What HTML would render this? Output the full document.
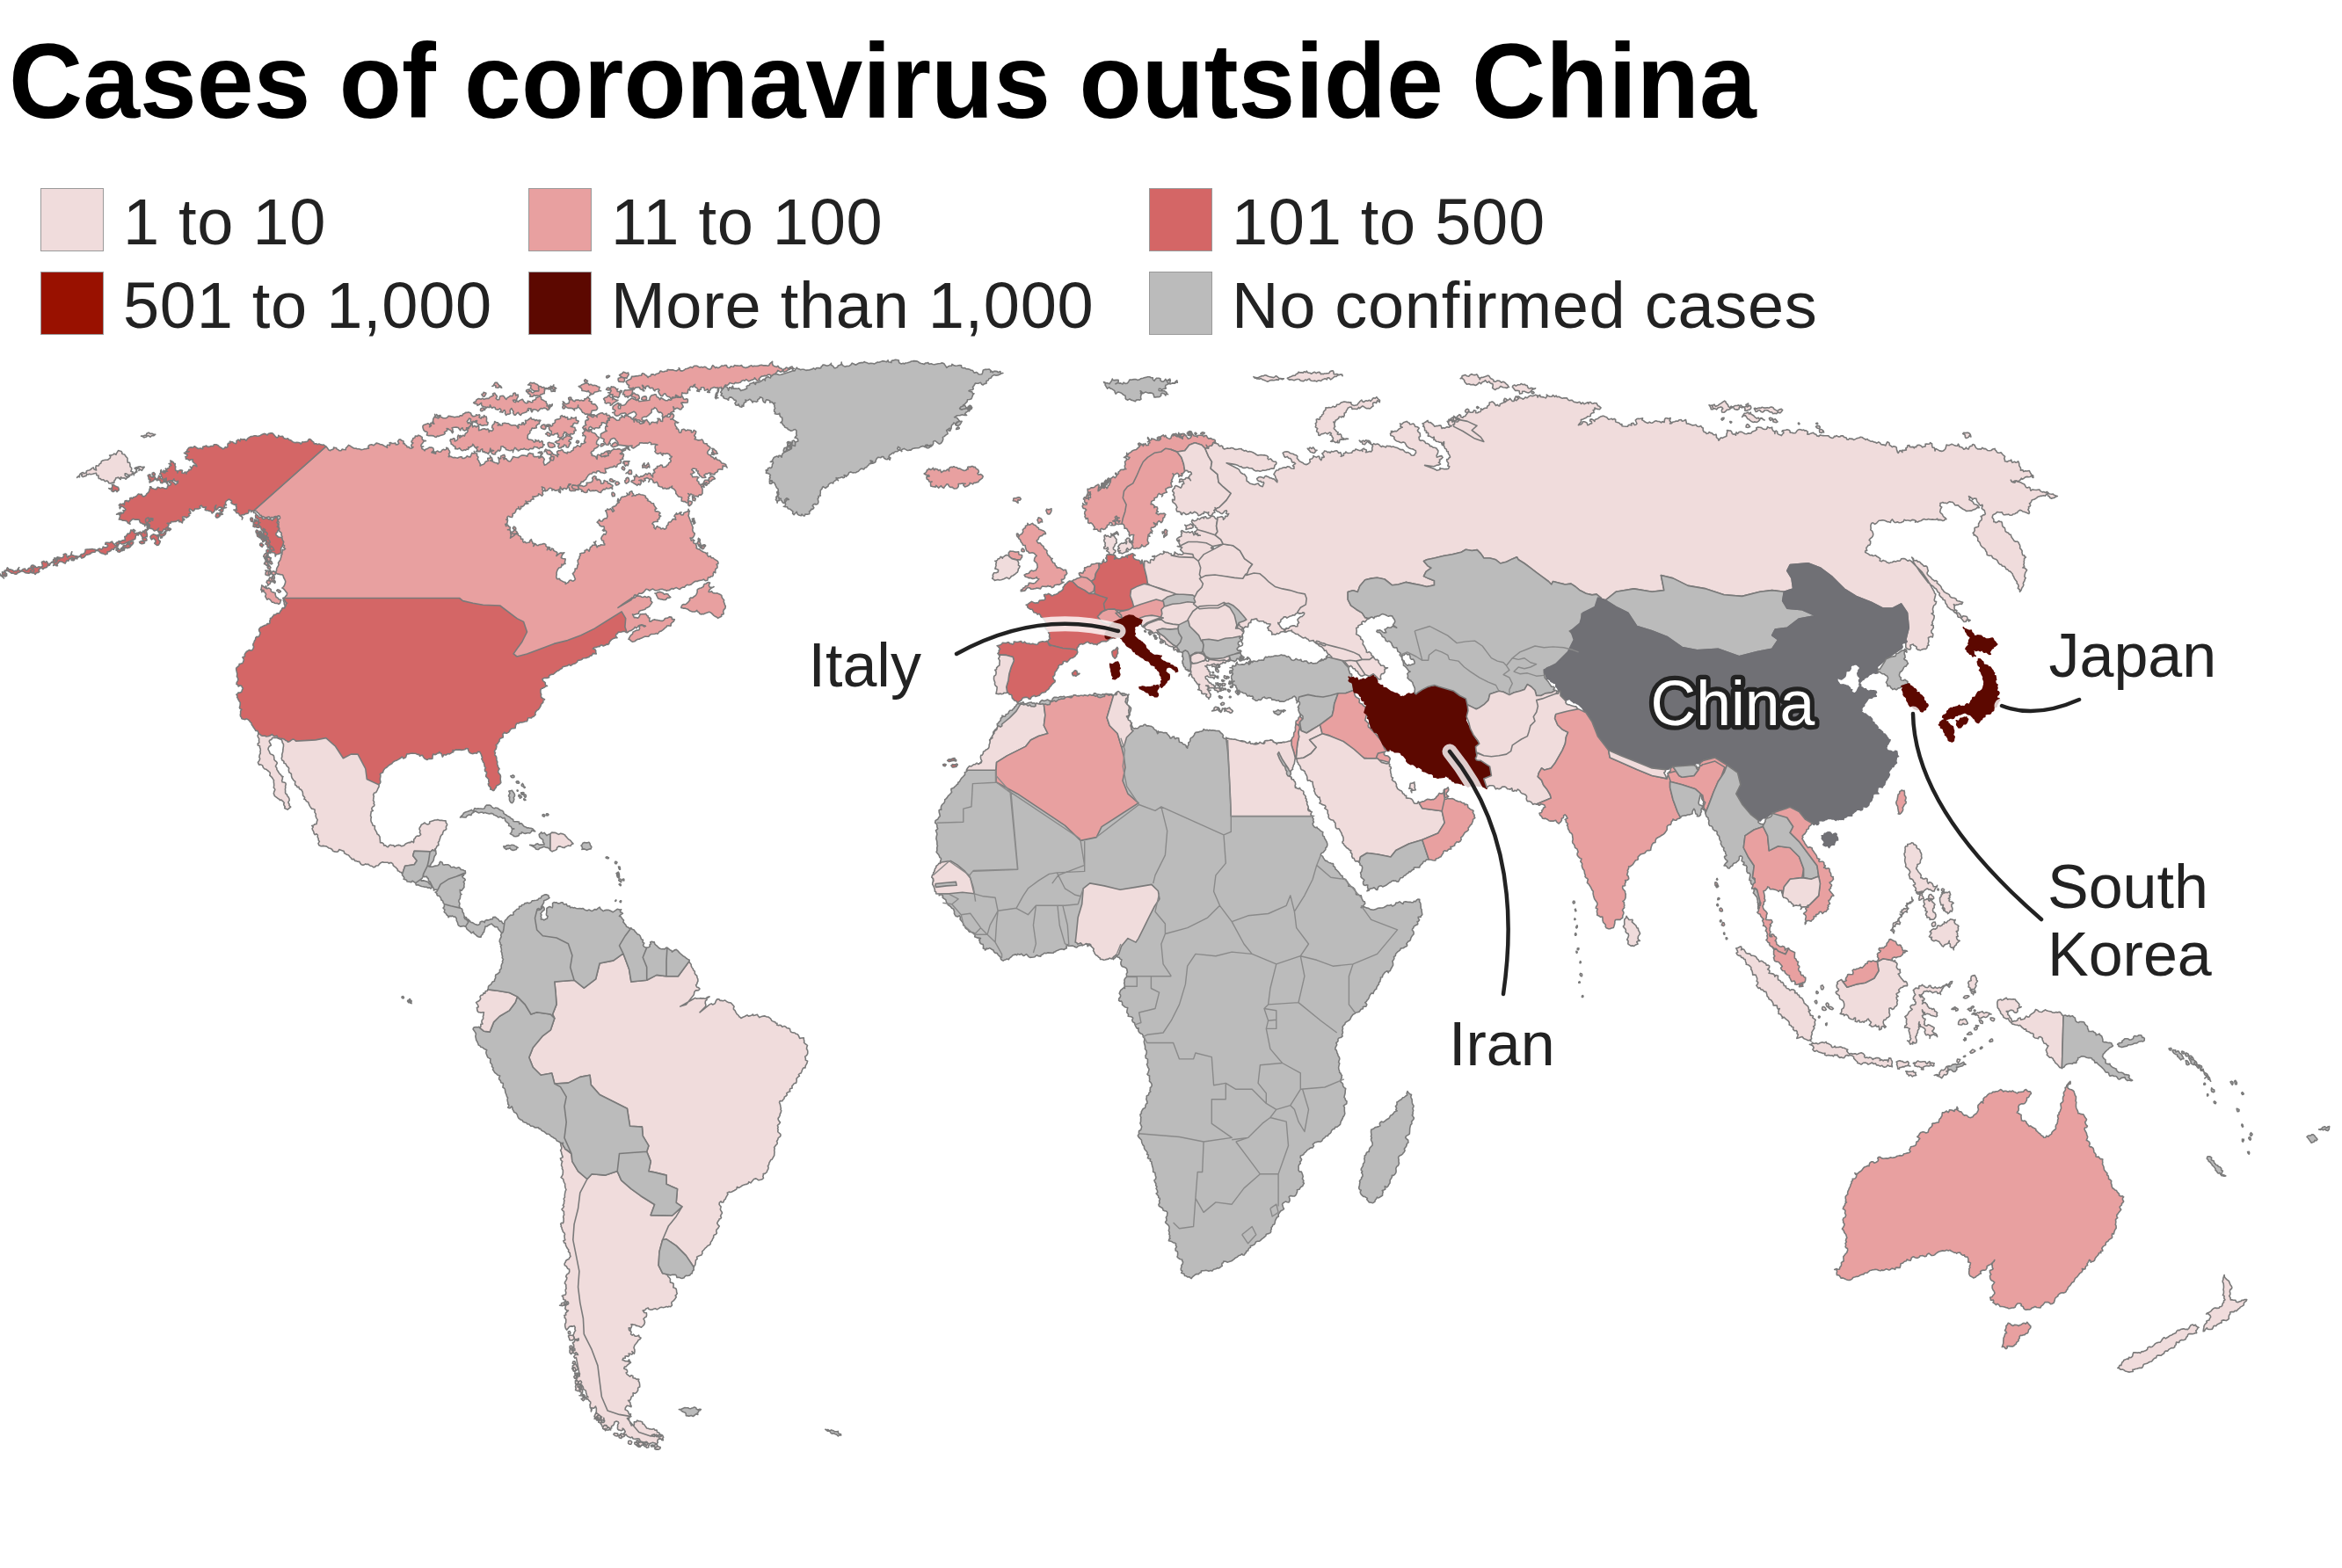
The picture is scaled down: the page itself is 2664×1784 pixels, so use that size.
<!DOCTYPE html>
<html lang="en">
<head>
<meta charset="utf-8">
<title>Cases of coronavirus outside China</title>
<style>
html,body{margin:0;padding:0;background:#fff;}
body{width:2664px;height:1784px;position:relative;overflow:hidden;font-family:"Liberation Sans",Arial,Helvetica,sans-serif;color:#222;}
h1{position:absolute;left:10.2px;top:23px;transform:scaleX(.971);transform-origin:0 0;margin:0;font-size:120px;line-height:138px;font-weight:bold;color:#000;white-space:nowrap;letter-spacing:0;}
.lg{position:absolute;height:72px;line-height:72px;font-size:74px;letter-spacing:.7px;white-space:nowrap;color:#222;}
.lg i{position:absolute;left:0;top:0;width:70px;height:70px;border:1px solid #9a9a9a;display:block;}
.lg span{position:absolute;left:94px;top:3px;}
svg{position:absolute;left:0;top:0;}
svg path{stroke:#7a7a7a;stroke-width:1.6;stroke-linejoin:round;}
.c1{fill:#f0dcdc}.c2{fill:#e8a0a0}.c3{fill:#d46666}.c4{fill:#991100}.c5{fill:#5c0800;stroke:#5c0800 !important}.g{fill:#bbbbbb}.ch{fill:#707075;stroke:#707075 !important}.w{fill:#fff}
.ch+.w{stroke:#707075}
svg path.bd{fill:none;stroke:#8a8a8a;stroke-width:1.4}
svg path.ld{fill:none;stroke:#222;stroke-width:4.5;stroke-linecap:round}
svg path.ldw{fill:none;stroke:#fff;stroke-opacity:.8;stroke-width:17;stroke-linecap:round}
svg text{font-family:"Liberation Sans",Arial,Helvetica,sans-serif;font-size:70px;fill:#222;}
svg text.cn{fill:#fff;stroke:#222;stroke-width:10.5px;paint-order:stroke fill;stroke-linejoin:round;}
</style>
</head>
<body>
<h1>Cases of coronavirus outside China</h1>
<div class="lg" style="left:46px;top:214px"><i style="background:#f0dcdc"></i><span>1 to 10</span></div>
<div class="lg" style="left:601px;top:214px"><i style="background:#e8a0a0"></i><span>11 to 100</span></div>
<div class="lg" style="left:1307px;top:214px"><i style="background:#d46666"></i><span>101 to 500</span></div>
<div class="lg" style="left:46px;top:309px"><i style="background:#991100"></i><span>501 to 1,000</span></div>
<div class="lg" style="left:601px;top:309px"><i style="background:#5c0800"></i><span>More than 1,000</span></div>
<div class="lg" style="left:1307px;top:309px"><i style="background:#bbbbbb"></i><span>No confirmed cases</span></div>
<svg width="2664" height="1784" viewBox="0 0 2664 1784">
<path class="g" d="M819.6,446.3 820.5,444.8 821.6,443.2 820.2,442.2 822.1,440.7 823.5,440.1 825.4,439.8 826.9,440.3 828.1,442.3 828.6,444.2 829.1,442.7 829.7,440.7 831.5,441.1 832.3,442.3 832.6,440.5 833.5,439.2 833.8,440.4 834.1,442.2 835.6,442 837.2,442.1 838.9,442.3 840.5,441.8 841.9,443.4 842.8,444.6 844.6,443.8 846,443.6 847.2,443 849.6,441.9 849.2,439.4 850.9,438.6 852.5,438.3 853.1,436.5 855,436 856.4,435.5 857.8,434.8 858.1,436.5 859.3,437.5 859.8,436.3 859.7,435 862.2,435.1 864.4,434.4 866.6,433.2 868.2,431.5 869.5,431.6 870.4,433.1 870.4,430.6 871.8,429.5 874,428.6 874.9,429.5 876.4,429.9 876.7,428.7 877.9,427.7 878,426.1 880.1,424.8 881.9,425.8 884.3,425.7 886.1,426.5 888.3,426.3 900.3,422.4 901.8,421.7 904,421.9 904.9,420 906.3,418.2 907.4,419.4 909.3,419.9 910.4,420.7 912.2,420.3 913.9,420.2 915.1,420.6 916.8,421.4 918.1,421.1 920.6,421 921.9,420.4 923.3,420.2 925.5,418.9 927.5,420.3 928.3,418.9 930.2,418.5 932.1,418.9 933.8,418.6 934.2,416.9 935.4,416.3 936.1,415 938.5,415.4 940.8,416.2 943.2,415.4 944.8,414.5 945.4,413.3 945.6,415.5 946.9,415.9 948.1,417.3 949.1,418.7 950.7,418.6 952.6,417.8 953.4,415.9 954.8,415.5 956.7,414.7 957.1,413.6 957.2,412 957.2,413.5 958.4,415.6 960.1,416.6 961.4,417.3 962.7,416.6 964.1,416.5 966,416.4 967.7,415.2 969.3,413.1 971.6,414.2 973.4,415.3 975,414.3 976.9,413.1 979.5,412.6 981.7,412.6 983.1,411.6 984.4,412.2 986,412.6 987.8,413.6 988.9,413.6 990.6,413.3 992.9,413.5 994.4,414.1 996.4,412.9 998.2,412.1 1000,412.2 1001.8,411.6 1003.3,410.9 1005.6,410.9 1007,411.3 1008.4,411.7 1010.1,409.9 1010.5,411.7 1012,412 1013.9,412.6 1014,410.9 1014.9,410 1016.3,410.1 1018.5,409.3 1020.2,409.5 1022.4,410 1022.3,411.5 1023.2,413 1025.3,413.9 1027.3,413.2 1028.5,414 1030.1,413 1032.3,412.8 1034.8,412 1036.8,411 1038.3,410.9 1039.6,410.6 1042,410.9 1043.5,411.1 1044.6,411.7 1045.8,412.8 1047.8,413.5 1049.9,413.9 1051.4,414.4 1052.6,413.1 1053.9,413 1055.7,412.6 1056.9,414.2 1059.2,413.8 1061.1,414.5 1062.9,414.8 1065,414.2 1067.2,413.7 1069.7,413.5 1071.2,412.9 1073.6,413.5 1074.2,414.3 1075.1,415.6 1076.1,417 1076.8,418.4 1078.3,417.1 1080.3,416.2 1082.5,416.1 1082.9,414.3 1084.6,415.5 1086.7,416.2 1089,416 1091.6,415.5 1093.5,415.9 1093.7,417.9 1095.3,418.7 1097.6,418.5 1099.1,419.8 1101.7,419.9 1103.2,420.3 1104.2,421.1 1106.5,421.5 1107.5,423.4 1108.5,424.3 1110.5,423.5 1112.1,424.4 1113,425.7 1114.5,426 1116.8,425.8 1117.7,424 1118,422.2 1118.5,420.9 1120.1,420.4 1121.7,420.4 1123.4,420.3 1125.3,420 1127,421.6 1126.7,423.3 1128.3,422.4 1129.2,423.8 1130.4,422.4 1132.6,422.4 1134.4,422.6 1135.2,423.7 1136.4,423.2 1137.8,422.6 1138.3,424.1 1138.7,425.1 1140.9,424.5 1139.3,424.8 1137.2,426 1135.9,426.6 1134.6,426.9 1132.6,427.1 1130.7,426.6 1128.5,427.9 1127.4,429.9 1125,430.7 1124.1,432.8 1122,433.5 1122.1,436.1 1119.8,436.6 1118.2,437.9 1116.6,437.2 1115.5,435.3 1113.2,436.1 1111,436.3 1109.5,436 1108.3,438 1107.5,439.4 1106.5,440.4 1107.2,442.6 1105.5,443.8 1103.5,443.9 1102,444.8 1103.8,445.6 1105.7,445.7 1106.3,447.6 1108,447.8 1106.9,448.9 1106.4,449.9 1105.6,452.3 1105,453.8 1102.9,454.5 1100.5,454.8 1100,457.1 1098.4,458.6 1097.6,459.8 1095.6,460.9 1095.4,462.6 1095.6,463.7 1093.6,465.1 1091.6,464.3 1093,464.4 1093.8,465.7 1095.1,465.4 1096.4,464.1 1098.3,464.1 1099.9,464.1 1101.6,464 1102.4,465 1102,467.3 1100.2,468.4 1098.8,469.2 1097.4,471.2 1099.6,472.4 1097.5,472.5 1096,472.2 1094.6,471.7 1092.3,472.6 1089.8,472.8 1088,473.1 1086.7,474.2 1085.6,474.7 1087,474.8 1089,475.8 1090,477.2 1091.6,479.2 1090.2,480.6 1088.2,480.2 1087.9,482.1 1086.9,483.1 1086.1,481.5 1084.8,481.1 1083.9,482.8 1082.6,483.7 1082.2,485.5 1082,487.8 1081.1,488.6 1079.6,488.8 1078.1,488.5 1076.6,489.7 1077.7,491.9 1078.1,493.6 1076.4,494.6 1075.1,495.6 1074.1,496.6 1072.4,497.4 1072.8,499.5 1072.2,501.6 1071,503.6 1069.8,504.7 1068.3,505.1 1067,504.2 1065.7,503.1 1063.7,501.5 1061.6,502.2 1061.7,504.6 1060.7,506.7 1058.5,506.6 1056.3,507.9 1054.9,506 1052.6,506.6 1052.3,508.7 1051,508.1 1049.7,507.6 1047.3,508.2 1045.7,509.5 1044.1,509.8 1042.6,509.7 1040.3,509.9 1037.8,510.6 1036.1,512.1 1034.8,511.9 1032.9,512.6 1031.7,512.2 1030.5,511.6 1028.4,510.4 1026.8,511.1 1025.2,512.2 1025.8,513.6 1024.7,512.6 1023.3,512.1 1023.8,509.7 1021.7,508.3 1020.7,510.5 1022.5,512.3 1020.8,513.6 1018.5,513.8 1017.1,514.7 1016.5,515.8 1015.3,515.2 1013.9,516.6 1012.5,517.3 1011.7,518 1011,519.8 1012.9,520.9 1012.1,523.3 1010.5,521.4 1009.2,522.8 1007.7,522.5 1005.7,521.3 1004.9,519.6 1003,519.6 1001.7,520.8 1000.5,520.5 999,520.2 997.3,521.6 996.3,523.6 995.9,525.5 994.5,526.5 993.1,527.1 991.8,527.2 990.5,527.2 991.2,525.6 990,524 991.4,524.3 992.8,525 991.9,526.6 990.7,527.6 989.2,527.3 988.3,528.9 987,530 985.5,531.7 983.8,532.3 982.6,534 981.2,533.4 979.3,533.4 978,534.5 976.4,536.2 974.4,537.1 973.4,537.8 971.7,537.8 970.3,537.9 969,537.5 967.6,536.9 965.8,537.7 965,539.3 964.7,540.4 963.6,541 962.5,542.2 961.8,541 960.1,540.5 960.8,541.8 960.5,543.2 958.9,543.7 957.7,542.7 955.4,543.7 952.9,543.9 952.3,545.6 953.5,546.7 952.4,545.1 951.1,543.5 951.7,545.7 949.7,547 947.9,548.5 947.8,550 946.4,549.5 945.1,549.4 943.9,550.1 942.4,551.3 941.9,553.4 940.6,553.9 939.1,555.4 937.5,554.5 936.4,553.6 935.5,554.6 935,556.1 933.2,558 933.3,559.7 933.2,561.4 932.8,562.7 933.4,564 931,564.5 931.3,566.3 930.2,567.4 930.6,569.1 930.9,570.9 930.7,572.1 929.8,573.6 928.1,574.1 927.2,573.4 925.4,573.8 924.2,575.4 925.1,576.4 925.8,577.7 924.6,579.4 922.7,579.3 922.4,580.8 920.5,581.9 920.9,583.2 920.7,584.7 918.2,585.3 915.9,585.1 915.2,587 913.7,586.8 912,585 911.3,586.8 909.3,586.3 908.1,585.8 906.9,584.6 906.3,582.3 904.7,584 903.1,585.6 901.6,584.1 901.9,581.9 900.6,580.8 898.8,579.3 896.3,578.8 895.5,576.7 893.6,576.7 891.3,576.3 892.9,576 893.4,574.5 893.5,573.2 893.1,571.6 893.7,570.4 894.6,569.3 895.5,568.1 897.3,568.4 896.1,567.2 894.8,566.9 893.7,567.7 892.7,568.8 892.8,571.1 891.8,572.5 890.2,571.7 889.4,570.1 888.2,569.2 888.3,567.4 886.9,567.4 885.6,566.8 883.1,566.8 883.4,565.2 884.8,564 885.9,562.2 884.4,560.7 885.3,558.4 885.1,556.3 883.4,554.9 882.5,553 882,551.8 880.9,549.4 878.9,548.6 877.7,547.5 875.6,546.3 875.3,545.1 876.1,543.4 875.5,541.9 876.4,540.5 875.4,539.5 873.9,538.6 871.4,538.1 871.7,536.6 871.2,534.9 873.3,535.1 873.4,533 875.1,532.1 876.7,532.6 878.1,531.3 878.3,529.9 878.5,528.2 879.5,526.9 879.3,525.4 877.9,524.6 876.4,525.5 878.8,525.2 878.5,523.7 879.6,522 880.3,520.4 882.4,519.6 883.8,519 885.4,520.1 885.9,518.4 887.5,518.4 889.2,520.1 889.5,517.6 890.1,516.3 891.3,515.1 900.3,510.6 900.5,508.7 900.3,507.4 901.7,506.1 903,504.6 904.8,503.1 906.1,502.5 907.8,502 907.5,499.6 905.9,498.3 904.1,498.1 905.1,496.4 906.3,495.6 905.7,493.6 905.9,491.4 905.8,489.7 904.3,488.5 903,488.9 901.8,489.7 899.8,490.2 898,489.2 896.2,488.6 895.8,487.3 894.3,486.7 892.6,486.1 892.2,484.7 890.6,483.3 889.6,481.2 887.8,480.8 889.6,479.5 889.8,477.7 889.7,475.3 888.6,474.7 887.4,473.8 886.9,472 886.8,470.2 885.2,471.3 883.6,471.2 881.3,470.7 881.9,469.1 880.6,468.1 880.7,465.8 881.7,464.6 880.9,462.8 881,461.1 879.8,459.2 881.7,458.5 879.5,458.9 878,457.4 875.7,457.9 875.8,455.9 873.4,455.1 871.9,454.8 870.9,456.2 870.4,458.3 868.5,457.3 867.5,455 867.7,453.4 866.4,452.3 864.4,451.9 864.1,453.4 862.8,454 861.7,455 861.9,456.4 860.5,457.2 858.4,456.8 856.7,456.6 856.1,458 855.4,456.9 854.5,455.5 852.8,454.2 851.4,455.2 849.8,455.7 847.8,455.1 848.7,457.2 846.5,458.3 845.8,460.6 845.9,462.2 844.1,461.2 843.9,463.1 841.8,462.8 840.8,461.7 840.1,459.7 839.4,461.2 837,460.9 835.9,458.7 837.5,456.8 836.9,455.4 835.3,455.3 834.2,453.8 832.2,452.1 830.3,451.9 828.8,453.4 828.6,455.3 827.2,454.1 824.8,453.4 823.1,452.7 822.6,450.8 821.2,450.4 820,449.7 821.3,447.7Z"/>
<path class="c2" d="M1051.2,539 1053,537.8 1054,536.6 1054.4,534.8 1055.6,534.7 1056.5,533.2 1058.7,534.5 1060.2,533.6 1061.5,532.4 1061.9,534 1062.9,534.8 1063.8,533.2 1066.2,533.9 1067.6,535.4 1069.5,534.4 1070.1,536.1 1070.7,537.5 1072.6,536.3 1073.7,535.4 1075.9,535.7 1077.5,534.1 1078.8,534.4 1079.6,536 1079.3,533.5 1080.6,531.7 1082.2,531.2 1083.6,531.7 1084.9,530.7 1086.2,531.5 1088.4,531.7 1089.8,533.1 1091.6,533 1093.2,533.9 1094.4,534.6 1096.6,535.4 1098.7,535.1 1099.8,533.9 1101.3,533.7 1100.6,531.6 1102.2,531.1 1103.5,531.5 1105.1,530.5 1106.7,530.6 1107.5,531.6 1109.2,531.3 1110.3,533.2 1111.7,533.9 1112.5,534.5 1113.1,535.4 1113.4,537.1 1112,538.6 1112.7,539.9 1114,540 1115.3,539.5 1117,540.5 1118.2,542 1117.5,543.8 1115.9,545.1 1114,546.5 1112.8,548.4 1110.5,548.9 1109.2,549.4 1107.8,549.3 1106.5,550.9 1104.6,549.9 1103.2,549.4 1102.8,551.3 1101.1,552.5 1099.7,553.3 1097.6,553.9 1096.8,553.1 1095.8,551.9 1096.8,550.4 1098.2,550.2 1096.6,550.2 1094.9,550 1092.5,550.5 1090.2,550.5 1090.3,552.9 1089.6,554.5 1088,555.8 1085.6,556 1084.5,555.5 1083.1,554.2 1081.7,554.4 1080.3,554 1079.1,552.6 1078.5,551 1077,550.8 1075.8,552.3 1074.3,554 1073.6,555.4 1071.6,554.2 1070.5,552.6 1068.8,554.1 1067.7,555.1 1066.1,553.7 1064.7,552.4 1064.2,554.1 1062.1,553.7 1060.7,553.6 1058.7,553 1058.6,551.3 1058.5,550 1058.7,548.4 1060.2,548 1058.3,548.3 1056.9,548 1056.2,546 1054.2,545 1054,543.6 1053.9,542.4 1055.9,542.2 1057.2,542 1056.4,540.5 1054.8,540.8 1052.9,540ZM370.8,508 372.4,509.6 373.6,511.7 375.7,512.7 376.6,511.8 378.5,511.4 379.6,510.4 379.5,509 381.3,509.5 382.6,509.5 383,510.9 384.9,511.8 386.1,512.8 388.1,512.6 389.3,511.1 391,511.5 393.3,511.7 393.3,510 395,508.3 396.5,506.4 398.7,507.5 399.9,508.6 401.1,509.1 402,509.8 403.5,510.3 405.2,510.1 406.2,510.7 408.1,510.7 409.4,511 410.9,511.8 413.3,511.2 414.6,510.8 416.5,510.8 418.1,510.1 419.6,510.1 418.9,507.6 420.3,506.3 422.7,505.8 424.9,506.8 426.7,505.4 428.1,504.1 430,504.5 431.3,504.9 432.3,505.7 434.2,505.7 435.7,506.5 437.6,507.6 438.8,508.2 440.6,509.4 440,508.2 440.6,506.2 442.2,506.2 443.2,506.8 443.8,505.5 443.1,503.8 444.5,503.5 445.6,504.4 447.7,504.5 449.8,504.1 450.4,505.9 452.2,505.8 453.8,504.3 452.5,502.1 453.9,500.1 455.7,500 456.4,501 457.8,501.5 459,501.9 459,503.1 458.7,504.6 460.1,504.6 460.9,506.1 462.5,507.1 463,508.6 465.3,508.5 465.8,509.8 467.6,510.3 469.1,509.6 470.1,508.5 468.3,508.7 467.8,506.7 468.8,504.9 469.9,504 468,502.9 468.2,501.7 469.4,500.5 469.7,498.8 471.9,498 472.4,496 474.7,496.4 476,495.1 477.9,496 479,496.7 480.2,497.4 480.1,499 480.5,500.2 481.9,501 484.4,501.6 482.9,501.8 481.9,502.4 480.6,504.3 479.1,506 478.9,507.6 480,508.4 481.7,508 479.5,508 480,510.5 481.9,511.5 483,512.8 484,511.3 486.2,510.6 488.2,509 490.8,509.1 492.6,509.7 493.2,511.3 493.2,513.2 494.2,514.1 492,513.6 490.9,514.8 493.3,515.4 495.6,516.2 495.6,514.1 497.8,513 499.3,514.2 500.7,514.2 501.8,513.7 502.8,512.1 504.5,511.2 506.3,511.9 507.9,511.1 507.7,509.2 509.4,509.9 510.6,512.2 511.4,513.2 511.7,515.1 510.5,516.2 511.1,517.8 510.2,519.6 512.6,519.2 514.1,520 515.6,520.7 516.7,520.4 518.8,520.8 520.7,521.1 522.1,520.3 523.3,519.9 525.3,519.7 526,521.5 528.2,521.4 530.1,520.3 531.3,518.8 532.7,519.6 535,519.9 536,517.5 536.9,515.4 539.1,516.1 540,514.8 539.3,513.4 540.4,515.5 542.7,516.3 542.4,518.2 544,520 543.6,521.4 543.1,522.5 544.6,524.3 545.1,525.9 546.3,527.7 546.1,530 547.7,529 550.1,528.3 551.1,527.3 552.1,525.5 553.6,524.8 555.5,524.3 554.8,522.9 554.8,521.3 557.2,521.3 558.2,520.1 557.3,518.3 558.1,519.9 559.6,521.1 559.8,522.5 560.3,523.6 558.8,523.6 557.7,524.2 559.4,524.5 560.8,525.3 562.2,526 563.3,526.5 565.3,526.8 566.3,527.9 567.8,526.2 567.6,523.8 567.5,522.3 566.6,520.4 568.1,521.9 569.7,521.7 569.5,520.7 569.7,519 571.5,518.1 573.6,517.4 574.5,519.4 574,521 571.9,520.5 573,521.2 573.1,522.8 574.2,521.9 575.7,521.8 576.7,523.1 577.8,524.2 579.3,525 580.8,524.7 582,522.5 583,521.2 583.5,519.6 584.7,519.7 586.3,520.2 588.2,520.5 589.7,520.6 590.7,519.6 592.5,518.6 594,518 595.4,518.1 597.3,518.2 598.8,518.7 599.8,519.2 600.3,517.5 601,516.5 602.7,515.4 604.7,516.3 606.5,516.4 606.5,518.2 607.4,519.6 609,519.6 610.4,519.8 612.6,519.3 613.1,521.3 615.2,520.3 615.7,517.8 617.2,515.9 616.1,513.9 614.3,515.5 612.1,515.3 614.2,514 615.4,516.3 615.2,518.2 614.3,519.3 616.5,519.5 617.9,520.6 619.3,522.5 618.6,524.3 618.3,526.2 618.9,527.6 619.3,529.1 620.7,528.8 622,527.9 623.4,526.7 625.3,525.5 626.1,523.3 625.2,521.3 626.4,520.7 626.9,519 626,516.8 627.7,515.9 629.8,517 631.5,517.6 632.9,517.9 634.3,519.6 633.8,517.9 635.6,517.3 633.8,516 633.6,513.9 635.4,512.8 637.2,512.7 638.6,512.1 639.7,511.8 640.5,513.3 641.3,514.4 643.2,515.1 645.2,516 645.4,514.3 647.5,514.5 648.8,514.4 650.1,512.9 652,512.2 652.2,510.6 652.8,509 654.4,509 655.9,507.9 656.8,506.6 658.2,507.4 660,508.3 660.9,506.9 661.2,504.6 662.6,505.1 664.3,504.3 666.2,503.2 664.5,502.4 665,500.8 665.7,498.6 666.2,496.9 665.2,495.6 662.7,495.7 663.6,494.5 662.7,492.7 664.5,491.4 665.4,489.5 667.2,489.7 668.8,490.6 670.5,490.9 671.2,488.7 673.3,488.4 672.5,490 672.7,491.3 673.9,492.2 676.1,492.7 677.4,493.7 678.1,494.5 679,496 679.8,496.8 681.4,497.6 680.9,499.6 679.9,500.4 679.1,501.6 678.5,503.5 678.6,505.3 680.3,505.6 681.1,506.7 680,508.4 678.5,509.5 676.1,510.6 675.4,512.6 673.1,513.7 672.2,515.4 673.5,516.7 673.1,518.1 675.3,518.6 677.5,519.4 678.5,521.3 679.1,522.5 679.4,520.2 679.2,518.5 680.1,517.2 682.5,517.7 683.8,519.1 686,519 687.9,519.7 689.7,518.8 691.1,516.6 692.1,515.9 693.8,514.8 695.2,513 697.2,511.6 698.1,510.9 699.8,511.2 701.7,511.2 703,510.6 704.8,510.9 706.6,512 708.9,513.2 708.7,511.6 710.3,510.3 712.5,509.9 712,507.6 713.2,508.6 715,508.9 715.2,510.8 716.5,512.1 715.1,511.6 714.1,510.6 712.7,509.2 711.7,510.9 711.5,512.1 709.2,513.1 708.2,511 707.4,512.9 707.8,514.9 706.7,515.2 705.3,516.2 707.3,517 708.5,516 709.5,517.4 709,519.6 708.1,521 708.8,522.2 706.8,522.8 705.4,523.4 706.7,525.2 706,527 703.9,527.7 702.1,528.9 701.7,530.8 700.4,531.5 698.9,530 697,531.5 694.9,531.6 692.5,532.4 690.5,533.3 688.1,533 688.6,534.2 688.7,535.9 689.6,537.5 687.5,538.5 685,537.7 683.2,537.6 682.2,536.7 680.9,535.7 679.1,536 678.4,538 676,537.4 674.4,537.4 673.1,539 671,539.2 669,540.8 668.1,542.5 667.2,543.5 666.6,545.3 664.6,546.6 663.2,548.2 661.2,548 660.6,550 659.1,551.6 657.9,552.9 658,554.2 656.2,555.8 655.3,557 654.1,558.5 651.5,558.3 649.4,558.6 647.9,557.7 647.6,555.6 646.8,554.5 646.3,553.1 647.1,550.8 649.2,550.9 647.7,552.1 646,552.9 645.6,554.7 644.3,556.4 642.3,555.6 640.4,555.8 640.2,557.4 638.3,556.3 638.1,555.2 637.3,553.9 637.2,555.5 636.3,557 637.5,558.5 637.4,560.7 635.5,559.3 635.8,556.9 633.8,557.9 631.3,558.1 629.7,556.7 627.9,558 627.9,555.9 626.7,555.5 625.3,555.4 623.9,556.3 622.8,557.9 620.4,558.8 619.9,557.3 619.5,555.4 618.3,554.7 616.3,553.9 617.2,555.1 616.7,557.2 618.1,558.1 619.3,558.4 617.7,558.8 616.9,560.7 617.7,562.5 616.4,564.2 614.4,562.7 612.6,561.8 612.3,563.7 610.4,564.4 608.7,565.1 607.5,565 605.9,565.1 606.6,566.8 607.2,567.9 605.7,567.9 604.1,568.7 603.5,570.5 601.4,570.4 599.5,570.9 599.3,572.4 598.7,571.4 598,570 598.7,572 601,573 599,573.2 597,573 596.5,574.4 595.7,575.4 594.4,576.4 592.4,576.3 592.7,578.2 591.3,579.6 589.9,578.2 589.7,576.5 590,578.4 587.9,579 586.8,580.5 586.5,582.3 584.9,584.1 583.2,584.6 583.2,586.4 582.5,588.5 580.5,588.3 578.3,587.2 576.8,588.5 577.4,590.2 575.8,591.2 577.6,591.9 577.1,594 576.6,596.2 574.8,596.3 575.6,598.6 577.5,597.3 578.4,598.7 580.3,599.9 580,602.3 577.5,602.8 579.7,602.4 580.3,603.5 581,605.2 583,605.2 584.5,604.1 584.5,602 583.2,600.9 584.8,599.1 586.5,600.3 586.8,602 585.4,603.1 587.2,604.3 588.3,605.8 587.5,607 585.6,607.1 585,609.2 580.5,612.2 581.1,609.8 581.2,608.1 580.6,606.1 581.6,607.4 583.6,607.1 585.7,608 587.1,607.7 589.2,607 589.5,609.1 591.2,609.9 592.4,610.7 592.6,613.1 594.8,613.4 594.7,615.8 595.5,617.1 597,616.2 598.3,617.6 600.8,617.3 602.5,616.9 602.8,615.2 604.4,613.7 604.7,615.5 605.6,616.6 606.1,618.5 607.8,618.4 607.4,620.2 606.7,621.4 608.1,619.8 608.9,618.7 610.8,620.5 612.1,620.6 613.4,619.7 615.3,619.4 617.2,618.9 618.9,618.5 620.8,619.4 621,621.3 622.9,622.6 623,624 622.3,625.7 623.6,623.9 624,622.2 625.7,623.1 624.8,625.1 626.5,626.2 627.7,624 629.5,624.8 629.6,626.3 631.3,627.2 632.9,627.9 633.9,628.8 633.5,631 632.8,632.5 634.6,631.1 636.3,629.7 637.5,629 639.2,629.1 640.8,629.9 641.8,628.7 639.3,629.4 639.8,631.1 639.1,632.4 638.3,634.5 640,635.5 641.9,635.8 643.2,636.1 642.7,638.6 642.4,639.9 643.1,641.5 641.3,641.5 640.5,642.9 638.8,642.1 639,643.6 638.1,645.4 635.8,646.1 634.3,648.1 633.6,649.7 633,652.1 633.2,653.8 632.8,655.6 633,657.5 633.8,658.7 636.3,658.4 637.3,660 639.4,661.1 641,662 643.1,662.6 643.2,664.5 644.6,663.6 646.5,662.5 647.6,660.6 649.2,660 650.6,660.8 652,661.2 653.5,660.2 654.4,658.9 653.4,656.7 653.1,655.2 652.2,654.1 651.4,652.7 652.8,651.4 654.1,649.4 654.1,647.1 656.1,647 656.7,645.1 656.8,643.1 657.8,642.1 657.4,639.6 657.1,637.8 658.2,636.1 659,635 659.2,632.9 660.2,632 659.7,630.1 662,629.2 663.6,629.2 665.3,628.3 665.1,626.3 666.6,626 667.4,625 669.1,625.9 670.1,627.2 671,624.8 671.4,622.8 673.2,621.8 673.8,620.3 676,620.2 677.9,619.7 678.7,621.7 677.9,620.3 677.5,619.2 676.4,617.8 675.4,617 677.3,616.9 677.8,615.7 676.8,617.5 676.5,618.8 678.4,620.4 679.1,622.7 680.7,620.9 682.4,621 683.1,619.9 685.3,620 687.8,620 687.7,618.7 686.5,617.6 686.6,615.2 684.8,615 683.8,612.6 684.7,610.4 685.8,609 686.8,607.6 688.7,608.3 689.6,606.2 689.7,604.7 688.3,603.3 686.8,604.2 685.4,603.4 687.3,601.9 687.3,599.9 686.6,598.8 684.3,599 682.4,598 681.7,596.8 680.7,595.2 679.1,594.3 680.8,592.5 681.8,591.2 682.9,593 685.2,592.9 686.3,591 688.1,589.8 690.1,589.7 690.9,587.5 690.4,585 690,583.2 688.7,581 690.2,580.5 690.8,579 692.8,579.9 694.6,578.7 695.9,580.4 697,582.3 698.6,581.1 697.4,579.5 696.2,577.5 697.7,576.4 699,576.1 700.9,575 701.5,573.4 703,572.4 704.3,571.6 702.4,571 702.5,569.4 703,567.4 703.8,569.1 703.8,570.4 704.9,569.5 705.8,568 706.1,566.7 707.4,565.4 709.7,565.1 712,564.4 714,563.3 713,561 714,561.9 715.6,563 716.4,561.9 715.8,560.3 717.4,559.2 718.8,558.9 719.4,561.1 720.6,562.1 720.8,563.6 718.9,564.4 720.8,563.5 722.9,564.1 723.9,562.9 725.6,562.8 726.8,562 728.6,562.7 730.2,563 732.5,563.5 734.4,564.4 734.3,566.2 735.8,567 737.1,568.3 736.5,569.6 738.9,570.4 740.3,571.4 741,572.5 743.5,572.8 743.8,574.5 744.9,576.3 745.8,577.4 746.9,578.7 745.1,579.5 745.3,581.6 747,581.9 749.4,582.3 751,583.9 749.9,584.9 749.7,586.3 751.7,587.2 749.9,588.7 749.9,590.5 747.9,591.3 748.2,593.5 745.6,593.5 743.4,594.1 741.9,595.8 743.4,597.1 744.2,598.4 743.9,600.2 745.6,602 746.1,600.2 747.6,598.6 748.9,599.8 750.8,600.3 752.1,601.9 754,601 756.2,602.2 757.9,600.9 758,599.3 758.7,597.7 759.8,597.3 760.2,595 761,594 762.8,593.9 764.2,592.2 765.4,590.6 767.3,590.6 768.8,591.3 768.2,589.8 768.4,588.4 766.9,587.4 767.7,585.8 768.8,585 769.5,583.6 770,585.3 772.1,584.5 773.1,583.3 775.1,582.7 773.8,584.6 775.2,586 777.3,585.6 777.7,583.8 779.8,582.6 781.3,582.2 783,581.3 783.1,579.3 783.4,580.6 784.4,581.6 783.6,583.2 783.7,584.4 783,586.7 783.7,588.3 788.2,600.3 787.7,602.7 788.2,604.6 789.2,606.2 790.3,607 789.7,609.2 789.2,610.1 788.3,611.5 787.1,612.2 785,612 785.9,613.4 786.3,615.1 788.2,613.8 790,615.1 788.5,616.1 789.1,618.1 791,618.6 792.7,618.2 791.5,619.6 792.5,621.8 792.1,623.5 793.6,624.5 795.5,624.9 796.4,625.6 797.2,626.4 798.7,627.2 800.4,628.2 801.9,628.5 803.3,629.8 804.8,629 804.5,631.5 805.9,633.4 808.1,632.6 809.1,634.6 811.2,634.8 812.2,635.8 814.2,637.1 816.2,638.4 816.9,639.7 816.9,641.6 815.1,642.1 815.9,643.6 816,645.9 814,647.4 813.6,649.6 813.9,651.7 812,650.7 811.2,652.6 811.4,654 810.6,655.6 808.5,655.7 807.7,657 805.6,656.7 805.1,658.4 804.7,660.3 802.3,660.7 800.4,659.1 798.7,660 796.9,660.3 795,660.6 793.2,661.4 791.2,661.2 789.8,662 788.6,662.9 786.7,664.5 785.5,665.3 783.5,665.8 781.5,665.3 779.8,666.6 778.5,668.2 777,668 774.8,669 773.4,670.4 771.8,669.9 770.2,669.1 769,668.6 767.7,669.3 765.7,670.2 764.4,669.5 762.8,670.5 761.2,671.7 759.8,671.6 758.3,672.2 756.7,671.2 755.2,671.1 753.2,670.3 750.8,670.5 749.1,671.2 746.9,671.7 745.3,671.7 743.9,670.9 742.7,670.1 740.9,670.7 738.9,672 737,670.8 735,670.2 733.6,672 731.9,674 729.8,675.3 728.4,675.3 726.9,675 726.3,675.8 725.1,677 723.5,677.5 722.2,676.6 721.2,678 720.3,679.8 718.8,680 718,681 709,686.9 703,691.4 718,682.5 718.8,681.2 720.5,680.2 722,680.2 722.9,679.1 724.5,678 726.4,678.1 728.7,678.4 729.8,679.3 731.4,679.5 733.8,678.5 734.6,679.3 736.1,679.7 737.2,678.8 738.9,679.3 740.4,681 740.2,683.5 741.9,685.4 741.1,686.7 740,688 739.1,689.7 737.8,690.6 735.9,691.4 734.4,692.3 734,693.3 732.3,693.7 730.4,694.3 728.2,694.8 726.9,695.9 726.4,698.3 724.8,698.4 723.1,698.7 721.3,699.4 719.5,698.9 720.5,700.9 721.6,702.8 723.2,702.4 725.4,703.3 726.9,701.9 727.5,700.6 728.3,698.8 730.1,698.7 731.6,698.5 733,698.8 734.3,698.3 735.1,699 735.9,700.4 737.2,700.9 737.3,702.7 739.1,703.1 738.6,705.6 739.1,707.2 740.9,706.9 741.9,705.8 743.2,705.3 744.9,704.9 746.8,705.4 748.9,705.7 750.8,706.1 752.4,706.4 753.8,706.4 755.6,705.1 756.2,703.8 757.9,703.2 759.5,703.1 761.3,701.9 763.8,702.1 764.3,703.1 764.4,704.7 765.7,704.5 767.3,704.9 766.3,707 764.6,708.2 763.1,709.7 763.3,711.1 762.8,712.3 760.5,711.8 758.7,712 757.8,713.6 756.5,714.4 755.6,715.3 753.8,716.8 752,718.1 750.2,718.5 749.3,719.7 747.9,721.2 746.7,720.6 744.9,721.3 742.6,721.5 740.9,721.5 739.3,722.4 737.9,724.1 735.9,724.3 734,724 731.8,724.9 729.8,726.1 728.3,726.5 726.9,727.3 725.2,727.4 723.4,728.5 721.7,729.8 719.5,730.3 717.4,728.9 716.3,727.6 715,727.3 715.8,725.7 717,723.6 718,722.4 719.5,721.3 720.1,719.1 721.6,718.6 722.4,717.8 724.6,717.1 726.9,716.8 727.7,714.8 726.9,712.8 728.4,711.6 729.8,711.3 731,711.7 732.9,713 734.4,712.3 732.2,711.6 729.9,710.8 728,711.2 726.5,711.7 725.7,712.8 723.8,714.7 722.3,713.4 721,715.3 719.4,716.4 718,717.4 716.6,717.6 715.3,718.4 713.5,719.8 712.1,719.4 711.5,717.9 710.2,716.3 709.5,714 707.5,713.8 703,718.3 649.2,743.7 595.4,773.6 559.6,758.7 499.8,728.8 440,704.9 324.7,695.9 323.7,693.6 324.4,691.8 324.4,690.3 324.2,689.1 323.3,687.3 323.1,684.8 322.4,683.3 322.4,681.6 322,680.5 323.8,679.9 324.9,678.3 326.2,677.1 326.6,674.8 324.9,672.9 323.9,671.4 322.5,669.9 320.9,669 322.6,667.5 323.4,666.1 323.8,665.1 324.5,663.3 324.7,661.3 323.7,659 322.6,657 322.2,655.2 321.4,654 319,653.6 316.6,653.1 315.5,653 314,652 313.8,650.5 314.7,649.1 314.5,647.8 315.1,645.9 316.1,644.5 317,642.4 316.5,640.5 317.5,638.9 318.3,637.8 319,636.3 319.4,634.8 319.9,633.5 319.9,631.5 320.9,630.6 320.8,629 321.1,627.7 321.2,625.4 323,625.7 324.6,624.4 322.6,622.8 323.6,621 321.8,619.6 320.9,617.9 319.8,615.8 320,614.5 320.2,612.6 321,610.7 319.9,608.7 320.3,607.1 319.7,605.9 318.4,605 317.4,603.7 317.7,601.2 316.9,599.9 316.9,597.9 315.3,596.3 316.6,595.8 317.2,594.2 316.2,592.8 316.5,591 318.6,589.6 318.2,587.5 316.9,586.8 315,587.8 313.3,587.6 311.8,588 310.6,589.1 309.2,588.4 307.4,590.2 306.8,588.4 305.4,588.1 303.1,588.8 301.5,588.8 300.4,588.3 298.8,587.6 297.8,588.3 297.2,586.3 295.6,586.2 294.5,584.3 292.6,583.1 291.8,581.5 290.3,581.4 288.2,581.4ZM297.8,665.9 299.6,667.1 301.2,668.7 302.5,666.6 303.2,668.2 302.6,669.4 304,669.7 305.5,669 306.7,669.5 308.2,670.7 308.4,672.9 309.4,673.4 311.2,673.9 313.2,674.8 313.1,676.2 313.6,677.7 314.3,679.6 315.9,680.3 317.3,682 319.7,682.5 318.9,684.7 318.6,686.1 317,687.4 315.4,686.3 314,686.5 312.6,686.2 311,685.3 309.4,685.1 308.1,683.2 307.1,682.1 305.5,681.1 303.7,682.2 302.8,680.3 301.7,678.6 302.6,676.2 301.6,674.4 299.8,673.2 300.1,671.6 297.9,671.2 297.8,673.7 298.9,671.7 296.7,670.9 297.1,669.8 297.6,668ZM774.8,691.4 775.1,689.9 776.4,687.9 777.8,687.5 779.5,687.8 780.8,686.9 782,685.9 783.7,683.9 784.8,682.8 784.3,681.4 785.6,680 787.8,680.2 789.3,678.8 791.2,677.6 792,676.4 792.7,675 793.2,673.1 793.1,671 794.4,669.9 795.9,669.3 797.3,668.9 798.4,668.4 800.2,667.5 800.4,665.8 801.2,664.6 803.4,663.9 804.7,663 805.8,662.6 807.6,663 806.6,664.8 806.3,666.1 807.3,668.2 809.5,668.2 811.1,668 812.1,667.5 810.2,668.6 808.8,669.4 806.9,671.1 806.1,673.5 807.9,673.5 809.5,672.6 810.3,673.8 811.3,674.6 813.6,675 816,674.9 817.2,675.6 818.9,676.3 820.8,677.4 821.1,679.5 822,680.9 823.6,682.8 823.2,684.5 824.1,686.9 824.5,688.1 825.3,689.9 824.9,692.1 823.2,693.9 822.6,695.9 823.1,697.4 823.1,698.8 820.7,699.4 820.7,701.3 818.6,702.3 816.6,703.4 815.5,702.3 813.8,701.6 811.8,700.1 810.6,698.9 809.3,697.6 808,696.8 806.6,696.3 805.3,696.7 803.2,697.4 801.8,697.9 800.7,698.7 798.6,698.6 797.2,698.9 796,698.2 794.8,696.5 793.2,695.7 792.7,694.4 791.6,695.3 790.5,696 788.7,696 787.6,696 785.4,695.3 783.7,694.4 782.6,693.2 780.3,692.6 779.1,692.1 777.2,692.1ZM744.9,675 746.9,674.7 748.5,673.8 750.4,673.4 751.6,673.7 753.8,674.4 755.6,676.2 757.9,675.6 759.8,676 760.5,677.3 761.5,678.3 762.8,679.5 761,680.4 759.3,680 758.1,681.5 756.8,682.5 754.8,682.5 753.1,681.9 750.7,681.6 748.6,680.9 747.9,679.5 746.8,677.4 746.2,675.6ZM481.8,489.1 481,486.6 480.9,484.8 482.2,483.4 483.4,483 484.9,482.6 486.7,481.7 488,482.4 489.2,483.6 488.6,485.8 490.5,484.4 489.9,483.2 489.9,481.2 491.6,481.1 492.4,479.4 491.8,481.7 493.8,482.2 493.2,481 492.5,479.1 492.8,476.6 493.9,474.5 495.4,473.1 494.6,471.4 495,472.8 494.9,474.6 496.5,475 498.4,475.9 500.4,474.3 501,472.5 499,472.9 497.1,473 496.7,471.5 497.5,473.6 499.2,474.3 501.4,474.2 503.2,475.4 504.8,475.8 507.2,475.8 509.3,474.6 510.2,473.2 512.1,473.6 513.5,473.9 515.6,474.2 516.9,474.8 519,474.2 520.5,474.1 521.9,474.3 523.6,472.7 525.8,472.9 526.7,471.1 528.1,470.5 530,469.3 531.1,469.4 532.7,468.9 534.4,469.6 535.7,470.2 536.1,471.9 537.7,473.6 539.8,473.6 541.3,473.2 541.6,471.7 543.1,472.4 545.4,471.8 545.9,473 544.9,474.8 546.2,475.5 547.2,476.2 548,474.4 550,474.9 550.6,472.5 551.7,473.9 553.2,474.1 553.6,476.2 553.4,478.4 553.6,479.9 555.1,480.7 554.8,482.7 554,483.8 552.4,483.8 550.9,483.6 549.6,484.2 547.3,483.9 546.3,482.7 544.6,483.7 543.5,482.5 542.5,481.9 542.1,480.4 542.6,478.5 540.9,478.8 540.5,480.6 539.1,479.5 538,479.3 537.7,481.4 536.7,482.1 535.2,482.1 535.7,483.4 534.9,485 533.6,485.9 532.7,486.7 530.6,486.7 530.6,489 528.6,489.9 526.5,489 526,486.7 524.3,487.8 523.7,489.7 522.3,488 521.3,486.5 518.9,486.1 516.4,486.2 514.2,486.8 514.9,488.4 514.8,489.7 515.6,491.1 514.7,492.7 513.3,490.5 512.5,489.4 511,489 509.8,487.8 508.1,487.5 509,488.7 508,490.6 506.4,491.1 505.4,491.6 506.2,493.2 505.1,494.3 502.8,495 500.8,495.6 498.7,496.4 497.2,496.1 496.3,497.4 494.9,497.2 493.1,495.9 490.8,495.6 489.4,495.5 487.6,495.8 485.4,494.9 485.9,493.3 486.3,492.1 485,491.1 483.5,491ZM513.2,505.2 513,503 512,501.6 512.5,499.7 514.3,499.9 515.6,498.9 516.8,498.9 517.4,500 517.2,501.9 519.4,501.3 520.7,499.8 520.5,497.3 521.3,495 522.7,496.2 524,495.5 522.9,496.9 522.9,498.2 523.7,497.2 525.2,496.5 526.9,495.2 528.3,496.1 528.9,494.6 529.4,493.2 531.2,492.1 532.2,490.3 531.8,488.7 530.7,487.9 533.1,487.7 533.8,485.7 534.6,484.7 535.8,483.5 535.5,481.5 537.2,480.7 535.2,479.3 535.5,476.8 533.7,476 532.6,477.8 531.3,479.5 532,480.7 532.5,481.8 533.7,480.7 535.2,481.9 537.1,483 537.5,484.3 537.7,486 538.8,485.1 539.9,484.3 541.7,485.8 543,484.7 544.8,485.5 544.7,487.5 544.6,489.7 545.6,489.4 547.2,489 549.1,488 551,487.8 553.1,488.8 555,488 556.1,489.7 556.2,491.7 557.2,489.7 559.5,490.4 561,488.9 561.1,487.4 559.6,486.7 559.9,484.7 560.5,483.4 562.2,482 562.7,479.5 564.7,480.8 566.4,480.9 567.4,482.8 566.2,483.9 567.9,483.8 568.4,482.4 569.4,484 571.5,483.7 571.5,481.7 574,481.2 576.4,481.8 578,481.8 579.2,482.4 580.7,483.6 582.2,484.1 583.5,483.7 586,483.8 587.7,484.6 588.6,486 589.4,487.3 590.1,485.7 588.5,484.5 590.4,482.9 591.8,483.2 593.9,483.3 593.6,481.3 595.4,480.7 595.6,482.2 596.3,483.4 596.9,482.2 598.3,481.4 597.8,479.9 597.5,478.4 599.3,478.6 600.4,477.9 602.3,476.5 603.9,475.1 604.4,476.4 605.5,477.3 607.4,477.1 609,478.6 610.4,477.5 612,478.9 613,478 614.9,478.3 613.5,480.3 613.4,482.3 611.6,482.7 609.8,484.7 610.4,486.7 608.2,487.1 607.1,487.4 605.4,486.9 604.8,487.8 604.3,489.5 602.8,490.4 602.9,492.7 601,494.1 600.2,495.5 600.3,497.3 599.9,498.6 601.6,500.2 603.7,500.2 606,500.9 607.4,503.1 609.1,502.4 608.9,500.3 610.1,501.1 611,502 612.6,500.9 613.8,503.1 615,502.8 616.3,501.6 617.3,502.5 617.3,504.2 617.6,505.6 619.3,506.1 617.6,507.1 617.5,508.6 616.3,509.3 614.7,509 613.4,510.6 612,509.9 611,508.9 609.5,508.7 607.5,508.3 606.6,510.4 605,510.7 603.7,510.3 602.1,510.9 601.4,512.1 599.3,511.4 597.3,511.2 596.2,510 595,511.3 592.5,511 591.2,512 589.4,513 588.7,511.5 587.4,511.4 587,510.2 585.7,509.3 584.6,511.3 583.7,513.2 583.5,514.7 583.5,513.4 582.6,512.1 580.6,512.7 578.9,512.5 577.5,512.1 575.5,511.5 575.2,510 573.2,509 571.8,507.7 569.9,508.1 569.8,510.1 569.4,511.9 568.1,513.2 566.8,512.1 565.5,513.6 563.4,515 563.6,516.6 561.8,517 559.6,516.2 559.1,515 558.6,513 560.2,512.3 561.6,512.7 559.8,513.1 558.5,512.5 557.8,510.1 557.3,512.1 557.2,514.1 556,515 555.6,516.6 553.6,515.1 551.9,515 551.2,513.9 549.3,514.3 548.8,513 548.7,510.8 546.6,511.9 546.2,513.7 543.8,513.4 541.6,513.6 543.1,512.3 542.2,510.7 542.1,508.8 543.8,508.6 542.6,509.1 541.5,509.9 539.8,508.3 538.9,506.6 537.7,505.3 537.7,506.9 536.2,507.8 534.3,509 532.6,508.8 533.2,510 532.5,511.5 531.1,511 529.7,512.1 528.1,511.7 526.7,512.7 525.1,512.5 524.1,511.4 522.7,509.7 521.6,510.5 520.3,511 518.9,510.4 517.7,510.6 517.8,508 516,507.5 514.6,505.7ZM620.8,485.2 621.9,483.4 624.2,483.1 625.9,483.5 626.9,485.2 628.6,484.1 628.5,482.2 630.4,481.5 631.5,480.4 631.3,478.3 632.6,477.5 633.8,477.1 636,476.8 637.7,475.7 637.4,473.7 639.3,472.7 640.3,474.1 642.4,473.6 643.2,475.3 645.6,474.6 645.8,477.2 647.9,476.8 649.5,476.7 649.7,474.7 651.8,475.9 653.7,475.4 655.2,474.7 655.2,476.4 655.5,478.3 657.2,478.6 658.2,479.2 657.5,480.2 657.1,481.6 655.4,481.8 653.7,481.3 652.1,482.2 651.6,484.2 649.2,485.2 651,485.6 652.1,486 653.8,486.2 654.1,487.8 655.2,489.7 652.9,490.6 653.4,492.6 651.5,494 649.4,493.4 647.9,494.6 646.2,494.2 644.8,493.3 644,492.1 641.8,491.6 641.8,493.2 640.5,494.1 641,495.7 639.6,496.9 637.6,498.3 636.3,497.7 634.6,497.2 635.5,495.4 634.5,494.5 634.3,492.7 633.1,493.5 631,493.6 629.7,495 627.5,494.6 627.2,492.3 627.3,490.7 625.3,489.7 624.4,487.3 624.9,485.1 623,485.1ZM667.2,477.7 668.6,478.1 669.6,476.4 667.7,475.1 668.5,472.9 669.8,471.3 671.6,471.3 673.5,471.8 672.8,473.9 674.6,474.7 675.7,473.4 674.2,472 675.6,471.7 677,472.8 678.3,473.4 679.1,474.7 678.8,472.4 679.9,471.7 681.1,471 683.3,470 685.1,469.7 686.5,470.9 687.7,471.4 689.9,470.3 690.2,472.8 692.6,472.2 694.1,474.1 693.4,476.1 692.8,478.1 691.2,478.7 691.1,480.7 689.7,481.6 688.4,481.7 686.7,480.9 684.3,480.8 684.5,482.8 683.6,484.1 682.1,484.8 682.3,486.6 680.6,487.1 679.1,486.7 677.3,486.8 675.9,488.5 674.9,487.3 673.6,486.9 671.6,485.4 670.1,486.4 669.6,487.9 670.1,489.7 667.6,489.2 666.1,488.3 666.1,487 664.3,488.9 663.5,487.4 662.7,486.7 664,485 665.3,484.2 666.9,483.6 665.8,482 665.8,480.6 665.9,479.1ZM631.3,503.1 632.8,502 635.2,501.3 636.3,500.4 637.5,498.6 639.1,498.9 640.3,500.1 640.9,498.4 642.3,497.4 644,496.7 643.7,494.3 644.6,495.2 646,496 647.3,496.2 648.8,495 648.8,496.8 650.8,498.2 649.6,500.2 647.9,500 646.9,502 649.2,503.1 649.1,504.8 647.6,505.2 647.6,506.9 646.2,509.1 644.1,508.8 644,507 641.7,506.1 641,508.2 639.3,508.1 638.5,509.6 637.1,509.4 635.8,510 634.8,507.7 635.4,506.6 636.2,504.9 633.8,504.7 632.6,503.5ZM538.6,458.3 539.7,457.3 541.2,457.1 541.7,455.1 543.1,454.3 544,453.5 546.1,453.9 547.5,454.1 548.8,453.2 550.6,454.4 552.2,453.6 554,453.2 556.1,453.4 557,452.1 559.1,451 561.4,450.1 560.4,448.1 561.8,447.4 562.9,447.2 563.3,448.5 564.6,449.6 565.5,451.4 564.1,453.3 566,454.9 567.8,454.5 568.3,452.5 568.7,451.1 570.1,450.5 572.3,450.3 573.7,451.6 574.8,453.5 575.9,454.5 576.5,453.2 578,452.1 579.6,451.1 580.5,450.2 582.6,450.8 583.6,449.1 583.9,447.5 586,447.1 586.8,448.8 586.6,450 587.7,449.5 589.2,449 589.4,451.4 588.7,452.4 587.8,453.9 587.6,456.3 585.7,455 583.5,455.3 584.4,456.9 586.5,457.7 587.6,455.8 589.4,457.2 590.6,455.9 592.6,454.9 594.3,454.2 595.4,456.2 596.9,457.9 598.5,458.8 600.4,458.2 600.2,456.4 602.7,456.9 603.8,457.7 605.8,457.6 606,455.6 607.4,455.3 609.4,454.6 609.7,452.5 612.1,451.9 613.6,451 615.5,451.7 615.7,454.2 617.8,455.2 619.3,456.2 621.3,457 621.3,458.6 622.7,460 622,461.9 623.9,462 624,464.1 626,463 628,461.5 628.3,459.8 626.8,461.2 625.2,460.4 623.8,462.1 625.7,462.7 625.3,464.3 624.4,466 622.7,466.6 621.2,464.7 618.8,464.1 616.8,465.1 615.4,464.5 614.1,465.6 613.4,466.4 611.9,468 610.5,466.5 608.8,466 607.6,465.9 605.5,466.2 605.9,467.6 605,468.9 603.9,467 604,464.7 602.4,465.2 601.3,464.5 600.3,465.6 601.4,467.3 599.6,467.3 598.9,468.8 596.8,469.4 595.1,469.9 593.6,470.6 592.2,472.4 590.7,471.3 589.4,469.3 588.1,470.1 586.5,472.1 585,472.1 584.1,470.7 583.5,469.6 584.1,468.1 582.9,466.7 581.9,464.5 580.5,466 580.1,467.6 580.4,468.7 580.6,470.4 578.9,471.2 577.5,471.1 575.6,472.4 574.5,470.2 574.8,468.5 574,466.5 572.4,467.7 571.8,469.1 569.9,468.8 568.5,468.7 570,467.6 569.8,466.1 568.5,464.9 567.1,465.9 565.6,466.1 563.6,465.5 563.2,463.8 561.8,463.3 559.6,464.3 558.4,462.8 557.5,460.8 557.1,462.4 557.1,463.6 555.9,463.5 554.1,463.1 552.3,464.8 552.3,463.1 550.6,462.8 549.3,462.3 548.2,461.7 547.6,460.5 547.6,458.4 546.2,459.2 545.3,460.3 543.1,461.3 542.7,459.6 540.7,459.5ZM599.9,446.3 601.7,445.4 603.7,444.4 604.5,446.3 606.2,447 608.2,445.4 610.4,444.2 610.6,442.1 611.8,439.9 614.1,439.5 615.5,439.8 616.4,441.1 618.7,440.4 619.9,442.1 622.3,442.4 624.2,440.9 626.3,440.9 626.2,439.2 628.3,440.3 629.1,439.3 629.9,437.9 629.6,439.3 630.1,440.6 631.4,440.9 632.8,441.8 630.5,442.9 631.6,444.1 631.3,445.4 629,444.8 627.2,445.4 629.2,445.1 629.4,443.5 628.7,442.6 627.8,441.2 626.7,442.6 626.9,444.7 626.6,442.3 625.5,442.9 623.9,442.7 622.3,442.2 621.1,441.3 619.2,442.7 619.7,443.9 619.2,445.7 619.3,447.8 618.2,447.8 616.6,448.6 615,448.9 614.2,450.4 612.1,450.2 610.6,449.8 609,450.4 607.4,449.3 606.7,450.5 605.5,451.2 603.8,451 602.7,451.1 603.4,450 602.7,448.5 601.1,447.9ZM640.3,456.8 641.9,458 642.6,459.4 644.8,459.6 646.2,459 647.3,458.5 647.5,456.6 647.5,454.8 649.2,454.4 651.3,455.1 652.2,456.3 653.9,456.6 654.4,455.4 656,455 658.2,455.1 659.4,455.9 661.2,455.3 663.2,456.1 664.8,455.4 664.9,453.9 666.9,453.6 667.7,452.6 668.9,451.4 669.5,453 670.6,453.4 671,454.6 669.9,456.1 671.5,456.7 673.1,456.8 672.8,459 675,459.9 676.7,459.8 677.8,461.1 679.1,462.8 679.7,464.1 679.3,465.4 677.8,466.8 675.6,466.9 673.1,467.3 672.6,469.6 672,471.4 671.7,473.3 670.2,472.5 668.8,471.2 667.2,470.9 665.6,471.4 664.6,470 662.7,469.3 661.7,467.8 661.2,466.4 660,465.3 659.4,464.5 657.4,462.8 657.7,461 657.2,463.2 656.2,464.6 655,464.6 653.3,465.1 653.5,467 652.4,465.8 651.7,464.9 649.2,464.3 646.9,464.4 644.9,463.7 643.4,462.6 641.8,461.3 640,459.9 640.9,458.2ZM658.2,439.5 660.2,439.1 661.9,437.7 663.7,437 665.3,436.3 667.6,435.8 669.2,436.5 670.1,438 672,437.2 673.2,437.9 674.3,438.7 675.9,438.3 678.1,438.8 679.6,439.7 682.1,440.4 681.7,441.7 681.4,442.9 681.6,444.6 683.6,444.8 681.8,444.6 679.8,445.5 678.4,445.8 676.1,446.3 675.4,447.7 673.2,448.7 671.1,448.9 670.6,450.3 671.3,449.2 672.3,447.4 670.7,446.8 670,445.9 669.2,444.5 668,445.6 666.7,445.3 664.2,444.8 661.9,444.4 661.9,443 661.3,441.5 659.2,440.5ZM689.6,443.3 690.6,441.5 692,441 694,441.7 693.7,443.9 694.8,441.7 695.3,439.8 696.9,440.4 698.1,440.1 700,441.2 701.3,442.9 702.9,442.4 701.9,443.9 702.3,445.5 704.5,445.5 705.1,447.7 706.9,446.2 707.5,444.8 705.8,444.3 705,446.2 705.6,447.5 704.5,449.3 704.5,450.9 702.9,452.6 701.8,451.6 700.1,451.6 698.4,451.1 696.8,451.6 696.5,450 697.1,448.7 695.8,448.9 694.1,448.7 693.7,446.9 691.6,446.8 693.3,447 694.3,446.1 695.2,444.5 693.9,442.7 691.9,444ZM686.6,453.8 688.2,452.3 689.9,452.3 690.6,451.3 691.8,450.3 692.6,449.4 694.3,449 693,450.7 694.8,452.1 697,452.3 696.7,454.7 697.4,452.7 699.3,454.4 701.2,455.1 703,455.3 697,459.2 696.2,460.4 694.3,461.2 694.5,459.5 694,458.6 691.5,458.3 689.6,459.1 688.1,458.3 688.3,456.2 687.6,455.2ZM703,458.3 703.8,460.6 704.7,459.1 706.4,460 704.6,461.2 703.2,462.5 703.5,464.7 705.6,465 705.7,462.7 706.3,461.3 708.6,461.3 710.3,460.8 712,459.4 712.8,457.9 713.7,456.9 715,455.3 716.4,454.7 718.3,453 719.5,453.3 721.2,454.2 722.8,454.2 724.4,455.6 726.2,454.8 726.9,456.8 738.9,455.3 739,453.6 739.3,452.2 740.3,450.7 741.2,449.7 743.4,449.4 744.8,448.7 746.1,448.8 746.8,450.6 747.5,451.8 749,452.2 749.8,453.3 750.7,454.7 751.9,452.5 753.8,453.8 755.4,454.8 757.2,455.7 759.4,455.7 760.8,454.4 762.4,455.2 763.9,454.7 764.2,452.5 765.6,451.7 766.8,452.7 768.8,452.3 769.6,451.3 771,450.8 772.9,451.7 774.5,451.7 775.7,450.4 776.9,452.2 777.6,454 779.5,454.4 780.7,453.8 782.2,454.2 782.4,456.2 782,458 779.7,458.2 778,458.2 776.7,457.9 774.8,458.3 775.3,459.3 776.4,460.7 777.2,462.9 775.8,464 774.7,465.8 773.3,465.9 772.1,464.9 770.5,464.2 768.9,464.6 767.7,465.5 766.4,465.1 765.8,462.8 766.5,464 766.9,465.7 766.2,467.1 766.8,468.3 764.3,468.7 762.8,469.6 762.8,471.1 760.4,470.9 759,473 757.7,473.4 756.2,474.1 753.7,474.6 753.2,473.3 753.8,471.7 752.7,469.9 751.2,468.9 750,469.5 748.1,468 747.2,465.9 746.3,464.6 744.6,463.7 743.6,465.3 741.5,465.6 741.1,467.3 741.1,469.3 739.8,470.3 738.9,471.1 737.9,472.3 736.6,473.1 735.4,474.1 733.1,474.2 731.8,474.6 730.4,475.4 730.2,477.6 731.8,478.4 733.2,479.9 730.8,480 728.6,479.5 727.5,478 725.4,477.8 723.7,478.6 723.6,476.7 721.7,476.9 721.5,478.8 721.3,480.1 721,478.1 719.8,476.2 721.2,474.8 722.6,473.8 723.9,471.7 722.8,469.4 721,468.3 719.4,469 717.1,470.1 715,471 713.9,472 711.8,473.2 712.1,471.6 712.1,470.6 710.9,469.8 709,470.2 707.6,470.4 706,470.7 705.1,471.8 703.3,472.9 701.3,473.2 699.2,471.9 698.9,469.8 696.6,469.5 698.7,469.1 700,467.3 699,466.3 697.1,465.5 697.1,463 698.5,461.3ZM712,434.4 713.1,433.2 715.2,432.2 716.7,431.6 717.7,431 718.3,429.4 718.5,428.3 721,428.4 723.5,427.9 726,427.6 727.5,427.3 729.8,427.1 730,425.6 731,424.7 732.9,425.4 734.1,426.7 735.6,427.5 737.1,429.6 737.9,428.4 739.9,428 740.7,426.1 743.1,425.9 744.9,426.9 746.3,425.5 748.2,425 750.1,424.2 750.8,422.4 752,422.1 753.4,423 755,423 756.7,422.3 758.8,422.3 759.2,420.5 760.8,420.6 761.8,420.9 763.7,420.8 765.8,420.9 767.3,421.5 769.5,422 771,420.9 772.4,420.3 772.2,418.5 773.2,419.6 773.7,421.6 776,422.1 778.3,421 779.9,419.7 782.1,419.3 783.7,418.5 785.4,417.6 787.8,418.4 788.9,416.9 790.1,416.2 792.6,416.2 794.7,417.4 796.4,418.1 797.7,417.4 799.2,418.1 801.7,417.3 803.2,418 804.9,419.5 807.2,420.3 808.3,419.7 809.4,418.7 809.6,417.3 810.8,415.7 812.4,417.1 813.7,418.6 815,417.7 816.6,418.6 817.9,418.3 819.6,417.2 821.2,416 822.6,416.4 824.3,415.6 826.4,415.6 826.8,416.9 828.1,418.2 829.9,418.5 831.3,416.7 832.7,417 834.4,417.2 835.6,415.6 837.4,416.1 838.9,416 840.5,416.3 841.8,416.3 843.5,415.5 844.1,416.6 845.7,417.8 848.1,418.6 849.5,418.1 850.8,417.8 852.9,416.5 854.8,415.8 856.2,416.9 857.7,416.3 859.8,416.5 862.2,416.4 864.4,415.5 866.4,415.3 868.5,415.9 871,415.7 873.3,416.3 874.8,415.8 875.5,414.1 877.1,412.5 878.6,411.3 878.5,412.7 878.5,413.9 879.2,415.6 880.6,416.6 882.4,417.3 883.5,417.4 884.8,416.3 885.7,417.5 886.4,418.5 888.8,419.2 889.8,420 891.1,421.3 892,419.5 893.2,419.5 894.3,418 895.6,418.4 896.7,419.5 898.4,418.1 899.5,417.6 901.1,417.1 901.9,418.7 903.3,419.4 901.7,420.4 900.6,419.2 899.2,419.3 898.3,420.2 896.7,420.7 894.7,422.2 892.3,423.1 891,422.9 889.8,421.9 888.3,423.3 886.6,422.5 884.8,421.4 883.8,423.3 882.5,424.6 880.7,425.8 879.3,426.3 878.6,427.3 876.8,427.4 875.7,426.3 873.4,426.3 872,427.6 869.5,427.4 868,428 866.4,428.1 864.6,429.7 863.1,431.3 864.4,432.8 861.9,433.2 860.8,432.8 859.8,431.5 858.4,429.9 857.8,431.4 856.8,431.9 855.4,432.2 854,432.8 851.8,433.9 850.1,432.7 848.6,431.7 847.1,433.2 845.2,432.6 843.5,433.5 842.5,434.9 840.3,435.6 838.7,435.8 836.3,435.4 834.8,436.8 832.4,436.3 830.1,435.6 828.6,437.4 827.3,438.5 825.2,437.9 823.8,439.9 823.3,441.3 822.5,442.3 821,441.6 820.3,440.4 818.9,441.1 816.6,441.8 816.3,444.1 816.5,445.6 814.7,447.3 814,449.3 813.9,451.1 813.4,452.3 814.5,453.7 815.3,452.4 817,452.7 814.7,451.9 816,449.9 815.3,448 816.4,447.1 817.2,445.3 817.6,443.4 817.7,442.1 816.3,441 814.3,441.2 812.2,440.5 810,441.6 808.6,442 808,443.6 806.5,444.8 807.4,446.5 805.8,446.4 804.6,446.3 805.7,444.8 804.9,442.6 803.4,443.7 801.5,444.1 801.1,441.9 800.4,440.7 798.7,440.8 797.5,440.8 797.3,443.1 795.2,443.6 795.5,445.4 794.1,445.3 792.7,444.8 793.9,443.2 793,441.6 791,440.5 789.7,439.3 790.6,437.3 789,438.4 788.1,440.4 786.1,439.5 784.7,440.9 784.3,442.3 784.9,444.1 782.9,443 782.4,445.3 782.3,447.1 780.7,447.8 778.9,447.4 777.3,447.5 775.8,446.8 775.6,448.4 775.5,449.8 774.6,452.1 772.8,452 770.5,452.3 770.4,450.5 768.8,449.3 768.3,450.8 768.4,451.9 766.1,452.8 764.6,453.2 763,453.6 761.7,451.6 760.1,451.3 759.1,451 757.6,449.5 756.8,447.8 755.5,448 754.5,449 753.6,450.6 751.6,450.2 750.4,448.6 749.7,447.3 748.7,445.2 750.1,444.2 748.9,442.5 747.2,443 745.3,443.5 744.9,444.8 743.5,443.6 742.8,441.8 741.6,441.3 739.9,441.8 738.3,440.8 737.9,439.4 736.7,439.1 735,439.5 734.4,441.1 734.2,442.4 732.8,440.8 730.9,439.8 730.5,438.2 732.1,439.4 732.2,441.3 730.7,443.4 731.4,444.6 732.9,444.8 731.7,443.1 729.4,443.2 728,442.4 727.7,440.9 726,440.6 724.8,440.8 723.1,440.9 722.2,441.7 721,443.3 720.4,441 719.2,441.9 717.9,441.9 716.3,441.9 715,440.4 715.6,438.5 713.6,437.3 713,436ZM685.1,492.7 687,491.8 688.9,490.8 690.3,490.5 689,489.5 688.6,487.7 688.8,485.3 691.1,485.2 689.7,484.2 690.1,481.9 690.2,479.3 691.1,478.2 693.3,478.1 692.2,476.8 691.6,475.5 693,475.8 694.8,475.1 696.9,474.4 698.7,476 700.1,476.9 701.5,478.3 703,478.3 704.8,477.7 705.2,475.4 707.2,475 707.1,472.5 708.7,474.1 710.3,475 710.4,473.3 711.3,472.1 713,472.2 714.1,473.3 715.9,474.3 717.7,474.8 718,476.2 719.6,476.9 720.8,478 722.4,477.2 723.9,478.3 725,480 727,480 727.6,481.5 728.8,482.3 730.3,481.7 732.4,481.2 731.3,479.4 732.9,478.3 734.3,478.6 735.4,477.3 736.1,478.2 736.9,479.7 738.2,480.6 738.8,483 740.2,482.1 740.9,480.5 742.5,480.2 744.9,480.7 746.8,480.2 747.4,481.7 748,479.5 748.9,477.9 747.9,476.2 749.7,476.2 751,477.3 751.5,479.2 753.6,479.4 753.6,477.8 753.8,475.7 755.6,474.6 757.3,473 759.1,474.3 761.6,474.5 762.1,473.4 762.8,472 764.4,470.5 765.8,471.5 766.6,473 766.3,474.1 765.1,476.4 762.8,477.1 764.9,476.7 766.8,478.2 768.8,479.5 770.2,480.4 771.8,480.7 770.2,481.3 769.2,480 767.6,481.6 768,483.7 768.8,485.2 770,486.5 769.3,487.8 771.5,488.3 772.1,489.9 772.7,492.1 774.5,492.3 775,490.8 775.4,488.9 777.7,488.2 778.9,488.7 779.8,489.9 781.2,489.7 782.4,489 783.9,489.4 786.3,489.7 786.4,491.9 788.2,491.7 788.6,490.6 789.3,489.4 790.9,490.4 791.8,491.1 791.1,493.5 789.7,495.6 791.4,497.5 790.2,499.7 792.5,500.2 794.3,500.9 796.3,500.8 798.7,500.1 799.8,501.9 800.4,504.1 801.9,504.7 804.1,504.9 804.5,506.5 806.1,507.6 808,509.2 807.4,511 806,512.4 805.2,513.5 804.6,515.1 805.5,516.9 806.8,517.6 808.6,517.9 808.7,519.5 809.7,519.7 811.3,520.5 812.7,522.5 814.2,520.4 815.1,522.5 816.6,523.5 817.8,523.5 819.6,524.9 820.6,526.7 822.2,527.2 823.4,527.4 825.6,528.5 826.1,530.1 827.1,532.1 825.6,530.2 824,530.4 822.2,529.9 822,531.8 821.7,534.3 819.3,533.7 818,534 816.6,534.5 816.4,536.4 814.9,537.6 813.4,538.1 812.7,539.9 810.2,539.4 808.9,539.5 807.6,540.5 808.6,538.2 806.3,538.1 804.5,539.1 803.1,539 802.2,539.7 800.8,540.6 801.8,541.6 802.9,543.1 800.7,543.5 798.7,543.5 797.3,542 795.6,541 795.4,539.5 794,538.7 793.6,537 794.2,536 791.9,535.7 792.4,533.9 790.4,533.3 788.1,533 786.7,534.5 787.9,535.4 788.8,536.3 790,537.7 788.8,537.9 787.7,539 785.6,539.3 787.2,541 787.8,542.7 789.9,542.5 791.7,542.5 793,542.4 794.9,543.4 793.4,544.4 792.7,546.5 793.8,547.6 794.8,548.2 795,550.2 796.1,551.1 797.4,551.3 798.2,552.8 798.3,554.4 798.7,555.4 799.1,556.9 799,559.2 799,561.2 798.3,562.3 797.4,563.1 795.7,562.9 794.5,563.6 794.1,565.2 792.2,564.6 791,564.3 789.7,565.2 789,566.3 791.2,567.3 790.6,569.7 788.1,569.3 787.8,566.8 787.5,564.9 789.1,563.2 787.4,563 785.8,561.9 784.1,563.9 784,562.6 782.7,561.6 784.2,562.6 784.7,564 782.9,565.6 783.7,567.4 782.5,568.7 782.7,570.1 783.1,572.2 782.9,569.7 785.3,570.2 787.3,571.1 786.7,573.4 785.4,574.6 784.1,575.6 782.7,574.3 783.1,572.2 780.7,571.9 778.9,570.5 777.1,570.6 775.2,570.1 775.2,568.4 775.6,566.1 773.9,565.5 771.7,565 770.4,563.2 768.8,561.4 768.7,559.1 767.7,557.6 766.7,556.7 765.5,555.7 764.3,555.5 764.5,553.1 763.2,554.4 761.6,554.6 761,555.9 759.5,555.6 758.4,556.4 756.8,555.4 755.4,555.6 754.2,556 753.1,554.1 750.9,553.8 748.9,553 748.3,550.5 747.2,548.3 744.9,549.4 743,548.7 743.1,547.5 742,546.1 740.8,544.7 738.9,545.6 738.6,547.4 737.7,548.3 738.4,547.1 738.8,545.3 737.2,544.2 735.9,543.5 734.2,544.5 732.8,544.5 734.2,546.7 732.7,547 731.7,548.3 730.5,546.7 729.3,546 726.9,546.5 728.8,546.7 729.2,548.2 729.1,550.1 728,551.8 726.2,550.7 724.8,552.3 723.8,551.5 722.5,550.7 720.7,549.7 719.2,548.7 718,548 719.1,546.5 721.5,546.5 721.8,544.6 721.7,542.9 721,542 723.3,542.4 723.6,539.9 724.9,541.5 726.1,542.7 727.6,543 728.8,541.8 731,541.9 732.9,540.5 734.7,538.9 736.2,540.1 737.8,538.2 739.9,538.7 740.5,540.6 742.1,541.8 742.6,542.9 742.4,540.4 742.9,538.4 744.9,537.5 744.2,536.2 743.4,534.4 744.6,534.4 745.6,532.9 747.6,532.2 747.4,530.6 748.9,530.5 750.6,529.9 751.5,529.1 753.2,529.3 753.8,531.5 755.4,531.5 757.8,530.9 758.6,529.3 759.9,528.9 760.8,526.6 762.8,525.5 763.2,523.8 761.6,521.9 763.1,521 764.3,519.6 762.1,518.7 761.8,517.3 760.5,516.5 758.6,515.7 756.7,516.4 755.1,516.3 754,515.8 753.8,518.1 752.1,516.5 751.7,515.1 749.9,515.8 748.2,516.5 746.2,515.4 744.9,513.6 745.9,512.4 745.5,511.1 745.1,509.3 745.4,507 746.5,506 747.9,506.1 745.9,505.6 744.2,505.3 741.9,505.5 740.5,505.7 740.5,503.9 738.9,503.1 736.8,504.4 735.3,504.1 733.3,504.1 731.8,504.3 730.1,503.7 727.7,503.9 726.9,506.1 724.7,507.1 723,508.4 721.7,509.2 720.3,510 718.2,508.9 719,507.1 716.8,507.3 715,507.6 703,506.1 703,503.8 701.9,502 700.6,500.9 699.7,499.2 698.2,498.5 696,499.3 694.4,500.2 694.1,501.6 693,503.1 694.3,505 692.2,504.5 692,506.2 689.4,506 688.3,504.1 686.5,502.3 687.3,500 685.1,498.6 683.2,498.3 683.4,496.2 683.3,494ZM655.2,555.4 657.6,554.4 657.5,552.1 659.2,551.1 660,552.8 661.9,552.6 663.5,553.5 665.5,552.9 667.6,551.5 667.2,549.4 669.6,549.2 671.9,548.8 673.7,547.9 674.5,545.5 673.6,544 675,542.3 676.4,541.6 678.1,542.7 677.2,544.6 678.8,544.6 679.1,546.5 680.9,545.3 682.4,546.2 683.1,547.1 683.6,548.3 683.6,550.1 685.7,550.3 686.8,549.1 687.2,546.6 689.2,547.4 691.1,548 691.6,550.1 693.3,549.8 694.9,551.3 697,552.4 696.3,554.7 696.6,556.5 695.2,554.5 693.1,555.8 691,556 689.9,555 689.2,556 688.1,556.9 686.5,556.6 685.4,557.8 684.1,558.8 683.6,560.5 681.2,560 679.5,558.6 677.6,557.9 676.1,558.4 674.3,558.1 671.8,558.7 670.6,558.1 669.7,556.5 668.2,558.2 667.9,559.9 666.3,560.5 664.2,559.9 663.2,558.8 661.5,559.3 662,557.5 660.4,556.8 658.4,556 657,555.4Z"/>
<path class="c3" d="M370.8,508 369.6,507.1 367.9,506 366.8,506.2 365.2,505.9 362.9,505.1 360.9,505.7 359.6,504.7 357.4,504.9 356.8,503.2 355.4,502.2 353.9,500.6 353,499.7 351.6,499.5 350.5,501 349.8,502.3 347.9,502.6 345.9,503 343.8,502.9 343.1,504.1 342.1,505.2 341.3,504 340,503.5 337.6,503.3 336.3,503.6 334.7,503.5 332.9,502.6 331.4,501.4 330.5,500.7 328.8,500.4 327.3,498.8 326.2,499.3 324.6,499.3 322.5,498.2 321.6,496.4 319.3,496.5 317.7,496.2 316.8,495.3 316.5,497.1 315.1,498 313.4,496.8 312.3,495.5 310.9,493.8 309.8,492.9 307.8,492.9 305.9,493.2 304.6,494.1 304,495 302.2,493.8 300.9,493.4 299.6,493.7 298.3,494.2 296.1,495.4 294.1,496.3 292.1,496.1 290.8,495.8 289.4,495.7 287.8,496.3 285.9,496.6 284.4,497.1 283.4,497.7 281.5,499.1 280.1,501.3 278.5,499.8 276.7,499.9 275.4,500 273.8,499.4 273.3,501 273,502.1 272.5,501 271,500.2 269,501.6 269.2,503.7 268.3,504.8 266.1,504 264.2,502.7 262.9,502.5 261.3,502.2 261.8,504.1 259.5,504.3 258.9,505.8 259.1,508.1 257.6,509.4 256.3,508.5 255.5,509.8 253.7,510.9 252.4,509.8 251.2,509.3 249.2,507.9 248.1,506.8 245.9,505.7 243.4,505.7 242.6,507.8 241.5,507.5 240,507.5 238,508.4 235.9,508.4 234.7,507.1 232.5,507.9 230.8,508.3 230.6,510.7 228.3,510 226.6,510.3 225.1,510.4 223.7,509.3 222.5,508.6 221.4,507.7 220.1,508.7 219.2,509.3 217.3,508.9 215.3,509.2 214.2,510.1 213.5,511.1 212.7,512.2 213.2,514.1 215.2,513.7 213.1,514.4 211.6,513.7 211,515.3 209.4,515.3 211.3,516.5 213.3,517.4 212.6,519.2 210.9,519.5 211.4,521 211.4,522.2 213.5,522.3 215.6,523.9 217,522.8 219.4,522.9 219.1,525.1 221,526.8 223,528.3 224,530.7 222.8,530.2 221.5,529.3 220.2,529.2 219.2,530.5 218.3,532.5 216.2,531 217.8,532.4 217.1,534.5 214.9,534.3 214.7,535.6 213.1,536.6 212.3,537.5 212,539 210.7,536.9 209.1,538.5 206.9,538 207.1,536.8 207.5,535.3 205.8,534.9 204.6,535.1 202.5,536 201.9,537.9 202,536 199.7,535.2 199.4,532.7 199.8,531 198.9,529.3 199.3,527.6 197.9,527.3 197.1,526 195.3,524.7 193.7,524 194.6,526.4 193.6,527.2 192.1,527.6 193.6,528.4 194.9,529.4 192.8,530.3 192.3,532.5 190.9,532.8 190,533.9 188.3,533 189.1,535.2 186.8,536.3 188.4,535.9 190.6,536.2 188.3,535.7 187.9,537.9 186.3,537.9 185.3,537.4 186.3,535.2 185.8,536.9 184,537 183.3,534.5 182.7,535.8 182.9,537.3 181.8,539.4 183.4,539.7 183.5,541.3 184.3,542.9 184.8,545 182.3,544.5 182.4,542.3 180.7,541.1 180.1,543 179.4,544.7 178.1,545.1 176.4,545.5 176.4,543.6 175.9,542.3 174.8,541.1 173.2,540.5 173.2,538.2 174.9,537.6 176.5,539.3 176.1,540.8 175,541.6 173.9,542.9 171.5,542.4 170.9,541.3 170.9,539.7 168.4,540.4 168.3,541.6 169.1,543 169.2,545.3 171.4,545.6 170.1,546.8 170.2,549.1 171.6,548.2 172.8,547.7 174.8,546.7 175.9,544.9 177,543.8 177.7,545.7 178.6,546.8 180.9,545.7 182.5,547.6 182.7,549.2 184.6,549.8 185.8,548.2 187.4,548.4 189.1,546.9 190.2,549.1 191.2,551.3 190,550.2 188.7,548 186.3,547.2 185.6,545.5 187.4,545 189.2,544 188.5,546.3 188,548.4 187.2,546.6 189.2,545 188.7,547.6 190.6,548.2 192.5,547 194.2,547.1 195.4,547.6 196.8,546.7 197.9,544.9 198.1,546.5 199.3,547.4 201.1,548.1 202.5,547.2 202.3,549.6 200.5,550.4 199.7,551.4 198.2,549.4 196.5,548.4 196.4,546.7 194,546.9 192.4,547.6 192.8,549.4 194.7,549.8 194.1,551.8 192.7,552.3 190.6,553.1 190.4,554.8 189.3,556 187.4,555.9 185.6,555 184,554.9 182.5,555.6 180.9,554.7 179.4,554.2 178.5,555.6 177.6,556.6 175.1,556.2 172.7,555.5 171.8,553.9 170.5,553.7 170.9,555.2 170.1,556.3 169.8,558.3 169.1,559.9 168.1,560.8 166.6,562.2 166.1,563.5 164.5,564.6 163.2,565 161.8,564 161.1,562.2 159.5,562.6 157.4,562 155.8,563.7 154.8,564.7 153.7,565.2 151.6,565.7 150.6,567.4 149.4,566.2 147.8,566.7 147.9,568.7 147,569.3 146.1,570.8 144.7,569.6 142.2,569.9 141.7,571.7 141.3,572.9 141.5,574.5 140.2,573 138.5,573.8 136.7,573.3 135.3,574.9 137.5,576 135.9,577.1 136.4,578.7 137.4,576.8 138.4,576 140.1,576.9 141.6,578.1 143,579.8 141.9,581.1 139.9,580.5 140.8,582.2 140.3,583.7 138.8,583.4 137.5,583 138,584.6 136,585.4 133.9,584.3 132.6,585.2 134.6,585 134.9,583.8 136.5,583.3 135.6,585.1 136.7,587.1 136,589.2 135.3,591 137.7,591.3 139.8,592.2 141.6,592.2 143.5,592.6 144.7,593.4 145.3,594.9 146.5,595.6 148,596.4 147.3,594.6 147.8,593.3 149.6,591.7 151.4,590.4 153.8,591.3 155.1,591.1 156.4,591 158.4,591.3 158.9,593.3 159.5,594.8 161.3,595.3 162.9,596.4 165.1,596.3 164.8,598.6 164.2,596.3 166.2,596.2 167.7,598.1 169,596 167.6,594.5 169.4,592.9 171,593.3 170.1,591.3 171,589.5 172.5,590 173.9,589.8 173.7,592.1 172.2,591.4 172.5,589.7 171,590.5 169.3,591.1 169.1,589 167.3,589.4 166.1,590.1 165.5,591.3 165.6,593.2 166.5,594.6 167.9,596.3 170.1,597.4 168.8,599.3 167.2,599.8 167.6,601.5 169.1,601.6 167.4,603.1 165.9,602.5 164.4,603.6 164.5,605.4 164.8,606.9 163.9,605.1 162.7,604.2 162.1,605.4 161.5,606.7 160.3,605.7 159.4,605.1 157.5,606 155.6,606.7 153.1,606.8 152.8,605.4 151.5,604.6 153.9,603.9 151.9,602.4 150.4,603.6 148.8,603 148.6,603.9 148.3,605.5 147.2,607.2 145.2,607.1 144.4,608.5 143.5,610.1 141.8,610.5 142.2,612.5 142.5,615 141.2,614.5 139.5,614.8 137.4,616 135,615.6 136.3,617.1 135.4,618.6 134.8,619.8 133.2,621 130.7,620.4 130.3,619.2 128.7,618.3 127.5,616 126.3,616.8 125,617.5 122.4,617.3 120.2,617.2 119.7,619.3 121.7,619.5 122.8,620.9 122,622.2 120,622.9 118.3,622.4 117.2,622.1 116.8,623.8 115.4,625 113,624.1 111.7,624.8 111.4,626.7 109,626 107.7,625 106.5,625 105,624.6 103.3,624.7 100.8,625 99.2,625 97.1,625.2 97.1,627.2 96.1,629.4 94.1,630.5 92.5,630.5 91,632.5 88.9,633.4 87.5,632.8 86.3,632.7 84.1,632.3 82.7,631.6 81.2,631.5 81,629.5 81.8,627.8 81.3,629.6 80.3,631.8 79,632.7 77.7,632.6 76.9,634.4 75.5,632.4 75.7,630.8 74.3,630 72.2,630.7 72.6,632.9 70.9,634.7 68.6,634.5 67,634.4 65.3,633.8 64.2,635.4 65,636.8 64.6,638.8 63.6,639.9 61.9,639.8 60.7,639 59.1,640.2 57.6,640.6 55.9,641.6 54.1,641.7 54,639.8 52.9,638.7 51.4,640 49.8,638.4 47.4,639.5 48,641.9 48.6,644 46.9,645.2 45.6,645 43.8,644.9 42.3,645.7 41.2,645.8 40,644.3 38.4,645.9 36.5,646.5 35.6,644.1 35.3,646.1 33,646.3 31.8,647.4 31.3,648.5 29.6,649.1 28.4,647 26.2,647.6 24.9,648.7 23.2,649.6 22,648.9 20.8,647.4 21.8,645.6 20.2,647.5 19.2,649.8 17.8,649.3 15.8,650.1 14.6,648.8 13,648.2 11.5,647.8 10.2,648.5 9.5,646.9 8.4,645.9 7.5,647.9 6.8,648.9 5.1,649.2 5.8,651 6.5,652 7.7,652.8 7.6,655.1 5.3,654.7 4,655.6 2.7,656.2 4.5,658 3.8,657.2 2.6,656.1 0.7,654.8 0,652.9 0,654 2,654.3 3.3,653.8 2.6,652.3 2.5,650.8 4.1,651.3 5.1,650.1 6.7,649.5 8.8,649.3 10.6,650.6 12.1,651.4 13.2,652.3 15,652.1 16.9,653.1 18.5,653.3 20.2,651.7 21.8,651.2 23.1,650.6 24.7,649.7 27.2,650.5 28.8,651.7 30.5,651.9 32.7,652.3 33.8,651.7 35.1,651.3 36.9,651.9 38.4,651.9 40.1,653.4 41.6,651.6 43.3,651.5 44.9,650.3 43.9,648.3 45.2,647.3 46.1,645.9 47.9,646.7 49,647.6 50,646.4 51.2,645.9 53.2,645.5 54,643.8 56.3,643.2 56.8,642.1 57.6,640.7 59,639.2 60.6,639.6 61.4,641.8 60.6,643.5 62.7,642.5 64,643.7 65.5,643.8 64.8,642.1 66.5,640.2 67.7,638.9 69.2,639 70.8,639.2 72,640 74.1,641.1 75,639.4 76.2,637.5 77.9,638.2 78.9,636 80.8,635.6 81.8,634.4 83.6,635.4 85.8,635.5 86.1,633.4 86.9,635 87.5,636 88.4,634.4 90,633.6 92.2,632.5 91.9,633.7 92.9,635.1 95.3,634.2 96.4,633.3 97.6,631.6 99.1,631.1 101,630.7 102.9,629.9 104.1,628.8 106.4,628.2 108.1,628.1 109.3,626 110.7,625.6 111.9,626.6 113.2,627.6 113.7,628.6 115.3,629.4 117.6,629.9 119.5,630.9 120.9,630.4 122.1,630.3 122.1,627.9 123.7,627.7 124.7,627.2 126.2,626.6 126.8,624.8 129.3,625.3 130.3,623.1 132.8,622.6 134.2,621.3 133.5,619.9 131.6,618.3 132.8,617 134,616.9 135.7,616.9 136.9,618.3 138.6,619 140.3,619 153.7,613.3 154.1,611.6 154.3,609.6 155.7,608.4 157.4,609 157.2,606.7 155.5,606.2 156.5,607.9 157.7,606.9 159.2,607.5 160.4,608.3 161.3,610.1 162.6,612.1 164.8,611.8 165.5,610.6 167.2,610.8 167.4,608.9 167.2,607.5 166.6,605.3 166.6,603.7 167.9,602.7 168.6,600.6 167.8,599 166.6,597.5 168.3,597.9 169.1,596.4 170.3,597.2 170.3,598.7 169.7,600.5 171.3,601.4 173.6,601.8 174.3,602.7 175.5,604 177.8,603.3 179.5,602.6 180.6,601 179.1,602.3 179.8,604.7 181.3,604.5 182.8,604.8 182.7,606.1 181.6,607.7 182.4,606.3 183.9,605.7 185.3,604 186.4,601.9 188.1,602.4 189.7,601.9 190.8,602.9 192.5,603.8 194.5,602.1 193.3,601.1 191.9,601.2 190.9,599.1 191.7,597.9 192.1,596.7 190.1,595.4 192.1,595.4 194.1,595.2 194.6,593.5 196.4,593.7 198.5,593.4 200.1,593.4 201.5,592.4 203.6,591.7 203.6,593.6 205.6,593.6 207.3,595 207.7,593.4 208.3,591 207.8,589.5 207.5,588.3 209.4,587.7 210.7,588.2 211.9,589 214,588 215.7,586.5 214.7,584.8 216.8,584.3 216.6,582.2 215.3,580.7 215.6,579.1 217.7,579.9 219.4,581.5 221,580.6 221.6,578.8 223.3,579 225.5,578.9 227.9,577.9 227.3,575.9 229.3,575.1 230.3,576.9 232.3,577.4 234.4,576.8 233.9,578.2 233.2,580.1 234.4,580.7 236.5,580.7 238.1,581.4 240.1,581.8 241.3,584 243.3,582.3 244.6,580.4 244.2,578 244.8,576.1 245.9,574.9 244.7,576.2 245.2,578 246.2,580.1 247.7,578.7 248.6,577.3 250.2,576.9 251.5,577.2 252.8,577.5 251.7,579.6 253.4,579.7 254,578.2 255.5,577.9 257.5,577.5 254.9,577.8 255.2,576.4 255.1,574.9 257.5,574.6 256.3,572.6 257,570.5 258.8,569 260.5,568 262.5,569.2 263.7,570.2 262.9,572.1 264.4,573.3 266.1,574.1 267.5,574.1 269,573.7 268.2,575.7 269.1,576.9 268.6,578.9 269.7,580.6 268.3,579.9 265.9,580.1 267.3,581 268.1,581.9 269,583.7 270.6,583.5 271.7,584.5 272.7,586.6 274.1,587.2 275.4,588 275.8,589.7 275.3,591 276,588.7 274.7,587.8 273.7,586.5 275.7,585.8 277.7,585.6 279.8,584.3 281,584.4 282.5,583.7 283.2,581.8 282.8,580.4 284.9,580.5 285.6,582.6 286.6,581.1 288.2,581.4 288.9,583.4 290.4,583.5 291.5,585.4 293.5,586.6 294.2,588.2 295.8,588.3 297.8,588.3 298.5,590.2 299.9,590.4 302.2,589.7 303.8,589.7 304.8,590.2 306.4,590.9 307.4,590.2 308.3,591.2 309.8,592.1 311.3,590.3 312.5,589.9 312.9,588.2 314.2,588.7 315.9,588.3 315.6,590.7 316.1,592.5 315,594.3 315.9,596 317.1,596.4 316.3,597.7 315.3,599.3 316.8,600 317.4,601 317.3,602.8 315.9,603.7 315.7,605.3 314.5,606.1 313.9,607.4 314.1,608.9 315.7,610 316.7,611.1 319.1,611.2 321,612.5 321.3,614.4 322.7,616.5 322.1,618.9 321.3,621 321,622.1 319.8,623.3 319.4,625.6 319.6,627.6 319,629.8 317.6,630 316.3,630.5 314.1,630.7 313.2,632.9 313.1,630.6 312.5,629.3 310.7,628.7 309.4,628.6 308.5,627.2 308,625.9 307.4,624.8 307.1,622.2 305.9,620.2 304.3,619.7 301.9,618.9 302.9,616.9 302.9,615.8 303.1,614.3 301.8,614.4 300.5,613.3 300.6,611 299.3,609.8 298,609.3 299.2,608.4 299.4,606.1 300.4,604.1 299,603.7 297.9,603.2 297.1,601.8 296.7,599.8 295,597.9 293.2,597.4 294,595.4 295.9,594.6 294.5,594.5 293.9,592.7 294.2,590.9 292.8,590.2 290.7,589 290.6,586.5 291.2,585.3 290.8,583.7 288.6,583.3 288.2,581.4Z"/>
<path class="c1" d="M87.6,543.3 88.9,542.1 90.5,542.9 90.3,540.9 91.2,539.1 92.8,538.1 94.5,537.5 95.3,538.7 96.9,538.3 98.3,537.7 98.4,535.9 99.9,535.3 101.5,535 102.7,534.6 104.1,533.1 106.2,531.9 107.1,534 109.6,534.9 109.2,533.5 108.8,532 109.3,529.9 110.8,530 112,530 113.2,527.8 114.8,527.1 115.3,524.9 116.8,524 118.6,523.5 120.3,523.2 122.7,523.2 123.9,522.1 125.3,521.1 125.7,519.1 124.6,518.1 126.3,517.9 128.3,517.5 129.9,516.1 132,517.3 132.5,515.6 133.3,514.7 134.5,512.6 136.1,513.1 137.9,513.6 138.8,514.7 138.8,516.3 140.2,516.7 141.6,517 143,519.1 144,520.2 145,521.3 145,523.7 145.3,526.1 147.4,526.3 148,528.7 147.9,530 148.4,531.4 149.6,532.3 149.7,533.9 148.9,536.2 151.3,536.9 150.7,538.7 152.1,539.6 152.4,540.8 152.2,539 153.6,537.4 155.8,536.9 155.5,535 154.8,533.7 153.1,532.7 155.1,531.7 156.5,533.2 157.3,531 159.5,530.7 161.6,531.8 163,531.2 164.2,531.4 162.6,533.3 161.4,535.3 159.6,534.1 157.9,535.5 158.5,533.8 157.8,532.4 156.2,531.4 154.6,532.7 155.2,534.2 155,535.7 154.7,537.1 153.8,538.2 152.3,539 150.5,538.3 149.8,540.4 148,540.3 146,541.1 145,542 144.8,543.5 146.2,542.8 147.5,541.9 146.7,540.6 144.9,539.7 143.9,539.1 142.2,538.8 142.2,540.9 143.5,541.9 144.7,543.4 143.1,545.2 141.7,543.9 140.3,543.8 138.5,544 137.7,542.8 136.7,544 137.2,545.5 135.4,544.2 134.5,543 133.4,543.6 131.8,543.7 131.3,545.7 130,546.9 129.8,549.5 127.9,549.1 126.1,549.9 123.9,549.8 123,548 121.6,546.9 119.5,547.7 117.8,545.9 115.3,546 114.2,544.6 112.4,544.4 112,543.2 112,541.1 109.9,540.7 109.5,538.3 107.2,538.7 105.6,539.3 103.2,539.8 101.7,539.2 100.3,539.9 98.6,539.4 98,541.4 95.8,541.9 94.3,542.6 92.8,541.3 93.5,539.9 91.1,539.3 90.5,540.7 89.8,541.7 88.5,542.3ZM160.6,496.1 162.4,496 163.5,495.7 164.8,495.2 166.2,495.2 166.9,493.2 169.1,492.2 171,493.5 172.8,493.3 174.6,494.3 176.8,494.2 174.7,495.8 172.5,495.7 171,497.2 169.3,496 168,495.5 166.6,496.9 164.7,497.6 163.3,497.6 162.3,496.4Z"/>
<path class="c3" d="M171,610.6 172.3,609.1 174.3,607.8 176.5,608.6 178.3,609.1 178.9,610.5 179.7,608.6 181.4,608.7 181.4,606.7 180.6,605.6 182,605.6 183.1,607.2 185.5,607.4 186.7,605.8 187.8,604.5 190.2,603.7 188.5,604.3 188.7,606.4 187.9,608.1 186.4,609.4 184.4,610 184.5,611.7 182.6,612.1 183.2,610.2 181.4,609.2 180.6,610.9 179.9,613 180.6,614.5 182.4,615.8 181.5,618.1 180.5,619.9 178.6,620.4 177.2,619.3 175.7,618.1 177.2,616.6 176.8,614.4 175.6,613.6 174.5,612.3 172.5,613.9 171.4,612.5ZM123.7,555.6 125.7,556.2 127,555.3 128,553.1 127.4,551.4 129.1,551.5 130.6,552.7 132.6,553.7 134.1,554.1 134.9,555.2 135.3,557.6 134.3,558.2 133.1,559.6 131.5,557.6 130.2,558.5 128.7,559.5 126.9,558.6 128,556.3 125.5,556.7Z"/>
<path class="c1" d="M293.3,831.4 294,833.8 293.7,835.5 293.1,837 293.6,838.9 294.7,840.4 294.5,842.7 294.8,844.8 293.2,846.2 293.4,848.1 295.5,848.7 295.5,850.4 296.2,852 296.3,854 295.9,855 296.3,856.8 295.2,859.1 294.9,861.4 295.7,863.3 295.2,864.7 294.4,866.2 293.4,867.2 293.9,868.8 294.8,870.2 296.5,869.9 298.6,870.9 299.4,873.3 300.8,874.7 303.2,875.6 304.1,876.4 305.5,877.5 307.2,879 307.2,880.8 306.8,882.2 307.9,883.2 309.5,884.7 310.7,886.6 311.5,887.7 311.3,889.7 311.6,891.4 311.7,893.8 311.3,896.2 312.4,897.3 312.8,898.6 311.8,900.7 311.3,903.1 311.9,904.2 312.4,905.7 314.4,907.1 315.8,908.2 317.3,909.1 318.5,910.6 320,910.1 321.7,911.6 323.3,913.5 322.6,914.8 323.2,916.6 324.2,917.8 323.7,919.5 325.4,920.3 327.1,921.1 328.5,919.9 329.7,919 330.7,918.1 329,916.6 329.1,914.9 328.1,913.6 328,912.4 329.2,910.6 328.9,908.3 327.8,906.5 326.7,905.5 326.5,904 324.8,902.8 324.5,901.2 324.7,900.1 324.4,898.2 324.8,895.9 324.6,894.3 325.2,892.8 325,891.1 323.7,890.2 321.1,889.7 320.6,887.8 321.4,886.3 321.2,884.5 322.1,883.7 320,882.7 319.4,881.2 318.2,880.7 317.3,879.2 316.4,877.8 315.6,876.5 314.8,875.4 314.9,874 313.4,871.9 314.3,870.2 315.4,868.2 314.5,866.7 313.1,865.7 311.9,864.3 311.8,861.8 311.4,859.9 310.2,858.8 308.3,858.3 307,857 306.3,854.8 305,852.7 305.3,850.8 306.2,849.3 308.3,848 307.6,846.1 306.8,845.1 306.2,843.3 307.1,842 308.8,841.4 309.8,839.5 311.8,839.3 313.3,839.4 315,839.5 317.3,840.4 318.7,840.9 319.9,841.1 321,843.3 321.1,844.8 322,846 322.5,847.1 322.4,849.6 322.1,850.9 322,852.2 321.8,854.1 321.7,855.3 321.2,856.9 320.8,858.3 320.9,860.9 320.2,862.8 320.8,864.9 321.8,865.3 323,866.4 322.9,868.3 324.7,868.7 325.4,869.9 326.1,871.4 327.7,872.8 328.7,874.2 328.3,876.2 328.8,878.7 330.4,879.6 331.4,880.6 331.5,883.1 332.2,885.2 333.5,887 334.6,888.4 335.9,889.2 335.5,891.6 335.7,893.1 337,893.7 338.2,895.6 339.9,895.3 340.4,897.4 341.7,898 343.1,899 344.2,901.2 344.5,903.2 344.5,905 345.6,906.1 346.7,907.4 345.9,909.2 347.5,909.8 348.5,911.6 350.7,912.8 351.3,914.7 352.3,916.9 353.1,918.1 353.9,919.2 354.7,920.3 356.4,920.4 358,921 358.1,922.9 357.9,924.1 359.3,926.1 359.1,928.5 359.8,930.6 361.2,932.6 360.4,935 360,937.5 357.8,937.9 356.7,939 354.7,939.5 356.3,940.9 355.1,942.6 355.4,943.9 356.1,945 357,946.8 357.1,948.1 358.1,949.7 360,948.8 361.4,950 361.2,952.4 362.1,953.9 362.3,956.1 363.4,957.4 362.6,958.6 362,959.6 362.9,961.7 365.2,962.7 367.5,962.4 369.7,962.7 371.1,962.9 372.3,963.7 374.2,965 375.8,965.3 377.8,966.5 378.5,968.1 380.4,968.9 382.9,969.2 384.5,968.9 385.2,967.8 385.9,966.5 387.8,967.2 389.1,967.7 391.3,968.6 391.6,970.7 393.1,971.3 394.1,972.2 396.1,972.7 397.2,973.8 397.8,974.7 399.4,976.3 400.4,977.7 402.5,977.4 403.8,979.5 405.1,979.6 406.3,980.1 408.8,980.4 409.9,982.4 411.1,983.7 413,984.3 414.4,983.8 415.7,982.9 417.1,983.4 419.1,983.2 419.9,984.1 421,985 423.3,985.5 424.9,986.8 426.5,986.4 427.8,985 430.2,984.7 431.4,983.2 432.9,981.8 435.3,980.8 436.6,981.3 438.5,981.2 441,981.2 442.5,982.4 443.7,981.5 445.3,981.6 446.9,983 447.3,984.7 448.6,985.9 450,986.7 451.2,988.1 452.4,989.4 452.3,990.7 453.6,991 454.6,991.9 456.2,992.6 457.7,994.3 460.7,985.3 471.2,983.8 474.2,979.3 469.7,973.4 471.2,968.3 489.1,968.9 490.6,968.4 491.9,967.1 494.2,968 495.1,965.9 496.2,964.7 497,962.7 498.9,961.5 498.7,959.8 498.4,958.5 499.6,956.9 499.9,955.5 500.5,954.1 501,952 502.1,950.2 503.5,949.1 503.6,948 504.1,946.5 504.6,945.2 506.3,944.6 507.8,943.1 507.4,941.6 507.5,940.3 508.6,938.8 508.5,937.5 507.4,936.3 507,933.9 504.8,933.7 502.4,933.4 500.2,933.4 498,932.6 496.8,932.9 495.1,933 493.4,933.4 491.1,934.2 488.7,935 488.6,937.1 486.7,938 484.8,937.5 483.1,936 481.8,937 480.6,937.6 479.4,938.2 478.4,940.2 477.2,942 477,943.4 477.9,945.1 477.4,947.2 478.3,948.6 478.6,949.6 476.6,951.2 474.4,951 472.7,952.4 472.1,953.9 470.8,954.8 470.8,957.1 470.5,958.6 469.5,957.6 467.7,957.4 466.6,958.7 465.2,958.4 463.1,959.3 461.1,960.2 459.9,961.7 458.4,962.4 456.3,962.8 455.4,961.7 453.2,961.4 451.9,961.7 450.6,962.2 448.7,963.4 447.9,961.8 445.7,961.8 444,961.3 442.9,961.7 441.3,963.8 440,963.2 438.5,961.9 436.8,962 436.4,960.1 434.8,958.9 432.5,958.8 432.5,956.8 432.3,955.4 432.1,954 432.1,952.1 430.7,950 428.8,948.6 428.7,947.2 427.8,946.1 427.3,944.6 426.3,943.5 426.3,941.2 426.4,939.7 424,939.1 423.4,936.9 422.2,934.8 421.9,933.3 421.9,931.5 422.4,929.7 421.5,928.3 421.8,926.2 422.1,924.6 422.1,923.5 424.4,922.4 423.1,921.4 422.8,919.6 423.8,918.2 425.7,916.9 425.9,915.3 425.1,914.3 425.7,912.6 424.5,910.5 424.8,909.4 424.9,907.6 425.3,905.9 424.6,904.2 425.9,902 427.5,901.8 428.4,900.5 429.3,898.6 430.1,896.7 431,895.3 431.2,893.7 430.8,892.7 426.3,859.8 369.6,820.9 294.8,817.9Z"/>
<path class="c3" d="M322.8,681.3 323.7,682.9 324.6,684.1 325.3,685.6 326.6,686.3 325.2,687.2 325.2,689.3 324.1,690.4 323.6,691.9 321.9,691.5 320.9,692.1 320.3,693.9 319,695.3 318.2,696.9 317.7,698 316.4,697.8 315.1,697.8 313.2,699.5 311.6,699.4 310.8,700.7 309.9,701.7 309.2,702.9 307.4,703.6 307.5,705.2 306.7,706.4 307.1,708.6 306,709.6 304.1,709.5 303.2,711 301.7,711.3 299.6,712.2 298.1,713 296.8,713.4 295.1,715 294.5,716.5 295,718.4 296.1,719.7 295.9,720.9 295.2,722.8 294.6,724 293.2,724.7 292,724.3 290.8,725.6 290.5,727.8 289.5,729 289,730.5 288,732.6 287.8,733.9 288.6,735.6 288.2,737.6 286.8,739.7 285.1,740.1 283.5,739.5 282.5,740.1 280.4,741.5 279.2,743.1 278.3,744.4 278.5,746.9 277.3,747.3 275.9,747.8 276.7,749 277.4,750.8 276.5,753.2 276,754.5 274.4,755.1 272.1,755.5 272.2,756.9 270.7,758.4 268.7,760 268.7,761.8 269,763.2 269.3,764.5 269.8,766.4 269.7,768.3 269.4,769.5 270.2,770.8 270.9,772.9 270.4,774.6 269.2,776.6 269,778.5 270.7,779.2 271.2,781 273.2,779.8 274.8,780.4 275.4,781.9 276.4,783.1 275.3,785.2 275,786.8 273.4,788 270.9,788.1 270.3,789.4 268.9,790.2 270.1,791.9 269.7,793.4 270.5,794.6 271.1,796 272.1,797.7 273.3,799.4 273.2,801.7 273,803.3 272.4,804.8 273.1,806.3 274.8,807.3 273.6,809.1 273.7,811.7 273.3,813.2 273.6,815 274.5,816.1 275,817.8 277,818.3 278.9,818.6 280.2,817.7 282.5,818.9 283.8,820.2 284.6,821.5 286,822.7 286.3,824.6 287.6,826.3 288.5,827.7 289.8,829.5 290.8,831.5 292.8,831.2 293.7,833 294.4,835.1 295.9,835.6 297.1,836.7 298.4,837.2 299.8,837.2 301.2,837 302.9,838 304.8,837.8 306.7,837.3 307.9,836.5 309.6,835.5 310.7,836.9 312.4,837.8 314,837.4 315,837.1 315.4,839.2 317.1,839.3 318.3,840.4 320.7,840.2 323.1,840.9 324.9,842.4 326.3,842.8 327.5,844.2 329.4,843.6 330.9,842.4 332.5,841.3 334,841.1 335.6,842.1 336.6,843.1 358.9,841.9 370.8,839.6 381.6,849.2 390.4,862.7 399.3,858.1 407,858.1 415.8,874.6 417.3,886.5 430.8,892.7 432.1,891.5 432.9,889.8 432.5,888.3 432.3,886.1 432.8,883.7 432.9,881.9 432.2,880.8 433.8,879.6 435.5,879.1 435.9,877.6 436.2,876.5 437.5,874.7 438.8,873.7 440.3,872.8 441.3,871.7 443.2,870.2 444.4,869.5 445.8,868.8 446.6,867.6 447.5,866.7 449.1,865.8 450.9,865.2 453.1,864.1 454.5,863.3 456.1,862.2 457.3,861.1 458.9,863 460.4,862.3 461.6,861.5 462.1,859.7 462.8,857.9 465.3,857.7 466.9,857.3 469,857 470.4,857.3 472.7,857.2 474.9,858.4 476.7,858.4 477.5,860.3 479.1,859.4 480.4,859.2 481.5,861.1 482.7,862.9 484.3,863.7 485.6,864.4 486.7,863.9 488.2,863.1 490.1,863.5 491.9,863.1 492,861.8 492.1,860.1 492.6,858.1 495.2,858.6 496.4,858.1 497.4,857 499.2,856.9 499.6,855.4 500.5,856.6 502.2,857.5 502.6,859 503.4,861.1 504.4,859.6 504.8,858.5 507.1,859.1 508.2,858.4 509.2,857.5 511.3,857.9 513.1,856.9 514.4,855.9 515.7,855.6 514.9,853.5 517,853.9 518.5,852.9 520.1,853.1 522.6,852.9 524.7,853.4 526.4,853.2 528.6,852.8 530.3,851.5 532.4,851.9 532.9,854.3 534,856.2 536.1,857.3 538.1,857.6 540.2,856.8 542.5,857.1 543.4,855.4 545.7,855.4 546.4,856.6 547.4,858.5 547.9,860.4 548.7,861.8 547.8,863.3 548.8,865 549.5,866.9 550.6,868.2 550.8,869.9 551.3,872.3 552.5,873.7 551.5,875.1 551.6,877.3 553.6,878.5 553.4,880.4 552.9,881.7 552.7,883.5 554.3,885 555.9,886.7 555.8,889.2 556.4,890.9 555.3,891.9 555.8,893.8 557.1,895.1 558.3,896.4 557.6,898 559.6,898.6 561.1,899.6 562.1,899 562.9,897.5 564.2,896 564.9,893.8 566.7,893.2 568.7,891.8 569.8,890.5 569.5,889 569.2,886.7 569.3,884.9 569.5,883.8 569.2,882 568,880.4 566.6,878.5 566.9,876.6 568.1,874.8 567.3,873.9 566.6,872.7 566.1,870.8 565.5,869.4 565.8,866.9 564.9,865 564.8,863.7 564.8,862.1 564.3,860.3 562.8,859.2 562.9,858 563.5,856.5 562.4,855.2 563,853.5 564.2,852.3 564.6,850.5 564.9,848.8 564.1,847.7 565.6,846.7 567,844.5 568.1,843.2 568,841.9 568.9,840.2 570.3,839.7 572.2,839 572.3,837.5 571.8,835.4 573,834.4 573.8,833.1 575.2,834.3 576.4,834.2 578.1,833.4 579.1,832.7 580.3,830.5 582,829 583.5,828.8 586,828.5 586.3,826.8 586.6,825 588,822.9 589.7,823 590.6,822.7 591.7,821.7 593.7,821.9 595.6,821.5 597.6,820.8 599.4,820.7 600.1,819.1 600.7,816.7 602.7,816.8 604.6,816.9 605.5,815.5 606.8,815.5 608,814.3 609.1,813.1 608.7,811 609.7,809.5 611,808 612.4,807.2 613.9,805.2 614.9,803.5 615.6,801.3 616.4,800.5 617.7,799.3 618,797 619.5,795.8 617.4,794.7 615.8,793.5 615.3,791.8 615.7,790.1 614.9,788.1 614.9,786.2 615,784.8 616,783.3 617.3,783.2 618,782.5 619.5,781.9 621.2,780.7 622.5,780.4 620.8,779.7 620.1,778.4 620.4,777 619.3,775.8 617.9,774.8 616.8,772.8 618.1,771.8 619.7,771.2 622.1,771.4 624.5,770.8 624.7,768.7 625.7,768 627.1,767.4 629,767.3 630.4,766.4 632,764.8 633.2,764 634.1,763.2 635.5,762.9 637.3,761.3 639.3,760.4 640,758.8 642.2,758.2 644.2,757.7 645.6,757.4 647.2,756 649.2,757.4 650.3,756.5 652.1,755.4 653.9,754.9 654.9,754.5 656.7,753 657.1,751.6 658.9,751.1 660.9,750.7 662.3,750 663,749 664.8,748.8 666.2,748.6 667.4,748.4 668.7,747.8 669.8,747.7 670.9,746.3 672.8,745.9 673.7,744.7 674.7,743.2 676,743.8 678.3,743.9 677.6,741.9 677.8,740.4 676.8,738.8 674.4,738.2 676.2,736.6 678.3,736.5 680.1,735.6 681.9,735.6 683,734.4 684.2,733.8 686.3,735 687.9,734.3 689.3,733.7 690,732.8 691.5,733.4 692.8,732.4 693.1,730.7 694.3,729.1 695.4,727.9 697.5,726.6 699.2,725.9 700.9,725.5 702.1,725.7 700.4,723.7 700.9,721.6 702.5,720.7 703.4,719.1 704.9,719.2 707.1,719 708.3,718.5 709.7,718.2 711.4,718.8 712.9,719 710.9,713.2 711.7,703.6 707.1,695.9 691.7,705.5 676.3,715.1 661,722.8 645.6,728.6 630.2,732.4 614.9,738.2 599.5,743.9 588,747 584.1,743.9 588,738.2 593.7,730.5 599.5,719 595.6,707.4 588,703.6 568.7,689 549.5,688.2 538,686.3 526.5,683.6 522.6,680.5 322,680.5Z"/>
<path class="g" d="M457.7,994.3 460.7,985.3 471.2,983.8 474.2,979.3 469.7,973.4 471.2,968.3 489.1,968.9 487.6,979.3 486.1,985.3 481.6,994.3 481.4,995.8 481,997.5 480.3,999.1 478.7,1000.3 472.7,1004.7 470.8,1003.3 469,1002.3 467.8,1003.6 465.2,1003.2 463.1,1003 462.6,1001.4 460.7,1000.6 459.2,1000.3 459.8,998.6 458.6,996.8 457.5,995.6ZM489.1,968.9 490.6,968.4 491.9,967.1 494.2,968 495.1,965.9 495.5,967.3 495.8,969 496.1,971.5 495.2,972.9 494.2,974.2 493.6,976.3 493.2,978.6 492.6,979.8 491.9,980.9 491,981.8 490.2,983.2 489.1,985.3 486.1,985.3 487.6,979.3ZM486.1,985.3 487.6,985.7 489.2,986.1 490.8,986 491.9,986.2 493.9,985.4 495.6,985.1 498.1,984.7 499.8,983.1 499.9,981.7 500.7,980.3 503,981.3 503.8,983.7 505.4,984.1 506.7,983.7 508.1,983.8 510,983.8 512,985.1 512.9,986.7 514.3,986.7 516.4,986.3 517.7,987.3 519.2,987.8 520.3,987.3 522,986.8 523.4,987.9 524.1,989.4 526.6,989.8 527.9,990.4 529.2,990.8 529.5,992.8 519,997.3 510,1000.3 501.1,1006.2 498.1,1012.2 496.3,1012.3 494.6,1012.3 493.4,1013 493.3,1010.8 492.1,1009.2 489.1,1003.2 487.6,1002 487.1,999.5 485.8,998.6 485.4,997.2 483.1,997.6 481.6,997.3 481.6,994.3ZM472.7,1004.7 478.7,1000.3 479.2,1002.1 481.7,1001.9 484.1,1002.5 486.1,1003.2 487.8,1004.2 488.3,1005.8 490.1,1006.1 490.5,1007.6 491.5,1009.2 490.1,1011 488.5,1009.8 487.1,1010.3 485,1009.2 483.1,1009.2 481.5,1008.8 479.6,1008.5 477.5,1007.8 475.7,1006.8 473.4,1006.9ZM498.1,1012.2 501.1,1006.2 510,1000.3 519,997.3 529.5,993.7 528.2,994.1 527.4,996 525.7,997.2 526.9,998.9 528.6,999.8 529.3,1001.1 528.3,1002.2 527.2,1003.5 528.2,1004.8 528,1006.2 527.8,1007.7 528,1009.5 526.4,1011.5 525.1,1013.2 523.2,1012.4 523.4,1013.5 523.5,1015.2 523.9,1016.9 525.1,1017.4 523.7,1018.3 523.6,1020.2 523.3,1022.5 522,1024.2 521.9,1025.9 522.9,1027.6 522.7,1029.6 522.3,1030.9 523.5,1033.1 513,1030.7 505.6,1028.7 504.3,1027.5 503.9,1025.8 503.4,1024.7 501.9,1024 501.6,1022.4 501.1,1021.2 499.6,1019.3 498,1019.2 496.9,1017.9 497,1016.6 495.1,1015.2 497,1014.1ZM505.6,1028.7 513,1030.7 523.5,1033.1 525.4,1034 525.9,1035 526,1036.5 526.4,1038.1 527.4,1039.1 527.7,1040.9 528,1042.1 528.7,1043.4 530.4,1043.8 531.5,1046 532.1,1047.9 532.5,1049.6 529.5,1054.1 527.1,1053.5 525.7,1053.9 523.5,1054.1 521.4,1052.8 520.9,1051.5 520.5,1049.6 519.3,1047.4 519.2,1045 517.7,1043.1 516,1043 514.5,1042.1 513.1,1042.7 511.8,1042.1 510.1,1043.8 509.7,1042 508.4,1041.2 507,1039.1 505.2,1037.6 505.9,1035.1 505.2,1034.2 504.1,1033.1 505.4,1031.4 505.3,1030.2ZM528,1043.6 528.9,1045.4 530.1,1045.9 531.4,1047.2 533.3,1047.2 534.5,1047.7 535.3,1049.2 536.9,1049.6 538.5,1050.3 540.1,1051.4 541.5,1051.8 542.8,1052.4 544.6,1052.1 545.9,1051.1 546.1,1049.2 547.8,1048.3 550.2,1048.4 551.2,1049.6 551.9,1047.4 553.4,1046.6 555,1046.9 557.3,1046.3 558.4,1045.7 560.2,1045.8 560.8,1043.6 563.4,1043.4 565.2,1044.9 567,1046.2 568.3,1048.1 570.5,1048.1 571.2,1049.7 572,1050.8 573.9,1050.8 574.7,1052.3 574.3,1054.1 572.8,1061.5 570.9,1061.9 569.6,1060.2 568,1058.4 566.8,1057 565.9,1054.8 564.2,1054.5 563.1,1054.7 561.3,1053.2 560.2,1052.2 559.4,1051.1 557.4,1051.7 555.5,1052.7 554.2,1053.9 551.9,1054.1 551.8,1055.5 551.5,1056.7 550.8,1058.8 550.6,1060.5 549.4,1061.2 548.9,1063 547.4,1064.5 547.1,1066.2 546,1066.1 544.4,1066 542.3,1064.7 541,1063.4 539.1,1062.1 538.4,1060 537.2,1061.1 536.2,1061.7 534.6,1059.9 532.9,1058.7 531,1057 530.4,1055.2 529.5,1054.1 532.5,1049.6 533.7,1047.4 532.9,1046 531.6,1045.8 530.2,1045.8 528.8,1045.4ZM523.5,930 524.9,928.3 526.3,927.1 527.3,925.3 529.5,924 531.9,923.3 534,922.5 535.1,922.1 536.3,921.3 537.3,922.3 538.7,923.3 539,921.3 539.9,919.6 542,920.2 543.7,919.9 545.3,920 547.1,920 548.5,920.2 550,920.1 551.1,919.7 551.9,917.5 553.4,916.1 555.7,916.1 557.2,916.1 558.4,916.8 559.3,918 560.8,919.2 562.7,919.6 563.8,919 565,919.2 566.4,919.6 567.7,920.8 569.4,921.8 571.6,922.6 572.8,924 572.9,925.4 574.2,926.4 575.4,927 576.9,928.1 578.5,929 579.6,929.4 580.4,930.3 581.8,931.5 583.7,932.5 584,934.5 585.8,934.7 587.6,934.7 589,934.9 590.4,935 590.7,937.5 592.3,936.8 593.6,937 594.1,938 595.1,939.1 596.4,940.5 597.9,940.8 599.7,942 600.9,941.8 602.5,942.3 603.8,942.2 605.3,942.8 606.5,943.5 607.3,944.6 608.7,945.9 606.8,945.5 604.9,944.9 604.4,946.3 602.7,948 601.4,947.7 599.8,947.8 597.4,948.4 596,947.9 594.9,947.4 593.3,946.8 593,948.4 590.7,948.5 590.4,950.4 588.2,951.4 586.6,951.7 584.3,951.4 583.5,950.3 582.1,949.6 580.3,948.5 581.9,947 582.1,945.6 582.6,943.4 584.8,942.9 582.4,942.8 581.9,941.8 581.1,940.4 579.7,939.7 578.6,939.4 578.9,937.4 577.3,936 575.4,934.7 574.5,933.1 574.5,931.9 573.8,930.5 572,931.1 570.5,930.1 569.1,929.2 566.8,930 565,928.4 563,927.6 561.4,926.9 560.8,925.8 558.3,925.4 556.5,926 554.9,925.5 553.2,925.1 551.8,924.5 549.8,925.2 548.7,924.2 546.9,924.2 544.4,924.9 542.3,923.7 540.8,922.8 538.9,924.2 536.8,925.4 535.8,927.6 533.9,927 532.6,927.3 531.1,928.4 530,930 528,930 526,929.5ZM572.8,962.9 574.9,963.1 576.7,961.7 578.7,961.6 580.1,962.4 581.8,961.4 584.1,961.5 586,962.6 587.3,963.3 589.2,964.4 587.9,964.8 587.3,966.5 585.3,967.1 583.3,967.4 581.2,966.6 580.2,964.8 578.5,965.6 577.2,965.5 575.8,966.5 574.9,965.7 573.5,964.6ZM602.7,961.4 605.1,961.6 606.9,962.1 609,961.3 609.8,960.2 611.7,959.9 613.4,961.3 614.9,961 616.1,961.1 617.8,961 619.1,960.8 618.5,959 617.6,957.9 617.6,955.4 615.5,954 614,952.7 613.5,951.3 613.2,949.4 614.6,948.1 615.8,946.8 617,948.4 619.1,947.4 620.8,949.2 621.9,950.6 623.7,949.4 626,948.8 626,967.4 625.1,966 623.2,964.3 622.1,964.5 620.5,963.9 618.9,963.2 617.6,963.8 616,964.5 613.9,965.1 612.6,966.4 611.3,966.5 609.4,966 608.7,964.4 607.4,963.8 606.2,963.1 604.3,962Z"/>
<path class="c1" d="M626,948.8 627.7,947.1 630.2,947.4 631.6,947.4 632.9,947.9 634.2,948.7 635.6,949.4 637.6,948.3 639.1,948.6 640.6,949.1 642.6,949.9 643.2,951.2 644.5,952.4 645.8,953.9 646.8,955.1 648.2,955.7 649.4,956.9 650.2,958.2 652,959.9 650.3,960.4 648.9,962.5 647.3,962.2 646.2,962.1 644.5,962.9 643,963.3 642.3,964.5 641.3,964.4 639.7,964.1 637.6,963.1 635.6,962.9 633.7,964.4 633.4,966.1 632.6,966.9 630.7,967.8 629.2,968.1 628.1,968.9 626,967.4Z"/>
<path class="g" d="M661,962 662.1,961 663,959.3 665,958.4 666.9,958.9 668.4,958.7 669.9,958.3 670.9,959.5 671.4,961.4 672.3,962.8 672.9,963.7 672,965.9 670.7,965.9 669.1,966.4 667.2,967.2 666,966.4 664.6,965.9 662.9,966.1 661.9,966.5 662.5,965.5 662.3,963.8ZM578.8,900.1 580.2,899.9 582.4,899.2 583.3,900.6 584.2,901.7 585.4,903.7 585.5,905.5 584.2,907.6 584.8,909.3 584.2,911.6 583.4,912.8 582.4,913.6 581.3,913.2 580.3,911.8 579.7,910.8 579.4,909.1 579.7,906.9 578.5,905.7 579.1,904.4 580,902.4Z"/>
<path class="c1" d="M630.8,1117 653.1,1115.2 664.3,1124.1 677.7,1113.8 682.1,1096 697.8,1092.9 708.9,1084.8 715.6,1102.7 717.9,1117 735.7,1115.2 746.9,1109.4 758,1110.7 771.4,1110.7 783.9,1093.8 784.2,1095 785.3,1096.1 786.1,1097.2 786.3,1099.2 787,1100.6 788.4,1102.5 788.8,1104 790.3,1105.2 790.3,1107.6 791.5,1109.2 792.8,1110.4 792.9,1112 793.8,1113.8 793.9,1116.3 793,1118.2 792.8,1119.4 791.6,1120.8 792.2,1122.3 793,1123.3 794.5,1123.6 796,1125 794.5,1126.7 792.9,1126.9 791.2,1126.9 789.8,1128.8 789.6,1130.3 789.3,1131.7 780.4,1142.9 773.7,1145.1 789.3,1136.2 790.7,1135.4 792.5,1136.3 793.6,1136 795.4,1136 797.3,1135.6 798.2,1136.1 799.9,1135.7 801.5,1136.3 803,1135.9 804.1,1135.8 805.9,1134.9 807.1,1133.9 805.4,1134.2 804,1135 804.1,1137.5 802.5,1138.6 802.3,1140.2 802.2,1141.4 802.8,1142.9 802.7,1145.1 796,1151.8 807.1,1142.9 809.1,1141.9 810.7,1143 812.8,1142.1 813.7,1140.8 814.4,1138.7 815.8,1136.7 818,1136.9 819.2,1138.4 820.5,1138.4 822.4,1138.7 824.8,1138 826.5,1139.5 828.7,1140.6 830.5,1140.8 831.7,1141.3 833,1142.8 833.9,1143.8 835.1,1145.3 834.4,1146.9 834.5,1148.4 836,1149.6 837.1,1151.8 838.4,1154 839.9,1155.2 840.8,1156.7 841.8,1157.3 842.9,1158.5 845.1,1157.3 847,1156.5 848.3,1155.7 849.9,1154.9 851.4,1156.2 852.8,1155.9 853.9,1155.5 855.5,1155 856.2,1154 857.3,1155.5 859.1,1155 861.5,1154.2 862.2,1155.8 863.9,1157.6 865.2,1156.9 866.3,1156.5 868.2,1156.1 870,1155.9 871.6,1156.8 874.1,1157.1 876.1,1158.6 877.1,1159.8 877.9,1161.4 879.9,1162.4 881.8,1162.8 882.3,1164 884,1164.4 883.6,1165.9 885.6,1166.8 886.9,1166.2 888.3,1166.6 890,1168.4 892,1167.4 893.8,1168.3 894.8,1169.5 896.9,1169.9 898.5,1170.6 898.8,1172.2 899.5,1173.8 900.5,1174.5 902.4,1174.9 903.9,1175 905.4,1176.3 907.2,1176.8 908,1177.7 908.7,1179.1 909.7,1181.4 911.9,1181 914.3,1180.8 914.4,1183.1 914.9,1184.7 914.5,1185.9 916,1187.7 917.5,1188.7 918.5,1189.5 917.8,1191.1 917.5,1193.5 918.5,1194.8 918.8,1196.4 918.7,1198.8 917.5,1200.8 915.7,1202.1 916.3,1204 916.3,1206.1 918.6,1207.3 918,1209.4 917.3,1210.9 916.5,1212.1 916.1,1213.4 916,1215 914.2,1214.9 913.1,1216 912.3,1218 911.9,1219.3 911,1221.1 909.6,1221.5 908.4,1222.5 909.4,1224.3 907.6,1225.4 906,1227.3 906.2,1229.2 906,1231 905.4,1232.4 904.2,1232.4 902.9,1233.1 902.2,1234.3 900.9,1235.6 901.1,1238.1 898.7,1238.8 898.3,1240.4 898.8,1241.7 896.7,1242.5 894.7,1243.8 895.4,1245.7 893.7,1247.3 892.2,1248.1 892,1250 890.9,1251 889.7,1252.7 887.2,1252.6 886.5,1254.3 887.5,1256.7 887.9,1259.2 888.4,1260.9 888,1262.3 888.7,1263.7 888.1,1266 887.2,1267.5 887.2,1269 886.5,1270.4 886,1271.4 885.1,1272.4 885.2,1273.9 886.4,1275.8 887.5,1276.8 886.3,1278.9 885.3,1279.4 884.4,1280.7 885.1,1282.4 884.6,1284 885.2,1285.5 884.7,1286.7 885,1288 886.2,1289 887.8,1290.3 888,1291.9 887.4,1293.2 885.3,1294.6 884.7,1296.8 883.5,1298.4 884.1,1299.7 884.1,1301.4 883.2,1302.3 882.2,1303.4 880.6,1305.5 881.2,1306.8 880.7,1308.7 881,1310.9 880.8,1312.5 880.7,1314.7 879.7,1316.4 879,1317.7 878.1,1319.2 876.9,1319.6 876,1321.1 874.8,1323.4 874.7,1325 873.4,1326.7 874.1,1328.1 873.8,1330.1 872.7,1331.9 872.3,1333.5 870.4,1335.1 868.2,1335.6 868.4,1336.8 867.8,1338.5 868.5,1340.3 867.4,1341.5 865.4,1342.2 862.9,1342.8 860.8,1341.3 859.2,1340.9 857.8,1341.4 856.7,1342.5 855.5,1343.9 853.9,1345.9 851.8,1344.6 851,1346.6 849,1347.4 847.2,1347.8 845.2,1348.4 843.7,1349.3 842.3,1350.4 840.2,1351.5 838.4,1350.4 837.9,1352.9 836.5,1353.8 835.3,1354.5 833.7,1355.3 832.4,1356.1 830.9,1356.5 829.2,1356.1 827.2,1357.1 828,1358.9 827,1360.3 825.8,1362.3 825.2,1364.2 824.3,1364.8 823.4,1366.1 822.7,1368 820.9,1368 820,1366.8 818.3,1368.3 818.1,1370.4 819.1,1371.8 820.1,1372.9 819.8,1374.4 819.3,1375.8 819.9,1377.3 821,1378.9 821.5,1380.1 820.5,1381.7 819.6,1383.4 820.5,1385.4 819.8,1386.4 818.1,1387 817.8,1388.4 816.8,1389.4 815.7,1391.8 816.8,1393.7 818.3,1395.1 817.6,1396.1 816.7,1397.7 815,1399.1 814.8,1401.3 815.4,1402.9 814.1,1404.4 812.5,1404.9 811.6,1406.2 811.8,1407.8 810.8,1409.2 809.8,1411.6 808.3,1413.5 808.1,1415.4 806.9,1416.6 804.9,1417.4 803.5,1419.1 802.1,1420.2 800.4,1422.2 798.8,1423.8 798.9,1426.1 797.9,1428 796,1428.6 794.3,1429.2 792.6,1430.2 793.1,1432.4 791.4,1433.8 791.3,1435.8 791.1,1437.1 790.7,1439.3 789.5,1440.7 789.3,1442 780.4,1428.6 769.2,1417.4 758,1409.8 753.6,1410.7 760.3,1395.1 769.2,1383.9 775.9,1372.8 769.2,1368.3 770.5,1352.7 758,1347.3 758,1337.1 744.6,1333.9 737.9,1332.6 740.2,1321.4 735.7,1310.3 737.9,1303.6 731.2,1292.4 730.4,1282.1 716.5,1281.2 713.4,1261.2 700,1254.5 682.1,1245.5 672.3,1234.4 671,1223.2 659.8,1225.4 646.4,1232.1 630.8,1233 627.7,1221 615.2,1223.2 606.2,1214.3 601.8,1203.1 606.2,1192 617.4,1178.6 626.3,1171.9 630.8,1158.5 628.6,1154 633,1142.9 632.1,1129.5ZM667.9,1341.5 673.2,1335.7 688.8,1337.1 702.2,1332.6 706.7,1342.9 717.9,1352.7 729,1360.7 744.6,1370.5 740.2,1382.6 764.7,1383 775.9,1372.8 769.2,1383.9 760.3,1395.1 753.6,1410.7 750,1424.1 749.1,1439.7 753.6,1448.7 755.5,1448.9 757.5,1449 758.4,1450.4 759.6,1451.1 760,1452.5 761.1,1453.4 762.5,1455.4 762.3,1457 762.5,1459.1 764.5,1459.5 766.1,1460.5 766.1,1462.8 765.8,1464.7 767.6,1465.4 769.2,1466.5 769.6,1468.9 769.7,1470.3 770.3,1471.6 769.3,1473.2 768.2,1474.2 769.3,1475.6 767.9,1477.7 767,1478.9 765.8,1480.2 764.1,1481.3 763.8,1482.7 764.5,1484.9 762.8,1486.7 760.7,1486.3 759.7,1487.1 758,1486.6 756.4,1487.3 754.4,1487.7 752.3,1487.3 750.6,1487.8 749.5,1488.6 747.3,1489.9 745.4,1488.8 743.6,1489.3 742.5,1489.9 740.2,1490.2 738,1489.5 737.2,1488 736,1488.6 734.9,1489.1 733.7,1490.6 731.2,1491.1 732,1492 732.9,1493.5 735.4,1493.8 735.6,1496.3 735.1,1498.2 733.8,1498.7 732,1500.6 733,1502.3 733.5,1504.5 732.8,1506.9 731.4,1508.5 729.5,1510.1 728.3,1509.8 726.8,1508.9 724.9,1508.4 723.5,1508.4 722.5,1507.3 720.5,1507.2 719.3,1506.7 717.9,1506.7 718.7,1508.2 718.2,1510.1 717.3,1511.7 717.3,1513.3 717.4,1511 715.2,1510.8 715.6,1513.4 716.9,1514.5 718.1,1515.2 717.8,1516.7 717.5,1517.9 719.2,1519.2 720.6,1518.2 722.3,1520.1 724.6,1520.2 726.6,1519.1 727.2,1521.2 729,1522.3 727.8,1523.9 726.1,1524.7 725.2,1526.6 724.2,1527.8 723.2,1529 722.1,1530.2 721.4,1532 721,1533.5 721.9,1535.6 722,1537.9 721.4,1540.2 720.3,1539 718.9,1537.6 720,1539.6 718.8,1541.1 717.3,1540.5 715.1,1540 715.9,1542.1 714.6,1543.5 713.3,1542.9 711.1,1543 711.3,1545.1 708.9,1545.3 708.1,1547.4 709.7,1547.6 710.5,1548.5 711.7,1548.6 713.3,1548.7 714.8,1549.1 716,1549.7 714.1,1548.7 715.6,1546.9 716.2,1548.6 717.5,1550.3 715.9,1551.3 714,1552.9 713.2,1553.6 712.3,1554.9 710.5,1555.1 709.7,1557 710.9,1557.6 712.5,1558 713.5,1559.5 713.6,1561 712.1,1561.9 713.3,1563.7 715.1,1565 716.6,1566.2 717.9,1564.7 719.9,1565.5 720,1567.7 722.5,1568.1 724.1,1569.4 725.7,1569 726.8,1569.2 726.1,1571.2 727,1572.3 727.4,1573.7 727.7,1576.2 727.7,1578.1 726.2,1578.5 725.6,1579.8 725.7,1581.9 724.9,1583.1 723.9,1584.4 722.4,1585.4 720.1,1584.8 720.1,1586.2 720.3,1588 718.1,1589.1 717.9,1590.3 717.5,1591.8 716.3,1593.6 714.5,1593.3 715.7,1594.7 717,1596 717,1598.1 718,1599.2 718,1600.7 715.7,1599.7 713.2,1599.3 712.3,1600.4 711.4,1601.8 711.1,1603.8 713.4,1604.9 714.8,1606.5 715,1607.9 715.7,1609.1 717.5,1608.7 717.1,1610.4 717.9,1611.6 704.5,1609.4 691.1,1604.9 684.4,1589.3 682.1,1571.4 679.9,1553.6 673.2,1535.7 664.3,1517.9 663.4,1500 659.8,1482.1 657.6,1464.3 658.9,1446.4 655.4,1428.6 651.8,1410.7 653.1,1392.9 657.6,1375 659.8,1357.1ZM713.4,1613.8 715.7,1613 715.5,1614.3 715.5,1615.6 716.4,1617.6 717,1619.5 717.8,1620.4 718.2,1622 719.4,1621.1 721.3,1621.3 721.4,1619.4 721.3,1617.9 723.8,1617.8 724.6,1616.1 726.8,1617 728.3,1617 730.7,1617.9 730.9,1620 732.5,1620.4 733.7,1622.1 734.7,1623.5 735.7,1625 737.9,1625.4 739.2,1625.9 740.2,1626 741.8,1626.3 743.9,1625.6 744.9,1627.2 747,1627 747.6,1629.5 749.7,1630 750.6,1631.9 751.8,1632.2 753.6,1633 751.7,1633.1 749.3,1632.6 748.8,1633.8 747.1,1634.7 745.7,1633.6 744.5,1631.9 742,1632.5 740.2,1633.9 726.8,1629.5ZM637.5,1300 638.8,1300.7 640.6,1300.2 640,1301.5 640.4,1303 641.3,1304.6 642.3,1305.7 642.6,1307.2 644.2,1308 650,1312.5 650.9,1321.4 657.6,1332.6 667.9,1341.5 659.8,1357.1 657.6,1375 653.1,1392.9 651.8,1410.7 655.4,1428.6 658.9,1446.4 657.6,1464.3 659.8,1482.1 663.4,1500 664.3,1517.9 673.2,1535.7 679.9,1553.6 682.1,1571.4 684.4,1589.3 691.1,1604.9 704.5,1609.4 717.9,1611.6 713.4,1613.8 726.8,1629.5 740.2,1633.9 742,1633.9 744.4,1634.4 744.9,1633.2 746.6,1632.2 748,1633.4 749.3,1635.1 751.8,1634.5 753.6,1633 754.7,1635.3 753.7,1636.6 754.3,1638.6 752.9,1638.5 752.1,1637.1 749.8,1636.9 748.4,1637.9 747.8,1639.8 748.3,1641.2 746.9,1642.9 745,1642.1 743.4,1641.6 741.9,1641.4 740.5,1642.1 739.2,1642.3 737.9,1643.2 736.7,1644.3 734.8,1644.2 734.2,1642.7 732.8,1641.9 731.2,1640.6 730,1640.3 728.2,1639.7 727.7,1638.1 727.1,1637.1 725,1636.8 722.7,1637.2 720.2,1637 718.9,1635 717.2,1635.9 716,1635.2 714.4,1634.6 713.4,1633.9 712,1631.9 710.1,1632.5 709.7,1630.6 711.3,1629.2 710.2,1626.9 709.3,1625.8 708.2,1625.2 708.2,1627 706.4,1627.9 705.4,1627.2 703.6,1626.9 702.6,1625.9 702.4,1624.6 702.7,1622.9 702.5,1621.7 702.8,1620.6 703.8,1619.1 703.2,1617.8 701.1,1617 699,1618 698.5,1620.4 697.2,1622.1 695.5,1622.8 695.7,1625 693.4,1624.8 694.7,1626.9 693,1626.5 691.2,1627.3 693.2,1626.6 693.1,1624.5 691.9,1624.1 690.3,1624.9 689.7,1623.6 689.8,1621.6 687.7,1621.5 687.1,1623 685.6,1624 685,1622.8 684.5,1621.5 683.2,1619.7 685,1618.1 686.8,1618.4 687.7,1616.8 687.1,1614.9 686.7,1613.2 686.9,1615 686.7,1616.3 684.8,1615.6 683.8,1614.8 683.8,1613.3 684.6,1612.1 682.1,1611.6 680.9,1610.9 679.3,1609.5 678.4,1607.3 678.3,1605.1 678.4,1602.7 677.9,1601.6 677.5,1600 676.3,1601.5 675.2,1602.3 672.9,1601.8 673.2,1603.8 672.4,1606 672.4,1604.1 672.6,1602.5 671.3,1601.5 671.3,1600.2 671,1598.2 671.7,1597 671.7,1595.1 670,1593.6 668.9,1591.9 666.9,1591.9 666.8,1589.5 669,1589.6 667.3,1587.7 667.3,1586.3 666.6,1584.6 666.5,1582.8 665.6,1581.6 663.4,1580.4 661.4,1581 659,1580.3 659,1582.5 657,1582.6 654.6,1581.6 655.2,1579.8 654.5,1577.6 655.4,1575.6 657.7,1574.5 656.8,1572.6 656,1570.5 654.3,1571.1 655.9,1569.8 654.4,1567.9 656.7,1567.6 657,1565.9 656.1,1564.8 655.3,1562.8 657.4,1563 658.9,1562.5 655.4,1544.6 653.9,1545.2 652.7,1543.6 654.1,1541.6 656,1540.9 657.5,1541.5 656.8,1540.1 655.1,1538.7 654,1539.9 652.5,1539.4 650.4,1539.1 649.2,1538.4 650.5,1537.3 652,1536.7 653.9,1536.4 653.8,1534.4 652.5,1533.6 652.8,1531.7 652.5,1529.8 651.3,1527.9 653.1,1526.8 653.7,1525.7 654.5,1523.9 655.4,1524.5 656.7,1525.5 658.2,1524.8 658.1,1522.8 657,1523.5 655.2,1523.7 653.4,1523.6 653,1521.7 651.6,1519.5 652.6,1517.8 653.5,1515.4 654.6,1513.7 653.8,1512.2 654.3,1510.5 653.1,1508.4 651.8,1509.1 650,1508.9 647.6,1509.4 646.2,1511.2 644.8,1513.1 643.9,1512.1 643.2,1510.9 642.7,1508.6 642.7,1506.5 643.7,1504.9 643.7,1503.4 643.8,1501.4 643.2,1500.1 642.1,1499.2 642.5,1497.9 641.8,1496.6 643.8,1495.9 643.3,1494.1 645,1492.4 646.4,1491.1 644.6,1490.9 642.8,1489 643.3,1486.7 643.1,1485.3 643.1,1484.1 641.8,1485 639.3,1485.7 638.1,1484.7 636.6,1485.2 638.8,1485.5 638.5,1483 640.3,1482.3 641.7,1482 642.9,1480.1 644.2,1482.2 645.8,1480.8 646.6,1482.2 646.6,1483.5 645.6,1484.3 644.1,1484.3 642.7,1483.1 641.3,1484.3 643,1483.3 644.4,1484.9 644.9,1483.2 644.3,1481.5 643.3,1479.3 641.7,1478.7 640.8,1478.3 640.5,1475.7 639.3,1474.4 640.8,1473.6 642.9,1473.2 643.6,1472.3 643.8,1470.6 643.3,1468.9 643.2,1467.5 644.1,1466 643.8,1463.9 643.8,1461.7 642.3,1460 643,1458.1 643.8,1456.8 644.6,1455.4 644.8,1453.6 643.7,1452.7 644.1,1451.2 645.2,1449.6 646.9,1448.7 647.7,1446.9 647.6,1444.3 645.6,1443.2 644.9,1442 644.3,1440.7 642.3,1439.6 642.1,1438.1 642.5,1437 643.2,1436.1 643.6,1434.5 645.5,1433 647.1,1432.4 647.7,1431.1 649,1429.6 648.4,1428 648.2,1425.6 646.5,1423.9 646.8,1422.1 645.5,1420.5 644.3,1418.5 643.4,1416.4 643.3,1414.5 641.7,1413.9 640.9,1411.8 642.9,1410.7 642.2,1408.9 642.2,1407.8 641.9,1406.1 642.5,1404.5 642.1,1403 641.1,1402.2 640.2,1401.1 640,1399.6 639.2,1398.5 639,1396.6 638.1,1395.5 638.4,1394.3 637.7,1392.6 638.8,1391.2 640.4,1391.7 641.1,1390 641.1,1388.4 641.2,1386.3 640.7,1385.1 640.9,1383.4 641.7,1382.2 641.4,1380.8 641.4,1378.4 640,1377.3 639,1375.8 640.8,1374 641.5,1372.5 640.3,1371.4 640.9,1370.3 641.6,1369.1 641.5,1367.3 642,1366.1 641.2,1363.9 642.5,1362.1 642.3,1360.7 642.5,1358.3 642.8,1356.8 643.1,1355.4 644,1353.5 643.2,1351.7 642.7,1349.8 642.7,1348.4 642.7,1346.9 641.8,1345.6 641.1,1343.8 640.9,1342.1 639.9,1340.9 638.1,1339.7 639.3,1338 640.2,1336.2 640.3,1334.4 640.4,1333.2 640.3,1331.1 639.4,1329.7 639.6,1328 638.5,1325.8 638.9,1323.3 639.7,1321.4 638.3,1320.3 637.4,1318 638.7,1317.4 640.2,1316.5 639.5,1314.6 638.8,1312.6 638.6,1310.8 637.6,1308.8 638.5,1307.6 638.9,1305.7 638,1303.4 637.8,1301.5Z"/>
<path class="g" d="M630.8,1233 646.4,1232.1 659.8,1225.4 671,1223.2 672.3,1234.4 682.1,1245.5 700,1254.5 713.4,1261.2 716.5,1281.2 730.4,1282.1 731.2,1292.4 737.9,1303.6 735.7,1310.3 704.5,1312.5 702.2,1332.6 688.8,1337.1 673.2,1335.7 667.9,1341.5 657.6,1332.6 650.9,1321.4 650,1312.5 642,1294.6 644.2,1276.8 642,1258.9 644.2,1247.8 637.5,1236.6ZM704.5,1312.5 735.7,1310.3 740.2,1321.4 737.9,1332.6 744.6,1333.9 758,1337.1 758,1347.3 770.5,1352.7 769.2,1368.3 775.9,1372.8 764.7,1383 740.2,1382.6 744.6,1370.5 729,1360.7 717.9,1352.7 706.7,1342.9 702.2,1332.6ZM753.6,1410.7 758,1409.8 769.2,1417.4 780.4,1428.6 789.3,1442 788.9,1443.7 789.3,1444.8 787.6,1446.4 787.3,1448.7 785.5,1449.5 784.8,1450.9 782.4,1451.5 780.2,1451.4 778.7,1452.6 778.1,1453.8 775.9,1454.5 774.7,1454.2 772.9,1453.6 771.6,1453.2 770,1453.5 769.3,1451.1 768.3,1450.4 766.4,1450.4 764.9,1450.2 762.5,1450.9 753.6,1448.7 749.1,1439.7 750,1424.1ZM539.3,1168.8 538.3,1170 538.1,1171.1 539.6,1173.1 540.5,1174.4 541.5,1176.3 541.2,1177.4 540.8,1179.1 541.3,1181.1 541.7,1183.4 543,1185.5 543.8,1187.5 544.4,1189.1 546,1189.9 546.8,1191.2 549,1191.7 550.5,1193.2 551.8,1193.7 553.7,1194.8 552.9,1196.7 553,1198.4 553.4,1199.5 554,1201.2 554.9,1203.1 556.4,1203.9 557.9,1204.6 557.7,1207.1 557.7,1209.1 558.7,1210 559.7,1211.6 559.5,1213.5 561.1,1215.1 560.5,1216.9 561.6,1218.3 562.4,1219.8 563.1,1220.7 564.5,1221.7 566.1,1223.2 567.4,1223.6 568.7,1224 567.7,1226.2 567.6,1227.8 569.2,1229.3 569.9,1231.7 572.3,1232.5 572.3,1234.8 571.9,1237.1 573.4,1238 574.3,1239 574.7,1241.5 575,1243.3 576,1245.6 576.6,1247.8 577.6,1249 577.1,1250.8 577.2,1252.3 577.8,1254.6 577.8,1256.3 578.7,1257 578.8,1258.6 577.7,1260 578.8,1260.7 580.4,1260.6 582.1,1258.8 583,1260.6 583,1262.1 583.9,1263.4 584.8,1265.4 587.1,1266.5 588.2,1267.9 588.9,1270.1 589.6,1271.7 590.4,1272.7 592.3,1274 594.3,1274.8 594.9,1276.2 596.7,1277 598.8,1277.6 600,1278.9 601.8,1279 602.8,1280.2 603.8,1281.2 605.8,1281.3 607.3,1281.9 608.3,1282.9 610.5,1282.9 612.5,1282.8 613.3,1284.4 614.8,1284.4 615.9,1286 617.1,1286.7 618.8,1287.4 620.2,1288.6 621.9,1290.2 623.7,1290.2 625.1,1290.7 626,1292 627.1,1293 629.1,1293.9 630.4,1295.1 631.8,1295.5 632.9,1297.1 633.5,1298.1 635.4,1298.8 637.5,1300 638.8,1300.7 640.6,1300.2 640,1301.5 640.4,1303 641.3,1304.6 642.3,1305.7 642.6,1307.2 644.2,1308 650,1312.5 642,1294.6 644.2,1276.8 642,1258.9 644.2,1247.8 637.5,1236.6 630.8,1233 627.7,1221 615.2,1223.2 606.2,1214.3 601.8,1203.1 606.2,1192 617.4,1178.6 626.3,1171.9 630.8,1158.5 626.3,1154 610.7,1151.8 604,1154 597.3,1142.9 588.4,1133.9 586.2,1140.6 579.5,1149.6 568.3,1156.2 561.6,1162.9 557.1,1174.1 550.4,1173.2 546,1169.6 544.9,1168.4 543.2,1168.8 541.7,1168.5Z"/>
<path class="c1" d="M546,1133.9 547,1132.5 549.4,1131.8 549.9,1129.9 551.8,1130.1 552.2,1127.7 554.2,1127.4 554.9,1125.9 566.1,1127.2 579.5,1129.5 588.4,1133.9 586.2,1140.6 579.5,1149.6 568.3,1156.2 561.6,1162.9 557.1,1174.1 550.4,1173.2 546,1169.6 546.9,1167.6 546.9,1165.4 548.9,1164.9 547.9,1162.8 548.2,1160.7 549.6,1159.2 549.6,1157.6 549.4,1156.5 550,1154.9 550,1153.7 550.4,1151.8 548.9,1151.8 547.1,1152.3 545.8,1151.8 544.4,1151.7 543.2,1150.6 542.9,1149.6 542.7,1147.8 542.4,1146.5 544.2,1145.7 543.9,1144.1 542.8,1142.4 541.5,1140.6 542.9,1139.7 544.8,1138.7 546.1,1137.5 546.7,1136.2Z"/>
<path class="g" d="M574.1,1048.2 574.9,1046.8 576.4,1045.7 577,1044.8 578,1043.3 579.5,1042.1 580.8,1041.1 582.6,1041.2 584,1040.7 584,1039.2 583.9,1037.9 585.2,1037.1 586.2,1036.2 587.9,1034.5 590.3,1034 590.5,1032.9 590.6,1031.2 592.7,1031.3 593.7,1029.5 596,1029.2 596.8,1027.9 599,1027.4 600.2,1027.1 601.8,1027.7 604.1,1026.6 605.2,1024.9 606.6,1024.8 608.1,1024.5 610.1,1024.2 611.6,1023.9 612.9,1022.3 615.3,1021.8 616.2,1019.4 617.5,1019 619.1,1018.1 620.6,1017.8 621.9,1017.9 623.8,1018.7 624,1020.1 625,1021.4 624.2,1022.2 622.8,1023.1 620.7,1024 618.7,1024.7 618.6,1026.9 617.4,1029 616.2,1030.9 615.5,1032.2 615.7,1034.3 613.8,1034.3 612.2,1033.6 610.9,1034.7 610.7,1035.7 608.5,1044.6 610.7,1058 617.4,1064.7 633,1067 646.4,1073.7 650.9,1087.1 648.7,1100.4 653.1,1115.2 630.8,1117 632.1,1129.5 633,1142.9 628.6,1154 630.8,1158.5 626.3,1154 610.7,1151.8 604,1154 597.3,1142.9 588.4,1133.9 579.5,1129.5 566.1,1127.2 554.9,1125.9 555.3,1124.2 555.6,1122.2 556.6,1121.1 558.2,1120.3 559.4,1118.3 560.3,1117.1 562.4,1116.3 562.7,1114.3 563.4,1113.4 563.7,1112.3 563.5,1110.8 563.9,1109.1 565.7,1108.3 567,1107.1 568.5,1105.8 568.4,1103.5 569.6,1102.7 570.3,1101.4 570.1,1099.2 570.7,1096.9 571.8,1095.4 571.4,1093.8 572.5,1091.4 571.2,1089.8 571.6,1088.2 570.9,1085.7 570.9,1084 570,1082.6 570.5,1080.4 570,1078.2 569.4,1076.8 570.5,1075.2 569.1,1074.6 569.1,1072.9 568.2,1071.3 568.4,1069.4 569.1,1067.9 569.6,1067 570.2,1065.7 569.6,1063.8 570.6,1062 572.2,1060.4 572.8,1058ZM610.7,1035.7 612.1,1035.5 614.4,1035.1 615.2,1034.4 616.5,1033.4 617.4,1031.2 618.8,1032.6 619.2,1034 619.1,1035.3 617.6,1036.3 616.1,1038.1 615,1039.6 616,1041 615.2,1042.4 615.8,1043.8 615.4,1045.9 617.6,1046 618.8,1046.9 620.6,1045.8 622.4,1045.1 622.7,1043.6 623.2,1042.4 621.6,1041.5 621.4,1040.1 621.7,1038.8 621.8,1037.4 621.9,1035.4 621.9,1033.5 623.8,1032.3 625.3,1031.5 627,1032.2 628.3,1032.7 628.6,1031.3 628.6,1030 628.6,1027.7 630.1,1026.5 631.6,1026.9 632.9,1026.8 634.7,1027.9 636.7,1027.8 638.6,1026.8 640,1026.7 640.8,1028.4 642,1029 644.3,1028.5 644.8,1030 645.7,1031 648,1030.8 648.7,1032.7 650.3,1032.3 652.6,1033 653.7,1032.6 655.4,1033.5 657.3,1033.7 659.3,1033.5 661.4,1033.9 663,1033.5 664.9,1034.9 666,1035.6 667.9,1036.1 670.1,1035.1 671.4,1035.7 673.2,1036.6 674.9,1035.7 676.3,1034.6 678.7,1034.9 679.8,1033.8 680.6,1033.1 682.1,1032.1 683.2,1034.4 685,1035.6 686.2,1036.6 687.5,1035.9 689.5,1035.4 691.9,1035.2 693.3,1035.7 695.4,1036.8 697.2,1037.8 698.9,1036.7 700.4,1035.7 702.2,1034.3 704,1034.7 705.3,1035.3 706.7,1034.8 705.5,1036.4 705.6,1037.7 707.1,1038.2 708.4,1039.4 706.2,1040.6 704.5,1042.4 705.8,1042.6 706.9,1043.9 708.2,1045.7 709.5,1047.1 708.9,1049.1 709.7,1049.8 710.6,1051.1 711.8,1052.3 712.7,1054.3 714.3,1054.9 716.1,1056.3 717.9,1055.8 711.2,1064.7 704.5,1075.9 708.9,1084.8 697.8,1092.9 682.1,1096 677.7,1113.8 664.3,1124.1 653.1,1115.2 648.7,1100.4 650.9,1087.1 646.4,1073.7 633,1067 617.4,1064.7 610.7,1058 608.5,1044.6ZM717.9,1055.8 719,1057.2 721.2,1058 722.6,1060.2 723.9,1061.4 725.3,1063.1 726.7,1063.3 728.1,1064.8 729,1067 729.5,1068.8 731.1,1069 731.4,1070.5 730.9,1071.8 732.8,1073.1 731.5,1075.3 732.6,1077.1 734.4,1078 735.7,1078.1 731.2,1089.3 735.7,1100.4 735.7,1115.2 717.9,1117 715.6,1102.7 708.9,1084.8 704.5,1075.9 711.2,1064.7ZM735.7,1078.1 737.9,1077.7 739.3,1076.8 739,1074.9 740.4,1073.9 739.7,1071.9 741.5,1071.2 743.1,1071.9 744.3,1071.9 744.7,1073.8 745.5,1074.9 746.9,1075.9 748.2,1077.2 749.9,1078.8 751.5,1079.5 753,1079.7 754.3,1079.5 756.1,1079.9 757.6,1078.4 758.9,1078.1 758,1093.8 758,1110.7 746.9,1109.4 735.7,1115.2 735.7,1100.4 731.2,1089.3ZM758.9,1078.1 760.7,1079.6 762.3,1080.9 763.9,1081.4 764.4,1083.1 765.4,1082.4 766.6,1081.5 767.7,1080.7 769.2,1080.4 770.5,1081.3 772.1,1083.1 773.1,1084.2 774,1085 775.9,1086.7 777.1,1087.7 779,1088.7 780.3,1090 781.6,1090.9 782.6,1091.5 784.2,1092.2 783.9,1093.8 771.4,1110.7 758,1110.7 758,1093.8ZM772.3,1603.6 774.6,1603.5 776.7,1602.5 779,1601.6 780.4,1601.7 782.6,1601.8 783.9,1602.5 785.5,1602.7 786.6,1602.3 788.1,1601.8 789.9,1601.1 791.7,1601.8 792.1,1603 793.9,1604.1 795.9,1603.2 797.3,1603.6 796.4,1604.7 794.9,1604.6 794.5,1606.7 793.3,1607.5 793.8,1609.4 791.6,1608.8 790.4,1610 788.3,1611.5 786.1,1610.4 783.8,1611.2 782.3,1610.9 780.4,1610.7 780.3,1609 779.8,1607.5 778.7,1606.9 776.8,1606.2 775,1605.1 773.7,1603.6ZM938.8,1626.3 940,1627.1 941.3,1628.2 943.4,1628.2 945.6,1626.9 947.8,1627.7 949.3,1628.7 950.6,1628.8 952.2,1628.7 953.3,1628.4 953.5,1630.3 954.4,1631.3 956.3,1631.5 956.7,1633 954.5,1632.7 953.4,1634 951.7,1632.3 949.8,1631.5 948.2,1630.7 946.4,1631.2 945.1,1630.3 943.9,1628.6 943,1627.4 941.7,1626.5 940.5,1626.8ZM1255.5,434.6 1257.6,435.5 1260,435.9 1261.9,436.8 1263.1,435.1 1264.5,433.3 1265.3,431.1 1265.7,432.3 1267.6,432.6 1269.5,432.4 1272.1,432.4 1272.2,434.1 1271.7,435.2 1270.5,436 1268.9,436.8 1270,436.4 1271.4,435.5 1273.1,436.1 1274.7,435.9 1276.9,437 1278.1,435.2 1280,436.4 1282,436.3 1283.1,435.1 1283.8,434.2 1285,432 1286.3,432.1 1288.1,431.9 1290.1,431.6 1292.3,431.6 1294.2,432.5 1296.3,431.8 1297.8,430.7 1300.1,430.2 1301.6,429.8 1303.2,429.4 1305.4,428.7 1307.7,428.7 1309.4,429.7 1311.3,429.7 1311.5,432 1313.1,433.3 1313.9,431.8 1315.7,430.2 1317.2,430.3 1318.3,430.2 1320.1,430.9 1319.9,432.7 1321.3,433.9 1323.3,434.1 1324.5,433.2 1325.9,431.3 1327,433.3 1328.9,432.3 1330.8,431.2 1331.2,432.4 1331.3,433.9 1329.7,433.4 1329.3,432 1327.7,433 1327.9,434.7 1329.1,436.4 1331.4,436.9 1333.3,435.9 1334.8,436.2 1336.4,436.1 1338,434.8 1339.3,435.2 1338.8,432.8 1337,434.4 1336.2,435.9 1334.8,435.8 1333.3,436.1 1331.7,436.7 1330.5,435.6 1329.1,436.1 1328.2,437.3 1325.9,438.4 1325.5,440.6 1326.5,441.8 1324.8,442.4 1323.6,442.5 1322.3,443 1321.3,443.9 1320,442.2 1318.3,442.3 1318.3,444.5 1320.5,444.7 1322.2,444.6 1324.7,444.8 1325.8,445.8 1326.9,446.4 1327.3,447.9 1328.5,448.7 1326.7,447.7 1325.9,449.9 1324.4,448.1 1322,447.2 1320.5,448.3 1320.8,450 1319.2,451.4 1317.4,451.6 1316.1,451.5 1314.8,451.9 1313,451.9 1312.4,450 1311.9,448.2 1310.6,447.4 1308,446.9 1306.4,447.2 1304.4,446.6 1302.9,446.1 1301.1,447 1299.7,447.8 1297.4,447.8 1298,446 1297.1,444.8 1298.3,445.4 1299.3,446.7 1298.6,448.2 1297.8,450 1297.5,452.1 1298,454.2 1296.5,455.2 1294.9,454.7 1292.6,455.1 1291.4,456.7 1289.1,455.7 1286.6,455.1 1285,453.8 1282.9,455.2 1281.3,454.6 1280.2,453.4 1280.3,451.9 1279.8,450 1277.8,449.2 1276.1,447.6 1274.6,446.8 1272.1,446.1 1270.6,446.7 1269.2,448.1 1268.3,446.5 1268,445 1266.7,443.7 1265.6,443.1 1264.5,442.3 1263,442.1 1261.9,440.5 1260.9,441 1259.7,442.1 1258.9,441 1258.1,439.7 1257,437.9 1257.5,436.4 1256.1,435.7Z"/>
<path class="c1" d="M1561.6,453.3 1562.7,452.8 1564.3,453.3 1565.8,451.7 1566.9,453.1 1568,454.3 1569.5,455.4 1569.3,457.6 1568.4,456.7 1566.7,455.8 1566,457.4 1565.6,458.6 1563.2,457.8 1561.8,458.4 1561.6,460.2 1562,462 1560.7,462.7 1559.3,464.1 1558.2,465 1556.4,464.5 1554.5,464.7 1552.7,463.7 1551.4,462.8 1549.9,462 1548.3,463.2 1546.6,464.7 1545.5,463.4 1544.8,464.7 1543.6,465.5 1541.1,465.3 1539.7,465.3 1538.1,465.5 1537.3,463.3 1535.5,463.1 1533.2,464.3 1532.6,465.8 1531.5,467.2 1530.9,469.2 1529.1,470.3 1529.3,472.1 1528.4,474.5 1526.9,473.6 1525.8,474.9 1524.8,474.2 1523.2,474.3 1522.7,476 1521.5,476.7 1520.8,477.6 1519.2,478.3 1518.6,480.4 1516.8,480 1518.1,482 1517.8,483.6 1518.7,485.2 1517.6,486.4 1517.3,487.6 1518.5,488.8 1519.4,489.7 1520.4,491.1 1522.2,492 1521.2,493.9 1523,494.5 1524.5,493.7 1525.6,494.8 1525.8,496.1 1526.1,497.8 1528.1,498.8 1530.2,499.9 1531.6,499.4 1533.5,499.4 1531.9,499.1 1530.8,499.1 1528.9,500.1 1527.5,500.3 1525.8,499.9 1524,500.3 1523.7,501.8 1523.3,503.7 1521.5,503.6 1521.7,501.3 1521.3,502.7 1519.4,503.6 1517.7,502.5 1516.4,501.6 1515.3,502.5 1513.6,502.3 1514.8,501.4 1516.3,500.1 1516.4,498.3 1515.5,497.4 1514.6,495.3 1512.9,495 1514.4,493.1 1512.7,492 1511,493 1509.8,493.8 1508.5,492.9 1507.5,492.4 1505.3,493.5 1504.1,493.6 1502.7,494.1 1501.3,495.4 1499.8,495.3 1499.7,494.2 1499.7,492.4 1497.6,490.9 1497.9,489.2 1498.7,487.7 1497.3,486.6 1496.3,485.8 1497,483.5 1496.3,481.9 1497.6,480.7 1497.6,479.4 1497.3,477.3 1498.7,476.6 1499.9,477.3 1501.4,476.9 1501.3,474.8 1502.4,474 1503.5,473.4 1504,471.6 1505.5,470.8 1505.3,469.2 1506.2,467.6 1507.9,466.1 1508,463.8 1510.4,464 1511.5,463.5 1513,463.7 1514.7,463.5 1516.2,462.3 1518.3,463.2 1520.2,461.8 1520.6,460.2 1522.9,460.2 1524.2,459.3 1525.4,458.1 1527.6,457.4 1529.2,457 1530.9,457.2 1532.2,457.8 1533.5,457.6 1534.9,457.9 1536.8,457.8 1536.9,459.4 1537.7,460.5 1539.1,461.1 1540.3,461.5 1542.2,461 1543.8,460.7 1544.5,459.6 1545.9,457.9 1547.1,456.5 1548.8,455.1 1549.9,456.9 1551.4,457.4 1552.5,456.4 1554,455.8 1556,456.2 1557.5,455.2 1559,456.5 1560.6,454.7ZM1425.9,428.7 1427.4,430.3 1428.7,429.5 1430,430 1431.9,429.3 1433.5,428.6 1434.8,427.9 1436.1,427.7 1437.5,427.6 1438.7,426.9 1440.2,427 1441.7,427.8 1442.8,428.3 1444.6,428.7 1447.1,429.2 1448.9,429.6 1450,428.9 1451.5,427.7 1453.3,429 1454.8,430.3 1456.3,430.5 1457.9,430.9 1460.4,430.7 1458.6,431.7 1457,431 1455.1,430.7 1454.2,432.4 1451.9,431.9 1450.1,432.4 1448.9,432.8 1447.5,432.4 1445.5,432.6 1444.1,433.1 1442.8,433.9 1441.4,434.1 1439.9,433.4 1438.1,432.6 1436.1,432 1434.3,430.5 1432.6,431.2 1431.3,430.9 1429.6,430.9 1427.8,429.5ZM1464.3,430.2 1466.1,429.5 1467.6,428.8 1469.1,428.3 1470.6,427.4 1473.1,427.3 1474.5,425.6 1476.1,425 1477.1,423.2 1478.7,423.9 1480.4,423.9 1482.5,424.1 1483.4,422.8 1485.3,423.6 1486.3,422.2 1487.4,423.7 1488.3,424.3 1489.9,424.3 1491.7,425.3 1493.4,424.1 1495.4,423.3 1497.2,424.7 1498.4,423.8 1500.8,423.4 1501.7,424.2 1502.4,425.8 1504,425.3 1505.3,425.6 1506.7,425 1508.7,424.9 1510.2,424.7 1511.7,424.6 1512.9,422.7 1514.3,422.1 1516.2,421.8 1517,423.4 1517.2,425.7 1518.9,425.8 1520.6,425.6 1522.2,426.1 1524.7,426.2 1526.6,426 1527.1,427.7 1526.2,426.5 1524.9,425.9 1523.1,426.7 1521.7,426.9 1520,428.5 1518.1,428.4 1516.9,429.3 1515.5,430.7 1513.7,431.9 1512.6,430.8 1511.9,429.9 1509.7,430 1509.4,431.9 1507.3,430.7 1505.9,431.3 1504.3,431.9 1502.6,433.5 1500.2,432.8 1498.8,433.3 1497.7,434.1 1495.7,433.1 1493.9,433.5 1491.8,433.3 1490.4,432.6 1489.5,431 1487.6,431.8 1486.3,432.8 1484.8,432 1482.9,433.7 1480.7,433.4 1479.1,432.9 1478.2,431.8 1476.7,431.5 1475.3,431.5 1473.8,432 1472,432.8 1469.7,432 1468.1,431.7 1467,432.2 1465.3,431.2Z"/>
<path class="c2" d="M1244,602.4 1245.3,600.2 1243.9,598.2 1243.1,596.8 1242.2,595.8 1240.7,594.7 1239.6,595.5 1237.6,594.7 1237.7,592.2 1237.5,591.1 1237.3,589.5 1235.2,590.4 1234.8,588.8 1233.9,588 1234.6,586.1 1233.7,584.5 1234,582 1235.7,580.1 1234.1,578.6 1232.4,578.5 1231.4,576.9 1231.2,575.5 1232.2,574.5 1231.7,572.6 1232.3,573.8 1233.9,574.2 1235.9,574 1236.4,572 1234.6,572.3 1233.6,570.5 1233.8,568.7 1232.4,567.8 1233.6,565.7 1235.6,565.6 1237.7,566.1 1238.5,568.4 1237.9,566.2 1240.5,566.2 1240.1,564 1240.6,562.3 1240.1,561.1 1238.7,560.7 1237.5,559.9 1237.2,558.2 1237.1,556.4 1239.1,556.5 1240.3,555.5 1241.2,554.8 1242.8,554.9 1245,554.2 1246.3,552.8 1247.5,552.3 1249.1,551.2 1250.2,552.1 1249.7,554.5 1249.4,556.3 1249.1,558.8 1249.9,556.5 1251,554.9 1252.5,555.6 1254.2,554.3 1256.1,555.5 1256.8,553.7 1258.5,554.5 1259,555.7 1259.9,554.7 1260.3,552.8 1261.7,552 1261.9,550.6 1263.2,548.6 1263.4,546.1 1263.7,544.2 1265,543.6 1266.2,542.2 1268.3,543.7 1269.6,542.2 1270.4,540.8 1271,540 1272.5,538.7 1272.1,537.2 1273.6,536 1274.7,534.5 1276.3,534.3 1278.3,534.4 1279.4,533.4 1280.9,533.6 1279.7,533 1279.5,531.3 1279.3,529.9 1280.1,528.6 1279.8,526.8 1279.5,525.4 1280.9,524 1281.7,522.8 1281,521.4 1282,522.2 1283.6,522.5 1285,520.4 1282.6,519.7 1281.1,518.4 1280.7,520.8 1278.5,520.4 1279.8,519.7 1281.5,518.7 1282.1,517.2 1281.7,515.3 1281.7,517.2 1283.2,517.5 1283.6,516.1 1285,515.3 1286.4,514.4 1288.1,512.8 1290.2,512.1 1292.6,511.4 1294.4,509.6 1296.1,508.1 1297.3,506 1295.3,506.7 1294.6,505 1295.8,504.1 1297.7,504.9 1299.2,506.3 1300.4,505 1300.3,507.6 1301.3,505.8 1302.7,504.6 1303.9,506.8 1306.4,506.4 1306.3,504.6 1308,503.8 1307.1,501.6 1305.4,502.8 1307.2,502.1 1306.7,500.3 1305.5,499 1305.6,497.5 1306.6,498.9 1307.9,500.9 1309.8,500.4 1309.9,498.9 1312.2,499.6 1314.4,500.6 1316.7,500.9 1318.3,501.2 1319.8,500.1 1320.4,499.1 1319.4,497.4 1321.5,496 1323.3,494.9 1324.4,496.9 1325.8,495.3 1326.7,497.5 1328.5,498.6 1330.1,499.4 1331.9,498.6 1332.5,496.3 1333.5,495 1334.6,494.5 1336.1,494.8 1337.3,495.5 1338.8,496.8 1340.2,496.7 1341.9,495.3 1343.4,493.6 1344.7,495.8 1345.3,497.2 1345.2,499.4 1344.3,498.7 1343.2,497.6 1344.2,496 1343.7,494.4 1345,494.7 1346.3,493.9 1347.4,494.5 1349,495.3 1349.3,496.5 1350.5,497.5 1351.4,499.1 1353.1,498.7 1354.4,498 1355.4,496.1 1353.3,494.9 1354.8,493.8 1356.8,494.3 1357.9,495.7 1359.2,496.1 1361.2,496 1362,497.3 1362,495.7 1363.8,495.3 1365.6,495.3 1368,495.5 1369.5,496.8 1370.2,495.6 1372.3,495.5 1373.5,497.8 1374.9,499.1 1377.2,498.6 1379.1,499.8 1381,500.1 1382.3,501.2 1382.2,502.5 1382.8,503.9 1381.4,504 1379.7,505 1378.5,506.9 1378.7,508.6 1376.8,510 1374.6,508.8 1372.9,508.2 1372.1,506.3 1372.9,507.6 1373.5,508.7 1374.6,510.2 1373,510.7 1370.8,510.2 1366.9,506.3 1359.2,503.8 1352.8,506.3 1347.7,512.7 1338.8,514 1332.3,511.4 1325.9,510.2 1320.8,514 1313.1,515.3 1305.4,520.4 1300.3,525.5 1296.5,533.2 1292.6,542.2 1288.8,549.9 1282.4,553.7 1278.5,558.8 1277.3,566.5 1281.1,574.2 1279.8,581.9 1277.3,589.6 1276,596 1273.7,596.2 1271.9,596.6 1270,596.1 1268.6,595.5 1268.9,593 1270.9,592.1 1270.8,590.8 1269.1,590 1268.3,588.3 1270,587.1 1270.9,588.9 1273.2,589.3 1271.6,589.6 1270.6,591.3 1271.6,592.7 1273.9,592.5 1272.7,594.4 1272,592.9 1271.3,591.7 1269.2,590.7 1267.8,591.9 1265.8,592.9 1268,593.3 1269.1,594.9 1268.9,597.2 1267.2,597.6 1265.4,597.7 1263.4,597.8 1265.4,597.1 1264.5,594.7 1262.2,594.6 1261.6,597 1259.4,597.5 1259.3,599.8 1258.2,600.2 1257.4,601.7 1255,602.4 1253.1,601.3 1251.6,602.4 1251.9,604 1252.1,605 1251,604.5 1249.3,604.2 1248,602.1 1245.7,602.3ZM1332.3,511.4 1338.8,514 1343.9,520.4 1346.4,528.1 1347.7,535.8 1346.5,537.7 1345.4,538.6 1343.8,538.8 1344.9,540 1344.4,541.7 1342.8,541 1340.8,542.4 1341.1,541 1340.6,539.4 1338.8,538.3 1336.7,539.7 1335.2,540 1334,538.9 1335.3,540.9 1334.4,542.5 1333.6,544.7 1332.4,546.6 1333.6,547.9 1331.9,549.1 1332.3,551.2 1333.2,553.5 1332.4,554.3 1330.6,554.4 1328.4,554.9 1327.4,555.7 1325.9,556.3 1326.3,558.2 1327.3,560.2 1325.6,560.5 1323.5,561.4 1321.7,562.4 1322.6,563.6 1321.5,565 1322.5,562.7 1320.1,562.5 1318.3,561.4 1317,562.9 1316.3,565.4 1314.5,566.2 1313.1,566.5 1313.2,567.7 1312.8,569.2 1311.2,569.5 1309.7,570.7 1309.5,572.4 1309.1,573.7 1310.4,573.6 1311.9,574.2 1313.2,575.7 1312.9,577.7 1314.1,576.4 1316.3,577 1316.8,579 1315.7,580.6 1317.4,582.4 1315.7,582.6 1315,584 1316.7,584.8 1317.7,585.7 1318.6,584.7 1320.2,584.4 1322.1,584.5 1324.2,584.1 1325.8,585.4 1324.8,586.7 1324.7,588.3 1322.9,589.5 1322.8,591.7 1321.9,593.7 1320.8,594.7 1319.7,593.7 1318.4,592.5 1317.4,593.6 1316.4,594.4 1316.3,596.9 1314.1,596.1 1312.3,594.7 1313.2,596.5 1315.2,596.1 1314.4,598.5 1312.9,599.6 1311.5,600.2 1309.5,600.2 1309.3,602.4 1310.9,604.2 1310.2,605.3 1310.5,606.8 1308.8,605.1 1307.9,607.2 1306.1,608.4 1308,610.1 1305.9,609.7 1305.7,611.6 1305.5,613.1 1305.2,614.2 1305.7,616.6 1306.7,617.8 1305.7,619.2 1304.4,619.8 1302.9,621.6 1300.5,621.7 1298.7,619.9 1298,622.1 1296.5,623.4 1294.5,624 1293.1,623.4 1291.4,624.2 1289.5,624 1288.2,622.6 1287,621.4 1286,620.2 1286.9,617.9 1288.8,617.8 1287.6,615.6 1285,615.7 1286.2,617.1 1288.5,617 1288.5,615 1289.1,613.2 1289,611.2 1289.3,610 1289.7,608.5 1287.3,608.5 1285.9,608.7 1285,610.1 1284.2,607.9 1284.6,606.4 1284,605.1 1283,604.1 1282.4,602.4 1280.9,601.1 1279.1,601.3 1279.1,599.4 1278.5,597.3 1277.3,596.2 1276,596 1277.3,589.6 1279.8,581.9 1281.1,574.2 1277.3,566.5 1278.5,558.8 1282.4,553.7 1288.8,549.9 1292.6,542.2 1296.5,533.2 1300.3,525.5 1305.4,520.4 1313.1,515.3 1320.8,514 1325.9,510.2ZM1322.1,605 1324.7,604.7 1324.6,603.2 1325.9,602.4 1327.8,603.9 1327.2,606.2 1327.6,607.9 1326.9,609 1324.9,610.2 1323.9,611.4 1323.8,609.4 1325.3,607.4 1324.2,605.9 1322.5,607.2Z"/>
<path class="c1" d="M1332.3,511.4 1338.8,514 1347.7,512.7 1352.8,506.3 1359.2,503.8 1366.9,506.3 1370.8,510.2 1374.6,519.1 1378.5,525.5 1377.2,533.2 1384.9,539.6 1386.1,548.6 1391.3,553.7 1400.2,561.4 1395.1,569.1 1387.4,576.8 1385.7,578 1386.4,579.8 1385.3,578.2 1383.8,579.5 1382.5,579.6 1381,580.6 1381.5,581.7 1381.9,583.1 1379.8,583.7 1379.1,585.1 1377.5,586.8 1375.2,586.5 1374.3,584.6 1374.8,582.7 1373.6,583.8 1371.9,583 1369.5,582.4 1369.3,584.5 1367.8,584.3 1366.6,585.2 1364.7,586.3 1363.2,586.6 1362.3,584.6 1360.6,583.2 1358.6,582.3 1356.7,583.9 1355,584 1354.4,582.6 1353.3,583.4 1352.3,584.6 1351,584.9 1349.1,585.4 1347.6,584.1 1346.4,583.2 1345.1,583.7 1344.4,585.6 1343.2,584.8 1343.1,582.9 1341.1,582.1 1338.8,581.9 1338,579.8 1338.1,578.5 1339,577.3 1338.4,576 1337.5,574.2 1336.2,572.7 1334.3,571.6 1333.6,569.9 1333.6,568.2 1336,568.9 1336.2,566.5 1335.9,564.8 1334.4,562.9 1335.4,561.8 1335.3,560.3 1333.6,558.8 1334,557.5 1334.9,556.2 1336.1,555.4 1336.2,553.7 1337.5,552.5 1339.5,553.3 1341.6,554.3 1343,555.2 1344.1,553.8 1344.5,552.4 1345,550.8 1346.8,550.4 1346.2,548 1344.3,547.4 1342.5,548.4 1341.3,548.6 1341.8,547.3 1341.9,545.2 1343.9,545.1 1345.8,545.9 1348.2,545.1 1349,543.5 1351.6,543.9 1353.4,545.2 1354.3,546.7 1353.1,544.6 1351.8,543.1 1353.3,541.5 1353.7,540.3 1355.4,539.6 1355.2,538.1 1354,536.8 1351.6,537.1 1350.8,535.6 1349.6,535.2 1347.7,535.8 1346.4,528.1 1343.9,520.4 1338.8,514Z"/>
<path class="c2" d="M1233.7,645.9 1235.2,645.9 1237.1,644.6 1239.4,644.5 1240.7,643.8 1241.4,642.1 1243.9,641.7 1245.5,641.5 1247.5,640.8 1249.6,640.8 1250.4,645.9 1246.5,652.3 1245.2,658.8 1241.4,661.3 1236.3,657.5 1229.9,656.2 1228.7,655.2 1227.9,654.5 1227.3,652.3 1229.1,651.4 1230.9,652.2 1232.1,651.8 1232.4,650 1234.1,649.2 1233.5,647.6ZM1219.6,661.3 1221.4,659.6 1223.2,659.4 1225.3,658 1227.3,657.5 1229,657 1229.9,656.2 1236.3,657.5 1241.4,661.3 1245.2,666.4 1244,672.8 1238.8,675.4 1233.7,671.6 1226,667.7Z"/>
<path class="c3" d="M1250.4,640.8 1252.4,641.6 1253.7,640.6 1254.4,639.6 1254.7,638.3 1255.4,636.6 1255.1,638.4 1253.9,639.1 1255.8,637.6 1255.4,638.9 1257,639.9 1258.8,638.9 1259.3,637 1257.7,635 1259,634 1258.5,632.4 1259.5,630.9 1260.9,631.3 1262.4,630.6 1268.3,631.9 1269.3,633.9 1269.4,635.4 1267.6,636.1 1268.2,634.1 1270.1,634.7 1272.1,635.7 1274.2,635.5 1275.7,634.6 1276.2,633.4 1278.6,634 1280.3,633.1 1281.1,632.1 1282.3,633.2 1282.4,634.4 1281.6,632.7 1283.6,631.1 1285.3,631.2 1286.1,630.3 1288.6,629.8 1290,631 1291.4,631.9 1290,631.7 1288.8,632.7 1289.4,634.8 1290.6,636.1 1292.3,636.8 1293.9,637.3 1295.1,637.2 1296.5,638.1 1297.2,639.3 1297.6,641.5 1298.5,640.6 1298.3,638.8 1299,637 1301.6,645.9 1304.2,656.2 1305.4,663.9 1297.8,666.4 1288.8,670.3 1295.2,676.7 1300.3,684.4 1292.6,688.2 1295.2,693.3 1285,694.6 1274.7,694.6 1265.7,693.3 1256.8,694.1 1255.5,686.9 1259.3,680.5 1251.6,678 1245.2,675.4 1245.2,666.4 1241.4,661.3 1245.2,658.8 1246.5,652.3 1250.4,645.9ZM1213.2,663.9 1214.8,662.1 1216.5,661 1218.3,661.4 1219.6,661.3 1226,667.7 1233.7,671.6 1238.8,675.4 1245.2,675.4 1251.6,678 1259.3,680.5 1255.5,686.9 1256.8,694.1 1251.6,697.2 1250.4,703.6 1259.3,706.1 1264.5,713.8 1267,720.2 1269.6,724.9 1267.9,725.2 1266.7,725.8 1264.2,726.5 1261.9,727.1 1260.6,728.4 1259.4,729.4 1258.4,729.9 1256.8,729.6 1255.2,729.6 1252.7,730 1251.6,730.8 1250.4,731.8 1249,732.1 1248,733.7 1246.3,732.8 1244,733 1242.2,731.8 1240.4,732.3 1238.8,731.6 1238,730.5 1236.3,730.5 1234.5,731.5 1233.5,732.3 1231.6,733.1 1229.9,732.4 1228.6,733 1227.3,733.7 1226.8,735.6 1225.2,736.9 1225.1,738.9 1224.7,740.7 1215.8,739.5 1205.5,736.9 1195.3,734.3 1191.4,730.5 1192.2,729 1193,727.9 1194.6,726.2 1193.5,724.8 1193.7,722.9 1193.8,721.1 1192.7,720.2 1192.2,717.8 1191.1,717 1190,716 1188.6,714.1 1190,713.2 1190.2,711.3 1189.7,709.1 1188.9,707 1187.5,704.9 1186.5,703.6 1185,702.3 1183.9,701.5 1183.5,700 1182,698.3 1180.3,699.1 1178.6,697.2 1177,697 1176,696.8 1175.1,695 1174,693.3 1172.2,693.3 1170.3,692.1 1168.8,690.8 1168.8,689.3 1167.1,688.2 1169,687.7 1170.9,686.2 1172,685.4 1173.5,684.4 1175.6,685.4 1177.8,686.3 1179,685.8 1180.7,686.2 1181.6,684.5 1182.5,683.1 1183.8,683 1185.7,682.8 1187.4,682.7 1188.9,681.8 1188.8,679.3 1187.9,678.4 1187.6,676.7 1189.2,676.2 1190.7,676.6 1192.7,675.4 1194.7,676.5 1196.6,678 1197.9,677.6 1199.1,676.6 1200.9,676.2 1203,675.4 1204.7,673.6 1206.7,672.7 1208.1,671.6 1209.4,670.2 1209.1,668.3 1210.7,666.4 1211.3,665Z"/>
<path class="c1" d="M1301.6,638.3 1302.8,638.4 1304.4,638.2 1305.8,639.1 1306.2,640.3 1308.5,640.5 1308.4,638.5 1308.8,637 1310.2,636.5 1312.4,637.4 1312.8,636.3 1313.5,634.8 1313.2,632.2 1312.1,633.5 1310.6,633.1 1312.2,632.8 1313.7,632.7 1315.2,633 1316.9,631.9 1318.7,631 1319.8,630 1322.1,630.6 1324.1,629.4 1323.3,627.2 1325.3,628 1326.6,628.4 1328.6,628.5 1330.2,629.8 1332.3,630 1332.3,631.9 1341.3,633.6 1358,634.4 1363.1,638.3 1365.7,645.9 1364.4,653.6 1368.2,661.3 1370.8,667.7 1365.7,674.1 1361.8,679.2 1351.6,678 1341.3,676.7 1332.3,675.4 1325.9,671.6 1318.3,669 1309.3,666.4 1305.4,663.9 1304.2,656.2 1301.6,645.9ZM1363.1,638.3 1369.5,630.6 1379.7,625.4 1391.3,619 1402.8,620.8 1410.5,626.7 1415.6,635.7 1424.6,642.1 1420.7,647.2 1420.7,653.6 1415.6,660 1407.9,658.8 1395.1,656.2 1382.3,654.9 1372.1,656.2 1368.2,661.3 1364.4,653.6 1365.7,645.9ZM1343.9,620.3 1351.6,616.5 1361.8,616.5 1372.1,617.8 1379.7,621.6 1380.2,624 1379.1,622 1377.5,623.3 1378.8,624.3 1379.7,625.4 1369.5,630.6 1363.1,638.3 1358,634.4 1356.7,630.6 1346.4,629.3 1342.6,625.4 1343.7,624.1 1344.7,622.8 1342.3,622.5 1343.1,621.5ZM1343.9,610.1 1343.6,607.8 1344.7,606.1 1343.3,605.2 1344.1,603.5 1345.9,604.3 1347.3,605.3 1349.8,605.8 1351.6,605 1353.4,606 1354.9,605.4 1356.2,604.7 1357.1,606.5 1358,608.8 1358.9,607 1360.5,608.1 1362.2,606.9 1362.5,609.4 1363.7,609.1 1365.3,609.3 1364,608.9 1362.3,608.7 1361.7,607.6 1360.6,606.8 1358.7,605.3 1360.6,604.1 1361.8,602.4 1370.8,605 1382.3,608.8 1388.7,613.9 1391.3,619 1379.7,621.6 1372.1,617.8 1361.8,616.5 1351.6,616.5 1343.9,620.3 1342.1,621.6 1340.6,622.1 1339.3,621.6 1341.4,621.9 1342.1,620.4 1341.9,619.3 1341.1,618 1341,616.7 1341.7,615.4 1341.2,614.1 1339.7,615.9 1338.5,614 1339.1,612.6 1341.2,611.3 1342.8,610.6ZM1355.4,593.4 1356.3,591.4 1358.4,592.8 1360.6,592.2 1361.8,591.4 1362.3,589.9 1364.4,590.9 1366.2,589.3 1368.3,588.4 1369.4,589.8 1369.9,588.1 1371.4,587.8 1372.6,589.6 1374.6,589.6 1376.4,589 1377.1,587.6 1379.1,587.1 1381.1,587.8 1382.1,589.4 1383.5,590.5 1384.9,590.9 1383.6,598.5 1384.9,605 1382.3,608.8 1370.8,605 1361.8,602.4 1361.6,600.5 1360.1,600.3 1359.9,598.4 1358,597.3 1356.7,595.6ZM1332.3,631.9 1334.3,631.8 1336,631.1 1335.9,629.8 1336.2,628 1337.8,629.4 1338.8,629.8 1340.1,630.9 1341.8,630.6 1343.7,631.3 1345.3,630.8 1346.4,629.3 1356.7,630.6 1358,634.4 1341.3,633.6ZM1347.7,597.3 1349.6,598.4 1351.3,597.5 1353.2,597 1354.1,596 1355.3,596.6 1356.5,597.9 1357.5,599.7 1355.4,601.1 1353.8,601.1 1352.8,601.5 1351.3,601.8 1349,602.4 1349.4,599.9 1348.8,598.2Z"/>
<path class="c2" d="M1166.4,598.5 1168.8,597.5 1168.9,595.4 1169.9,596.9 1171.5,597.2 1172.9,596.1 1174.3,595.4 1176,597.1 1177.9,597.8 1179.7,599.7 1181.4,600.7 1181.8,602.3 1183.2,602.5 1185,603.2 1186.9,603.9 1188.2,604.9 1189.1,606 1189.5,607.4 1188.1,607.6 1186.8,607.6 1185.6,609.4 1183.2,610 1181.8,611.3 1181,613.7 1179.2,615.1 1179.9,616.5 1180.8,617.9 1183.1,617.7 1184.4,619.5 1185.4,620.6 1186.9,621.5 1187.6,623.9 1189.5,625.4 1191,626.6 1190.7,628.9 1191.5,630.2 1192.1,631.8 1193.9,632.7 1194.4,634.1 1195.8,635.2 1197.2,635.6 1195.7,636.7 1196.9,638.7 1197.7,640.2 1199.7,640.8 1200.4,643.2 1201.9,644.6 1202.3,645.9 1203.5,645.7 1205.1,646 1206.3,646.3 1207.4,647.2 1208.5,647.7 1209.7,648.9 1211.2,648.2 1212.6,648.5 1212.8,650.1 1213.8,652.3 1212.6,653.9 1211.2,654.4 1211.3,656.2 1210.6,658.4 1209,659.4 1207.4,659.4 1207.7,661.9 1210,662.6 1207.8,663.6 1206.2,664.5 1204.7,665.4 1203.6,665 1202,665.3 1199.7,665.8 1198.5,667.7 1196.6,668.6 1194.9,666.9 1193.4,667.2 1192.1,666.4 1190.6,667.5 1189.2,667.4 1187.5,667.3 1185.6,667.1 1184.6,668 1183.6,669.9 1181.6,669.4 1179.2,669 1177.7,669.7 1176.6,669.7 1174.9,670.3 1172.8,670.3 1171.1,668.7 1169,668.6 1167.6,669.5 1166.4,671.5 1165.1,672.3 1163.4,672.4 1161.3,672.8 1161.3,671.2 1163,670.6 1163.8,669 1165.7,668.4 1166.4,666.7 1169,666.4 1169.9,665.3 1170.4,663.2 1172.2,663.4 1174.1,663.8 1175.9,663.9 1177.6,663.1 1179.2,661.3 1180.6,660 1181.8,658.7 1180.1,658.5 1179.2,656.5 1178.1,657.7 1176.7,658.1 1174.4,658.5 1173,657.7 1171.5,657.4 1170,657.6 1168.7,656.7 1166.4,656.2 1165.1,654.2 1167.3,652.9 1168.5,652.7 1170.3,652.3 1171.7,650.2 1173.2,649 1175.4,649.7 1176.6,649.2 1178.1,649 1179.2,647.2 1180.2,645.1 1179.9,643.3 1179.6,641.3 1177.9,639.5 1176.4,638.2 1176.7,635.6 1177.6,633.6 1179.2,632.4 1178,631.2 1176.7,629.9 1175.7,629.2 1174.1,628.8 1171.5,629.2 1170.2,628.9 1169.5,627.4 1167.7,626.7 1166.4,622.8 1166.2,620.6 1163.8,620.3 1162.8,618.3 1161.3,616.4 1160.6,614.2 1158.7,612.6 1158.3,610.7 1160,608.7 1161.4,607.8 1162.4,607.4 1163.2,606 1163.8,604.9 1163.3,602.9 1165.1,601 1166.5,600.4ZM1147.2,629.2 1148,628.1 1148.9,627.1 1150.8,627.3 1152.3,627.3 1153.8,627.7 1154.9,628.1 1156.5,628 1158.7,627.9 1158.7,629.5 1159.2,631 1161,631.2 1162.6,631.8 1162.5,634.1 1161.3,635.6 1160.4,637 1158.5,636.8 1156.2,636.9 1151,635.6 1147.8,633.1 1147.6,630.7Z"/>
<path class="c1" d="M1131.8,638.2 1133.3,638 1134.4,637.5 1135.3,635.7 1136.9,635.6 1137.6,634.3 1138.4,633.3 1139.4,634 1140.3,635.2 1140.9,633.9 1142.1,633.1 1143.3,632.2 1144.6,631.5 1147.2,631.8 1147.8,633.1 1151,635.6 1156.2,636.9 1157.7,638 1158.2,639.1 1158.7,640.8 1158.4,643 1160.1,644.2 1159.4,645.9 1158.2,647.5 1158.2,648.8 1157.4,651 1156.4,651.6 1155.1,652.8 1153.5,654 1152.3,654.9 1150.4,655.5 1149.5,657 1147.8,658.6 1145.9,657.4 1144.2,657.4 1142.4,658.5 1141,658.9 1139.5,659.4 1138.5,659.7 1136.9,660 1135,659.5 1133.1,660 1131.5,660.4 1130.5,659.4 1128.6,658.1 1129.6,656.5 1129.2,654.2 1130,653 1130.5,651.8 1133.1,651.7 1135.3,650.8 1135.6,648.5 1133.5,647.4 1131.8,647.2 1132.3,645.7 1133.1,643.3 1132.7,641.6 1133.4,640.3 1133.1,639Z"/>
<path class="c2" d="M1152.9,567.1 1154.3,566.7 1156.1,566.7 1157.4,566 1158.7,565.8 1160.2,566.1 1161.3,567.7 1160,569.2 1158,568.5 1157.8,570.5 1158.1,572.2 1156.5,571.3 1155.5,570.3 1154.1,570 1152.3,569.7 1152.7,568.7ZM1190.8,579.2 1191.9,579.9 1194,579.6 1195.9,578.6 1196,581.1 1195.3,583.1 1193.8,584.9 1192.1,585 1191.1,583.9 1190.7,582.8 1189.9,580.9ZM1179.9,591.4 1180.7,590.4 1181.2,588.9 1182.6,589.2 1184.4,590.1 1185.3,591.8 1185.6,594 1183.6,593.5 1182.7,594.8 1181.2,595.3 1180.8,593.6Z"/>
<path class="c1" d="M1256.2,611.3 1256.1,609.5 1257.3,608.5 1258.5,610.2 1260,609.4 1262,610.9 1263.6,611.1 1263.9,609.3 1266.1,609.5 1264.5,608.6 1263.6,607.1 1265.2,608.3 1266.4,607.4 1268.6,606.2 1270.3,604.9 1271.7,606.5 1272.2,608.7 1271.4,607.9 1270.1,606.7 1268.2,608.1 1266.5,609.2 1267.9,610.8 1269,612.6 1270.1,613.5 1269.8,615.6 1270.3,617.7 1268.4,619.2 1267.7,621.5 1266.3,623.2 1266.6,625.1 1268,625.8 1269,626.7 1268.6,628.4 1267.4,628.8 1266.4,631.2 1261.3,630.5 1261.8,629.1 1260.8,627.9 1258.7,626.7 1260.6,625 1260,622.8 1258.1,624.5 1255.9,624.2 1255.7,622.5 1257.4,621.5 1256.9,619.4 1257.3,617.7 1256.2,616.4 1255.7,614.4 1256.8,613.3ZM1272.8,620.3 1274.4,618.9 1275.6,618.1 1277.9,618.3 1280,617 1281.1,618.9 1281.8,616.4 1280.2,614.4 1281.3,613.7 1282.2,612.3 1284.4,612.4 1285.6,614.2 1284.4,615 1284.7,616.7 1286.9,617.7 1288.8,621.5 1287.3,623.3 1286.7,624.4 1285.6,625.4 1283.8,625.7 1282.3,623.7 1281.5,624.9 1281,626.1 1283.1,627.5 1280.5,627.9 1278.2,629.1 1276.7,629.9 1274.6,629 1272.8,629.2 1273.2,627.4 1274.4,626.6 1271.8,627.1 1271.5,624.7 1273.3,623.7 1271.8,622Z"/>
<path class="c3" d="M1134.1,734.7 1136.2,734.4 1137.7,733.7 1139.3,732.9 1140.5,731.2 1142.6,731.5 1144.8,731.6 1145.8,730.9 1147.5,730.7 1148.4,732.1 1150.4,732.4 1151.5,733.2 1153.1,732.4 1153.3,730 1155.5,730.4 1157.7,730.5 1159.9,729.9 1161.7,729.5 1162.2,730.8 1163.9,731.5 1165.5,730.2 1166.7,731.4 1168.8,732.2 1170.6,732 1171.8,732.7 1173.3,732.7 1174.6,732.2 1176.2,732.8 1178.6,733.4 1180.5,732.9 1181.6,730.9 1183,730.4 1184.6,730.1 1185.8,729.7 1187.4,730 1189,730.3 1190.5,729.4 1191.9,730.7 1192.6,732.1 1193.4,734 1194.7,734.8 1196,734.3 1208.8,737.5 1221.6,738.6 1225.4,740.3 1225.8,742.2 1224.9,744.1 1223.5,745.5 1222.7,746.9 1221.6,747.5 1220.4,748.5 1218.2,748.8 1216.8,749.9 1215.2,751.8 1213.8,753.3 1211.5,752.3 1209.3,752.8 1209.2,754.6 1207.7,756.1 1205.4,756.4 1204,757.6 1203.9,759.4 1202.4,761.4 1201.5,763.4 1200.2,764.4 1199.8,766.3 1199.8,767.7 1199.2,768.9 1197.7,769.8 1198.2,772.1 1198.9,773.6 1200.2,774.2 1200,775.8 1198.1,777.4 1197,778.3 1196,779.6 1195.3,780.7 1194.1,781.6 1193.1,783.7 1191.7,784.9 1190.3,785.6 1189.3,787.3 1186.9,788 1185.3,788.1 1184,789.3 1182.5,791.1 1181.1,791.4 1179.3,792.1 1177.5,792.4 1176.8,791.3 1175,792 1173.9,792.4 1172.8,793.6 1172.2,795.1 1170.5,795.1 1169.6,794.1 1168.2,793.4 1166.8,793.2 1165.1,793.6 1163.4,794 1162.7,795.1 1161.8,796.6 1160.9,797.5 1159.5,798 1158.4,799.1 1157.5,799.8 1156.5,797.8 1154.5,797.2 1153.3,796.6 1152.9,795.5 1151.5,794.5 1151.1,792.8 1151.1,791.3 1149.8,790.2 1147.9,790 1147.3,788.5 1145.8,788.1 1144.7,781.7 1146.9,774.2 1147.9,766.7 1150.1,759.3 1153.3,751.8 1152.2,747.5 1144.7,745.4 1138.3,745 1136.4,744.5 1134.9,743.6 1136.3,742.1 1136.2,740.1 1137.6,738.5 1136.1,736.6 1135.2,735.5Z"/>
<path class="c1" d="M1136.2,745 1144.7,745.4 1152.2,747.5 1153.3,751.8 1150.1,759.3 1147.9,766.7 1146.9,774.2 1144.7,781.7 1145.8,788.1 1143.4,788.5 1141.9,788.3 1141.2,789.3 1139.4,789.8 1138.1,789.1 1136,789.6 1134.5,789.4 1133,789.2 1133.4,787.3 1133.7,785.9 1134,783.8 1134.1,781.7 1132.4,780.2 1131.5,778.5 1131.7,776.3 1130.9,774.2 1130.5,773.1 1130.5,771.5 1130.7,769.4 1132.4,768.2 1133,766.7 1133.1,764.2 1131.8,762.2 1133.5,761.8 1133.6,759.9 1135.1,758.2 1136.8,757.1 1136.9,755.1 1137,753.2 1137.3,751.8 1136.6,750.6 1135.7,749 1136.5,748.2 1137.2,746.7Z"/>
<path class="c3" d="M1219.5,765.7 1220.7,765 1221.7,763.7 1223.1,762.7 1224.8,763.5 1225.1,764.7 1225.4,766.3 1228,766.3 1226.8,767.4 1225.5,767.8 1223.7,769.3 1222.3,768.4 1220.7,768.7 1219.8,767.3Z"/>
<path class="c1" d="M1357.9,752 1369.9,748 1385.3,748.7 1398.1,746.3 1399.3,751.5 1397.6,750.8 1396.6,751.6 1395.1,752.5 1393.7,752.7 1392.5,753.1 1390.4,754.2 1388.9,753.3 1387.5,754.5 1385.4,754.6 1385.6,756.5 1383.3,756.4 1383.9,758.3 1382.3,759.1 1381,758 1378.9,758.6 1378.5,756.5 1376.8,755.2 1375.8,753.8 1374.9,752.3 1375.4,751.1 1375.5,749.6 1373.7,749.2 1373.1,748 1371.8,749.3 1370.8,749.9 1369.9,751.4 1367.6,752.3 1369.3,753.1 1369,755.2 1370.2,756.8 1368.8,758.3 1366.3,758.2 1363.8,758.5 1364.2,756.3 1364.4,754.1 1364.5,755.8 1362.4,756.5 1360.1,756.6 1359.7,754.9 1358,753.9ZM1286.6,670.7 1285.6,677.8 1288.2,684.9 1290.3,693.1 1298.6,690 1315.2,685 1322.4,686.8 1329.8,681.3 1336.8,675.4 1329.3,672.8 1322.5,671.1 1315.7,668.6 1308.8,666 1301.5,664.2 1294.1,666.9Z"/>
<path class="g" d="M1320.5,684.7 1321.6,690.4 1325.2,692.8 1334.3,690.1 1342.8,689.2 1351.2,687.6 1360.2,688.5 1363,685.6 1360.8,680.1 1356.8,677.1 1346,676.2 1337.2,676.2 1328.2,678.9Z"/>
<path class="c1" d="M1318,692.5 1318.9,698 1317,703.8 1324.9,709.7 1333.8,711.5 1341.1,712.4 1346.6,709.6 1353.8,706 1359,697.4 1367,691.3 1360.2,685.7 1351,684.7 1342.4,686.5 1333.7,687.3 1325.7,689.8 1322.7,687.8Z"/>
<path class="c2" d="M1290.7,690 1284,693.4 1277.2,695.1 1269,697.4 1273.5,702 1279.3,703 1286.1,701.6 1292.6,703.7 1298.1,705.6 1303.6,703.8 1310.1,703 1314.9,703.8 1319.6,704.9 1321.8,698.2 1321,693.5 1324.4,690 1323.3,684.2 1315.2,682.1 1297.7,687.4ZM1248.4,701.5 1253.7,707.8 1258.6,709.8 1264.3,708.9 1275.6,705.1 1275.6,700.1 1272.6,697.1 1267.8,692.9 1260.2,693.3 1253.7,696.1Z"/>
<path class="c1" d="M1296.9,703 1295.7,708.8 1296.8,710.1 1298.2,710.3 1298.9,712.3 1300.6,713.7 1305.7,709.6 1312.3,707.1 1323.3,703 1315.5,701 1310.1,700.1 1302.9,701ZM1300.7,711.8 1305,708.4 1311.8,705.8 1318.6,703.2 1325.5,708.4 1334,710.1 1340.9,710.9 1340,715.2 1330.6,716.1 1322.1,715.2 1316.1,716.9 1318.6,720.3 1323.8,723.8 1328.9,728.9 1334,733.2 1338.3,735.7 1339.5,737 1340.9,739.1 1338.8,739.6 1337.4,739.1 1335.4,739.7 1334.8,737.9 1335.4,736.5 1337.1,736.4 1334.9,737.5 1334.2,735.8 1332.3,735.7 1330.9,735.3 1329.2,734.8 1327.6,733.2 1325.8,732.9 1325.5,730.6 1324.2,729 1322.7,728.6 1321.4,727.4 1320.2,727.4 1318.6,725.5 1319.3,724 1318.8,722.7 1317,721.3 1316.2,719.9 1314.5,719.6 1313.2,720 1311.8,720.3 1310.7,718.9 1309.4,718 1308.3,717.2 1306.7,716.9 1304.6,716.5 1303.2,716.1 1302.2,714.4 1301.6,712.8Z"/>
<path class="g" d="M1316.1,716.9 1322.1,715.2 1330.6,716.1 1340,715.2 1340.9,720.3 1344.3,725.5 1342.6,730.6 1338.3,735.7 1334,733.2 1328.9,728.9 1323.8,723.8 1318.6,720.3ZM1340.9,710.9 1346,708.4 1352.8,705 1354.5,711.8 1359.7,716.9 1364.8,722.1 1367.4,728 1369.1,734 1368.2,740.9 1366.5,742.6 1359.7,742.6 1354.5,746 1352.8,746 1349.4,740.9 1345.1,742.6 1343,741.8 1340.6,741.8 1341.4,740.6 1340.9,739.1 1339.7,737.8 1338.3,735.7 1342.6,730.6 1344.3,725.5 1340.9,720.3 1340,715.2ZM1345.1,742.6 1349.4,740.9 1352.8,746 1353.7,752.8 1356.2,759.7 1354.5,764.8 1353.2,763.2 1351.1,763.1 1350.1,761.3 1351.8,760 1349.8,760.2 1348.9,759.5 1348.5,757.9 1347.8,756.8 1348.2,755.2 1347.2,753.6 1345,754.4 1346.9,753.7 1346.8,751.1 1346.2,749 1345.9,747.5 1344.6,746.8 1345.9,745.8 1346.4,744.5Z"/>
<path class="c1" d="M1354.5,746 1359.7,742.6 1366.5,742.6 1371.6,746.8 1370.8,752 1364.8,754.5 1357.9,754.5 1354.2,752ZM1359.7,685 1357.6,687.1 1364.3,692.7 1375.1,691.8 1385.6,691.8 1392.6,688.4 1397,687.6 1401.6,689.9 1408.2,695.7 1413.3,701.6 1415.6,704.5 1413.8,705.4 1408.1,707.3 1405.6,714.9 1408.9,714.9 1411.8,716.4 1412.6,717.3 1414,718.6 1416.2,718.8 1417.9,719.1 1418.6,717.5 1420.9,716.9 1422.9,717.2 1423.8,715.8 1425.7,715.4 1425.5,713.6 1427.8,713.4 1428.7,714.5 1429.9,715.4 1431.4,716.3 1432.4,717.2 1433.5,719 1435,720 1436.2,721 1436.8,723.4 1438.9,723.2 1440.2,723.9 1441.5,725.5 1443,725.6 1444.7,725.2 1446.1,726 1447.3,725.9 1449,725 1450.3,724.1 1452.1,724.9 1453.9,725.2 1454.2,723.9 1455.7,722.6 1457.6,721.9 1459,721.5 1460.7,721.7 1463.3,721.4 1463.5,720.3 1464.7,719 1465.7,717.4 1465.8,715.7 1466.9,714.8 1468.6,713.7 1467.6,713 1466.7,711.6 1467.7,710.6 1468.5,709.3 1468.8,708.2 1469.8,706.8 1471.2,705.2 1473.2,704.6 1474.7,703.4 1475.7,702 1476.7,701.2 1477.8,699.4 1479.6,699.6 1481.6,698.9 1480.2,698.3 1479,698.2 1477.8,696.1 1480.3,692.3 1486.6,688.7 1487.6,680.9 1485.5,674.7 1476.2,672.8 1467.7,670.3 1459.1,668.6 1450.9,666.1 1444.3,661.2 1439.2,656.1 1433.7,651.5 1426.2,650.5 1416.9,653.3 1413.7,658.2 1404.3,657.4 1394.1,655.7 1381.9,654 1371.2,654.9 1364.5,658.3 1368.4,664.1 1367,668.3 1361.9,673.4 1358.1,681ZM1351.3,704.7 1353.3,712.5 1358.7,717.9 1363.6,722.9 1366.5,729.5 1375,728.6 1385.4,730.3 1394.1,727.7 1402.6,726.9 1411.6,725.1 1412.8,723.9 1414.4,722.9 1415.6,722.2 1416,720.7 1416.3,718.5 1416.1,716.7 1414.6,715.6 1413.8,714.2 1410.4,712.5 1408.8,707.9 1405.4,699.2 1400,690.3 1392.2,685.4 1385,689 1375,689 1364.3,689.9 1356.9,695.5Z"/>
<path class="g" d="M1392.1,687 1397.3,686.2 1402.4,688.7 1409.2,694.7 1414.4,700.7 1417.8,705 1414.4,706.7 1409.2,708.4 1407.5,713.5 1404.1,699.8 1399,691.3ZM1367.4,728 1375,727.2 1385.3,728.9 1393.8,726.3 1402.4,725.5 1410.9,723.8 1410,725 1410.3,726.5 1411.4,727.5 1412.6,728.9 1410.3,729.5 1408.6,730.6 1408.3,732.9 1409.6,733.7 1409.2,735.7 1408.3,737.5 1409.8,738.5 1411.8,738.1 1413.2,740.1 1412.4,741.1 1410.9,742.6 1404.1,744.3 1398.1,746 1392.1,748.5 1385.3,749.4 1376.8,749.4 1371.6,746.8 1368.2,740.9 1369.1,734ZM1399,759.7 1401.3,759.7 1402,757.4 1404.1,757.9 1405.7,757.3 1406,755.3 1407.3,753.3 1406.9,755 1408.6,756 1410.9,756.2 1413.1,755.9 1415.1,756.1 1416.9,754.9 1417.8,753.7 1419.5,754.4 1420.6,756.2 1422.3,754.7 1420.4,754.3 1420.5,752.6 1422.6,753.5 1424.1,752.7 1425.5,752.9 1426.4,751.4 1426.3,750.3 1428.6,750.7 1430.3,751 1431.7,750.5 1432.9,749.9 1434.9,749.4 1436.4,748.9 1437.4,747.5 1439.2,745.7 1441.7,746 1444,746.1 1445.7,745.8 1447.5,745.2 1448.6,745.9 1450.3,744.3 1451.4,742.8 1453.5,742.1 1454.5,743.4 1455.3,744.4 1457.4,744.4 1458.8,743.9 1460.7,743.8 1461.5,744.9 1463.8,744.5 1465.6,745.1 1467.6,745.8 1468.7,746.2 1470.3,746.8 1472.3,746.6 1474.2,747.7 1476,748.1 1477.8,749.7 1479.4,748.8 1480.9,749.9 1482.7,751.1 1484.9,750.2 1486,751.2 1487.7,750.6 1489.1,752.6 1491.3,752 1492.4,751.8 1494.1,751.6 1495.4,750.4 1497.1,751.8 1498.2,750.5 1499.8,751.1 1501.5,752.3 1503.8,751.3 1505.5,749.6 1507.2,749.7 1508.4,749.4 1509.1,748.5 1510.5,747.7 1512.4,747.7 1514.1,748.6 1515.2,747.7 1522.1,747.7 1527.2,752 1530.6,756.2 1534,759.7 1534,761.5 1534.8,763.7 1535.1,764.9 1535.7,766.5 1537.5,767.1 1537.8,768.5 1537.2,770.6 1536.7,771.9 1537.4,773.3 1539.1,780.2 1540,785.3 1530.6,788.7 1522.1,788.7 1513.5,791.3 1505,793 1496.4,792.1 1487.9,790.4 1481,792.1 1477.6,793 1477.2,794.9 1476.8,797.3 1476,798.5 1475,799.8 1475.5,798.4 1474.6,796.9 1474.3,795.7 1474.2,793.8 1472.5,792.1 1470.8,792.8 1470.1,793.8 1468.5,794.4 1467.4,794.7 1465.4,796.2 1463.9,796.2 1462.2,797.3 1460.8,798.2 1458.6,798.1 1456.8,798.1 1455.4,798.1 1454.4,796.8 1452.3,797.3 1450.3,796.4 1448.7,796 1446.8,796.3 1446.5,795 1445.1,793.8 1442.6,793.9 1441,794.8 1439,794.2 1438.3,793 1436.3,793.7 1434.9,795.6 1433.7,796.5 1431.9,795.9 1429.7,797.3 1428.3,797.2 1427.3,796 1426,795.7 1424.6,794.7 1425.7,793.7 1424.8,792.1 1422.2,792.3 1421,791.2 1419.5,792.1 1418.1,790.8 1417.2,789.2 1416,788.8 1414.4,788.7 1412.6,787.5 1410.8,787.3 1409.2,785.3 1407.1,785.9 1407,783.3 1405.9,781.8 1405.8,780.2 1404.4,779.4 1402.2,779.2 1401.9,776.9 1402.7,775.3 1404.1,775 1402.2,775.9 1400.6,775.8 1401.5,773.6 1400.7,771.6 1400.6,769.2 1401.5,768.1 1402.4,766.5 1400.6,765.3 1399.2,766.2 1398.6,764.6 1399,763.1 1400.8,763.1 1401.9,764.3 1401.2,763.1 1402.6,761.8 1401.5,759.6ZM1398.1,746 1404.1,744.3 1410.9,741.7 1412.4,743.1 1412.1,745.2 1411.8,747.1 1413.3,748.7 1415.2,749.7 1416.9,748.5 1418.7,750.4 1420,749.3 1419.5,747.7 1418.4,747.2 1416.9,748 1415.7,749 1415.6,750.8 1413.4,750.8 1412.3,751.6 1410.9,752 1409.5,750.5 1408.8,749.6 1407.1,749.2 1406.2,751.4 1404.1,752.8 1402.8,751.7 1401.6,751.7 1399.8,751.1ZM1448.5,809.2 1450.2,809.7 1451.7,809.1 1453.7,807.5 1455.5,808.6 1457.6,808.3 1458.5,809.1 1459.7,810.1 1460.8,808.9 1462.2,808.4 1460.6,807.7 1458.5,808.6 1457.5,809.3 1457.1,810.9 1455.5,812.8 1453.7,813.5 1452.3,812.5 1450.3,811.8 1449.3,811ZM1476.8,797.3 1477.2,795.4 1477.6,793 1481,792.1 1487.9,790.4 1496.4,792.1 1505,793 1513.5,791.3 1522.1,788.7 1520.3,793.8 1517.8,800.7 1516.9,807.5 1515.2,814.4 1508.4,819.5 1501.5,824.6 1493,829.7 1486.2,834 1480.2,831.5 1479.3,826.3 1478.5,821.2 1481.9,817.8 1482,816.7 1482,815.1 1480.9,813.8 1479.3,812.6 1478.4,811.6 1477.6,809.9 1476.8,807.5 1477.5,805.9 1476.3,804.6 1477.6,802.4 1478.4,801.2 1478.4,799.2Z"/>
<path class="c2" d="M1474.2,823.8 1473.9,822.3 1474.4,820 1476.1,819.8 1476.8,817.8 1477.2,816.4 1478.3,815.6 1479,813.9 1479.3,812.6 1479.2,813.7 1479.2,815.3 1480.3,816.7 1481.9,817.8 1478.5,821.2 1477.6,825.5Z"/>
<path class="c1" d="M1478.5,828 1480.2,831.5 1486.2,834 1493,829.7 1501.5,824.6 1504.1,834.9 1489.6,841.7 1497.3,850.3 1491.3,857.1 1482.7,862.2 1475.9,863.1 1474.2,863.1 1475,853.7 1475.9,845.1 1477.6,838.3 1476.8,833.2Z"/>
<path class="c2" d="M1469.1,841.7 1469.9,839.4 1471.5,838 1471.6,836.6 1471.7,835.1 1471.8,833.8 1473.2,832 1473.6,829.7 1473.3,828 1473.7,825.8 1474.2,823.8 1477.6,825.5 1478.5,828 1476.8,833.2 1477.6,838.3 1475.9,845.1 1475,853.7 1474.2,863.1 1473.3,862.2 1471.6,855.4 1469.1,847.7ZM1522.1,788.7 1530.6,788.7 1540,785.3 1540.9,790.4 1542.1,792.6 1543.5,793.7 1544.9,794.4 1545.9,795 1546.4,796.9 1546,799 1547.6,800.5 1549.6,801.1 1550.8,802.9 1552.8,804.1 1554.5,812.6 1552.8,819.5 1554.2,820.5 1555.3,821.9 1557,823.4 1556.2,825.6 1556.6,827.3 1557.9,828 1564.8,834.9 1571.6,843.4 1575,852 1577.3,853.1 1578.3,854.6 1580.2,854.5 1578.9,854 1577.1,854.2 1575,855.4 1567.4,857.1 1564.8,863.9 1551.1,862.2 1540.9,855.4 1530.6,847.7 1520.3,840.9 1511.8,836.6 1504.1,834.9 1501.5,824.6 1508.4,819.5 1515.2,814.4 1516.9,807.5 1517.8,800.7 1520.3,793.8ZM1567.4,857.1 1575,855.4 1574.6,857 1574.3,858.3 1576.1,859.8 1577.5,859.7 1579.3,860.5 1580.7,862.1 1581.3,863.4 1580.4,865.5 1580.2,867.4 1573.3,865.6 1564.8,863.9Z"/>
<path class="c1" d="M1354.5,755.2 1359.7,754.4 1364.8,752.6 1369.9,751.8 1371.3,750.2 1372.6,752 1374.6,752.2 1375,750.1 1381,750.9 1387,751.8 1393,750.9 1394.5,751.6 1395.7,752.4 1397.2,751 1398.1,750.1 1398.7,752 1397.3,752.6 1394.8,752 1393.8,754.4 1392.5,753.9 1391.2,753.1 1390.5,754.7 1388.7,755.2 1387.1,756.6 1385.7,755.6 1384.4,756.1 1382.5,756.6 1381,755.2 1378.6,756 1376.8,756.9 1375.1,757 1373.3,756.1 1372.8,757.7 1370.8,757.8 1372.3,758.8 1373.6,759.9 1373.3,761.2 1375,762.5 1375,764 1376.8,764.6 1376.1,766.8 1376.6,768.5 1378.5,768.1 1380.2,768 1382,768.3 1383.1,769.4 1383.6,770.6 1381.5,770 1381,772.3 1379.2,770.5 1376.8,770.6 1374.5,770.3 1373.3,768.9 1371.1,770 1371.6,772.3 1373.6,773.2 1373.8,774.5 1375,775.7 1375.6,776.9 1377.3,777.1 1378.3,778.7 1380.2,779.1 1381.2,780.8 1382.8,780 1381.8,782.3 1383.1,783.1 1384.4,782.6 1386.9,782.8 1388.5,782.9 1389.3,784.1 1389,786.2 1387,786 1385.3,787.7 1384.4,785.7 1381.9,785.1 1381.4,784 1380.5,782.8 1378.5,782.6 1375.9,782.7 1374.7,783.4 1374.2,785.2 1374.3,782.8 1375.2,781.6 1374.2,780 1371.6,780 1373.2,780.5 1374.1,781.5 1374.9,782.9 1373.3,784.3 1374.5,785.6 1377.1,785.2 1374.9,786.3 1375.9,788.5 1377.3,790.1 1377,791.2 1376.8,792.8 1375.2,794 1375,795.4 1374.2,793.6 1372.5,792.8 1371.7,791.4 1372.7,790 1371.5,789.5 1369.9,789.4 1368.5,789.6 1366.9,789 1366.9,787.7 1366.5,786 1364.4,785 1362.7,784.7 1364.1,783.6 1363.9,781.7 1363.5,780.2 1364.7,778.6 1362.5,778.6 1361.4,777.4 1360.3,775.8 1358.8,774 1358.3,772 1356.2,770.6 1355.6,769.4 1355.4,767.6 1352.9,767 1352.3,769.2 1353.2,767.8 1354.5,766.3 1354.8,763.8 1354.1,762.1 1354.5,758.6ZM1381,805.6 1382.7,804.2 1384.3,804.6 1385.3,804.8 1385.1,807.2 1386.7,809.1 1389,808.4 1390.3,807.8 1390.4,806.1 1392,806.2 1393.3,806.4 1395.6,806.5 1396.8,805.7 1398.7,805 1399.4,806.6 1400.7,807.4 1402.4,809.1 1400.9,811 1399.1,811.1 1398.1,809.9 1395.9,809.5 1394.3,808.1 1393,809.5 1393,807.1 1393.8,805.6 1392.3,806.2 1390.4,806.8 1389.8,808.8 1388.7,810.5 1387,809.1 1387.5,806.9 1386,805 1387.1,806.6 1385.4,807.8 1384.2,807.3 1382.7,808.2 1380.2,808.6 1378.7,809 1379.9,808.1 1381.1,807.9Z"/>
<path class="g" d="M1345.6,741.5 1348.5,739.8 1351.1,741.5 1352.8,745 1353.7,750.1 1354.5,755.2 1354.5,758.6 1354.1,762.1 1352,763.8 1351.4,761.9 1349.4,762.1 1348.1,760.9 1348.5,759.6 1346.8,758.6 1345.9,756.4 1345.6,754.4 1344.9,752.4 1346,750.1 1345.6,747.6 1345.1,745.8 1345.3,743.6Z"/>
<path class="c1" d="M1354.5,746.7 1357.9,744.1 1363.1,742.8 1368.2,744.1 1371.2,747.5 1370.8,750.9 1366.5,752.6 1361.4,754.4 1357.1,754.8 1354.5,752.6Z"/>
<path class="c5" d="M1268.2,707.4 1272.5,705.6 1276.8,703.9 1280.2,701.4 1284.4,700.1 1288.7,700.5 1292.1,703.1 1296.4,704.8 1299,705.6 1298.1,708.6 1297.2,709.5 1295.6,710.3 1294.3,711.9 1292.1,712.1 1291.1,712.9 1290,714.2 1290.7,715.8 1290.4,717.6 1290.4,719.6 1291.3,721 1290.5,722.6 1290.2,723.7 1292.1,725.3 1293.3,726.6 1294.7,727.9 1296.7,728.9 1297.9,730 1299,730.4 1299.9,731.5 1301.5,733 1302.9,734.5 1303.2,736.4 1303.9,738 1305,738.8 1305.8,739.8 1307,740.5 1307.5,742.3 1309.2,743.2 1311.2,744.6 1313.5,745.8 1314.9,745.5 1316.1,745.5 1317.8,745.8 1319.2,746.1 1321.2,746.2 1320.1,747.5 1319.5,748.4 1320.2,749.9 1321.2,750.9 1323.2,752.2 1324.6,752.6 1326.6,754 1328.9,754.4 1330.8,755.1 1329.7,756.8 1331.8,756.8 1333.2,756.9 1334.8,757.8 1334.5,759.3 1336.6,759.1 1338.5,759.7 1339.1,761.2 1339.6,763.8 1337.4,764.6 1337.3,763.2 1335.7,762.1 1333.9,760.9 1332.3,759.5 1330.6,759 1328.9,758.6 1327.5,759.8 1326.3,760.3 1326.1,762.4 1325.5,763.8 1326.7,764.9 1328,766.3 1330,767.5 1330.2,769.7 1330.2,771.3 1329.7,773.2 1328.2,773.8 1327.2,774.9 1326.7,776.7 1325.5,777.4 1324.8,779 1323.3,780 1322.2,781.3 1321.2,782.1 1319.9,780.9 1319.8,778.9 1321.6,777.4 1321,776.2 1320.7,775 1322.5,774 1321.2,771.9 1321.2,769.7 1320,768.6 1319.4,767.5 1319.5,765.5 1318.3,763.6 1316.9,762.5 1316.1,761.1 1314.4,760.3 1314.2,757.9 1311.8,756.9 1309.6,756.5 1308.4,754.4 1307.5,752.8 1306.4,751.8 1305,751.8 1302.7,751 1301.5,749.7 1300,748.5 1298.1,747.5 1296.6,746.6 1294.7,745 1292.5,744.3 1291.7,743.3 1291.3,741.5 1289.3,741.4 1288.6,740 1287.9,739 1286.9,737.4 1285.6,737.2 1284.4,736.4 1282.5,735.4 1281,733.8 1280,731.6 1278.5,730.4 1277.1,729 1276.8,727.4 1275,726.3 1274.2,724.9 1272,724.6 1269.9,724.4 1269.2,725.7 1267.7,725.8 1266.5,724.9 1264.8,724.4 1263.6,724.4 1262.3,725.7 1260.5,726.6 1258.9,726.6 1257.5,725.7 1257.1,721.9 1258.8,717.6 1261.4,713.3 1264.8,709.9ZM1296,781.7 1297.8,781.5 1299.8,780.9 1302.1,781.5 1303.3,782.3 1305,781.7 1307,781.9 1309,781.9 1310.1,781.3 1312,781.3 1312.4,779.8 1314.4,780.4 1315.5,779.9 1317.4,779.6 1318.2,781.7 1317.6,783.2 1316.1,785.1 1315.6,787.7 1316.8,788.6 1317.4,790.3 1317.2,791.4 1316.1,792.8 1313.5,792.8 1312.3,791.5 1310.1,790.7 1308,791.1 1307.4,790 1306.7,788.5 1305.3,787.5 1304,787.6 1302.4,786.4 1301,785.2 1299,784.7 1298,783.9 1296.4,783.4ZM1262.6,755.2 1263.9,755.9 1265.6,756.1 1267.5,754.6 1269.1,753.5 1271.6,753.1 1272.6,755.2 1273.3,756.9 1273.1,759.1 1274.2,760.3 1272.7,762.2 1272.9,764.6 1273.3,766.1 1273.8,767.2 1273.3,768.9 1272.2,770.2 1270.8,770.6 1269.5,771.9 1268.2,772.7 1265.6,772.3 1266.6,770.4 1265.6,769.3 1264.8,768 1264.6,765.7 1263.9,763.8 1263.9,761.4 1263.1,759.5 1262.9,757.7Z"/>
<path class="c3" d="M1264.8,741.5 1266.5,739.8 1268.5,739.4 1269.5,738.1 1270.8,736.4 1271.8,738.1 1271.2,739.8 1271.5,741.8 1271.6,743.2 1270.4,744.9 1270.4,746.2 1269.9,747.5 1268.2,749.2 1266.5,747.5 1265.7,746.4 1265.2,744.5 1265,742.8Z"/>
<path class="g" d="M1157.8,800.7 1159.3,800.6 1161,799.9 1162.9,799.6 1163.7,798.5 1165.1,800.6 1167.2,800.7 1169.1,799.9 1171.6,799.3 1173.3,799 1174.4,800.2 1176.3,799.8 1177.2,800.6 1178.7,801.4 1180.5,801.8 1183,801.7 1182.6,799.2 1183.7,797.9 1185.3,796.6 1187.7,797.5 1189.8,796.8 1191.5,796 1192.9,796.8 1194.2,797.4 1196.3,797.4 1196.9,796.4 1197.3,794.9 1199.1,793.3 1201.1,793.4 1202.5,793.5 1203.7,793.8 1204.8,793.1 1206.4,792.6 1208.5,792.7 1210.2,792.2 1211.8,793.6 1212.8,794.2 1214.2,795.1 1215.1,792.7 1217.2,792.4 1218.6,791.9 1220.2,792.4 1222.3,791.5 1224.4,792 1226.7,791.5 1229.1,792.3 1231.3,792.1 1233.3,793.5 1234.9,793.3 1235.3,791.7 1236.6,792.3 1238.2,791.4 1240.4,791.7 1242.3,791.3 1243.9,790.4 1244.4,788.9 1246.1,788.8 1247.2,789.7 1249.7,790.1 1251.2,790.2 1252.2,791 1254.4,789.8 1256.3,790.1 1258.2,789.3 1259.7,789.6 1261,789.9 1262.9,789.8 1264.7,789.7 1265.7,791.5 1268.1,790.9 1269,788.5 1271.1,788.1 1272.6,788.3 1274.9,789 1276.6,788.7 1279.1,789.1 1281,790.3 1282.3,790.9 1284.1,790.1 1282.7,792 1283.1,793.2 1282.7,795.3 1283,796.5 1282.4,798.3 1281.8,800.7 1282.3,802.3 1283.2,802.9 1284.9,803.8 1286.5,805.6 1286.4,807.6 1285.6,810 1285,811.2 1285.1,813 1284.7,814.4 1283.7,815.3 1283.6,816.8 1282.7,819 1283.6,820.5 1284.4,821.5 1285.4,822.7 1286.8,823.1 1287.3,825 1288,827 1288.7,828.2 1290.1,828.9 1291.5,828.5 1292.7,828.7 1294.1,828.8 1295.4,827.5 1296.6,826.4 1297.9,826.1 1300.2,825.9 1301.1,824.6 1302.8,824.2 1304.4,825.9 1306.5,825.7 1308.2,826.2 1309.5,826.4 1311.7,827.6 1312.3,829.1 1314,830.5 1315.1,830.9 1315.8,832.4 1316.7,834.7 1317.7,833.6 1317.4,831.9 1318.4,833 1319.9,832.8 1322.3,833.3 1323.5,833.7 1325.3,833.5 1327,833.7 1327.7,835.1 1329.2,836.5 1329.9,837.6 1330.7,838.6 1331.2,839.9 1332.7,839.6 1333.7,838.3 1335.6,838 1335.7,839.5 1337,840.7 1338.6,839.5 1340.7,839.7 1341,842.1 1341.5,844.3 1343,844.6 1344.3,844.7 1345.5,846.4 1347.8,847.2 1349.1,848.3 1349.3,849.6 1350.7,851.2 1350.9,848.9 1352,847.5 1351.8,845 1352.9,844.4 1353.8,843 1353.9,840.9 1354.9,839.4 1356.4,838.7 1357.6,837.4 1358.6,835.9 1358.8,834.8 1359.9,833.4 1362,833.1 1363.7,832.9 1364.9,832.3 1366.6,832.1 1368.2,831.6 1369.1,829.6 1371,830.8 1373.2,830.4 1374.6,831.4 1376,830.4 1377.6,831.1 1379.2,830.8 1381.5,831.1 1382.9,831.4 1384.6,831.5 1386.3,831.6 1387.2,832 1388.3,833.5 1389.5,834.4 1390.6,835.4 1391.5,836.9 1390.8,838.7 1392.1,839.9 1394,840.4 1395.7,842 1397,842.4 1398.6,843.6 1399.9,843.1 1401.9,842.8 1403.1,841.5 1404.6,841.4 1405.8,842.7 1407.1,842.8 1408.4,844.5 1410.4,844.3 1411.6,842.7 1412.8,842.8 1414.4,843.2 1415.7,843.7 1416.9,844.2 1417.7,845.9 1417.7,847.4 1419.2,847.7 1420.7,849.1 1422.1,848.4 1424.2,848 1425.4,847.1 1427.2,846 1429,845 1430.5,845.9 1432.6,845.9 1435.1,846.4 1436.6,845.8 1438,844.3 1439.8,845.3 1440.8,846.3 1443.3,846 1445.2,844.7 1447,844 1448.7,843.6 1449.1,845.7 1451.4,845.3 1452.4,845.7 1454.1,845.2 1455.7,845.4 1456.9,844.7 1458.7,844.8 1460.9,844.3 1458.6,858.1 1463.2,871.9 1467.8,876.5 1467.5,877.8 1468.4,879.6 1468,881.9 1466.5,882.7 1467.3,884.1 1468.9,884.5 1469.2,886.6 1470.9,888.5 1471.3,891 1472.4,892.5 1483,913.2 1484.4,914.4 1485.4,915.3 1486.5,917.3 1487.7,919.2 1488.8,921.2 1489.9,921.9 1490.8,923.5 1491.2,925.3 1490.5,926.7 1490.8,927.9 1492.5,928.3 1493.5,928.6 1493,930.5 1494.1,931.8 1493.6,933.4 1494.5,935.3 1493.2,937 1493.6,939 1495.2,941 1496.9,941.8 1497.9,941 1498.7,942.4 1500.6,943.7 1502.3,945.4 1503.6,946.1 1504.8,946.8 1504.5,948.7 1504.7,950.8 1506.3,951.9 1506.7,954 1507.5,954.9 1508.3,956.4 1509.1,957.9 1509.7,959.5 1509.9,961.3 1509.2,963.7 1507.9,964.7 1507.8,966.7 1506.4,968.2 1505.3,969.7 1503.8,970.4 1502.6,971.4 1502.3,972.9 1504.4,974.1 1505.4,976.1 1506.4,977.6 1507.8,979.5 1509.1,979.3 1510.2,980.6 1511.9,981.4 1513.8,982.1 1514.7,982.6 1516.4,982.5 1516.8,983.9 1516.5,985.3 1517.8,986 1518.6,986.9 1519.1,989 1520.2,989.6 1521.1,990.7 1522.6,992.1 1523.8,993.8 1525.2,995.9 1527,996.5 1527.2,998.9 1529.4,1000 1530.7,1000.5 1531.8,1002.1 1533,1004 1533.4,1005.4 1534.2,1006.3 1533.9,1008.3 1535.2,1008.3 1537,1008.7 1539,1009.7 1539.9,1010.5 1540.9,1011.5 1541.4,1013.2 1542.4,1014.9 1542.5,1016.2 1542.5,1017.6 1544.4,1018 1546.6,1018.6 1548.2,1018.8 1548.8,1021.2 1549.2,1022.5 1549.9,1023.9 1550.7,1025.4 1552.2,1025.8 1552.8,1028 1551.5,1029.6 1550.5,1030.9 1549.1,1031 1548.2,1032.6 1549.8,1032.3 1551.9,1031.8 1554.1,1032.9 1556.5,1033.3 1558.4,1034.4 1559.7,1034.9 1562.2,1035.3 1564,1034.7 1565.3,1034.4 1567.4,1033.2 1569.1,1033.1 1570.9,1033 1572.3,1033 1574,1032.5 1575.8,1031.5 1577.9,1030.1 1580.4,1030.3 1582.3,1029.4 1583.8,1031 1585.3,1030.3 1587.1,1029.1 1588,1027 1589.9,1027.2 1592,1025.8 1593.8,1027.1 1595.9,1028.5 1596.8,1026.3 1598.7,1025.7 1600.6,1026.1 1603,1026.4 1604.2,1026.2 1605.6,1026.7 1607.6,1026.6 1608.5,1025.3 1610.2,1025.8 1611.5,1023.9 1612.8,1023.1 1614.8,1023.4 1614.6,1026 1615.5,1027.1 1616,1028.5 1616,1029.9 1616.2,1031.6 1616.2,1033.4 1617.1,1034.9 1617.1,1036.4 1617.4,1038.2 1617.8,1040.7 1616.4,1042.1 1616,1043.4 1614.3,1043.4 1613.2,1043.2 1613.3,1044.9 1614.6,1046.7 1613.4,1048.3 1612.1,1048.5 1612.7,1049.9 1612.6,1051.7 1610.7,1052.5 1609.5,1053.3 1608.2,1054.1 1607.9,1055.6 1606.7,1056.8 1606.4,1058.2 1607.8,1059.8 1608.2,1061.7 1607.9,1063.1 1606.9,1064 1605.9,1065.4 1604.8,1067.4 1604.3,1069.5 1603.5,1070.4 1602,1071 1600.8,1072.4 1599.8,1074 1600.7,1075.1 1600.3,1076.4 1599.1,1077.1 1597.9,1077.5 1596.4,1078.6 1595.1,1078.7 1593.3,1079.1 1592.8,1080.6 1591,1082.2 1589.5,1083.2 1588.6,1084.2 1587.6,1085.3 1587.3,1087.6 1585.5,1088.5 1585.9,1090.2 1585.4,1091.8 1583.9,1093.5 1584.5,1095.9 1584.6,1098.2 1583.6,1099.9 1582.7,1101.5 1581.8,1103.1 1581.4,1104.5 1579.6,1105.3 1579.3,1106.8 1577.9,1104.8 1576.2,1105.6 1574.8,1106.9 1573.2,1108.9 1572.5,1110.6 1572.5,1111.8 1570.4,1112.2 1570.6,1113.8 1570,1114.9 1569.9,1116.6 1568.5,1117.9 1568.4,1119.9 1567.2,1121.1 1566.6,1122.2 1565.8,1123.7 1565.7,1125.2 1564.3,1125.8 1563.4,1127.3 1562.6,1128.4 1562,1130.4 1560,1130 1558.4,1132 1557.7,1133.6 1557.3,1135.1 1556.1,1137.2 1555,1138.2 1554.4,1139.3 1552.8,1140.6 1554,1141.8 1554.8,1143 1553.8,1145.3 1552.3,1145.3 1550.4,1145.6 1550.4,1147.7 1548.2,1148.2 1547.3,1149.5 1546.4,1150.9 1544.2,1151.7 1542.5,1152 1540.9,1153.4 1539,1154.3 1537.5,1156.2 1536.7,1157.7 1535.9,1159.4 1535.1,1160.4 1534,1161.3 1532.4,1162.1 1531,1163 1530.2,1163.8 1529.7,1165.4 1528.1,1166.9 1527.1,1168.3 1527.5,1170.4 1526.8,1172.4 1527.4,1174 1527.4,1175.1 1526.5,1176.9 1527.1,1179 1525.1,1180.5 1523.3,1180.8 1521.9,1182.3 1522,1184.5 1521,1185.7 1519.9,1186.4 1520.7,1188.8 1519.9,1190.1 1519,1192 1518.9,1194.1 1520.1,1194.8 1520.6,1196.2 1520.9,1197.9 1521.8,1199.5 1522,1200.9 1522.9,1202.2 1523.6,1203.5 1523.8,1204.9 1523,1207.2 1522.6,1208.5 1523.7,1209.8 1523.3,1211.5 1523,1212.6 1522.6,1214.7 1522.9,1216.5 1523.7,1218.8 1523.7,1220.4 1525.2,1221.3 1525.4,1222.5 1526.5,1223.6 1526,1225.3 1526.3,1226.7 1525.2,1227.8 1524.9,1229.5 1525.3,1231.3 1526.6,1232.1 1527.6,1233.4 1527.5,1234.8 1528,1236.2 1529.2,1237.6 1530.7,1238.5 1530.3,1240.3 1530.2,1241.7 1530.1,1243.7 1529.6,1245.7 1529.3,1247.1 1528.9,1248.5 1529.9,1249.3 1530.2,1250.8 1530.9,1252.1 1532,1252.8 1531.9,1254.5 1531.8,1255.7 1529.9,1256.9 1528.3,1258.1 1529.4,1260 1529.3,1262.4 1529.4,1264.7 1529.8,1266.9 1529.4,1268.3 1528.4,1270.1 1527.7,1270.9 1527.2,1272.5 1526.4,1274 1525.2,1276.2 1524.9,1277.4 1524.6,1279.2 1523,1280.7 1521,1282.1 1518.9,1282.4 1517.9,1284.4 1516.1,1284.8 1515.1,1285.8 1514.4,1286.9 1514,1288.2 1513.2,1289.4 1511.1,1290.7 1510.4,1292.5 1508.3,1292.5 1506.9,1294.4 1505.5,1295.3 1504.7,1296 1503.7,1298 1502.1,1299 1500.6,1298.8 1498.9,1298.9 1497.9,1299.4 1496.1,1299.7 1494.9,1300.6 1493.3,1301.9 1494.5,1303.9 1493.1,1305.9 1491,1305.9 1490,1306.5 1488.6,1307.6 1487,1308.4 1486.3,1309.5 1484.6,1311.2 1483.7,1311.8 1483,1313.2 1481.6,1314.3 1479.3,1315.1 1479.1,1317.1 1480.1,1318.2 1480.6,1319.3 1479.9,1320.9 1478.6,1321.6 1479.3,1323.7 1477.7,1325.1 1477,1327.2 1477.2,1329 1477,1331.2 1478.2,1333.1 1480.3,1333.1 1481.2,1335.2 1481.8,1336.9 1482.2,1338.7 1481.4,1341 1482.3,1342.4 1482.9,1343.5 1482.3,1345.1 1483.4,1346.2 1482.5,1347.6 1481.6,1349.6 1479.8,1350.4 1479.1,1351.4 1477.9,1353.2 1475.5,1353.8 1475.6,1355.9 1475.1,1357.1 1474.6,1358.6 1473.6,1360.2 1472.4,1361 1470,1360.9 1467.6,1360.5 1466.2,1361.8 1467,1364.1 1467,1366.4 1465.9,1368 1464.2,1367.7 1462.3,1367.1 1460.9,1367.9 1459.2,1369.1 1458.6,1370.4 1459.2,1372.3 1459.8,1374 1460.5,1375.4 1459.1,1376.6 1457.3,1377.5 1456.4,1378.2 1455,1380.4 1454.1,1381.7 1454.4,1384 1452.6,1385 1451.5,1386.8 1450.5,1389 1450.3,1390.7 1449.6,1392.9 1448,1393.5 1447.2,1395.5 1446.1,1396.6 1446.3,1398.5 1445.5,1399.5 1445.7,1401.3 1445,1402.6 1443,1403.6 1441.7,1403.8 1440.2,1404.4 1440,1406 1438.9,1406.9 1437.5,1408.2 1435.5,1409.6 1434.6,1410.4 1433.4,1411.6 1432.2,1412.3 1430.4,1412.2 1428.5,1413 1427.9,1414.4 1427.2,1415.6 1425.8,1416.5 1424.4,1417.1 1422.3,1417.6 1422.5,1419.3 1420.8,1420.1 1419.9,1421.6 1419.6,1423 1417.7,1423.5 1417.5,1425.3 1416.3,1426 1415.4,1428 1413.7,1427.9 1412.8,1426.6 1411.7,1427.6 1410.4,1428.2 1409,1428.6 1407.3,1430.3 1405.1,1431.2 1404.3,1432.1 1403,1433.2 1401.2,1434.5 1399.8,1435.1 1397.5,1435.8 1396,1436.1 1394.2,1435.3 1391.8,1435.1 1391.4,1436.7 1390.1,1437.2 1389.8,1439 1390.3,1440.4 1388.5,1441.4 1387.4,1442.4 1386,1442.9 1384.7,1442.6 1382.9,1443.7 1380.5,1444.3 1378.7,1446.1 1377.1,1445.6 1375,1446.3 1373.7,1445.7 1371.8,1445.2 1369.6,1445.8 1368,1445.7 1366.4,1446.1 1366.3,1447.8 1364.5,1448.3 1363.5,1449.6 1361.2,1449.5 1359.7,1450.2 1358.9,1450.9 1357.3,1452.2 1355.9,1453.5 1355.2,1454.7 1353.9,1453.8 1353,1452.8 1350.7,1452.9 1349.1,1451.7 1347.5,1451.5 1347.2,1449.7 1345.8,1449 1343.8,1448.3 1344.8,1446.2 1343.3,1445.1 1343.3,1443 1344,1441.5 1343.9,1439.5 1345.2,1438 1345.6,1435.8 1344.7,1434.6 1344.6,1433 1342.7,1432.7 1341.5,1432.2 1340.4,1431.3 1339,1430 1339.5,1428.4 1339.7,1426.4 1339.4,1424 1337.2,1422.9 1337,1420.6 1338.4,1418.5 1337.3,1416.7 1337.7,1415.1 1336,1414 1334.6,1413.9 1333.2,1412.9 1331.8,1412.2 1329.4,1411.7 1329.8,1410 1331,1409.1 1330.2,1407.4 1330.8,1406.1 1329.8,1404.2 1330.3,1402.1 1329.3,1400.2 1330,1397.8 1330,1396.3 1329.4,1394.4 1328.2,1393.4 1327.5,1392.5 1326.4,1391.9 1325.6,1390.5 1327,1388.5 1326.9,1386.7 1326.3,1385.2 1327.6,1383.2 1327.7,1381.3 1327.9,1380.1 1327.4,1378.6 1325.8,1377.8 1324.4,1377.6 1323.1,1377.1 1322.5,1374.7 1320.9,1373.7 1319.3,1372.8 1318.2,1371.8 1317.9,1370.4 1319,1368.7 1318.6,1366.2 1319.4,1364.7 1319.2,1363.2 1317.7,1362.6 1317.8,1360.9 1316.8,1359.7 1315.2,1357.9 1316.8,1356.7 1316.3,1354.1 1315.1,1352.3 1316,1350 1314.7,1348.9 1314.9,1346.7 1313.6,1344.7 1312.9,1342.8 1314.5,1341.5 1315,1339.4 1314.3,1337.7 1314,1335.7 1313.8,1334.2 1311.6,1333.2 1311.7,1331.2 1311.4,1328.8 1310.8,1327.3 1310.4,1325.2 1309.9,1323.8 1309.9,1321.9 1308.2,1320.8 1308.6,1318.8 1306.9,1318.4 1305.4,1317.6 1306.1,1315.8 1306.4,1314 1304.7,1313.5 1305.1,1311.4 1304.1,1309.8 1302.5,1308.2 1301.5,1306.3 1301.4,1304.1 1300,1302.6 1299,1300.5 1298.6,1298.9 1298.5,1297.2 1297.1,1295.8 1295.8,1294.4 1295,1293.5 1294.3,1292.1 1295.6,1289.8 1295.4,1288.4 1295.6,1286.8 1297.7,1285.5 1298.1,1284.1 1298.7,1281.9 1298.2,1281 1297.6,1279.5 1296.9,1278 1297.6,1275.9 1297.6,1274.1 1297.6,1272.6 1297.9,1271.5 1297.2,1269.7 1297,1267.8 1298.4,1266.6 1298.2,1265.2 1299.3,1263 1300.5,1261.2 1302.3,1260.8 1302.9,1258.9 1303,1257.5 1303.8,1255.9 1305,1255.3 1304.8,1253.1 1303.9,1250.7 1304.2,1248.9 1304.3,1246.9 1306.5,1245.7 1307,1243.3 1308.8,1241.9 1307.9,1240.8 1308.4,1239.3 1308.3,1237.4 1309.5,1236.7 1310.3,1234.7 1309.9,1233.2 1309,1231.6 1307.4,1230.1 1307.7,1228.1 1307.4,1226.1 1307.6,1223.9 1306.2,1223.5 1305,1222.2 1306,1220.3 1306.5,1218.7 1307.1,1216.4 1305.7,1214.3 1305.2,1212.6 1304.4,1211 1305.5,1209.6 1305.4,1207.3 1305.5,1205.2 1303.3,1203.8 1303.1,1202.5 1303,1200.9 1303.9,1199.4 1304.3,1197.1 1304,1195.2 1302.5,1193.4 1302.6,1191 1302.2,1188.9 1301.6,1186.9 1301.3,1185.1 1301.8,1183.5 1301.9,1182.5 1301.4,1180.8 1300.2,1179.6 1300.2,1178.1 1299.2,1176.4 1297.7,1176 1295.9,1174.6 1294.9,1172.8 1294.8,1171.5 1295.1,1169.9 1293.3,1170.1 1292.1,1168.2 1291,1165.8 1290.7,1164 1288.5,1162.6 1287.7,1160.5 1288.5,1159.3 1288.6,1157.9 1286.6,1156.8 1284.9,1156.5 1283.2,1156.2 1283.6,1154.3 1283,1153.2 1281.8,1152 1282,1149.7 1282.3,1148.3 1282.7,1146.6 1281.1,1146.2 1279.7,1145.8 1278.1,1144.4 1276.5,1143.2 1276.6,1141 1275.6,1139 1274.1,1139.2 1272.6,1138.3 1272.8,1136.1 1274.2,1134.6 1274.6,1133.4 1274.5,1132 1273.2,1130.3 1274.1,1128.1 1274.7,1126.7 1276.1,1125.7 1276.9,1124.8 1278.4,1123.7 1279.5,1124.5 1279,1122.3 1279.3,1120.8 1278.7,1118.6 1279.2,1116.9 1278.9,1115.2 1279.5,1113.6 1280.7,1112.2 1281.8,1110.7 1281.3,1109 1281.4,1107.7 1282.5,1106.3 1281.9,1103.8 1281.8,1102.5 1280.7,1101.2 1278.5,1100.1 1276.7,1099.7 1275.8,1098.9 1274.9,1096.9 1275,1094.4 1275.4,1093.5 1275.9,1091.9 1274,1091 1273.2,1089.4 1271.5,1089.1 1270.3,1087.7 1268.7,1089.5 1267.5,1090.3 1266.5,1091.6 1265.1,1090 1263.9,1090.2 1262.2,1090 1260.5,1090.9 1258.8,1090 1245.1,1078.6 1243,1077.4 1241.4,1076.8 1240.7,1076 1238.7,1075.3 1237.1,1076.7 1236.9,1074.8 1235.7,1074.1 1233.6,1074 1231.9,1075 1230.8,1075.5 1229.3,1075.6 1227.7,1076.1 1226.4,1076.5 1224.8,1077.9 1223.5,1077.7 1221.9,1076.7 1219.9,1076 1217.5,1076.3 1215.1,1076.2 1213.9,1074.6 1213,1076.5 1213.3,1078.7 1211.6,1079.5 1210.2,1080.5 1209,1080 1207.5,1079.7 1205.7,1080.3 1204.2,1080.8 1202.7,1081.5 1201.4,1081.8 1200.7,1082.7 1199.1,1083.1 1198.2,1084.3 1196.3,1084.3 1193.9,1084.1 1191.8,1083.9 1189.7,1084.8 1188,1084.3 1186.6,1085.3 1185.8,1086.1 1184.2,1086.7 1183.8,1088.1 1182.5,1087.9 1180.8,1087.7 1179.5,1086.7 1178.1,1087.6 1177,1088.7 1175.6,1089 1173.3,1089.2 1171.7,1089.4 1170.1,1088.6 1168.9,1087 1167.5,1085.6 1165.6,1086.9 1164.2,1087.5 1162.9,1086.3 1161.7,1085.2 1160.1,1086.3 1157.8,1085.4 1156.6,1086.7 1154.9,1085.8 1153.9,1086.4 1152.1,1086.7 1150.7,1088.3 1149,1089.7 1148,1090.5 1147.3,1091.8 1145.2,1091.1 1143.5,1092 1142.3,1092.3 1141.1,1093.1 1139.4,1092.3 1138.4,1091.1 1138.2,1089.2 1136.6,1087.7 1135.3,1086.5 1134.3,1084.6 1131.9,1084.1 1130.4,1082.7 1130.1,1081.2 1128.3,1080.2 1126.8,1079.3 1125.6,1078.6 1123.8,1079.6 1122.1,1079 1121.9,1080.1 1120.5,1081 1120.1,1079.5 1118.3,1078.9 1118.6,1076.8 1118.2,1074.6 1116.3,1074 1114.9,1072.9 1114.4,1071.9 1114.6,1070.6 1113.6,1069.4 1115.4,1067.6 1113.3,1067 1111.9,1067.1 1110.6,1066.5 1108.7,1065.8 1109.3,1063.3 1108.2,1061.8 1106.5,1061 1104.3,1060.4 1102.4,1060.1 1101.4,1058.6 1100.6,1057.4 1099.2,1056.8 1098.1,1055.6 1097.2,1053.3 1095.6,1052.5 1095.7,1051 1094.9,1049.3 1093.4,1047.4 1092.1,1045.9 1092.4,1043.6 1091.2,1041.8 1089.7,1042.9 1087.2,1042.4 1086.2,1040.9 1085.4,1039.2 1085.6,1037.2 1085,1035.6 1084.8,1034.4 1082.6,1033.2 1081.5,1031.7 1079.7,1030.3 1078.3,1029.5 1077.3,1027.6 1076.4,1026.1 1075.8,1023.6 1074.2,1022.7 1073.1,1022 1072.1,1020.9 1072.6,1019.3 1070.8,1017.6 1069.7,1018 1068.2,1018.8 1068.6,1016.8 1069,1015.4 1067.4,1013.9 1065.4,1013.7 1064.9,1012.8 1064,1011.5 1064.9,1009.2 1063.6,1007.4 1063.7,1004.9 1062.3,1004.5 1061.4,1002.7 1061.4,1000.2 1060.8,998.7 1061.3,997.5 1061.3,995.9 1061.6,994.7 1062,992.8 1063.4,992.5 1064.5,991 1065,988.8 1065.1,987 1065.6,985.1 1067.2,985.1 1068.2,984.4 1069.4,982.3 1069.5,980.7 1069.8,979.5 1070.4,978 1070.4,976.4 1068.9,975.6 1068.5,974.3 1067.7,972.5 1066.2,970.8 1065.1,969.3 1065.8,967.9 1065.9,966.4 1065.8,965.1 1065.9,963.7 1066.5,962.3 1065.9,961 1065.9,958.5 1065.6,956.5 1064.9,954.3 1065.2,951.8 1065.9,949.4 1065.6,947.6 1064.9,946 1064.5,944.7 1065.4,944.1 1066.7,942.9 1065.9,940.9 1065.8,938.4 1065,937.2 1063.6,936.2 1064.1,933.6 1065.5,932.7 1066.8,932 1067.6,930.4 1069.3,928.5 1068.8,926 1068.3,924.5 1068.1,921.9 1069.2,921 1070.8,921.1 1070.3,919.1 1070.5,917.8 1071.1,916.2 1072.1,915 1073.8,913.6 1074.6,912 1074.8,909.6 1076,908.9 1077.4,907.4 1078.6,905.3 1079.9,904.3 1081.1,903 1082.6,901.3 1082,899.4 1081.9,897.4 1083.6,896.8 1085.3,896 1086.1,894.9 1087.8,893.7 1088.5,892.4 1089.7,891.9 1089.8,890.2 1091.2,889.6 1091.9,888.5 1092.6,887 1093.7,885.4 1094.9,884.2 1095.8,883.3 1097.4,881.6 1097.7,880.3 1097.3,878.9 1099.2,877.9 1100.4,876.5 1102.2,875.1 1103.7,874.4 1104.4,873.5 1105.6,872.9 1107,871.6 1109.1,872 1110.2,870.7 1111.8,870.1 1113,869.3 1114.4,868.3 1116,866.8 1116.8,866 1118.5,865.9 1119.6,867.5 1121,867.3 1127.9,853.5 1127.4,851.3 1127.8,849.8 1127.6,847.9 1127.7,845.3 1126.8,843.3 1125.6,842 1126.9,840.4 1127.4,839 1129.2,839 1130,838.2 1130.4,836 1129.9,834.5 1129.8,833 1130.8,831.8 1132.1,830.1 1134,828.5 1134.6,827.5 1134.8,825.9 1134.2,823.7 1135.7,822.7 1136.2,821.5 1137.2,820.5 1138.2,819.6 1138.3,817.2 1139.9,816.2 1140,814.1 1142,815.2 1143.6,814.9 1144.2,812.8 1146.3,812.2 1147.1,811.3 1147.6,809.8 1148.9,808.2 1151.1,808.3 1152.1,806.9 1153.5,805.8 1153.8,804.7 1155.5,803.4 1156.4,801.7ZM1601,1241.6 1601.9,1242.9 1602.6,1243.9 1603.8,1244.7 1605.5,1245.5 1604.8,1247.9 1605.2,1249.1 1606.1,1250.9 1606.2,1253.2 1606.4,1254.9 1606.9,1256.4 1607.9,1257.7 1607.9,1259.4 1607.1,1260.5 1607,1261.8 1607.7,1263.4 1607,1265.8 1607.2,1267.7 1606.3,1268.7 1607.5,1270.6 1608.4,1272 1608,1273.2 1607,1274.5 1605.6,1276.1 1605.9,1277.4 1605.9,1278.7 1604.8,1279.6 1604.2,1281.3 1603.7,1283.6 1603.6,1285.7 1603.5,1288 1603.3,1290.2 1601.2,1291.6 1599.4,1292.6 1598.7,1294.4 1600.1,1296 1601.7,1297.2 1601.8,1298.4 1602,1299.9 1600.4,1301.1 1600.2,1302.3 1599.6,1304.2 1598.2,1306 1597.3,1307.2 1598.1,1308.9 1597.4,1310.4 1596.1,1311.9 1595.4,1313 1594.1,1314.1 1591.9,1315.1 1590.8,1316.3 1590.6,1317.6 1591.1,1319.1 1591,1321.6 1591.5,1323.5 1591,1324.7 1590.5,1326.1 1588.7,1327.3 1587.8,1329.5 1588,1331.1 1588.1,1333 1587.5,1334.9 1586.4,1336.4 1584.7,1337.5 1583.3,1337.3 1583.4,1339 1582.7,1340.4 1581.2,1342.4 1581.1,1344.6 1581,1346.1 1579.9,1347.4 1579.1,1349.2 1577.4,1350.9 1575.2,1349.7 1575.5,1351.3 1575.8,1353 1573.9,1354 1572.3,1354.6 1573.2,1356 1572.6,1358.2 1572.6,1360.1 1571.2,1361 1569.4,1362.2 1568,1362.9 1566.4,1362.2 1565.7,1363.8 1564.3,1365.5 1563.7,1367.4 1561.7,1368.7 1559.5,1368.2 1557.4,1367.9 1556.1,1366.2 1554.8,1364.7 1555.4,1363.4 1553.7,1362.4 1552.2,1361.4 1550.9,1361.5 1549.5,1360.1 1548.4,1359.1 1547.6,1357.7 1547.2,1356.1 1548.2,1354.1 1546.9,1353.7 1545.8,1352.2 1545.8,1350.4 1546.3,1349.4 1546.5,1348 1546.6,1346.6 1547,1345 1546.4,1343.9 1547.6,1342.2 1548.7,1341 1548.6,1339.6 1549.8,1338.7 1550,1336.9 1549.5,1335.3 1548.6,1334.2 1549.7,1332.7 1548.2,1331.2 1548.4,1329.7 1549.3,1328.2 1550.3,1326.6 1550.6,1324.1 1552,1322.4 1552.3,1320.5 1551.8,1318 1552.5,1316.3 1552.1,1315.1 1553.7,1313.8 1554.1,1312.3 1554.6,1311.2 1556.2,1310.4 1557.3,1310.5 1557.4,1308.2 1558,1306.4 1559.4,1304.8 1561.1,1303 1561.2,1300.7 1560.7,1299.4 1559.7,1297.5 1559.5,1295.9 1560.3,1294.7 1559.4,1292.9 1560,1290.9 1559.7,1289.4 1559.5,1287.8 1559.7,1285.2 1561,1284.7 1562.8,1283.9 1564.3,1282.6 1565.7,1282.4 1567.9,1281.9 1569.9,1280.9 1569.3,1278.7 1569.7,1277.3 1571.2,1276.1 1573.7,1276.7 1575.4,1275.3 1576.6,1274.3 1578.3,1273.3 1580.1,1272.2 1581,1270.7 1581.5,1269.2 1583.3,1268.6 1585,1266.9 1586.3,1264.9 1587.5,1264.5 1589.2,1263.8 1587.8,1262.9 1588.6,1260.9 1587.4,1258.6 1588.5,1257.6 1589.1,1256.1 1588.9,1253.9 1590.5,1253.2 1591.9,1252 1594.1,1250.8 1595.7,1248.8 1597.2,1248.5 1598.9,1247 1600.7,1245.8 1600.1,1244Z"/>
<path class="c1" d="M1160.5,801.6 1162.8,800.9 1164.2,801.9 1165.8,801.4 1167.2,801.4 1168.5,802.3 1169.4,803.1 1171.5,802 1172.9,803.7 1174.4,803.7 1176.3,804 1178,803.2 1177.9,801.4 1178.4,800.1 1180.6,800.4 1181.9,801 1183.9,801.2 1186.1,800.8 1187.4,801.6 1188.9,813.6 1187.4,825.5 1191.9,834.5 1181.4,837.5 1172.4,842 1166.5,849.4 1157.5,853.9 1145.5,859.9 1133.6,867.4 1133,876.3 1099.2,876.3 1100.3,874.3 1101.6,872.7 1102.7,871.5 1104.8,872 1106.7,870.4 1107.9,869.8 1109.3,869.6 1111.1,868.1 1112.8,869.5 1114.6,868.5 1116.1,867.8 1116.8,865.8 1116,864.1 1115.6,862.9 1115.4,861.1 1115.8,859.2 1117.2,859.1 1118.3,857.4 1118.5,855.3 1120.7,854.1 1121.4,852.9 1123.1,852.4 1124.5,851.1 1125.1,849.7 1125.2,847.3 1126,845.2 1126.1,843.9 1126.1,842 1127.5,840.3 1128.8,839.8 1128.5,837.4 1129.7,835.8 1131,834 1130.8,832.7 1132.1,831.5 1133.8,830.1 1134.3,828.3 1134.9,826.6 1134.5,825.5 1136.1,826 1138,827.1 1139.8,825.9 1139.6,824 1148.5,816.6 1156,809.1Z"/>
<path class="c2" d="M1187.4,801.6 1189.2,801 1191,801.9 1192.8,801.8 1194.1,801.5 1194.5,800 1194.5,798.9 1195.8,798.4 1197.3,798 1199.3,797.1 1201.2,798.2 1202.5,797.1 1204.2,795.9 1206.2,795.5 1207.3,795 1208.7,795.2 1210.5,794.9 1211.9,793.6 1214.3,792.7 1216,793.2 1217.3,793.6 1218.8,793.8 1220.3,792.3 1221.1,790.9 1223,790.8 1225,791.8 1226.9,791.9 1229.2,791.2 1230.6,791.3 1232.3,791.6 1233.3,790.8 1235,791.1 1237.3,791.8 1238.4,790.9 1239.6,790.3 1242,791.3 1244.2,791.2 1246.4,792.2 1248.2,791.3 1248.6,792.8 1250.1,793.4 1252,793.6 1253.7,793 1254.7,792.4 1256.5,792.4 1256.7,790.3 1259.1,789.7 1260.1,790.6 1261.6,791.3 1263.3,790 1264.8,791.2 1266.6,791.2 1263.6,801.6 1259.1,816.6 1262.1,825.5 1271.1,834.5 1275.6,849.4 1278.5,861.4 1280,873.4 1277,888.3 1283,903.2 1295,913.7 1253.1,940.6 1247.2,952.6 1229.2,956.4 1211.3,939.1 1193.4,927.2 1175.4,915.2 1157.5,903.2 1133,889.8 1133,876.3 1133.6,867.4 1145.5,859.9 1157.5,853.9 1166.5,849.4 1172.4,842 1181.4,837.5 1191.9,834.5 1187.4,825.5 1188.9,813.6Z"/>
<path class="c1" d="M1266.6,791.2 1267.8,790.3 1269.7,790.6 1270.5,789.3 1270.3,787.5 1272.2,786.5 1274.1,788.2 1274.3,789.2 1275.7,790.2 1277.1,791.4 1278.8,791.3 1280,790.9 1281.4,790.3 1283,791.2 1282.6,793.6 1280.7,795 1280.6,796.4 1280,798.6 1280.9,799.8 1281.8,801.1 1282.6,801.8 1283.8,802.9 1284.5,804.6 1284.4,806.9 1283.7,808.1 1284,809.7 1283.9,811.1 1284.9,812.7 1283.1,814.4 1281.5,815.1 1282.8,817 1283.6,819.2 1285.7,820 1285.9,821.6 1287.5,822.5 1286.4,824.2 1285.9,825.5 1286.7,827.8 1287,830.1 1289,831.5 1281.5,839 1278.5,849.4 1275.6,849.4 1271.1,834.5 1262.1,825.5 1259.1,816.6 1263.6,801.6ZM1394.7,839.1 1396.1,840.1 1397.8,840.4 1399,840.7 1400.7,840.9 1401.7,841 1403.3,841.2 1404.7,841.3 1406,841.4 1407.3,842 1409.2,842.6 1411.4,843.2 1413.3,843.8 1415.8,843.6 1417.8,845.1 1419.9,845.4 1421.7,843.6 1422,845.3 1422.8,846.2 1424.7,846.1 1426.3,846.8 1428.2,846.9 1430.3,846.5 1431.9,845.8 1433.2,844.3 1435.2,845.7 1437.7,846.1 1438.8,845 1438.4,843.3 1439.7,842.6 1441.7,842.6 1444,842.3 1445.6,841.9 1447.5,842.3 1448.5,844.3 1450.3,845 1451.8,845.6 1452.2,846.8 1453.2,845.3 1455.4,845.1 1457.6,845.3 1459,844.3 1460.3,844.7 1462.2,844.3 1463.5,844 1465.2,843.4 1467.3,843.2 1469.1,841.7 1469.1,847.7 1471.6,855.4 1473.3,862.2 1472.5,867.4 1472.3,869 1471.5,870.1 1470.8,872.5 1470.2,873.9 1470.5,875.4 1468.9,876.2 1468.2,877.6 1466.4,876.8 1465.6,874.5 1462.2,869.4 1458.8,864.3 1456.2,859.1 1454.7,855.7 1453.3,857.9 1455.7,863.9 1459.7,870.8 1461.4,871.9 1462.1,874.3 1462.8,876.4 1463.9,877.6 1463.5,879.1 1463.7,880.9 1465,882.7 1466.5,883.2 1468.7,884.1 1468.9,886.2 1469.8,886.9 1471.4,886.9 1472,888.5 1473.3,889.9 1473.7,892.3 1473.2,893.4 1473.2,895 1473.5,896.2 1475.2,896.8 1477,897.6 1478.5,896.4 1479.3,898.2 1480.6,899.1 1482.6,900.1 1483,901.5 1482.7,903.2 1483.9,904.6 1485.3,906.3 1485,908.3 1486.2,909.2 1485.8,911.1 1487,912.4 1486.7,913.6 1486.8,915.2 1487.8,917 1488.3,918.3 1487.9,919.4 1487.8,921.2 1488.4,922.5 1489.9,922.9 1492.3,923.7 1491.6,924.9 1491,926.1 1491.1,927.3 1492.2,928.7 1400.2,928.7 1399.6,909.2 1398.1,879.3 1396.6,855.4ZM1232.2,1010.8 1239.7,1004.9 1256.1,1007.9 1274.1,1012.3 1292,1009.4 1309.9,1006.4 1317.4,1013.8 1318.9,1022.8 1312.9,1031.8 1306.9,1043.7 1301,1055.7 1295,1067.6 1292,1072.1 1283,1067.6 1275.6,1076.6 1272.6,1085.6 1271,1087 1269.7,1086.1 1268.4,1087.3 1266.6,1088.6 1265.9,1089.7 1264.3,1090.9 1262.1,1090.1 1260.7,1091.1 1258.2,1091.6 1257.2,1092 1255.5,1092.2 1253.6,1091.5 1251.6,1091.5 1251.2,1090 1249.5,1088.8 1248.4,1087.6 1247.2,1087.1 1245.4,1085.3 1244.5,1083 1243.6,1081.6 1244.2,1079.6 1242.7,1078.2 1241,1076.3 1240.6,1074.7 1239.2,1074 1237.1,1074.1 1235.2,1073.6 1233.5,1074.8 1231.3,1075.9 1230.8,1074.3 1229.2,1072.8 1227.6,1073.6 1226,1074.1 1224.6,1072.5 1223.2,1072.1 1224.7,1058.7 1226.2,1043.7 1230.7,1028.8ZM1060.4,995.9 1061.6,994.4 1061.9,992.7 1062.7,991.8 1063.1,990.6 1063.4,988.8 1064.8,986.9 1064.9,985.4 1066.7,984.1 1067.9,982.4 1069.3,982.4 1070.8,981 1081.3,979.5 1088.7,983.9 1097.7,991.4 1103.7,998.9 1106.7,1010.8 1108.2,1016.8 1094.7,1015.3 1079.8,1016.8 1064.8,1016.8 1064.6,1014.7 1063.4,1014.1 1063.3,1012.3 1062.7,1010.1 1061.8,1007.9 1060.7,1006.3 1060.8,1004.4 1061.9,1002.1 1061.5,999.5 1059.8,998.1Z"/>
<path class="g" d="M1064.2,1005.5 1076.8,1004.3 1087.3,1003.4 1088.1,1007.3 1076.8,1007.9 1064.8,1009.4 1064,1007.9Z"/>
<path class="c1" d="M1474.3,863.2 1482.7,862.3 1491.3,857.2 1497.3,850.3 1489.6,841.7 1504.2,834.8 1513.2,837.5 1528.1,843.5 1540.1,852.4 1552,862.9 1567,862.9 1571.5,867.4 1577.4,868.9 1579.4,868.5 1580.9,869.6 1580.4,871.8 1581.8,872.4 1582.5,874.1 1581.3,875.5 1581.7,877.1 1581.9,879.3 1582.6,881.4 1582.4,882.9 1583.2,884.5 1584.5,884.9 1583.4,887.1 1584.9,888.7 1586.9,889.5 1587.9,891.3 1588.5,892.6 1588.3,894.5 1589.2,896 1589.6,897.3 1590.8,898.1 1592.5,899.4 1594,899.7 1595.1,901.2 1595.5,902.7 1596.9,903.2 1598.1,905.1 1599.7,905.4 1599.5,907.9 1601.3,908.1 1602.9,908.3 1604.4,908.5 1605.8,909.2 1606.7,910.2 1607.4,911.6 1608.6,913.9 1610.3,914.2 1612,914.2 1613.3,912.2 1617.8,919.7 1640.2,922.7 1643.2,936.1 1635.7,948.1 1617.8,955.6 1602.8,960 1587.9,967.5 1581.9,975 1567,972 1555,970.5 1547.5,975 1546,981 1543.8,979.6 1541.7,980 1541,978.6 1540.1,976.5 1538.5,976.1 1537.7,974.1 1537.9,972.5 1537.8,971.4 1536.3,969.9 1536.7,967.6 1535.3,967.4 1534.1,966 1532.6,965 1531.3,964.2 1530.7,963 1529.3,962 1528.3,960 1527,959.1 1527,957.7 1528.1,956.5 1528.1,954.1 1527.9,952.7 1527.5,951.5 1526.5,950 1526,948 1524.9,946.2 1523.7,944 1522.9,942.7 1520.9,943 1519.4,941.7 1519.1,939.1 1518.9,937.6 1519,936.5 1517.5,934.9 1516.6,933.2 1514.1,932.8 1512,931.4 1511.1,929.7 1511.3,927.3 1510.3,925.6 1510.2,924.2 1510.2,922 1508.7,920.8 1506.7,919.5 1508.1,918 1507.4,916.5 1505.8,915.9 1504.7,915.8 1502.6,914.5 1500.9,913.8 1501.6,912.8 1502.2,911.5 1501.2,909.2 1501.1,907.1 1499.3,907.1 1497.7,905.1 1496.4,903.8 1495.6,901.4 1494.7,899.6 1495.4,897.8 1494.3,896.4 1493.7,894.3 1493.2,891.8 1493.1,889.6 1491,889 1489.9,887.7 1487.4,888.1 1486.9,886.2 1486.9,884.4 1486.5,882.9 1485.6,881.2 1484.5,879.3 1484.2,877.6 1482.1,876.3 1480.4,875.7 1479.4,874.3 1479.4,872.8 1478.6,871.3 1477.8,870.3 1476.7,869.2 1476.5,867.8 1475.4,866.6 1475.3,864.4Z"/>
<path class="g" d="M1546,981 1547.5,975 1555,970.5 1567,972 1581.9,975 1587.9,967.5 1602.8,960 1617.8,955.6 1625.3,978 1624.2,978 1622.4,978.1 1621.2,980 1619.3,980 1618.4,981.9 1617.4,982.9 1616.4,983.7 1615.1,985.3 1614.8,986.9 1613.1,986.8 1611.4,987 1610.3,986.9 1608.4,987.1 1608.1,989.3 1606.6,989.6 1605.6,990.6 1604.3,991.9 1603.1,991.6 1601.9,993.2 1599.8,994.4 1598.7,995.8 1596.9,996.6 1595.5,998.5 1593.1,998.8 1592,1000.6 1591.5,1001.6 1590.6,1003.1 1588.8,1003 1587.6,1002.1 1586.1,1002.2 1584.9,1001.9 1583.2,1002.4 1581.9,1003.7 1580.4,1004.3 1578.4,1005.8 1577.1,1007 1574.9,1008 1572.7,1008.9 1571.2,1007.9 1570,1007.9 1568.3,1008.4 1567.6,1009.8 1567.1,1010.8 1566.8,1012.4 1565.2,1012.1 1564.4,1011.1 1563.1,1009.7 1561.1,1010.8 1559.4,1010.9 1557.8,1011.6 1557.4,1012.9 1555,1013.8 1556.5,1011.8 1555.6,1009.8 1555.6,1008 1555.8,1007 1554.2,1006.9 1553,1007.4 1551.1,1006.7 1550.5,1004.9 1550.7,1002.9 1551.9,1001.3 1550.7,1000.1 1549.6,999.4 1548,997.6 1548.3,995.7 1547.9,994.5 1547.5,992.9 1548.8,991.7 1549,990.3 1549.6,988 1549.5,986.3 1548.9,984.9 1546.9,984 1547,982.7Z"/>
<path class="c2" d="M1617.8,955.6 1635.7,948.1 1643.2,936.1 1640.2,922.7 1643.2,909.2 1645,909.3 1646.5,908.3 1647.9,908.7 1650.4,908.7 1651.8,908.5 1653.6,909.2 1655.3,910.4 1656.6,911.1 1657.8,911.4 1659.1,912 1661.1,912 1662.8,913.2 1664.5,913.7 1665.6,913.7 1666.3,915.8 1667.5,915.1 1669.4,915.7 1669.6,917.5 1669.8,918.7 1671.2,919.6 1672.3,920.6 1673.5,921.3 1674.8,921.6 1676.1,922.7 1675.3,924.2 1676.3,926.1 1677.2,927.5 1676.9,928.7 1677.8,930.6 1676.7,931.4 1675.5,932.3 1675.4,933.9 1674.6,936.1 1674.1,937.6 1672.3,939 1671.6,940.4 1670.1,942 1670.4,944 1669.4,945.2 1668.5,946 1667,946.6 1665.6,948.1 1664.7,949.8 1663.9,951 1663.1,951.9 1661.7,952.9 1662.2,955.2 1661.1,957 1659.1,958.2 1657.1,957.7 1655.8,959.3 1654.7,960.5 1654.7,962 1652.9,962.8 1651.2,963.5 1649.9,963.4 1650.4,964.8 1650.7,966 1648.1,966.1 1647,967.1 1646.1,968.3 1644.7,968.3 1643.5,967.8 1641.9,968.6 1641.7,970.5 1640.2,972.6 1639.1,974.7 1637.5,975.3 1635.7,976.5 1633.4,977.1 1632.8,978.9 1631.2,979 1629.8,978.7 1627.8,978.2 1625.3,978ZM1642.3,898.8 1643.6,897.7 1644.9,897.6 1646.3,896.6 1647.1,895.8 1647.8,898.3 1647.5,899.5 1646.6,900.8 1645.5,902 1645.1,903.6 1646,904.9 1647.7,906.2 1643.2,907.7 1642.7,905.2 1642.2,903.4 1643.4,901.2 1642.2,900.1ZM1613.3,912.2 1614.6,913.4 1615.9,912.8 1617.9,911.9 1620,911.6 1621.5,910.5 1623.8,909.2 1626,909.6 1627.7,910.1 1629.6,909.6 1630.8,909.6 1632.9,908.2 1634.2,906.2 1635.8,905.1 1636.4,903.4 1637.2,902.4 1639.3,903.1 1640.3,902.7 1641.9,902.1 1642.2,900.4 1643.2,898.8 1643.2,909.2 1640.2,922.7 1617.8,919.7Z"/>
<path class="c1" d="M1604.3,891.3 1605.6,891.2 1607.3,890.9 1608.8,889.8 1608.9,891.7 1609.4,893.7 1609.3,895 1609.2,896.5 1610.3,898.8 1608.4,899.1 1606.6,899.1 1605.5,899.9 1605.8,901.8 1604.9,899.6 1606.2,897.9 1604.3,897 1602.8,897.3 1603.8,894.9 1603.9,893.1Z"/>
<path class="c5" d="M1534.1,770.2 1535.2,771.2 1537.2,771.2 1539.6,770.6 1540.9,772.7 1542.3,771.5 1543.8,771.3 1544.3,773.5 1546,774.7 1547.2,773.5 1549.6,773 1550.7,772.2 1552.3,773.1 1554,772.8 1555,771.7 1562.5,767.3 1562.4,768.4 1562.5,769.9 1564.2,770.4 1565.1,771.6 1566.1,772.9 1566.7,775.1 1566.7,776.3 1567,777.7 1568.6,778.3 1569.2,779.2 1570.8,779.8 1572.6,779.9 1572.9,782.2 1575.1,782.5 1576.9,783 1578,783.8 1579.4,785 1580.6,785.8 1581.9,786.7 1584.1,787.5 1585.4,788.4 1587,788.8 1589.2,789.1 1590.5,790.2 1591.7,790.8 1591.9,792.4 1593.9,792.7 1596,792.4 1597.3,793.3 1597.8,792 1599.1,791.5 1600.4,790 1602.6,789.1 1604.1,789.7 1605.8,789.7 1607.4,789 1609.1,787.8 1610.7,787.2 1612.6,786.6 1613.8,785.6 1614.8,785 1616.2,784.1 1617.8,783.7 1632.7,780.7 1647.7,782.2 1659.6,786.7 1668.6,795.6 1670.1,807.6 1667.1,819.6 1673.1,831.5 1677.6,840.5 1682,846.5 1680.5,855.4 1686.5,867.4 1695.5,873.4 1700,882.3 1694,886.8 1691,897.3 1689.7,896.4 1688.6,895.7 1686.4,894.8 1685.5,893.5 1684.4,893.7 1683,894.5 1681.1,894.2 1679.6,893.7 1677.6,894.3 1675.9,894.1 1673.7,894 1672,894.3 1669.7,895.2 1668.1,893.7 1666.3,893.2 1664.1,892.9 1662.6,891.3 1661.1,891.6 1659.5,890.9 1657.3,890.7 1655.2,890.7 1654.2,889.2 1652.1,888.7 1650.7,886.8 1648.4,885.7 1648.2,883.4 1646.5,883.9 1644.7,882.3 1642.9,884.1 1640.4,884.5 1638.5,884.7 1637,884.7 1635.7,885.3 1634.2,884.8 1633.2,883.9 1630.8,884.1 1630.5,881.7 1628.9,880.5 1627.7,880.1 1625.7,880.2 1623.8,879.3 1622,878.3 1619.8,877.6 1618.2,877.3 1618,875.3 1616.4,874.3 1614.9,873.2 1613.2,872.6 1611.8,873.4 1610.6,871.9 1609.6,871.3 1608.3,869.9 1606.1,869.2 1604.8,869.7 1603.2,868.9 1601.6,867.9 1600.6,866.7 1599.8,865.9 1600,864.3 1599.1,863 1598.1,861.7 1596.5,859.7 1594.2,858.8 1593.5,856.7 1592.1,856 1590.2,855.7 1587.9,855.4 1586.3,855.6 1584.6,854.2 1583.1,854 1581.9,852.4 1580.6,852.7 1578.9,853.9 1572.9,846.5 1567,834.5 1565.2,833.1 1563.4,833 1562.7,831.3 1561.7,830.2 1561.1,828.8 1559.8,828.2 1559.1,826.2 1558.8,824.3 1558,822.5 1557.8,821.3 1557.7,819.9 1557.1,818 1555.4,817 1556.4,815 1555.1,813.5 1555.3,812.1 1553.7,811.9 1552,810.6 1555,801.6 1553.3,801.5 1552.1,800.6 1552.1,799.6 1552.4,798 1550.8,797.5 1549.3,797.1 1548.8,795.6 1548.4,794.5 1549,792.7 1546.8,791.7 1545.8,789.5 1544,788.4 1542.5,788 1541.1,787.9 1540.1,786.7 1538.6,777.7 1537.5,776.3 1536.1,776 1534.2,774.5 1535.4,772.5 1534.9,771Z"/>
<path class="c1" d="M1496.4,730.8 1497.7,729.4 1499.9,729.7 1501.9,730.9 1503.9,731.6 1505.9,731.9 1507.2,732.5 1508.4,733.3 1518.6,735.9 1528.9,738.5 1539.1,741.9 1546,745.3 1549.4,750.4 1542.6,752.1 1535.7,751.3 1528.9,752.1 1522.1,750.4 1515.2,748.7 1514.6,747.1 1513.2,746.1 1512,744.6 1510.1,745.3 1510.1,743.5 1508.3,741.8 1506.8,740.6 1505,740.2 1503,739.4 1502,738 1501.8,736.4 1499.8,735 1499.8,733.8 1498.7,732.7 1497.4,732.3ZM1528.9,752.1 1535.7,751.3 1542.6,752.1 1546,757.3 1549.4,762.4 1552.8,767.5 1551.5,768.2 1549.4,769.2 1547.8,768.9 1546.7,767.9 1545.3,766.5 1544.3,764.1 1543.2,763.6 1542,762.9 1541.1,760.7 1539.1,760.7 1537.8,758.5 1536.5,757.4 1535.1,758.6 1533.2,757.3ZM1542.6,752.1 1549.4,750.4 1557.9,750.4 1562.2,747 1562.9,748.3 1563.4,749.3 1564.8,750.8 1566.5,750.4 1568.1,751.9 1568,753.4 1568.7,754.5 1569.9,755.8 1570.8,757.2 1573.3,757.3 1574.5,757.8 1575.1,759.5 1576.8,759.9 1578.5,759.8 1577.1,760.4 1575,761.5 1575.1,763 1575.1,765 1573.6,766.4 1571.6,766.7 1570.6,768.3 1570.3,770.1 1570.8,772.6 1568.8,772.9 1567.4,772.3 1566.5,770.9 1562.2,766.7 1557.9,769.2 1556.6,769.1 1554.7,768.3 1552.8,767.5 1549.4,762.4 1546,757.3ZM1374.6,510.2 1374.8,508.3 1376.3,507.2 1378.4,507.1 1379.7,505 1379.6,503.8 1381.1,502.8 1381.6,504.1 1383.4,504.4 1385.8,505.2 1386.1,506.6 1387.4,507.6 1389.5,507.1 1390.8,507.9 1390.9,509.6 1392.7,511 1395.1,510.2 1396.3,509.9 1397.7,510.2 1399,510.3 1400.4,509.5 1402.7,509.9 1404.3,511.1 1405.7,511.4 1407.8,511.3 1409.3,510.6 1410.5,510.7 1412,510.5 1412.9,511.8 1414.2,512.2 1415.3,513.1 1417,512.5 1418.1,513.3 1419.8,514.1 1421.3,513.6 1423.3,514 1425.2,514.7 1426.5,515.5 1428,516.3 1429.5,517.6 1430.8,518.1 1432.4,517.8 1434.3,517.6 1436.1,517.8 1437.8,517.9 1438.8,517.9 1441.1,518.5 1442.6,519.9 1442,521.6 1442.9,522.9 1445,521.9 1446.4,523 1447.4,524.5 1448.7,524.9 1449.8,525.2 1451.3,525.3 1452,526.8 1451.5,528.1 1450,529.4 1449.8,530.8 1448.9,533.2 1446.6,533 1444.8,533.5 1443.5,534.3 1441.2,534.4 1439.9,535 1438.7,535.3 1436.5,535.1 1434.9,535.7 1433.2,536.2 1431.9,535.8 1430.4,535.5 1428.8,535.9 1427.7,535.6 1425.9,534.5 1424.6,533.1 1423.3,532.8 1420.8,532.8 1418.9,531.6 1417.1,532.1 1415.9,532.4 1414.3,532.4 1413,531.9 1412,530.9 1410.3,530.9 1408.6,529.8 1406.7,529 1405.3,528.6 1402.8,528.1 1395.1,526.8 1407.9,533.2 1409.7,534.6 1410.3,536.1 1411.7,538 1413.8,539.2 1415.6,539.6 1416.6,541.3 1417.5,542.3 1418.1,543.5 1417.9,545.1 1418.2,547.3 1419.9,548.3 1421,549.4 1422.1,550.2 1423.5,550.5 1425.9,551.2 1427.6,551.4 1428.7,550.8 1431.2,550 1432.4,551.8 1433.7,552.8 1436.1,553.7 1436.7,552.4 1436.9,551.2 1437.7,550.1 1437.4,548.6 1435,548.8 1434,547.4 1432.8,547.7 1431.1,547 1430.2,545.9 1429.7,544.7 1431.5,543.1 1433.7,542.5 1435.9,543.2 1437.6,544 1438.7,542.2 1440.1,541.3 1441.7,542.4 1443,542.5 1444.1,543.6 1446.3,544 1447.7,544.9 1448.9,544.7 1452.8,548.6 1452.9,546.4 1451.4,544.6 1450.7,542.3 1450,540.7 1448.9,539.6 1449.8,538.2 1450.4,537 1451.9,535.1 1454.5,534.8 1455.1,533.4 1456.6,533.2 1458.1,532.8 1459.6,532 1461.4,531.7 1462.8,532.3 1464.3,530.7 1466.7,531 1468.4,532.7 1470.4,533 1472,533.2 1471.9,530.8 1470.4,530 1472.1,528.4 1473.6,527.6 1472,526 1470.5,526.1 1469.4,525.5 1469.4,524.1 1468.7,523 1467.8,521.6 1465.8,521.2 1464.3,519.4 1462.8,520.1 1461.7,520.4 1460.7,519 1460.2,517.5 1459.2,515.3 1460.5,514.4 1461.6,514 1463.9,513.8 1465.9,514.3 1466.8,515.3 1468.9,516 1470.7,516.3 1472.8,517.6 1474.6,518.1 1475.8,519.1 1475.4,521.5 1477,523.1 1478,524.6 1479.7,525.5 1481.8,526.4 1483.2,527.8 1485.3,528.6 1487.3,528.1 1489.1,526.8 1490.4,525.5 1489.9,524.3 1489.9,522.5 1492.2,522 1493.9,520.2 1493.9,518.6 1495.4,519.4 1497.4,520.4 1498.5,519.5 1500.2,519.1 1501,520.3 1501.1,521.8 1502.8,523.7 1503.5,521.8 1503.6,520.2 1505.2,520.4 1506.3,519.9 1505.2,517.8 1503.9,516 1505.8,514.7 1506.5,513 1508.9,513.5 1510.3,514.8 1511.8,514.1 1513,515.3 1514.5,513.4 1516.4,513.9 1518.8,513 1520.6,512.7 1521.9,514.2 1522.8,515.5 1524.8,514.7 1525.6,516.5 1526.2,518 1525.2,519.4 1526.7,518.7 1528.4,518.3 1528.4,515.9 1530.1,515.5 1530.9,514 1532.2,515.2 1533.7,515.5 1536,515.3 1537.7,515.1 1538.4,513.6 1539.5,512.6 1541.1,512.7 1542.1,510.9 1544,511.7 1545.4,512.3 1546.9,512.8 1548.9,512.1 1549.9,513.5 1549.3,511.4 1551.4,510.2 1552.3,511.3 1554.1,511.8 1554.4,513.4 1553.5,514.6 1554.9,514.5 1556.5,514 1557.8,513.5 1559.6,513.9 1560.9,512.2 1560.7,510.2 1560.9,508.7 1561.6,507.6 1560.5,505.9 1559.2,505 1557.8,504 1556.9,503.6 1555.7,502 1554,503.8 1552.4,505.7 1550,505.2 1549.3,502.9 1547.5,502.9 1546.3,501.2 1547.6,502.4 1548.8,502.3 1550.6,501.1 1552.2,502.5 1553.6,500.7 1555.3,501.3 1556.5,501.2 1557.8,501.8 1559.1,503.6 1559.5,505.5 1561.5,506 1562.6,504.7 1564.1,505.7 1565.4,505.4 1566.8,505 1568.5,505.8 1569.4,506.8 1571.4,508.4 1572.7,507.4 1574.3,508.1 1576.4,508.9 1577.3,507.3 1579.6,507.6 1581.2,507.5 1582.9,508.6 1584.6,508.1 1586.6,508.8 1587.9,509.2 1589.1,509.4 1590.6,510.2 1592.4,511.4 1593.8,511.6 1595.7,511.6 1597,512.8 1597.8,513.9 1599.8,515 1601.1,514.6 1602.6,515.3 1604,516.2 1605.4,518 1607.4,518.3 1609,517.8 1609.4,516.6 1610.6,515.2 1610.3,512.7 1609.1,512.1 1607.5,511.1 1606.2,510.8 1604.7,510.5 1602.3,509.5 1601.2,508.3 1600.1,507.6 1599.4,506.1 1598.7,504.9 1597.7,503.4 1596.1,502.9 1594,503.8 1592.5,503.3 1591.1,502.5 1588.9,501.9 1587.6,501.1 1585.8,499.3 1586,497.4 1583.8,495.9 1581.9,495.4 1581.5,493.2 1583.2,492 1582.3,490.6 1584,490.6 1584.9,491.4 1586.7,490.4 1588.3,490.8 1589.8,489.7 1591,488.2 1592.5,487.5 1593.8,486.6 1595.2,486.2 1594.1,485.6 1592.8,485 1593.5,483.1 1592.4,482 1593.9,482.8 1595,482.3 1596.4,480.8 1598.4,480.1 1600.1,479.4 1601.6,480.7 1603.1,481.2 1603.6,482.8 1605.5,482.6 1607.8,482 1608.9,483.2 1609.8,485.4 1611.7,485.5 1613,486.2 1614.2,487.1 1613.3,488.6 1612.4,489.7 1613.2,491.3 1615.2,492.8 1615.4,494.8 1615.5,496.6 1614,497.2 1614.2,498.6 1614.5,500.5 1616.2,501.5 1617.4,501 1618.8,501.2 1620.6,502.5 1621.8,504.4 1623.5,504.5 1625.7,505.6 1626.6,507.6 1628.2,507.6 1630.2,509.2 1632,509.3 1634.3,510.2 1634.7,511.4 1635.9,512.7 1635.7,514.7 1635,516.7 1634.1,518.2 1634.4,520.1 1635.7,519.8 1637.5,519.1 1639.7,518.6 1641.1,520.4 1639.6,522 1637.4,523.3 1637.9,525 1636.4,526.3 1637.4,526.7 1638.5,528.1 1636.4,529.1 1634.4,529.2 1632.9,529.9 1630.8,530.7 1620.6,529.4 1630.8,533.2 1632.9,534.3 1634.3,535.1 1636.3,534.8 1638,534.3 1638,532.4 1639.1,533.1 1641.1,533.2 1642.9,533.8 1644.7,533.5 1646.3,533.6 1647.6,533.2 1648.2,531.7 1648.8,530.8 1646.8,529.9 1647.4,528.1 1647.5,526.8 1646.2,525.2 1645.6,523.6 1645.8,522.5 1647.2,522.6 1648.2,521 1649.6,520 1648.7,517.8 1647.3,515.9 1647.3,513.9 1645.7,513.5 1645.3,511.1 1643.6,510.2 1642.8,507.9 1642.1,506 1640.1,506 1640.9,504.4 1642.5,502.6 1642.6,505 1641.2,506.9 1639.9,504.8 1639.4,503.2 1637.5,503.3 1635.9,502.5 1633.5,502.2 1632.5,500.5 1630.8,500.4 1631.4,499.1 1631.1,497 1630.1,498.2 1628.2,497.4 1626.1,496.1 1624.2,496.1 1624.8,493.8 1624.3,492.2 1622.3,492.4 1622.6,490.2 1620.6,489.7 1620.6,488 1620.3,486 1618.7,485 1619.7,483.4 1618,482 1619.9,481.1 1621.4,480.3 1622.5,479.5 1624.1,478.4 1624.3,480 1625.7,480.7 1626.9,480.5 1628.3,481.5 1629.7,482.6 1630.7,483.6 1631.9,485.3 1634.2,484.6 1635.9,484.5 1637.1,484.1 1638.9,484.1 1639.5,485.5 1640.1,487.4 1641.6,486.8 1643.6,487.1 1645.4,485.9 1647.1,485.9 1648.2,486.3 1649.5,485.2 1651.3,484.5 1649,484.1 1648.2,483.4 1647.6,481.9 1647.7,480.1 1646.2,479.4 1648.1,479.2 1647.9,477.2 1649.7,477 1651,475.7 1653.1,474.7 1655,475 1656.4,476.9 1669.2,479.4 1680,484.5 1680,484.4 1674.2,489.5 1684.4,497.4 1687.8,502.5 1677.6,499.1 1663.9,490.5 1653.7,485.4 1653.5,484.1 1652.8,482.9 1654.5,482.8 1654.6,480.8 1653.9,478.9 1652.2,478.3 1650.3,477.2 1648.2,478.7 1646.8,480.3 1648,479 1649,478.6 1651.1,477.9 1652,480.2 1653.4,478.9 1655.6,479.7 1657.1,480.1 1658.3,479.7 1659.6,478.3 1660.5,476.9 1658.9,475.9 1656.9,475.6 1656.9,477.9 1655.1,478.5 1653.2,478.2 1653.1,476.4 1653.5,475.2 1653.7,473.4 1655.7,474.9 1657.5,476.3 1657.1,474.8 1657.6,473.5 1659.3,472.7 1659.9,471.7 1661.6,472.5 1661.5,474.3 1663.9,475.2 1665,473.7 1666.7,473.5 1667.6,471.9 1669.1,469.9 1670.7,468.3 1672.6,469.2 1674,469.2 1675.7,468.9 1676.6,466.7 1678.8,467.5 1678.6,469.8 1680.5,469.7 1682.1,468.8 1683.8,468.5 1684.6,467.4 1684.4,464.9 1686.5,466.1 1687.5,465 1688.8,464.4 1689.8,464.2 1691.4,464.3 1691.6,462.8 1692.3,461.8 1693.9,460.9 1694.1,459.8 1694.2,458.1 1695.9,457.5 1697.2,457 1698.5,457.5 1699.5,458.6 1700.4,459.6 1701.5,461.5 1703.3,460.4 1704.5,461.7 1705.8,461.9 1706.3,459.8 1707.8,459.1 1709.2,458.6 1710.4,457.9 1712.3,457.5 1713.2,455.4 1715.2,455.4 1716.5,454.6 1717.7,453.4 1719.2,455.2 1720.3,456.5 1722,456.4 1722.6,454.4 1724.4,452.9 1725.4,452.2 1726.9,450.9 1728.3,451.5 1729.3,452.8 1731.1,453.3 1732.6,454.2 1734.2,452.9 1735.2,451.9 1736.9,452.8 1738.1,451.9 1739.6,450.7 1740.8,450.1 1742.5,450.6 1744.3,450.4 1746.5,449.3 1748.4,449.7 1749.1,452.1 1750.2,449.9 1751.7,449.4 1752.2,451.5 1754,451.6 1756,451.9 1758.1,452.9 1759.6,451 1759.3,449.1 1761.1,450.5 1763,451.2 1765.4,451.2 1766.3,449.5 1767.5,450.3 1768.4,451.5 1770.1,450.1 1771.1,451.7 1773.2,451.3 1774.9,452.2 1775.8,452.8 1777.3,453.2 1778.9,452.7 1780.2,452.9 1782.4,452.9 1783.5,454.7 1784.9,455.7 1786.8,455.4 1788.2,455.2 1789.4,456.6 1790.8,457.5 1792.1,457.6 1794.1,458.3 1795.8,457.5 1797,457.4 1798.4,459.5 1800.5,458 1802,459.7 1804,458.8 1806.1,457.8 1806.9,459.5 1807,458 1808.9,457.4 1810.8,459 1812,459.3 1813.7,458.5 1816.2,458.7 1816.9,460.6 1817.8,461.8 1819.2,462.3 1821,463.9 1819.5,465.7 1817,465.4 1815.7,464.9 1813.9,464.1 1813.9,466.3 1812.2,466.6 1812.8,467.9 1813.1,469.4 1810.8,470 1809.3,471.3 1809.2,473.4 1807.7,473.8 1805.8,473.8 1805.1,474.6 1803.8,475.6 1802,476.3 1800.5,476.9 1798.4,477.5 1798.6,479 1798.1,480.6 1796.6,481.9 1795.4,483.7 1797,483.1 1798.7,482.8 1800,481.3 1800.4,479.8 1802.1,479.8 1803.5,480.3 1805.2,481.1 1805.8,483.6 1807.5,483.2 1808.3,482.2 1810.7,481.6 1810.1,479.4 1808.5,478.9 1808.9,477.1 1810.8,476.9 1812.6,478 1813.9,479.4 1814.1,477.8 1815.1,477.1 1817.2,476.5 1818.6,475.3 1820.5,474.1 1822.6,473.4 1824.5,473.4 1826.2,474.2 1827.7,474.8 1828.5,475.9 1830,477.3 1831.7,476.8 1833.2,476.3 1834.4,477.4 1836.1,476.3 1837.7,477.5 1837.6,478.9 1838.1,480.3 1839.8,480.5 1841.1,481.1 1842.3,481.6 1843.2,482.9 1844.9,482.6 1845,484.7 1847.2,485 1849.4,485.2 1851.6,485.1 1852.3,483.5 1853.7,483.2 1855.9,483.9 1855.5,481.9 1858,481.4 1859.3,483.6 1860.8,483.2 1862,482 1861.1,480 1860.3,478.1 1862,476.5 1863.7,476.2 1864.9,476.5 1866.5,476.2 1868.6,475.8 1867.8,477.8 1869.5,478.6 1870.8,479.8 1872.2,480.5 1874.5,481.5 1876.2,480.1 1877.7,481 1879.1,481.3 1880.8,480.4 1881.6,479.4 1883.7,478.8 1885.6,479.5 1887.3,479.5 1888.4,480 1889.6,480.9 1891,479.6 1893.1,480.5 1893.3,478.6 1893.6,477 1894.5,475.8 1896.1,475.7 1898.1,476.5 1900.2,475.5 1899.7,477.4 1899.1,478.7 1900.7,480.1 1899.6,482 1901.1,481.8 1902.9,480.1 1904.9,479.8 1906.7,479 1908.7,479.2 1910.3,477.7 1912.4,477.5 1913.3,479.2 1915.4,478.8 1917.5,477.5 1918,479.6 1918.5,482 1920.5,482.1 1921.8,482.5 1923,483 1925.3,483.9 1926.9,483.7 1929.1,483.2 1930.5,484.9 1932.7,485.5 1934.8,484.6 1935.8,486.2 1937.2,487 1937.2,489.5 1938.3,491.5 1940.1,491.9 1941.2,493.5 1943.1,492.9 1944.2,491.5 1945.3,492.4 1947.4,492.9 1949.2,494.6 1950.9,494.8 1951.9,494.1 1952.4,495.8 1952.4,497.5 1953.3,498.4 1954.5,499.3 1954.9,501.2 1956.1,499.9 1956.5,498.8 1957.8,498 1959.4,498.4 1960.9,497.4 1962.7,496.8 1964,496 1964,494 1964.8,491.5 1964.5,489.5 1966.8,489.9 1968.8,490.1 1970,492 1970.4,493.6 1972,494.2 1973.1,493.8 1974.5,495.2 1974.6,493.8 1975,491.8 1976.6,493.4 1978.2,491.5 1979.3,491.3 1981.1,491.4 1982.9,492.4 1984.7,493.5 1986.8,493.7 1988.3,492.9 1990.1,493.1 1991.8,492.9 1993.1,491.3 1994.9,490.5 1996.6,489.9 1998.5,488.5 1997.7,486.9 1999.7,486 2001.8,486.2 2003.6,486.6 2005.5,488.1 2007.7,488.5 2009.3,488.2 2010.3,486.7 2010.5,485.6 2012.6,486.9 2014.2,486.8 2015.7,486.1 2015.7,487.9 2016.8,490 2018.7,491.2 2018.9,493.4 2019.1,491 2020.3,490.1 2021.8,491.3 2021.6,492.7 2023,494.2 2024.8,494.8 2026.4,495.6 2027.5,493.8 2028.8,492.9 2028.7,491.3 2027,490.9 2027.7,489.7 2029.4,489.5 2031.4,489.3 2032.8,488.8 2033.8,489.1 2035.3,489.6 2036.1,490.5 2036.2,492.2 2038,492.3 2039.5,492.6 2040.7,492.8 2042.1,492.8 2043.1,491.7 2043.8,490.5 2045,489.2 2046.9,488.6 2048.2,488.7 2049.9,489.5 2051.7,489 2052.6,489.9 2054.4,489.8 2056.4,491.4 2056,493.1 2055.9,494.3 2058.2,493.9 2060.2,492.9 2062.6,492.2 2063.9,493.8 2065.5,494.1 2066.9,495.9 2068.9,496.4 2070.5,494.9 2072.3,495.5 2073.8,495.6 2075.7,495.8 2077.3,495.7 2078.3,495.8 2079.9,495.9 2081.6,497.6 2084.1,498.4 2085.6,498 2086.5,496.3 2087.6,496.7 2089,495.6 2091.1,496.9 2092.7,497 2094.4,495.7 2096.5,495.9 2097.7,497.4 2100.1,498 2100.8,499.9 2102.5,500.2 2103.9,498.8 2105.6,499.4 2106.8,499.1 2108.5,500.4 2109.9,499.9 2111.4,499.1 2113,498.6 2115.1,498 2116.3,497.2 2118,497.5 2120,498.9 2121.5,499.5 2122.2,500.4 2124,499.4 2125.1,500.8 2126.5,501.3 2127.9,502.2 2129.8,502 2131.4,502.9 2133.3,503.2 2134.9,504.2 2136.9,502.9 2138.7,504.2 2139.5,505.4 2141,505.9 2143,506.1 2144.8,506.9 2145.6,505.1 2146.3,503.7 2146.8,502.8 2148.8,503.8 2149.2,504.7 2149.3,506.4 2151.2,507.5 2152.4,508.6 2153.6,507.8 2155.5,508 2157.3,509.2 2157.4,511.2 2158,513 2158.4,514.5 2159.2,515.5 2160.1,513.9 2161.2,512.5 2162.9,513.4 2163.9,514.6 2163.5,512.3 2166,512.4 2168.4,511.9 2167.8,510 2169.5,509.1 2169.7,507.1 2171.8,506.6 2172.4,508.5 2174,508.6 2176.3,508.4 2177.3,509.9 2178.2,508.4 2179.7,508.6 2180.8,506.6 2183,506.2 2185.2,507.2 2186.8,508.9 2188,508.2 2190,507.9 2190.2,506.5 2190,505.2 2191.4,505.1 2193.5,505.3 2195,504.9 2195.6,503.7 2197.6,505 2197.6,506.7 2198.2,509.1 2200.2,509.3 2200.9,511.6 2201,513 2201.4,511.6 2201.9,510.5 2204.1,511.6 2206.2,512.9 2208.7,513.4 2210.1,513 2211.4,512.2 2212.8,510.7 2213.5,508.5 2214.1,506.1 2215.3,506.5 2217.3,506.6 2219.2,505.6 2220.5,505.4 2222.6,506.4 2224.8,507.2 2226.5,507.3 2227.5,505.2 2228.5,506.8 2228.5,508.1 2231,508.7 2232.4,509.5 2233.8,511.2 2235.6,510.5 2236.3,509 2237.8,510.7 2239.4,510.9 2239.8,509 2241.2,507.6 2243.3,507.2 2243.6,505.7 2244.8,505.6 2246.2,506.5 2246.7,508 2248,509.9 2249.9,511 2251.6,510.8 2253.5,511.1 2254.9,509.3 2256.7,510.7 2258.1,510.4 2259.6,511.4 2260.8,512.5 2263,512.8 2264.8,512.5 2266.8,511 2269.1,510.4 2269.3,511.7 2270.8,513.1 2271.4,514.3 2272.9,515.3 2274.8,515.3 2276.1,514.7 2277.7,516.7 2278.8,517.8 2280.6,519.4 2279.8,521.8 2280.5,523.2 2280.5,524.7 2281.9,525.1 2283,525.5 2284.8,524.3 2286.7,524.3 2287.7,523.1 2288.1,524.7 2289,526.4 2291.3,525.3 2293.1,526.3 2294.2,525.9 2295.6,524.8 2296.2,525.9 2296.8,527.5 2296.8,529.4 2297.2,530.5 2298.1,531.8 2298.6,533 2298.4,535.2 2299.6,534.7 2301,534.9 2301.8,536.6 2303.9,535.7 2305.7,536 2308.3,535.5 2309.2,537.3 2309.8,538.5 2310.9,540.2 2312.6,540.9 2312.9,543.5 2311.5,542.7 2310.6,541.2 2309.3,542.5 2307.6,542.8 2305.9,542.4 2303.7,542.9 2301.9,544.5 2300.1,545.3 2299.3,544.2 2298.4,545.6 2297.2,546.9 2295.4,547.4 2293.6,546.9 2291.1,547.4 2289.7,548.2 2288.6,548.2 2287.3,546.2 2288.3,548.1 2289.8,548.8 2291.9,549.2 2292.9,547.2 2294.9,548 2297.1,548.6 2299,549.1 2300.5,550.1 2302.7,551 2303.8,552.9 2304.6,554.5 2306.1,555 2308,554.2 2309.2,555.1 2309.4,556.4 2310,558.3 2311.5,557 2314,557.3 2316.5,557.5 2317.9,557.3 2319.8,557.1 2321.2,558.9 2323.1,559.9 2324.6,559.6 2326.9,560.6 2328.3,559.5 2329.8,560.6 2330.8,561.7 2332.1,562 2333.8,562.2 2335.3,562 2336.4,563.3 2338.7,564.1 2340.3,564.6 2338.3,565.3 2336.4,566.5 2334.8,566.6 2333.7,567.2 2331.7,566.2 2331.3,565 2329.7,564.2 2329.2,562.7 2328.9,561.3 2327.3,563 2326.6,564.2 2324.6,563.8 2323.2,564 2322.1,564.4 2320.6,564.4 2318.2,565.2 2316.5,566.6 2314.3,568 2312.7,568.5 2311.2,569.1 2310.4,570.8 2309.7,572.2 2308.5,572.8 2309.7,574.9 2308.8,576.4 2307.5,576.6 2307.8,578.5 2306.9,579.8 2308.1,581.7 2308.5,583.2 2307.8,584.5 2305.5,583.5 2304.4,583.1 2303,582.6 2300.8,582 2299.2,580.7 2297.6,580.4 2295.4,581.8 2294.7,583.5 2293.2,583.6 2291.9,584.7 2289.7,585 2288.9,586 2287.3,586.2 2286,586 2284.7,585.1 2283.2,585.5 2281.8,585.4 2280.8,585.8 2279.2,585.7 2278.2,584.7 2277.1,582.7 2274.5,583 2273,582.7 2271.7,582.6 2270.1,584.3 2268.1,585.2 2266.8,586.2 2266.4,587.7 2266.1,588.8 2267.5,590.4 2268,591.8 2267.8,593.7 2269.3,593.8 2270.2,594.7 2272.4,593.8 2273.6,592.7 2274.8,593.5 2276.2,593.5 2277.1,594.2 2277.5,596 2277.7,598.3 2278.8,599.8 2280.3,600.4 2280.7,601.9 2280.9,603.2 2281.2,604.5 2282.9,605.8 2284.4,606.3 2285.7,608 2287.3,608.4 2287.7,609.8 2288.2,611.2 2289.6,613.1 2290.9,615.2 2292.7,616.3 2294.7,616 2295.8,616.9 2296.8,618.9 2297.5,620.2 2297.9,621.7 2297.6,623.6 2299.3,625.4 2300.2,627 2299.9,628.3 2300.3,629.6 2300.6,631.5 2302.7,631.9 2303,633.3 2304.4,634 2302.5,635.6 2302.6,637.2 2302.2,639 2302.5,640.6 2301.9,642.5 2302.7,644.3 2301,645.9 2302.4,645.7 2303.8,646.9 2305.6,648.6 2304.7,650.1 2303.7,651.7 2303.3,653.4 2303,654.6 2302.9,656.3 2304.2,657.6 2303.3,659 2302.7,661.3 2301.8,662.5 2301.3,663.9 2301.9,665.5 2301,667.5 2300.1,668.5 2299.5,670 2299,671.5 2297.6,673.3 2297.2,670.7 2295.3,669.3 2296.2,666.9 2295.6,665 2294.1,663.6 2294.3,662 2292.7,660 2291.3,658 2290.7,656.2 2289.5,654.4 2289.3,653 2288.1,651.8 2287.4,650.9 2286.1,649.9 2284.9,649.6 2283.7,647.9 2282.2,647.8 2281.1,645.7 2280.4,644.6 2278.8,644.2 2277.5,644 2276.5,642.4 2275.3,642.3 2273.7,641.2 2272.7,639.5 2271.9,637.6 2270,636.2 2268.5,635.7 2266.6,634.7 2265.5,632.3 2264,632.2 2262.4,632.1 2260.3,631.5 2260,629.6 2259.8,628.1 2259,627.2 2258.3,625.4 2257.3,624.1 2255.5,622.8 2254.2,621.9 2252.9,620.1 2252.4,618.4 2251.7,616.8 2249.7,615.2 2249.8,612.9 2249.2,611.1 2248.3,610.4 2246.6,608.8 2245.1,609 2245.4,607.8 2244.2,606.4 2245.4,605.3 2246.3,603.2 2246,601.8 2246.2,600.4 2248.5,599.7 2250.3,599.3 2250.7,597.5 2250.5,595.9 2251.4,594.7 2252.2,592.9 2253.8,591.8 2254.2,590.8 2254.2,589 2253.1,587.4 2254.6,587 2256,585.9 2257.7,585.6 2258.3,584.5 2257.7,582.4 2257.3,580.7 2255.8,579.8 2254.2,578.4 2254.5,576.8 2255.2,575.5 2254.9,574.2 2252.8,575.2 2251.2,574.1 2250.9,572.6 2249.8,571.8 2249.1,570.9 2248.5,569.5 2248,567.4 2246.2,567.1 2244.8,567.3 2243.8,568.6 2243.2,567.1 2241.5,565.8 2239.5,564.6 2240.6,566.8 2240,568.6 2242,569.5 2243.2,570.3 2244.6,571.5 2244.9,572.9 2246.2,573.7 2248.4,574.2 2250.2,575.8 2251.4,577.6 2248.9,577.4 2248.2,578.3 2246.8,579.4 2244.4,580 2242.6,581.1 2241.2,581 2239.2,581.2 2237.7,581.4 2236.4,581.4 2235,580.2 2232.9,579.3 2231.1,578 2229.9,577.3 2228.8,576.4 2227.5,574.9 2225,574.9 2223.6,574.6 2222.8,573.1 2222,572.3 2220.9,571.2 2218.9,571.1 2217.3,570.8 2215.9,571.8 2214.9,572.8 2212.7,572.2 2211.1,572.3 2209.9,571.5 2208.8,571.9 2207,572.5 2207.1,574 2206.6,575.4 2207.7,576.3 2208.7,577 2207.4,579.2 2207,581 2206.7,582.4 2207.5,583.7 2209.3,585.2 2210.2,586.8 2210.8,587.8 2212.6,589.1 2213.9,590.6 2212,591 2211.4,592.2 2209.8,592.5 2208.2,591.6 2205.9,591.4 2204.3,591.7 2203.6,590.2 2202.1,591.2 2200.2,591.3 2198.7,590.9 2197.2,591.1 2195.2,591 2193.4,590.5 2191.8,591.2 2190,591.1 2188.5,590.5 2187,591.3 2185.1,592.5 2183.1,593 2181.3,594 2180.2,593.5 2178.5,594.1 2179.1,592.4 2177.1,591.6 2175,591.4 2173.4,592.6 2172.1,592.4 2170.6,592 2169.5,592 2168,592.2 2166,591.3 2165.1,593.5 2163.7,593.8 2162.7,594.5 2160.2,594.7 2158.3,593.8 2156.7,594.5 2155.3,594.5 2153.7,592.9 2152.5,590.9 2150.8,592.7 2150.5,594.4 2148.3,593.7 2147,593.7 2145.6,593 2143.9,592.2 2141.8,591.7 2139.4,592.1 2137.3,592.3 2136.1,593.5 2134.9,594.8 2133.6,595.8 2132.6,596.4 2130.5,594.8 2129,595.2 2128.1,597.2 2127.8,598.6 2128.1,599.8 2128.1,601.6 2127.8,602.8 2129.3,604 2130,605.2 2130.6,606.7 2130.7,608.7 2130.2,610.1 2129.3,611.3 2127.6,612.6 2126.1,614.4 2127.7,615.8 2127.6,618.4 2126.8,620.3 2125.2,620.3 2124.3,621.7 2123.1,622.9 2122.9,624.3 2123.7,626.4 2122,626.5 2121.6,628.2 2123.5,629.4 2125.3,630.3 2127.1,631.7 2129.2,631.5 2130.5,632.5 2131.9,632.3 2133.5,631.8 2135.1,633.3 2137,634.3 2138.8,635.6 2138.2,638 2140.4,638.7 2142.1,637.4 2143.3,638 2144.8,638.2 2146.1,639.7 2147.7,640.1 2148.7,640.8 2150.7,640 2152.4,639.8 2154.5,638.5 2156.2,639.1 2158.5,638 2160.9,638.3 2161.9,637.3 2162.6,635.7 2164.4,635.6 2166,635.6 2167.7,636.3 2169,637.4 2170.3,638.2 2171.9,637.2 2173.5,638.1 2174.6,639.1 2186.5,651.1 2193.4,661.3 2200.2,673.3 2200.5,674.9 2201.8,675.9 2201.6,677.1 2201.3,678.6 2200.8,680.2 2200.2,682.7 2200.8,684.1 2202.6,684.6 2201.9,686.9 2201,688.1 2199.7,688.9 2198.9,691.1 2198.4,693.1 2199,695.5 2199,697.6 2197.1,698.1 2198.6,699.2 2200.2,700.6 2200,703.1 2199.5,704.6 2198.7,706.1 2197.8,708.3 2198.4,709.9 2196.9,711.3 2199.2,711.7 2199.3,714.3 2198,716.1 2196.8,717.7 2197,719.9 2198.7,721.1 2198.7,723.3 2198.2,724.9 2196.5,724.3 2195,724.8 2193.4,725.4 2193.6,727.2 2194,729.7 2193.4,731.3 2193.2,732.7 2194.1,734.1 2192.4,734.8 2191.8,737.3 2190.6,738.5 2188.9,738.3 2186.5,738.9 2184.4,739.9 2182.8,739.3 2181.8,739.4 2179.9,737.9 2180.2,736.1 2178.3,734.8 2176.7,734.2 2176.3,733 2174.4,733.6 2173.1,733.7 2172.9,735.1 2173.7,737.2 2172.7,739 2170.3,738.6 2168.6,737.4 2167.8,736.5 2167.8,727.9 2171.2,714.3 2169.5,697.2 2162.6,686.9 2152.4,692.1 2142.1,692.1 2128.5,685.2 2111.4,678.4 2097.7,669.9 2084.1,656.2 2070.4,645.9 2056.7,640.8 2036.2,642.5 2032.8,649.4 2038,657.9 2039.7,669.9 2029.4,673.3 2015.7,671.6 2002.1,673.3 1981.6,678.4 1961.1,676.7 1940.6,669.9 1920.1,666.4 1903,657.9 1889.4,654.5 1892.8,671.6 1879.1,673.3 1858.6,669.9 1838.1,673.3 1826.2,682.8 1817.6,680.1 1821.2,680.3 1816.1,676.1 1810.9,676.9 1804.1,675.2 1797.3,671.8 1792.1,667.5 1787,664.1 1780.2,665 1773.3,663.2 1766.5,661.5 1764.8,665 1761.4,661.5 1754.5,656.4 1747.7,651.3 1740.9,646.2 1734,641 1727.2,636.8 1725.5,633.8 1720.3,635.9 1713.5,639.3 1706.7,641 1701.5,636.8 1694.7,635 1687.9,635 1684.4,629.9 1680.2,625.6 1674.2,626.5 1667.4,625.3 1662.2,628.2 1652,630.8 1641.7,632.5 1631.5,635 1622.9,636.8 1619.5,638.5 1623.8,643.6 1628,646.2 1622.1,650.4 1619.5,655.6 1624.6,658.1 1631.5,660.7 1631.5,665.8 1622.9,667.5 1616.1,665.8 1607.5,664.1 1599,662.4 1590.4,665 1583.6,665.8 1575,659 1566.5,657.3 1559.7,658.1 1552.8,659.8 1546.8,666.7 1544.3,673.5 1539.1,671.8 1533.2,673.5 1533.2,682.1 1536.6,688.9 1542.6,693.2 1549.4,697.4 1552.8,702.6 1554.4,702.8 1555.8,702.9 1557.9,703.4 1556.3,704.3 1555,704.7 1553.6,706.4 1552.8,707.7 1550.7,706.7 1549.2,707.6 1548.9,708.9 1549.6,710.3 1548.4,710.3 1546.8,711.1 1544.9,711.9 1545,713.8 1542.7,714.4 1543,716.1 1543.2,718.5 1542.9,720.2 1542.6,721.4 1543.5,722.1 1545.1,722.7 1546.6,724 1547.7,724.8 1547.7,727 1549.3,727.8 1550.7,729.9 1550.3,731.6 1550.2,733 1551.6,734.6 1552.8,736.8 1553.6,738.8 1554.4,739.9 1554.3,741.9 1555.9,742.4 1557.3,741.6 1558.4,742.3 1559.7,743.6 1559.9,745.5 1561.1,746.1 1562.2,747 1557.9,750.4 1549.4,750.4 1546,745.3 1539.1,741.9 1528.9,738.5 1518.6,735.9 1508.4,733.3 1507.1,734.7 1504.9,734.4 1502.9,733.2 1500.9,732.5 1498.9,732.2 1497.6,731.6 1496.4,730.8 1496.4,731.5 1496,732.4 1494.8,733.6 1493,732.8 1491.4,732.8 1489.7,730.9 1487.9,730.6 1485.9,732 1483.5,731.5 1482.2,730.3 1481.3,729.8 1479.3,728.9 1477.9,728.5 1476.5,728.1 1474.3,728.8 1472.5,727 1470.8,726.5 1470.1,725.6 1468.3,726.8 1466.8,726.1 1464.8,727.1 1463.8,725.4 1462.2,723.8 1462.6,722 1461.9,719.9 1462,718 1460.5,716.9 1461.9,716.4 1463.7,715 1463.4,713.1 1464.4,712.1 1465,711 1466.8,711 1466.6,709.7 1467.4,708.4 1468.8,707.4 1470.1,707.2 1471,706.1 1473,705.8 1473.8,703.7 1473.9,701.7 1475.7,701.8 1477.2,701.1 1478,699.7 1479.3,699 1477.5,697.9 1475.9,696.4 1479.3,691.3 1485.3,687.9 1486.2,681 1484.4,675.9 1475.9,674.2 1467.4,671.6 1458.8,669.9 1450.3,667.4 1443.4,662.2 1438.3,657.1 1433.2,652.8 1426.3,652 1417.8,654.5 1420.7,647.2 1424.6,642.1 1415.6,635.7 1410.5,626.7 1402.8,620.8 1391.3,619 1388.7,613.9 1382.3,608.8 1384.9,605 1383.6,598.5 1384.9,590.9 1384.9,588.6 1387.4,588.3 1389.7,587.7 1391.1,588.7 1391.4,589.8 1391.6,591.3 1393.3,589.5 1393.7,587.2 1396.1,587.4 1396.8,586.2 1397.7,584.5 1396.2,585.1 1394.4,583.9 1395.5,582.4 1395.2,580.8 1392.8,581.5 1391.9,583.2 1390,584.6 1388.5,583.9 1387.4,583.2 1386.4,582.2 1384.8,582 1383.9,581.2 1382.9,580.1 1381,580.6 1382.8,579.4 1382.1,577.6 1383.2,579.2 1384.6,577.9 1386,577.7 1387.4,576.8 1395.1,569.1 1400.2,561.4 1391.3,553.7 1386.1,548.6 1384.9,539.6 1377.2,533.2 1378.5,525.5 1374.6,519.1 1370.8,510.2 1372.4,509.7ZM1487.3,510.2 1488.9,510.7 1490.1,509.1 1492.2,510.5 1493.7,508.9 1495.2,510.8 1496,512.1 1498.1,512.2 1496.4,513.3 1495.6,514.9 1494.1,515.5 1492.5,514.8 1490.6,514.3 1489.8,513 1488.2,511.4ZM2174.6,634 2175.3,635.1 2176.1,636.7 2178,637.9 2180.3,637.5 2181.4,639.2 2183.1,639.1 2184.5,640.2 2185.2,641.3 2186.7,642.2 2187.4,643 2188.4,644.2 2190.4,643.9 2191.6,644.3 2192.4,645.7 2192.6,647.2 2193.4,649.4 2192.2,651.4 2192.1,652.9 2192.9,654 2194.6,655.8 2195.8,656.4 2196.7,657.6 2198,659.2 2199.2,659.9 2200.7,661 2202,660.5 2203.7,661.6 2203.3,663.5 2204.5,664.1 2205.5,665.1 2207,666.4 2208,667.8 2208.9,670.2 2210.1,671.4 2211.3,673.3 2213.1,674.4 2215.4,675.4 2217.3,676.6 2218.2,678.7 2219.6,679.8 2220.7,680.1 2222.7,680.3 2224.9,681.2 2225.7,683.2 2227,683.8 2229.2,684.1 2230.7,684.9 2232.7,685.2 2231.5,687.4 2229.7,687 2228.3,687.5 2227.1,688 2225.7,688.1 2223.8,688.7 2222.4,687.6 2223.3,689.7 2223,691.2 2223.3,693.2 2223.2,694.6 2224.5,694 2225.9,694.8 2225.2,697.2 2227.5,697.2 2229.1,698.3 2229.8,699.8 2230.9,701.3 2231.7,702.4 2233,700.8 2234.8,701 2237.2,701.5 2237.8,702.8 2238.2,704.7 2240,705.1 2241.2,705.7 2239.6,706.9 2238.3,705.2 2236.6,705.6 2236.3,707.3 2234.1,707.5 2232.7,705.7 2231.9,704.7 2230.6,703.3 2229.1,702.2 2227.6,702.3 2226.7,701 2226.9,699.7 2225.8,698.4 2224.7,697.4 2223.2,696.8 2222.2,695.4 2220.7,693.8 2219.2,693.6 2217.4,692.1 2216.2,691 2215.3,690.5 2214.5,688.1 2213,686.2 2212.6,684.2 2212.4,682.9 2210,682.2 2209.8,680.5 2208.5,679.9 2207,678.4 2205.8,676.8 2206.3,675.3 2205.6,674.3 2204.2,673.6 2203.3,671.7 2202.3,670 2200.1,668.7 2199.4,667.4 2197.5,666.1 2195.9,665.4 2195.4,663.9 2193.4,663 2183.1,649.4 2176.3,639.1 2176.3,637.7 2176.5,635.6ZM1944,460.8 1945.9,461.4 1947.3,461 1948.1,462.5 1948,463.7 1948.1,461.3 1950,460.2 1951.3,462.4 1953,461.7 1954.1,461.4 1955.6,460.2 1957.7,458.8 1959.7,457.4 1961.7,456.1 1962.8,456.8 1963.4,458.5 1964.5,459.6 1965.3,460.4 1966.2,462.6 1967.9,464 1969.2,464.3 1970.6,463.7 1971.6,462.6 1973.4,461.6 1974.8,461.5 1976.3,461.5 1977.3,460.9 1978.8,461.8 1980.4,461 1981.4,462 1981.4,464 1982.9,463.1 1984.6,463.1 1986.4,462.2 1986,460.4 1987.5,459.6 1988.6,459 1988.3,461.4 1987.4,463 1988.8,462.3 1990,461.3 1991.3,462 1991.8,463.2 1991.7,464.6 1990.4,465.9 1988.4,466.6 1986.3,467.5 1984.7,466.9 1985.1,465.4 1984.3,463.9 1983,462.8 1981.9,462.6 1980.2,463.5 1978.4,463 1978.1,465.4 1976.7,466.1 1974.8,466.1 1972.8,465.5 1971.9,463.5 1970.3,463.1 1969.1,462.2 1967.8,464 1967.9,465.6 1965.8,466.2 1964.1,466.4 1962.6,468.3 1960.9,469.3 1958.8,469 1958.3,467.3 1958.8,465.7 1959.8,465 1958.7,463.5 1957.4,463 1955.9,463.6 1954.1,464.1 1952.5,465.9 1950.8,464.9 1949.3,464.6 1948.4,465.8 1946.4,465.7 1945.8,463.5 1945,462.1ZM1995.3,464.9 1996.3,464.3 1997.9,465.2 1999.8,464.3 2001.6,464.1 2003.1,464.3 2004.1,463.3 2006.5,464.1 2008.8,464.1 2010.2,463.8 2012.3,464.2 2013.8,463.2 2015.1,463.1 2016.9,463.8 2018.1,465.5 2019.6,466.4 2021.6,467.6 2022.7,466.8 2024.3,465.9 2026.3,465.4 2027.7,466.6 2026.3,468.5 2025.2,469.6 2023.5,469.6 2022.4,468.7 2021,470.6 2018.9,470.2 2016.6,470.7 2015.7,469 2014,468.9 2012.6,468.4 2011.1,467.1 2009.3,466.7 2007.1,466.7 2006.3,468.3 2004.9,468.9 2003.2,468.4 2001.5,466.5 1999.7,467.1 1998.7,468.3 1997.2,468.5 1996.5,466.8ZM1981.6,474.5 1982.7,472.6 1983.7,471.3 1984.1,470.2 1986.5,470 1988.5,469.1 1989.7,471.2 1991.2,469.2 1992,471.5 1993.4,472 1995.3,473.4 1996.6,474.9 1998.4,476.2 2000.1,475.1 2001.2,476.8 2002.9,475.6 2004.3,475.8 2005.6,477.4 2007.2,477.9 2005.7,477.3 2003.8,475.9 2002.1,476.4 2001.4,478.1 2000,479.4 1998.5,480.4 1997.2,480.3 1995.6,479.9 1994,480.4 1991.8,479.2 1990.3,478.2 1989.7,477.2 1987.9,476.6 1986.6,474.4 1985.2,472.6 1983.1,473ZM1661.2,430.7 1662.7,429.6 1663.2,427.6 1664.5,427.4 1665.7,426.7 1667,426.5 1668.3,427.8 1670.7,428.3 1672.3,426.4 1674.2,425.6 1675.1,426.3 1676.8,426.6 1678.2,426.6 1679.7,425.9 1680.8,427.1 1681.5,429 1682.8,430 1683.2,431.8 1684,430.1 1685,429.4 1686.4,429.5 1687.8,429 1689.3,428.5 1690.6,428.1 1692.2,427.2 1693.5,427.5 1694.8,429.4 1695.9,430.7 1697.8,431.5 1699.1,432.8 1699.2,434.2 1701.5,434.2 1703,433 1705.4,433.2 1706.5,434.2 1707.7,435.2 1709.8,434.3 1711.8,435.3 1713.4,436.8 1715.1,438.3 1715.9,439.6 1716.5,440.5 1714.8,440.6 1713.9,441.6 1712.2,441 1709.7,440.7 1708.1,440 1707.1,439.4 1706.1,440.3 1704.7,441.7 1702.4,442.2 1701,443.5 1699.7,442.9 1697.6,441.4 1698.1,439.3 1698.2,437.8 1697.7,436.6 1696.1,436.4 1695,435.7 1693.9,434 1691.7,435.3 1690.7,434.3 1689.6,432.7 1688,434.1 1686.1,434.7 1684.5,436.7 1682.7,435 1681,436.9 1679.4,438 1678.3,438.4 1676.1,437.4 1674.4,437.7 1672.5,437.6 1671,436.7 1668.5,437.2 1667.3,435.9 1666,434.4 1665.5,432.3 1664.2,431.3 1663.6,430.3ZM1720.3,440.3 1720.9,438.9 1722.7,438 1724.4,439.1 1725.8,438.2 1726.8,437.8 1729,437.7 1730.2,436.5 1732.2,437.6 1734.5,437.3 1735.4,438.4 1737.1,438.5 1737.8,440.5 1738.6,441.7 1740,442.1 1741.3,441.4 1743.5,441.7 1744.8,442.8 1746.6,441.7 1745.3,442.2 1743.8,442.8 1741.9,444.4 1740.9,445.8 1739,446.9 1737.4,446.7 1735.6,446.1 1734.1,445.2 1731.7,445.2 1731.6,447.5 1730.4,447.7 1728.9,448.1 1728.3,446.5 1728.1,444.7 1725.7,444.2 1723.7,444.4 1722.2,442.5 1721.2,441.2ZM2232.7,493.6 2233.6,492.4 2235.3,492.6 2237.8,492.2 2239,492.4 2240.6,493.5 2241.4,495 2241.9,497 2240.2,495.7 2239.7,496.7 2238.7,497.8 2237.7,498.1 2236.1,498.4 2235.3,497.1 2235.3,495.1 2234.3,494.4Z"/>
<path class="g" d="M1557.9,703.4 1556.3,703.2 1555,703.1 1552.8,702.6 1549.4,697.4 1542.6,693.2 1536.6,688.9 1533.2,682.1 1533.2,673.5 1539.1,671.8 1544.3,673.5 1546.8,666.7 1552.8,659.8 1559.7,658.1 1566.5,657.3 1575,659 1583.6,665.8 1590.4,665 1599,662.4 1607.5,664.1 1616.1,665.8 1622.9,667.5 1631.5,665.8 1631.5,660.7 1624.6,658.1 1619.5,655.6 1622.1,650.4 1628,646.2 1623.8,643.6 1619.5,638.5 1622.9,636.8 1631.5,635 1641.7,632.5 1652,630.8 1662.2,628.2 1667.4,625.3 1674.2,626.5 1680.2,625.6 1684.4,629.9 1687.9,635 1694.7,635 1701.5,636.8 1706.7,641 1713.5,639.3 1720.3,635.9 1725.5,633.8 1727.2,636.8 1734,641 1740.9,646.2 1747.7,651.3 1754.5,656.4 1761.4,661.5 1764.8,665 1766.5,661.5 1773.3,663.2 1780.2,665 1787,664.1 1792.1,667.5 1797.3,671.8 1804.1,675.2 1810.9,676.9 1816.1,676.1 1821.2,680.3 1816.1,687.2 1814.4,692.3 1812.6,697.4 1799,698.3 1799,706 1801.5,712.8 1793.8,714.5 1785.3,717.9 1790.4,723.1 1795.6,729.9 1796.4,735 1795.6,741.9 1788.7,747 1781.9,750.4 1775,753.8 1768.2,757.3 1759.7,759.8 1756.2,764.1 1757.1,770.9 1761.4,776.1 1764.8,781.2 1767.2,781.4 1768.4,782.5 1767,784.4 1769.1,785.5 1764.8,788 1757.9,788.9 1752.8,791.5 1747.7,791.5 1746,785.5 1741.7,781.2 1737.4,778.6 1734,784.6 1728.9,786.3 1722.1,788 1716.9,790.6 1710.1,787.2 1705,786.3 1699.8,788 1694.7,789.7 1693,796.6 1687.9,801.7 1682.7,805.1 1679.3,806.8 1675.9,805.1 1669.1,801.7 1667.4,794.9 1660.5,791.5 1653.7,786.3 1645.1,783.8 1636.6,781.2 1631.5,779.5 1624.6,781.2 1617.8,784.6 1612.6,788 1610.9,789.7 1609.3,788.8 1609,787.3 1609.2,785.6 1609.4,784.1 1609.2,782.9 1608.5,781.1 1607.8,779.9 1607.2,778.2 1606.7,776.1 1605.3,775.4 1604.8,774 1603.5,773.9 1602.4,772.6 1601,771.4 1601.4,770 1601.4,767.9 1600.7,766.7 1602.2,764.9 1604.1,764.1 1602.5,763.5 1601.3,761.7 1599.8,759.8 1598.2,758.1 1596.5,757.1 1596.4,754.7 1595.9,752.2 1594.7,750.4 1594.7,748.7 1593.8,747 1592.1,745.3 1593,743.1 1591.3,741.9 1589.9,741 1589.5,739.1 1588.7,736.8 1586.7,737 1585,736.5 1584.4,735.4 1583.6,734.2 1582.9,732.1 1581.5,730.3 1580,729.3 1578.5,729.9 1576.3,729 1575.9,727.5 1575,725.6 1573.5,724.8 1572.3,724.3 1571.6,722.2 1569.9,720.3 1568.8,719.2 1567.4,719.7 1565.9,718.6 1566.5,717.1 1567.7,717.3 1569.5,716.7 1571.6,717.9 1572.9,719.1 1574.2,719.9 1576.8,719.7 1575,716.2 1577.3,715.1 1578.5,713.7 1580.9,714.2 1582.5,713.9 1583.6,712.7 1585.3,712.8 1588.7,714.2 1584.4,711.1 1585.2,710 1586.3,708.6 1586.8,706.9 1586.2,705.1 1584.7,703.1 1583.6,700.9 1581.3,700.6 1579.4,701.3 1577.9,700.6 1576.8,700 1575.8,699.5 1574.3,699.1 1572.9,698.5 1571.6,698.8 1569.7,700.2 1568.3,701 1566.5,700.9 1565.5,701.6 1563.9,701.6 1562.8,703.6 1561.7,702.6 1560.3,701.9 1558.8,702.4Z"/>
<path class="w" d="M1594.7,745.3 1597,745.5 1597.9,744.2 1599.8,743.6 1601.2,745 1603.3,743.9 1603.5,745.7 1604.1,747 1604.1,748.8 1605.4,750.3 1607.3,750.1 1608.4,751.3 1609,753.2 1609.2,754.7 1608,755.5 1606.6,755.6 1605.6,756.2 1604.1,756.9 1602.6,756.1 1601.1,757.4 1599.8,756.4 1599,755.6 1597.5,753.7 1597.1,751.9 1595.9,751.3 1594.7,749.1 1595,747.3Z"/>
<path class="g" d="M1826.2,682.8 1838.1,673.3 1858.6,669.9 1879.1,673.3 1892.8,671.6 1889.4,654.5 1903,657.9 1920.1,666.4 1940.6,669.9 1961.1,676.7 1981.6,678.4 2002.1,673.3 2015.7,671.6 2029.4,673.3 2027.7,683.5 2032.8,692.1 2049.9,693.8 2065.3,700.6 2046.5,704 2032.8,714.3 2019.2,716 2015.7,722.8 2022.6,727.9 2015.7,738.2 1998.7,741.6 1978.2,746.7 1954.3,738.2 1930.4,739.9 1913.3,736.5 1896.2,724.5 1879.1,717.7 1862,712.6 1851.8,697.2 1838.1,690.4Z"/>
<path class="ch" d="M1817.6,680.1 1826.2,682.8 1838.1,690.4 1851.8,697.2 1862,712.6 1879.1,717.7 1896.2,724.5 1913.3,736.5 1930.4,739.9 1954.3,738.2 1978.2,746.7 1998.7,741.6 2015.7,738.2 2022.6,727.9 2015.7,722.8 2019.2,716 2032.8,714.3 2046.5,704 2065.3,700.6 2049.9,693.8 2032.8,692.1 2027.7,683.5 2029.4,673.3 2039.7,669.9 2038,657.9 2032.8,649.4 2036.2,642.5 2056.7,640.8 2070.4,645.9 2084.1,656.2 2097.7,669.9 2111.4,678.4 2128.5,685.2 2142.1,692.1 2152.4,692.1 2162.6,686.9 2169.5,697.2 2171.2,714.3 2167.8,727.9 2169.3,729.9 2167.3,731.5 2165.8,731.5 2164.7,731.7 2163.3,732.9 2163.5,734.2 2164.1,735.5 2164,736.7 2162.6,738.2 2152.4,745 2145.6,750.1 2135.3,758.7 2136.1,765.8 2133.7,766.1 2131.9,765.8 2129.9,765.7 2128.4,767 2126.6,767.4 2125.4,768.8 2124.2,770.2 2123,770.6 2120.9,771.6 2120,773 2118.2,773.9 2117,775.1 2115.5,776.6 2115.7,778.3 2116.8,779.4 2116.4,781.4 2118.6,782.2 2120,783.8 2122.5,783.9 2123.6,785.6 2125.7,786.5 2127.8,785.6 2129.2,785.9 2131.4,785.9 2133.7,786.2 2134.6,788 2132.9,789.5 2133.5,790.7 2134.3,792.2 2132.1,792.5 2130.7,792.8 2129.2,794.3 2127.8,794 2125.9,794.6 2124.8,795.2 2124.2,796.5 2123,798.2 2122,799.4 2120.6,801.2 2120.6,803.1 2118.8,804.2 2118.1,805.5 2117.6,806.6 2118.1,808.3 2117,809.9 2118.6,810.7 2120,811.9 2122.3,812.3 2123.6,813.7 2125.6,815.3 2127.2,815.5 2128.8,817.2 2129.6,818.5 2129.6,820.1 2130,821.3 2131.9,822.1 2132,823.6 2133.3,824.4 2134.9,825.7 2136.2,827.4 2135.8,829.5 2137.9,829.9 2139.3,830.8 2140.1,831.6 2141.5,832.9 2142,834.7 2143.9,835.1 2144.8,836.1 2145.7,837.1 2146.3,838.4 2147.5,839.7 2148.3,841.3 2150.1,841.7 2149.7,843.1 2149,844.1 2148.2,845.3 2147.9,846.4 2146.4,847.9 2146.3,849.3 2145.6,850.9 2146.3,852.4 2147.1,853.7 2148.6,854 2149.8,854.2 2151.3,854.6 2152.8,855.6 2154.6,855.5 2155.8,854.3 2157.7,854.8 2158.1,857.2 2158.2,859.4 2159.5,860.6 2157.4,861.5 2157,864 2156.7,866.1 2157.5,868 2155.7,869.5 2154.4,870.8 2154.1,872.2 2152.7,872.8 2151.4,872.7 2151.4,874.3 2150.4,875.5 2149,877.1 2148.2,879.5 2149.4,880.7 2149,882.5 2147.8,884.8 2146.8,885.8 2146.2,887.3 2144.7,888.1 2144.5,890 2144,891.2 2143.8,892.7 2141.9,894.3 2141.3,896 2139.3,895.8 2138.8,894.5 2137.6,895.7 2135.9,895.6 2135.9,897.4 2135.7,898.9 2135.4,901 2136.1,901.9 2137,903 2135,902.8 2133.6,903 2131.1,903.3 2130.6,904.5 2130.3,905.8 2130.4,907 2129.5,908.7 2129.3,909.9 2128.5,911.5 2127.3,912.1 2126.2,913.6 2125.8,915.9 2124.3,917.5 2122.8,918.4 2120.8,917.8 2119.6,917.9 2118.2,918.3 2118.9,920 2118.2,921.5 2116.4,921.9 2115.1,921.2 2113.3,921 2112,921.5 2110.6,923.1 2109.1,924.1 2108,925.2 2106.6,926 2106.6,928.2 2105.4,928 2103.7,928.3 2101.9,928.1 2100.6,929 2099.7,930 2097.7,930.3 2096.9,932.5 2095.1,931.9 2094,932.5 2092.6,932.1 2091.2,932.8 2089.5,932.3 2088.3,933.4 2086.4,932 2084.1,932 2082.4,931.3 2080.8,931.5 2079.2,931.2 2077.8,932.4 2076.2,932.6 2075.3,933.4 2073.5,934 2072.1,933.7 2069.7,933.6 2068.3,934.6 2068.9,936.6 2068.2,937.9 2066.7,938.5 2065.3,936.9 2063.3,938.4 2061.9,937.1 2053.3,932 2046.5,923.5 2036.2,918.3 2026,921.8 2015.7,925.2 2008.9,930.3 2007.4,931 2005.8,930.5 2004.8,931.5 2003.8,932.1 2002.4,933.9 2000.4,933.7 1991.8,926.9 1981.6,914.9 1974.8,903 1979.9,892.7 1976.5,879.1 1964.5,870.5 1950.8,862 1937.2,865.4 1936,867.4 1934.2,866.7 1933.5,868.1 1931.4,868.6 1929.1,868.1 1928.4,869.6 1926.9,870.5 1913.3,871.5 1903,872.2 1901.3,873.2 1899.3,873 1898.5,875 1896.7,875.3 1894.5,875.6 1879.1,873.9 1862,867.1 1845,860.3 1829.6,853.4 1817.6,838.1 1810.8,821 1800.5,806.5 1799.7,805.1 1798.3,804 1796.4,802.2 1794.6,800.9 1792.9,800.2 1791.5,799.2 1790.3,799.7 1789.3,798.7 1787.8,797.7 1786.7,796.6 1785.5,795.2 1783.9,795.7 1782.5,796.4 1781.3,796.3 1779.7,796 1777.8,794.8 1776.6,792.8 1771.5,782.6 1769.7,780.9 1770,778.9 1769.5,777.5 1767.4,777.1 1765.6,776.1 1764,775.2 1763.4,774 1761.9,772.8 1759.6,772.3 1756.1,762.1 1769.8,755.3 1783.5,741.6 1790.3,727.9 1786.9,717.7 1797.1,709.1 1800.5,697.2 1814.2,690.4Z"/>
<path class="w" d="M2115.2,758.6 2113.8,757.9 2112.8,756.8 2111.5,755.9 2109.8,755.9 2108.1,756.8 2106.8,756.8 2105.3,757.8 2105,759.2 2105.2,760.6 2104.4,762.2 2103.5,763.1 2102,763.4 2100.3,763.2 2099.6,765.2 2099.6,766.4 2099.3,768.2 2098.8,769.7 2097.2,771.2 2095.9,772.1 2094.8,773 2092.4,772.4 2091,771.6 2090,771.2 2089.8,772.9 2090,774.2 2090.5,775.6 2091.8,777.2 2092.5,778.4 2093.5,779.1 2095.4,779 2096.8,778.9 2099,779.6 2100.7,780.2 2102,780.2 2102.9,781.3 2104.4,782.6 2105,784.7 2106.8,784.7 2105.6,786.2 2107.4,788 2109.8,788.9 2111.6,787.4 2112.2,786.5 2112.8,785 2113.7,783.2 2114.3,782 2115.6,780.7 2114.9,779 2115.5,776.6 2114.6,775.1 2114.6,773.6 2115.9,772.5 2115.8,771.2 2114.8,770.3 2113.4,768.8 2112.8,766.4 2113.2,765.1 2114,764 2113.9,762.5 2115.5,761Z"/>
<path class="ch" d="M2072.1,950.8 2073.9,950.5 2074.9,950 2075.3,948.4 2077.2,948.2 2078.5,947.1 2080.6,946.7 2082.2,947.3 2083.6,949.2 2085.1,949.5 2086.4,948.5 2087.9,948.1 2089.2,949.1 2088.7,951.1 2089.6,952 2090.4,953.5 2090.6,956 2088.9,955.7 2087.5,957.6 2086.8,959.4 2086.5,961.1 2084.4,961 2083.1,961.4 2081.5,962.9 2080.6,964.5 2079.6,963.2 2079.5,962.1 2077.8,962 2076.9,962.8 2075.1,962 2073.8,961 2074.5,959.9 2075.3,958.7 2074.7,956.8 2073.3,955.5 2072.2,953.7 2073,952.2Z"/>
<path class="g" d="M2135.7,763 2136.6,761.4 2138.3,761.5 2139.1,760.2 2140,758.8 2143.2,753.9 2145.4,749.7 2150.7,747.5 2156.1,746.4 2156.6,745 2156.9,743.6 2159.3,743.2 2163.6,740 2165.4,740.3 2166.8,738.4 2168.1,739 2168.8,740.3 2168.9,742.2 2167,740.6 2166.1,742.5 2166.2,744.1 2166.8,745.4 2167.1,747.9 2165.7,749.7 2166.9,750.8 2168.9,751.8 2169.5,753.3 2170.5,755 2169.2,756.3 2167.9,758.2 2166.6,758.3 2165.5,759.5 2164.7,761.4 2163.3,763.5 2161.4,764.7 2160.9,765.9 2160.4,767.9 2160.7,769.7 2162.5,771.1 2161.9,773 2163.1,774 2165.1,774.2 2166.8,773.2 2168,774.2 2170,775.4 2169.7,777.7 2171.6,778 2167.9,779.1 2163,780.7 2162.2,782 2161.2,782.7 2159.3,782.9 2157.4,784.6 2156.1,784.5 2155,783.4 2152.9,784.6 2151.9,783.3 2150.7,782.3 2150.1,780.9 2149.1,780.2 2147,780.7 2146.8,779.5 2146.6,778.1 2145.4,776.4 2146.5,774.6 2147,773.2 2147.6,771.5 2147.2,770.3 2146.4,768.9 2144.7,768.2 2143.2,766.8 2141,766.7 2139.5,765.7 2137.9,764.5 2136.2,764.5Z"/>
<path class="c5" d="M2163,780.7 2167.9,779.1 2171.6,778 2172.8,780.1 2174.3,780.7 2176.3,782.3 2177.2,783.6 2178.6,783.9 2180,785.5 2179.4,787 2181,788.1 2182.9,787.7 2183.1,789.3 2184.1,790.3 2186.1,791.4 2186.9,792.5 2188.1,793.6 2188.2,795.7 2188.7,797.2 2190,797.9 2190.4,800 2192.7,801.1 2193.1,802.7 2192,804.3 2190.6,805.3 2190.4,807.5 2188,807.9 2187.2,809.7 2185.5,809.6 2183.9,809.1 2183.6,807.9 2183,806.6 2180.7,807.5 2179.5,807.1 2178,806.5 2176.4,805.4 2175.3,803.6 2173.2,804.3 2171.9,802.4 2171.1,801.1 2170.9,799.9 2170,798.6 2168.9,796.8 2168.9,794.4 2168,793.5 2166.8,792.5 2165.8,791.6 2165.1,790.4 2165.2,788.2 2164.5,786.1 2163.6,784.5 2164.9,782.6ZM2233.2,713.8 2234.6,715.5 2235.9,715.8 2237.5,716.4 2239.9,717.5 2242.2,717 2242.5,718.2 2242.9,719.6 2244.7,721.1 2245.4,723.3 2247.3,723.7 2249.3,722.9 2251.2,723 2253.5,723.3 2254.7,724.5 2255.7,725.5 2257.4,725.8 2259.3,727.1 2260.5,727.1 2262.2,727.1 2264.5,726.4 2266.5,726.1 2267.3,727 2267.7,728.4 2268.4,729.4 2269.7,730.4 2270.5,731.8 2271.8,733 2270.3,734.4 2268.6,735.7 2267.3,735.6 2265.9,735.4 2267.3,737.4 2265.4,738.4 2264.2,740.2 2263.3,741.4 2263.3,743.1 2264.3,744.3 2262.7,744.4 2261.1,743.2 2260.1,741.9 2258.8,741.8 2257.1,742.3 2255.7,741.1 2254.5,739.3 2252.6,740.7 2250.4,739.5 2248.4,740.3 2247.2,740.4 2246.1,738.9 2244.8,740 2242.9,740 2245.1,741.1 2245,743.2 2245.7,745.3 2247.2,746.4 2245.1,745.6 2244,747 2243.6,746 2242.8,744.5 2240.7,744.3 2239.5,742.6 2237.5,741.1 2237.5,739.5 2235.9,738.4 2236.7,736.7 2237.5,735.7 2238.7,734.5 2240.7,733.6 2238.9,732.3 2239.7,730.4 2239.7,728.4 2240.7,727.1 2241.6,725.9 2240.6,724.4 2238.6,722.9 2237.4,721.1 2237.2,719.8 2235.9,718.6 2235.5,717 2235.8,715.8 2234.2,715.2ZM2250.4,749.7 2252.2,749.9 2253.4,750.9 2254.4,752.1 2255.7,752.9 2256.1,754.7 2256.9,756.5 2258.6,756.6 2261.1,757.2 2261.2,759 2263.6,758.9 2264.7,760.1 2265.4,761.4 2267.1,763.2 2267.2,764.7 2268.6,765.7 2268.2,767 2267.9,768.6 2269.9,768.9 2270.2,771.1 2270.6,773.4 2268.4,773.3 2269.6,774.5 2269.7,776.4 2270.8,778.4 2272.2,779.1 2271.3,780.4 2271.8,781.8 2272,783 2271.4,784.4 2271.2,786.3 2273.1,786.8 2274,788.2 2273.3,790.2 2271.4,791.7 2271.4,794.3 2274,794.7 2274.7,797 2273.7,797.5 2272.9,798.9 2272.2,800.7 2271.4,801.8 2271.2,803.2 2270.7,804.3 2268.9,804.7 2267.9,805.4 2267.8,807.4 2267.5,808.6 2265.2,809.6 2264.3,811.8 2263,812.2 2261.1,812.3 2259.4,812.4 2257.9,812.9 2257.8,815.4 2255.7,816.1 2254.9,816.8 2254.4,818.5 2252.5,819.3 2251.6,821.2 2250.4,822.5 2248.5,821.7 2247.2,820.4 2246.6,818.2 2245,817.2 2243.9,815.9 2242.9,815 2241.4,813.2 2239.7,812.9 2238,812.4 2236.5,811.3 2234.5,810.8 2232.2,811.8 2229.9,812.9 2227.9,812.9 2226.1,814.3 2224.6,814.2 2223.6,815 2222.3,817.1 2220.5,817.5 2219.3,816.6 2217.5,817.4 2216.1,817.7 2215,818.2 2213.3,819 2211.3,818.2 2211.3,816.8 2209.7,816.1 2209.9,814.8 2210.9,813.7 2212.9,812.9 2214.9,811.3 2214.8,809.2 2216.1,808.6 2217.2,806.7 2219.3,805.4 2220.7,806.4 2221.9,804.8 2223.2,804.8 2224.7,804.3 2226.8,803.8 2228.6,802.4 2230,803.8 2232.5,803.6 2234.2,803.8 2235.4,803.2 2236,801.8 2237.1,800.9 2238.5,801 2239.7,802.2 2240.7,800.3 2241.7,798.9 2241.8,797.9 2242.7,796.9 2243.6,795.7 2244,793.6 2245.8,793.6 2247.3,792.6 2248.2,790.4 2249.2,788.6 2249.9,787.5 2250.9,786.9 2252.5,787.2 2253.1,785.9 2254.6,785 2255.7,782.9 2256.3,780.4 2256.9,778.9 2256.8,777.5 2257,775.6 2256.6,774.4 2255.7,772.2 2256.1,770.8 2255.4,769 2254.1,766.8 2253.6,764.8 2252.5,763.4 2251.5,762.5 2252.7,761.2 2252.7,759 2251.5,758 2250.4,757.2 2249.8,755.4 2249.3,752.9 2250.6,751.6ZM2225.2,819.8 2226.9,820.3 2228.1,820.5 2229.2,819.1 2230,817.2 2232.3,817.3 2234.3,816.1 2235.6,816.5 2236.9,815.9 2237,817.3 2238.6,818.2 2238,819.7 2237.5,821.4 2236.6,822.8 2235.7,823.6 2233.2,823.6 2232.3,825.2 2231.1,826.8 2230,827.8 2227.9,827.9 2226.9,826.3 2225.7,824.7 2226,822.6 2226.3,821.1ZM2205.4,824.7 2206.7,823.4 2206.7,821.8 2208.6,820.4 2209.5,819.5 2211.1,819.2 2213.1,819.5 2212.9,821.4 2214.2,821 2215.6,821 2215.9,823 2217.2,823.6 2218.1,824.9 2219.3,825.7 2221.4,826.8 2221.7,828.4 2221.9,829.5 2222.5,831.1 2222.4,833.6 2221.4,835.4 2222,836.6 2223.2,838.3 2222.5,840.7 2222.3,842.9 2220.4,844 2218.5,843.3 2217.2,842.9 2216.2,842.1 2216.1,840.5 2215,838.6 2214,837 2212.5,836.2 2212.9,834.3 2211.7,833.5 2211,832.2 2210.7,830 2209.5,828.8 2207.5,827.9 2207.8,826.4 2208,825.3 2206.6,825.6Z"/>
<path class="c2" d="M2160.9,900.4 2162.5,899.7 2163.1,898.9 2164.7,899.8 2166,899.4 2166.4,901.2 2166.5,903.5 2166.4,904.7 2167.5,906.1 2168.1,907.6 2167.8,909 2167.1,910.9 2168.2,912.3 2167.9,914.1 2166.8,914.9 2165.6,916.4 2165.2,917.7 2164.2,918.7 2164.7,920.6 2164.3,922.6 2163.4,923.7 2162.7,924.8 2161.1,926.2 2159.2,926 2160.1,924.5 2159.4,923.2 2159.1,921 2158.8,919.4 2158.7,918.2 2158.4,917 2157.5,915.8 2156.8,913.5 2157.1,912 2158.1,909.7 2158.5,907.3 2158.8,905.6 2159.1,903.9 2160.6,902.9Z"/>
<path class="c1" d="M1669.1,801.7 1675.9,805.1 1679.3,806.8 1682.7,805.1 1687.9,801.7 1693,796.6 1694.7,789.7 1699.8,788 1705,786.3 1710.1,787.2 1716.9,790.6 1722.1,788 1728.9,786.3 1734,784.6 1737.4,778.6 1741.7,781.2 1746,785.5 1747.7,791.5 1752.8,791.5 1757.9,788.9 1764.8,788 1769.1,785.5 1771.5,786.3 1773.5,786.2 1775,786.3 1772.8,787.2 1772.5,789.2 1770.8,789.2 1769.3,789.5 1768.2,789.7 1761.4,792.3 1754.5,794.9 1747.7,796.6 1749.4,803.4 1747.7,810.3 1744.3,815.4 1746,820.5 1740.9,825.6 1739.1,832.5 1737.4,837.6 1730.6,841 1725.5,844.4 1720.3,847.9 1718.6,854.7 1713.5,858.1 1705,859.8 1696.4,860.7 1687.9,859.8 1681,856.4 1679.3,856.4 1678.5,849.6 1682.7,846.2 1681,842.7 1675.9,835.9 1672.5,829.1 1670.8,822.2 1668.2,815.4 1669.9,808.5ZM1679.3,856.4 1687.9,859.8 1696.4,860.7 1705,859.8 1713.5,858.1 1718.6,854.7 1720.3,847.9 1725.5,844.4 1730.6,841 1737.4,837.6 1739.1,832.5 1740.9,825.6 1746,820.5 1744.3,815.4 1747.7,810.3 1749.4,803.4 1747.7,796.6 1754.5,794.9 1761.4,792.3 1768.2,789.7 1770.4,788.8 1770.8,786.8 1772.5,786.9 1774,786.5 1775,786.3 1775,791.4 1781.4,797.9 1780.9,799.3 1781.7,800.7 1783.6,801.7 1785.3,801.9 1786.6,802.6 1788.9,803.2 1791,803.7 1792.8,803.9 1794.3,805.9 1794.2,807.6 1793.5,808.6 1791.1,808.6 1783.6,812.9 1775,813.9 1769.7,812.9 1768.6,817.2 1771.8,824.7 1777.2,830 1783.6,833.2 1781.4,838.6 1780.4,846.1 1777.2,853.6 1772.9,861.1 1768.6,868.6 1764.3,873.9 1756.8,876.1 1753.6,873.9 1750.4,879.3 1749.3,883.6 1753.6,887.9 1755.7,893.2 1760,898.6 1763.2,904 1764.3,908 1747.6,914.9 1745.4,914.5 1743.7,915.2 1742.4,913.4 1741.2,912.2 1739.1,911.5 1737.7,911.7 1736.6,910.4 1736.2,908.5 1736.6,907 1736.5,905.7 1735,904.1 1732.8,903.2 1731.1,902.7 1729.7,901.5 1728.8,899.6 1727.3,898.6 1726.2,898.1 1724.9,900.1 1723.2,899.1 1721.7,900.3 1720.1,899.8 1720.2,898.2 1719.7,896.7 1717.9,898.2 1716.8,897.7 1715.1,897.8 1713.8,896.6 1713,895.7 1711.6,895.1 1709.9,895.1 1708.4,895.4 1707.4,896.8 1705.2,897.8 1703,896.9 1701.5,897.8 1700.8,896.9 1700.1,895.4 1699.3,894.2 1697.6,893.7 1696,893.8 1694.6,893.7 1692.9,894.6 1691.2,896.1 1687.8,885.9 1696.4,882.5 1694.7,872.2 1684.4,865.4 1681.8,865.3 1679.5,864.8 1678.3,862.7 1679.5,860.9 1679.9,858.5Z"/>
<path class="c2" d="M1896.9,879.7 1913.3,875.6 1928.6,874.3 1930.2,873.1 1932.8,873.4 1933.7,871.8 1934,870.7 1935.7,871.1 1936.6,869.8 1938.5,869.5 1950.8,866.1 1961.8,872.9 1957.7,884.2 1948.5,903.7 1942.6,922.8 1941.5,922.8 1940.2,921.8 1938.7,920.3 1937.7,918.1 1938.3,916.6 1937.2,914.9 1937.7,913.1 1938,912 1937,910.7 1936.2,909.5 1935.6,908.6 1935.5,906.9 1934.9,905 1934.4,903.7 1913.3,895.5 1901.3,892ZM1769.8,812.5 1783.5,809 1795.4,806.6 1804,810.7 1810.8,821 1817.6,838.1 1829.6,853.4 1831.3,862 1845,868.1 1862,875.6 1879.1,882.5 1896.2,885.9 1897.9,879.1 1899.4,877.7 1900.3,876.8 1900.1,874.4 1901.6,873.2 1903,872.2 1909.9,882.5 1913.3,884.2 1926.9,882.5 1932.1,875.6 1932.9,873.7 1933.7,871.9 1933.4,870.2 1933.1,868.8 1934.2,868.3 1935,867 1936,866.6 1937.2,865.4 1950.8,862 1964.5,870.5 1961.1,879.1 1954.3,889.3 1949.1,901.3 1944,914.9 1939.9,925.2 1939.4,922.8 1938.7,921.4 1937.2,921.1 1936.4,919.9 1936.2,918.2 1936.5,916.6 1938.6,915.6 1939.3,914.1 1939.7,913 1937.8,911.5 1937.7,909.6 1937.4,908.4 1936.9,906.3 1936.8,904.9 1935.4,903.9 1934.4,903 1928.6,897.8 1913.3,892.7 1899.6,889.3 1899.6,896.1 1903,909.8 1908.1,923.5 1911.6,930.3 1910.5,931.1 1909.1,931.4 1908,931.8 1906.8,933.1 1904.8,933.2 1903,932 1902.6,933.7 1901.3,934.6 1900.9,937 1900.2,938.5 1898.7,938.4 1897.1,939.2 1896.2,940.5 1896.3,942.3 1896,944.6 1895.1,945.7 1894,947.4 1892.3,949.1 1890.8,950 1889.4,950.8 1887.6,952.1 1885.6,953 1883.9,954.2 1883.1,956.2 1883,958.5 1881,958.9 1880.1,959.7 1879.1,961 1878.7,962.4 1878.2,963.8 1877.8,965.8 1877.6,967.3 1875.9,967.6 1874,967.6 1872.6,968.4 1871.3,970.3 1869.9,971 1868.9,971.3 1867.1,971.8 1866,972.1 1864.8,973.4 1863.2,974.9 1863.2,976.1 1863.3,977.8 1862,978.5 1860.5,978.8 1859.6,980.1 1858.6,981.5 1857.3,983.7 1855.9,984.6 1854.1,986 1852.6,985.8 1852.7,987.7 1852.1,989 1851.3,990.5 1851.8,991.8 1851.2,993.5 1850.7,995.4 1852.2,997.1 1852.6,998.8 1852.7,999.9 1851.2,1001.3 1849.7,1001.6 1848.6,1001.6 1849.4,1003.2 1848.4,1005.4 1848.6,1007.6 1847.4,1008 1845.9,1008 1845.6,1009.7 1846.2,1011.7 1847.5,1012.9 1848.5,1014.1 1848.6,1015.4 1849.2,1017.2 1849.1,1019.1 1849.1,1020.9 1848.5,1022.9 1847.3,1024.6 1846,1025.5 1847.6,1027 1847.3,1028.7 1847.9,1029.8 1847.4,1031.5 1847.7,1032.8 1846.5,1033.8 1845.4,1035.8 1846.6,1037.2 1846.9,1038.7 1846.6,1040 1845.8,1041.8 1845.7,1044.3 1844.1,1045.2 1842.9,1046.4 1841.5,1046.4 1839.8,1046.3 1837.5,1046.6 1836.8,1048.3 1836.9,1049.6 1836.5,1051.8 1836,1053.5 1835.3,1055.4 1833,1056 1831.4,1056.8 1829.6,1056.7 1827.2,1055.8 1826.2,1054.4 1826.4,1052.3 1825.2,1050.9 1823.7,1049.5 1823,1047 1823,1044.8 1822.7,1043 1820.5,1043.4 1819,1042.2 1816.7,1041.1 1816.9,1039.5 1816.4,1037.2 1816.7,1035.3 1817.3,1034.2 1815.3,1033.2 1815.5,1031.7 1816.9,1029.6 1816.9,1027.4 1815.9,1025.9 1814.9,1024.6 1813.6,1022.5 1813,1020.6 1812.5,1018.7 1812.1,1016.6 1812.3,1014.1 1811,1012.8 1810.5,1011.7 1810,1010.5 1809.1,1008.9 1808.2,1007.5 1807.1,1005.9 1805.4,1004.3 1805.8,1002.4 1806.4,1000.8 1805.5,999.5 1804.4,998.8 1803,997.5 1803.4,995.9 1802.5,993.8 1802.3,991.8 1801.8,990 1800.7,988.9 1799.9,987.1 1799.3,985 1799.7,983 1799.2,981.7 1797.8,980.1 1798.5,978.7 1798.9,977.1 1797.4,976.6 1796.6,975.8 1795.4,974.7 1794.1,972.9 1794.2,970.6 1795.2,969.4 1794.6,967.7 1794.1,966.2 1793,965.4 1791.5,964.3 1791.2,962.3 1790,960.2 1789,959.2 1788.6,957.6 1788.9,956 1789.2,954.6 1788.8,953 1788.7,951.9 1788.5,949.5 1787.1,947.9 1785.5,946.9 1785.2,945.4 1784.4,944.3 1783.5,942.3 1783.5,940.5 1782.4,939.1 1783.5,937.8 1782.8,936.6 1781.2,935.1 1781.4,933.3 1780.2,932.4 1781.5,931.6 1783.1,930.9 1782.1,929.5 1781.8,928.3 1780.1,926.9 1778.6,927.9 1778.6,929.8 1777.8,930.8 1776.3,931.2 1776.4,933.3 1775.3,935.1 1774,936.1 1773.2,937.1 1772.2,936.4 1770.9,935.3 1769.5,933.2 1767.5,934.1 1765.6,934.1 1763.6,934.1 1761.9,933.8 1760.8,932.7 1759.6,932 1757.8,931.1 1756.2,931.5 1754.5,931 1753.9,929.5 1752.8,928.2 1751.8,927.6 1751,925.2 1753.3,924.6 1754.1,923.2 1753.8,922 1755.2,920.8 1755.5,919.3 1757.8,918.3 1757.3,917.4 1756.8,915.9 1755.1,915.3 1753,914.7 1751.9,915.7 1750.7,916.3 1749.7,915.4 1747.6,914.9 1764.3,908 1763.2,904 1760,898.6 1755.7,893.2 1753.6,887.9 1749.3,883.6 1750.4,879.3 1753.6,873.9 1756.8,876.1 1764.3,873.9 1768.6,868.6 1772.9,861.1 1777.2,853.6 1780.4,846.1 1781.4,838.6 1783.6,833.2 1777.2,830 1771.8,824.7 1768.6,817.2Z"/>
<path class="c1" d="M1850.1,1042.3 1851.3,1044.3 1852.3,1045.5 1853,1046.4 1855.2,1046.5 1856.9,1046.4 1857,1047.9 1856.3,1049 1857.7,1050.2 1859.6,1051.9 1860.9,1053 1861.4,1054.4 1862.2,1055.9 1863.4,1056.1 1863.7,1058.4 1864.7,1060.1 1865.6,1062 1864.5,1063.9 1863.4,1065.4 1863.1,1068 1864.1,1069.5 1865.4,1070.4 1863.1,1070.6 1861.8,1071.7 1862.6,1072.9 1863,1074.1 1860.6,1074.9 1858.6,1076.5 1857.2,1075.9 1855.4,1076.3 1853.5,1075.1 1851.8,1073.8 1852,1071.8 1852,1070.4 1850.7,1069.1 1851.8,1066.9 1852.6,1064.6 1852.2,1062.5 1850.5,1061.7 1849.1,1060.1 1849.4,1058.4 1848.7,1056.6 1847.5,1055.7 1846.4,1054 1847.7,1052.5 1847.8,1050.9 1847.7,1049.9 1847.7,1048 1847.8,1046.1 1849.4,1044.5ZM1829.6,853.4 1845,860.3 1862,867.1 1879.1,873.9 1894.5,875.6 1894.3,877.8 1892.8,879.2 1893.7,880.9 1894.4,882 1895.1,883.6 1896.2,885.9 1879.1,882.5 1862,875.6 1845,868.1 1831.3,862Z"/>
<path class="g" d="M1903,872.2 1913.3,871.5 1926.9,870.5 1928,871.3 1929.6,871.3 1929.3,872.6 1929.8,873.9 1930.6,875.4 1932.1,875.6 1926.9,882.5 1913.3,884.2 1909.9,882.5ZM1899.6,889.3 1913.3,892.7 1928.6,897.8 1934.4,903 1932.1,913.2 1932.3,914.5 1933.2,915.7 1935.6,916.5 1937.2,918.4 1935.4,919.8 1934.9,922 1935.5,923.5 1934.5,924.7 1934.4,927.1 1932.5,928.8 1930.4,928.6 1930.6,926.5 1928.9,926 1928.4,924.2 1928,922 1926.9,920.1 1926.1,921.4 1925.2,923.1 1925,924.5 1925.1,925.8 1923.7,926.3 1921.8,926.9 1919.6,927 1917.6,927.9 1916.2,927.8 1914,928.2 1912.1,928.9 1911.6,930.3 1908.1,923.5 1903,909.8 1899.6,896.1ZM1939.9,925.2 1944,914.9 1949.1,901.3 1954.3,889.3 1961.1,879.1 1964.5,870.5 1976.5,879.1 1979.9,892.7 1974.8,903 1981.6,914.9 1991.8,926.9 2000.4,933.7 1999.9,935.5 2001,936.4 2002.8,937.5 2005.1,937.6 2005.5,938.9 2005.5,940.5 1995.3,944 1985,950.8 1983.3,964.5 1988.4,974.7 1995.3,985 1993.5,998.6 1994.7,999.8 1995.7,1000.5 1997.3,1000.1 1999.5,999.7 1999.3,1001.2 1998.5,1002.3 1998.3,1004.1 1997.6,1005.5 1995.8,1006.7 1996.1,1009.1 1996.1,1011.3 1997.5,1012.2 1998.7,1012.3 2002.1,1025.9 2001.1,1027.7 2002.9,1029.2 2001.6,1029.6 2000.3,1029.9 1999.9,1031.9 1999.6,1033.4 2000.4,1034.5 2001.3,1032.6 2001.2,1031 1999.6,1029.6 1999.8,1028.2 1999.2,1026.7 1999.5,1025.2 1998.9,1023.1 1998.6,1021.1 1997,1019.1 1995.6,1017.2 1994.3,1015.9 1995.3,1013.9 1995,1012 1995.1,1010.1 1994.8,1007.7 1993.1,1006.6 1992,1005.7 1991.3,1003.6 1991.8,1002 1989.9,1001.4 1990.2,999.4 1990.5,997.7 1991,995.4 1990,993.3 1988.1,993.4 1986.9,991.3 1987,989.9 1986.7,988.4 1987.3,986.9 1986.3,984.8 1984.6,984.4 1982.6,983.5 1983.8,982.5 1983.8,981.1 1982.2,980.4 1981.1,979.4 1981.5,977.4 1981.8,976 1981.6,974.7 1979.9,973.6 1978.4,974.8 1978.4,976.8 1977.7,978.9 1975.8,980.3 1974.8,981.5 1972.8,982 1971.7,982.5 1971.3,983.4 1970.7,984.9 1969.2,985.4 1967.9,986.7 1967,988 1965.5,987.8 1964.4,986 1962.9,984.8 1961.1,985 1962.5,982.8 1963.6,981.5 1965,980.4 1964.7,979 1963.5,978.5 1962.3,976.9 1961.6,975.6 1961.6,974.3 1962.7,974.2 1963.9,973.1 1962.8,971.3 1962.5,969 1961.1,968.1 1960.5,966.3 1961,964.7 1959.1,963.3 1958.3,961.7 1957.3,960.1 1957.7,957.6 1956.6,956.1 1955.8,954.3 1955.8,953 1955.4,951.3 1954.1,950.2 1953.1,948.8 1953.3,946.6 1952,945.2 1950.7,945.3 1949.1,944 1948.2,942.9 1948.2,941.5 1946.6,939.7 1944.7,939.5 1943.8,937.6 1943.6,935.8 1944,933.7 1943.1,932.2 1943.1,930.6 1941.2,929.1 1940.5,927.5Z"/>
<path class="c2" d="M1985,950.8 1995.3,944 2005.5,940.5 2010.6,950.8 2012.3,967.9 2022.6,962.7 2036.2,964.5 2046.5,974.7 2051.6,988.4 2049.9,998.6 2036.2,1000.3 2029.4,1008.9 2027.7,1019.1 2027.4,1016.8 2026.7,1015.4 2027,1013 2025.9,1013.6 2024.3,1012.9 2023.2,1014.4 2021.5,1013 2019.2,1012.3 2017.9,1011.9 2016.1,1011.5 2014.6,1011.7 2013.4,1011.7 2012.2,1009.4 2010.6,1008.9 2010.5,1010.3 2009.4,1011.4 2007.9,1013.2 2006,1013.8 2006.3,1015.3 2006.8,1017.4 2007.2,1019.1 2007.3,1021.1 2006.9,1022.5 2007.7,1023.5 2007.8,1025.2 2006.5,1026 2006.3,1027.3 2006.2,1029.2 2005,1030.6 2005.5,1032.8 2006.4,1034.8 2008.3,1036.5 2009.1,1037.5 2010.2,1039.1 2009.3,1041.4 2009.3,1043.6 2008.6,1045.2 2008.9,1046.4 2011,1046.5 2012.2,1046.7 2013.7,1046.5 2015.1,1046.8 2016.1,1049.1 2015,1050.5 2013.4,1051.9 2014.6,1053.3 2013.6,1054.1 2013.1,1056 2013,1057.4 2012.9,1058.7 2014,1060.1 2013.1,1062.4 2012.8,1064.9 2014,1065.8 2015.8,1065.6 2014.3,1064.3 2015.4,1062.7 2017.3,1063.2 2018.6,1065.2 2020.2,1066.1 2020.8,1067.8 2020,1069.1 2019.2,1070.4 2020.3,1071 2020.7,1072.5 2021,1074.5 2022.5,1075.4 2024.2,1076.8 2026,1077.2 2027.7,1076.4 2029.7,1077.2 2030.4,1079.2 2030.4,1081.3 2031.2,1079.9 2032.3,1079.3 2034.5,1078.9 2031.1,1085.7 2022.6,1082.3 2021.3,1081.1 2020.2,1079.3 2018.9,1079.4 2017.3,1079.2 2015.7,1077.2 2013.5,1076 2012.6,1074.4 2012.8,1072.8 2011.1,1072.2 2010.1,1070.5 2008.9,1069.5 2010,1068.6 2010.6,1066.9 2009.8,1064.6 2010.7,1063.3 2009.9,1061.2 2009.4,1059.8 2008.3,1059.1 2008.8,1058 2009.6,1056.5 2008.4,1054.8 2007.7,1053.8 2005.5,1053.3 2006.1,1052.1 2006.1,1050.1 2005.2,1048.6 2004.7,1047.4 2006.1,1045.9 2004.4,1044.3 2002.8,1042.3 2002.2,1040.3 2000.4,1039.6 1998.8,1038 2000.3,1036.6 2000.4,1034.5 2001.4,1032.7 1999.6,1031.2 2000.8,1030.8 2002.1,1030.5 2002.6,1028.5 2002.9,1027.1 2002.1,1025.9 1998.7,1012.3 1997.5,1011.1 1996.5,1010.4 1994.9,1010.8 1992.7,1011.2 1992.9,1009.7 1993.7,1008.6 1993.9,1006.8 1994.6,1005.4 1996.4,1004.2 1996.1,1001.8 1996.2,999.6 1994.7,998.7 1993.5,998.6 1995.3,985 1988.4,974.7 1983.3,964.5Z"/>
<path class="g" d="M2005.5,940.5 2005.6,939 2006.7,937 2007.9,934.9 2008.1,932.9 2009.4,931.1 2011.5,930.4 2013.1,929.8 2014.1,929.3 2015.6,927.5 2015.7,925.2 2026,921.8 2032.8,930.3 2039.7,940.5 2036.2,947.4 2046.5,957.6 2056.7,971.3 2067,985 2068.7,996.9 2060.2,1000.3 2051.6,998.6 2051.6,988.4 2046.5,974.7 2036.2,964.5 2022.6,962.7 2012.3,967.9 2010.6,950.8Z"/>
<path class="c2" d="M2015.7,925.2 2026,921.8 2036.2,918.3 2046.5,923.5 2053.3,932 2061.9,937.1 2060.4,937.8 2059.8,938.9 2058,940 2057.4,941.5 2057.3,942.9 2055,944 2054.9,945.7 2054.2,946.7 2053.1,948.5 2051.2,950 2050.1,951.2 2050.9,952.5 2049.9,954.2 2050.7,955.5 2051.6,956.9 2052.5,958.3 2052.9,959.4 2054.4,961.4 2055.3,962.7 2056.7,964.5 2058.3,963.7 2059.3,964 2061.3,964.9 2061.3,966.5 2062.6,968.2 2063.5,969.5 2064.2,970.7 2065.4,972 2066.5,974.2 2067,976.4 2068.6,977 2069.9,977.5 2068.8,979.1 2069.4,980.4 2071.7,980.2 2073.6,980.2 2074.8,981.6 2074.9,983.8 2076.4,985.2 2075.4,986.1 2074.6,987.1 2076.3,987.4 2077.2,988.4 2079.5,987.7 2081,988.7 2081.1,990.3 2081.4,992 2082.5,993.6 2082.8,995 2082.5,996.2 2083.8,997.5 2085.2,997.6 2085,998.6 2085.5,1000.2 2084.1,1002 2082.8,1003.3 2081.1,1004 2082.1,1005.5 2083.4,1006.6 2083.5,1007.8 2082.3,1009.2 2082.5,1010.7 2080.6,1012.2 2081.7,1013.9 2083.2,1015.8 2084.3,1017.1 2085.8,1019.1 2083.5,1019.5 2082.8,1021.4 2082,1022.5 2081.6,1023.8 2080,1024.5 2080.6,1026.6 2081.6,1028.2 2080.4,1029.2 2079.2,1030.1 2080,1031.3 2078.9,1032.8 2079.8,1034.1 2078.2,1035.3 2077.2,1037.1 2075.3,1037.3 2074.2,1038.4 2073,1039.4 2072.4,1038.3 2071.3,1037.4 2069.5,1037.5 2068.7,1039.6 2066.9,1040.4 2065.7,1040.5 2065.8,1042.7 2063.2,1042.5 2063.4,1044.5 2062.3,1046.1 2061,1046.9 2060.2,1048.1 2057.8,1047.5 2055.8,1047.5 2054.2,1049 2054.2,1050.5 2053.3,1051.6 2053.3,1049.3 2054.8,1048.1 2053.6,1046.7 2053.8,1044.9 2054.3,1043.7 2054.2,1042.2 2053.4,1040.9 2051.6,1039.6 2052.7,1038.4 2054,1037.6 2055.1,1035.6 2053.7,1033.9 2054.6,1032.6 2056.9,1032.2 2057.1,1030.4 2058.4,1029.4 2068.7,1019.1 2070.4,1005.4 2068.7,996.9 2067,985 2056.7,971.3 2046.5,957.6 2036.2,947.4 2039.7,940.5 2032.8,930.3Z"/>
<path class="c1" d="M2029.4,1008.9 2036.2,1000.3 2049.9,998.6 2060.2,1000.3 2068.7,996.9 2070.4,1005.4 2068.7,1019.1 2058.4,1029.4 2056.4,1030 2055.3,1031.5 2053.5,1031.9 2051.8,1031.9 2049.5,1032 2049,1033.7 2048.2,1034.5 2049.6,1032.7 2048.4,1031.4 2047.6,1029 2046.5,1030.2 2045.4,1030.5 2043.1,1029.9 2041.2,1030.6 2039.7,1031.1 2040,1029.3 2038.1,1028 2036.6,1026.1 2034.6,1025.9 2034.3,1024.2 2032.8,1022.5 2030.7,1021.5 2028.9,1021.3 2027.7,1019.1Z"/>
<path class="c2" d="M2015.7,1077.2 2017,1078.4 2018.2,1080.1 2019.5,1080.1 2021.1,1080.3 2022.6,1082.3 2031.1,1085.7 2034.5,1078.9 2035.7,1080.6 2037.5,1081.8 2039.6,1082.7 2041.6,1083.8 2041.4,1085.7 2041.3,1088 2041.4,1090.1 2042.9,1091.1 2043.5,1093.1 2045.6,1094.5 2045,1095.7 2044.8,1097.7 2046.7,1099.3 2046.7,1100.6 2045.7,1102.1 2045.9,1103.6 2046.8,1105.2 2048.2,1106 2048.2,1107.9 2049.1,1109.6 2051,1109.5 2051.9,1111.5 2053.8,1112.2 2053.7,1114.5 2053.5,1116 2052.6,1117.9 2051,1117.7 2049.9,1118.2 2044.8,1119.9 2043.6,1120.3 2041.7,1119.8 2042.2,1118.1 2041,1116 2039.5,1116.4 2037.8,1116.6 2037,1114.8 2036.2,1113 2035.2,1111.8 2035.5,1110.1 2033.1,1109.2 2031.6,1107.8 2030.4,1106.6 2030.1,1104.8 2027.7,1104.5 2026.5,1103.1 2025.6,1101.3 2027.3,1099.6 2025.9,1097.8 2024.6,1096.2 2023.9,1095.2 2022.5,1094.3 2020.9,1094.3 2019,1093.5 2018.2,1092.3 2018,1090.8 2017.4,1089.7 2018.8,1087.7 2017.5,1085.7 2017.7,1084 2017.5,1082.8 2017.8,1081.3 2017.4,1078.7Z"/>
<path class="c3" d="M2046.5,1119.9 2048.3,1120.5 2049.5,1119.4 2050.9,1119.2 2050.3,1120.9 2050.9,1122.3 2048.9,1122.4 2046.5,1122.6 2047.1,1121.2Z"/>
<path class="c1" d="M2096,1116.5 2101.1,1123.3 2111.4,1119.9 2121.6,1118.2 2131.9,1113 2137,1104.5 2135.3,1094.3 2142.1,1090.8 2152.4,1092.6 2154,1093.9 2155.6,1092.7 2155.5,1094.2 2157.1,1095.2 2158.1,1096.7 2157.7,1098.3 2157.3,1100 2157.5,1101.1 2159.1,1103 2161.4,1103 2161.1,1104.7 2161.7,1106.6 2160.6,1107.4 2159.1,1108.1 2160.3,1109.3 2160.6,1110.5 2161.8,1111.7 2162.6,1113 2163.7,1114.1 2164.6,1115.4 2166,1116.9 2167.7,1116.6 2168.6,1117.2 2169.3,1118.8 2169.6,1120.1 2169.5,1121.6 2167.4,1121.6 2165,1122.1 2164.4,1123.3 2162.4,1123.6 2160.9,1125 2159.6,1126.4 2160.8,1128.4 2158.7,1129.7 2157,1130.9 2157.9,1132.6 2159.2,1133.6 2157.2,1134.4 2157.5,1137 2158.6,1138.1 2157.7,1140.1 2158.1,1142.5 2157.3,1144.3 2155.3,1145.7 2154.1,1147.8 2152.5,1148.4 2150.8,1146.8 2149,1147.2 2148.9,1148.6 2149.1,1149.8 2148.9,1152.1 2149.7,1154.4 2149.4,1156 2147.9,1157.4 2146.3,1157.9 2145.6,1159.2 2144.4,1160.5 2143,1160.3 2142.1,1162.7 2142.5,1164.9 2143.6,1166.6 2145.3,1168.1 2143.8,1169.4 2142.4,1167.5 2140.1,1168.3 2140.2,1170.6 2139,1171.4 2137.5,1171.6 2137.7,1169.8 2137.1,1168.3 2137.1,1167.2 2135,1168.2 2133.8,1167.2 2133.6,1166 2133,1167 2131.3,1167.7 2129.2,1168.2 2128.1,1167.1 2126.3,1166.3 2127.4,1164.9 2128.5,1163 2127.4,1162.1 2126.2,1161 2125.1,1159.2 2123.6,1160.2 2123.2,1161.5 2121.1,1161.8 2120.4,1163.2 2118.8,1162.2 2117.1,1163 2115.4,1162.9 2114.8,1160.9 2113.5,1161.3 2112.3,1162.8 2110.2,1162 2110.5,1160.1 2110.5,1158 2109.1,1158.3 2108.3,1160 2106.8,1159.8 2104.6,1159.2 2102.9,1158 2102.5,1156.6 2101.6,1155.3 2100.3,1154.3 2098.6,1154.8 2097.7,1155.7 2097.2,1153.9 2095.4,1153.9 2093.2,1153.4 2094.4,1152.3 2094.8,1150.5 2094.9,1148.4 2096.6,1147.2 2097.3,1146.1 2097.7,1144.4 2097.7,1142.1 2097,1139.7 2095.9,1138.1 2094.4,1137.4 2092.9,1136.6 2092.4,1134.9 2092.2,1132.9 2090.9,1131.8 2089,1130.5 2088.2,1129.1 2089.1,1127.7 2090.6,1127.6 2091.5,1125.5 2090.5,1124.7 2089.5,1123.7 2089.2,1121.6 2089.5,1119.9 2090.5,1119.3 2089.7,1117.9 2090.8,1116.6 2092.9,1115.4 2094.6,1114.5Z"/>
<path class="c2" d="M2096,1116.5 2098.4,1116.5 2100.4,1115.5 2099.3,1114.3 2099.9,1112.5 2101.2,1110.7 2101.7,1108.9 2103,1108.6 2105.3,1108.7 2107.6,1108.5 2108,1106.2 2107.1,1104.1 2108.8,1102.9 2110.3,1103.3 2111.7,1102.4 2113.6,1102 2114.9,1101.5 2116.2,1100.6 2118.2,1101.1 2119.3,1100 2121,1098.2 2122.1,1096.5 2124,1096.3 2124.2,1094.6 2125.3,1093.5 2127,1093.5 2128.5,1094.3 2129.3,1093.5 2130.9,1093 2132.8,1093.9 2134.7,1093.9 2136,1092.9 2137,1090.6 2135.5,1088.6 2135.9,1086.9 2135.3,1085.7 2136.4,1084.3 2138.2,1083.6 2139.4,1081.8 2137.4,1081.1 2137.1,1079.7 2138,1078.5 2140,1078.7 2141.1,1078.3 2142.7,1078.6 2143.8,1077.2 2145.8,1075.8 2146.2,1073.4 2147.2,1072.3 2148.2,1071 2149.1,1068.9 2150.7,1068.6 2152.7,1069.8 2154.6,1070.8 2156.4,1071.3 2157.3,1073.5 2157.9,1074.6 2159.2,1075.5 2161,1075.1 2162.3,1075.7 2162.4,1077 2163.5,1078 2163.9,1079.9 2164.5,1081.7 2166.7,1081.4 2167.8,1081.5 2169.5,1082.3 2167.4,1082.5 2166.6,1084 2164.8,1083.6 2164.3,1086 2162.6,1087.4 2161.7,1088.3 2160.2,1088.5 2158.4,1088.8 2156.7,1089.8 2155.1,1088.9 2153.4,1089.5 2152.3,1090.6 2152.4,1092.6 2142.1,1090.8 2135.3,1094.3 2137,1104.5 2131.9,1113 2121.6,1118.2 2111.4,1119.9 2101.1,1123.3Z"/>
<path class="c1" d="M1974.8,1078.9 1976.6,1078.6 1977.7,1078.1 1979.1,1077.1 1980.7,1077.1 1981.1,1079.3 1980.5,1080.8 1982.2,1079.8 1983.7,1080.2 1985,1082.3 1986.2,1084.4 1987.8,1084.9 1989.3,1085.1 1990.4,1085.1 1991.9,1087.1 1993.6,1087.3 1995.2,1087.5 1996.9,1088.2 1997.8,1089.1 1998.7,1090.8 2000.2,1092.2 2001.2,1094.1 2003.4,1093.2 2004.9,1093.7 2006.3,1095.1 2008.6,1096.3 2009.2,1098.1 2011.3,1098 2012.7,1099.2 2012.5,1101.1 2010.6,1102.8 2012.1,1103.6 2013,1104.6 2012.8,1106 2012,1107.3 2013.7,1107.5 2014.9,1107.6 2017.2,1108.1 2018.7,1109.6 2018.8,1111.2 2020.1,1109.5 2022.6,1110.2 2022.3,1112.2 2022.6,1114.8 2024.9,1115.7 2026,1117.6 2027.8,1117.6 2028.8,1119.5 2029.3,1121.5 2031.6,1122 2031.3,1123.3 2032.5,1124.5 2034.5,1125 2036.2,1126.9 2038.1,1125.8 2040.4,1126.1 2042,1127.9 2041.6,1129.6 2044,1129.9 2044.8,1131.8 2046.4,1132.3 2046.9,1134.2 2048.4,1135.1 2049.8,1135.7 2050.7,1137.1 2051.6,1139.1 2052.1,1141.1 2053.3,1142.1 2055.2,1143.8 2056.5,1144.9 2057.2,1146.7 2057.5,1148.8 2059.3,1149.6 2057.3,1150.8 2058.4,1152.3 2059.1,1153.8 2059.1,1155.1 2061,1155.4 2062.4,1156 2061.8,1157.9 2063.6,1159.2 2065.2,1160.4 2064.7,1161.5 2064.2,1163.1 2064.5,1164.5 2064.5,1166.6 2062.7,1168 2063.9,1169.6 2062.7,1171.5 2061.9,1172.8 2060.8,1174.6 2061.3,1176.4 2060.7,1177.7 2060.1,1179.5 2060.7,1181.9 2059.1,1183 2060.2,1184.8 2058.7,1183.7 2056.2,1183.6 2054.1,1182.4 2052.8,1181.9 2051.6,1181.4 2050,1179.6 2047.6,1180.3 2046.2,1180.8 2043.8,1181.4 2044.5,1179.6 2044.9,1178.5 2045.3,1176.9 2044,1175.9 2044.4,1174.2 2043.3,1172.5 2041.4,1172.8 2039.6,1171.1 2039.9,1168.7 2038.1,1168.3 2037.2,1166.8 2035.2,1165.9 2035.4,1164.2 2035,1162.8 2033.9,1161.3 2032.6,1160.3 2031.1,1159.2 2029.3,1157.3 2027.2,1158.5 2027.5,1156.8 2026.5,1155.9 2025.5,1154 2023,1153.5 2023.2,1152.2 2022.9,1150.4 2023.6,1148.9 2024.3,1147.5 2022.7,1148.3 2021.7,1146.9 2021.4,1145.5 2021.3,1144 2019.2,1143.8 2017.2,1143.9 2016.9,1141.6 2015.9,1139.7 2014.7,1138 2013.7,1137.4 2012.1,1136.8 2011.7,1134.8 2010,1133.3 2009.9,1131.9 2009.5,1130.5 2008.9,1128.4 2006.8,1128.3 2006,1127.3 2004.9,1126.1 2003,1125.9 2001.9,1123.8 2000.3,1124.4 1999.1,1122.9 1997.9,1121.2 1999.5,1119.2 1999.7,1117.4 1998.2,1116.5 1998.6,1114.9 1998.7,1113 1997.8,1111 1997.2,1109.3 1995.4,1109 1993.7,1109.1 1993.5,1106.8 1992.8,1104.3 1991.8,1103 1991.9,1100.8 1990.3,1099 1988.4,1097.7 1986.2,1097.2 1986.4,1096.1 1985.8,1094.5 1985.4,1093.2 1985.1,1091.6 1983.7,1091.2 1982.5,1089.6 1980.7,1089.4 1979.9,1087.4 1978.1,1087.4 1976.5,1086.5 1975.8,1085.7 1975.1,1084.3 1976.7,1083.4 1976.4,1081.8 1975.6,1080.3ZM2058.4,1188.2 2060.6,1188.1 2061.6,1186.1 2062.6,1187.2 2064.3,1187.3 2065.8,1186.7 2067.8,1187.7 2069.3,1187.2 2070.4,1186.5 2072.8,1185.7 2075.1,1186.6 2077.1,1185.4 2078.1,1187.1 2079.5,1187.3 2081.5,1188.4 2082.8,1189.1 2083.4,1190.7 2084.1,1191.6 2086,1191.3 2087.2,1190.2 2088.1,1191.8 2089.6,1191.5 2091.6,1191.4 2093.4,1191 2094.7,1191.3 2096,1192.3 2098,1192.3 2099.4,1193.3 2101.8,1194.2 2100.7,1195.8 2102.2,1197.7 2103.7,1199.2 2105.4,1198.6 2106.9,1199.1 2109,1198.9 2110.5,1198.7 2111.7,1199.6 2113.3,1199.2 2114.8,1198.4 2117.1,1197.7 2119.4,1198.8 2121.1,1200.7 2120.6,1202.1 2121.5,1203.4 2123.6,1203.1 2125.2,1203.7 2126.7,1202.9 2128.5,1203.6 2129.6,1204.3 2130.3,1205.5 2131.7,1204.4 2132.9,1204.3 2134.1,1203.5 2136.2,1203.6 2138.7,1204.4 2138.3,1206.6 2140.5,1205.7 2142.1,1207 2143,1206.1 2144.9,1206.1 2146.9,1206 2147.6,1208.1 2148.2,1205.7 2148.7,1203.9 2150.7,1204.1 2151.3,1205.8 2152.2,1207.3 2152.4,1208.7 2151.8,1211.2 2152.2,1212.7 2152.4,1213.8 2150.5,1213 2149.1,1213.1 2147.3,1211.9 2145.5,1213.7 2143.5,1214.3 2142.2,1213.8 2140.8,1212.3 2138.7,1213.1 2136.4,1211.9 2134.5,1211.9 2133.4,1209.9 2131.4,1210.5 2129.3,1209 2127,1210.2 2125.1,1211.1 2123.9,1209.9 2121.9,1209 2119.6,1209.2 2118.6,1210 2117,1211.1 2114.9,1209.9 2112.9,1209.5 2112.8,1208.2 2111.4,1207 2109.9,1205.4 2108.7,1204.2 2108.6,1202.5 2107.1,1201.3 2105.4,1200.8 2104,1200.8 2102.4,1201.2 2101.2,1200.5 2099.9,1200.8 2098.8,1201.9 2097.7,1203.6 2095.6,1203.5 2094.5,1202.8 2092.9,1203.5 2090.9,1202 2089.8,1200.1 2088.5,1200.8 2086.8,1200.1 2085.5,1201.9 2084.1,1200.8 2081.9,1201 2080.5,1200.5 2079.3,1200.6 2077.5,1201.1 2075.6,1200.1 2076,1198.4 2073.6,1198.5 2071.7,1197.7 2070.4,1197.4 2068.3,1196.7 2066.6,1195.3 2064.4,1196.2 2063.1,1195.5 2061.9,1194 2063.2,1192.1 2062.3,1190.2 2060.6,1189ZM2176.3,1126.7 2178,1125.1 2179.4,1124 2180.7,1124.4 2182.8,1124.6 2182.7,1123.2 2183.1,1121.6 2185.2,1121.8 2186.6,1120.3 2187.7,1121.8 2189.1,1122 2190,1123.3 2192.4,1123.6 2193.8,1122.9 2194.1,1121.6 2195.8,1121.2 2196.8,1123.3 2198.2,1124.1 2199.2,1124.5 2200.4,1123.6 2201.2,1122.9 2202,1123.8 2203.8,1124.4 2206,1123.3 2207.5,1124 2209.3,1122.7 2210.5,1121.6 2212.6,1121.8 2213.6,1120 2214.5,1121 2215.9,1121.8 2216.8,1119.5 2217.8,1118.4 2218.5,1117.1 2220.7,1116.5 2220.1,1118.8 2218,1120.4 2218.1,1122.1 2217.3,1123.3 2216,1122.2 2215.9,1120.6 2214.1,1119.5 2212.7,1120.8 2211.7,1121.5 2210.5,1123.6 2209.9,1124.6 2208.9,1125.7 2208.6,1127.5 2207,1128.4 2207.2,1130.3 2207.6,1131.5 2206.6,1129.7 2204.1,1130.4 2203.6,1129.3 2202.6,1128.2 2200.6,1128.6 2198.3,1129.7 2196.4,1128.2 2195,1127.4 2193.4,1128.4 2192,1127.3 2190.7,1127.9 2188.4,1128 2187.6,1130.1 2186,1131.5 2184.9,1132.3 2183.1,1131.8 2184,1133.6 2184.8,1134.6 2186.4,1133.2 2187.5,1135.3 2189.1,1136.1 2188.6,1137.9 2186.5,1138.4 2187.6,1140 2186.5,1142.1 2188.4,1140.7 2189.9,1140.5 2191,1141.9 2192.3,1143.1 2192.4,1144.4 2193.8,1146 2194.5,1147.1 2196.8,1147.2 2197.7,1148.5 2199.5,1147.5 2200.6,1149.1 2200.6,1150.5 2202,1150.8 2203.7,1152.3 2203,1153.6 2203.6,1155.7 2202.5,1156.7 2200.5,1156.3 2198.2,1155.6 2196.3,1155.2 2195.1,1154 2192.8,1153.4 2191.2,1153.5 2190.1,1154.5 2188.3,1153.6 2187.5,1152.2 2186.7,1150.8 2186.5,1148.9 2187.5,1151.3 2189.5,1152.3 2188.7,1154.5 2186.5,1155.5 2187,1157.3 2188.3,1158.9 2190,1159.2 2189.8,1160.6 2188.9,1162.2 2189.3,1164.2 2188.6,1165.4 2189.9,1166.8 2191.8,1167.2 2193.3,1165.8 2195.3,1166.4 2196.4,1167.2 2198.1,1167.9 2200.2,1169.4 2199.5,1171.5 2197.8,1173.1 2199.6,1175 2201.7,1175.9 2203.3,1177.7 2203.6,1179.7 2202.8,1178.2 2200.6,1177.7 2199.3,1176.7 2197.9,1177.6 2196.4,1177.6 2195.6,1179.2 2195.1,1181.4 2195.4,1179.2 2194.4,1177.8 2193.1,1177.1 2191,1177.8 2190.2,1176.6 2189.6,1175.4 2189.2,1173.8 2190,1172.8 2189.9,1171.1 2188.6,1169.8 2187,1168.9 2185.5,1168.1 2183.4,1168 2182.5,1165.8 2182.9,1164.5 2183.1,1162.6 2182.5,1164.9 2184.3,1165.9 2184.2,1167.5 2182.4,1168.3 2183,1170.4 2181.9,1171.7 2181.4,1172.8 2181.4,1174.8 2180.5,1175.9 2180.2,1177.9 2178.9,1179.5 2179.4,1181.5 2180.3,1183.7 2180.1,1184.8 2179.7,1186.5 2177.9,1187 2177.1,1186.3 2175.7,1185.5 2175.8,1188 2174,1187.3 2172.9,1188.2 2171.9,1186.1 2171,1184.7 2169.6,1184.1 2171.4,1184.9 2172.8,1183.4 2173.7,1181.7 2172.6,1180.1 2172.9,1178.5 2172.4,1176.9 2171.9,1174.6 2171.2,1172.8 2171.5,1171.1 2172.4,1170.4 2171,1169.9 2169.5,1169.1 2167.9,1168.8 2166.5,1169.1 2166.9,1167.1 2168.3,1166.4 2169,1165.1 2168.4,1163.7 2168.5,1162.5 2168.5,1161 2168.8,1159.2 2167.7,1158.1 2166.9,1156.7 2167.9,1156 2169.4,1154.9 2170.5,1153.2 2171.7,1150.9 2173.3,1149.9 2175.2,1148.3 2173.4,1146.9 2172.9,1145.5 2173.9,1143.9 2175.5,1143.3 2176.9,1143.5 2178.9,1142.5 2179.3,1140.4 2178,1139.2 2178,1137.3 2176.5,1137.1 2176.3,1135.3 2177.3,1133.3 2178.8,1131.6 2177.4,1129.6 2177.1,1127.7ZM2157.5,1211.1 2158,1209.7 2157.1,1208.2 2159.1,1207.3 2161,1206.7 2162.5,1207.4 2164,1207.5 2165.4,1208.6 2167.8,1208.7 2169.9,1207.5 2171.1,1209 2171.1,1210.4 2170.2,1212.3 2171.7,1212.7 2172.9,1213.1 2170.5,1212.2 2168.7,1212.8 2167.3,1212.9 2166,1213.9 2164.3,1213.6 2162.6,1214.5 2160.8,1214.5 2160.4,1216.3 2158.7,1215.9 2158.6,1213.9 2158.1,1212.4ZM2176.3,1209.7 2177.5,1209 2179.4,1209.3 2180.3,1207.8 2181.4,1207.1 2183.1,1207.7 2184.9,1208.2 2186,1208 2187.5,1207.7 2190,1207.7 2190.6,1209.2 2192.2,1210.2 2193.2,1208.8 2194.8,1207.7 2195.7,1208.8 2195.2,1210.3 2197.4,1209.2 2199,1209.5 2200.2,1209.7 2199.6,1211 2199.8,1212.8 2198.3,1212.9 2196.6,1211.8 2195.3,1212.6 2193.5,1213 2191.5,1212.4 2190,1213.1 2187.8,1213.9 2187.5,1215.1 2187.9,1216.9 2185.5,1216.6 2185.9,1214.5 2184,1214.2 2182.6,1213.2 2181.4,1213.7 2179.7,1213.1 2177.9,1212.8 2178.1,1210.8ZM2167.8,1218.9 2169,1218.7 2170.5,1219.4 2172.8,1219.3 2175.1,1219.2 2176.3,1218.3 2177,1220.1 2179.2,1220.3 2178.8,1221.9 2179.7,1223.4 2177.9,1223.7 2176.3,1224 2175.3,1225 2174.1,1223.7 2173.2,1223 2171.2,1224.1 2170.7,1222.6 2169.1,1221.8 2168.9,1220.4ZM2200.2,1223.4 2202.2,1222.8 2203.8,1222.5 2204.8,1223.7 2206.4,1222.5 2205.9,1220.9 2207,1219.2 2207.6,1218.1 2208.7,1217.2 2210.8,1217.7 2212.2,1216.7 2212.9,1215.7 2214,1213.6 2215.6,1213.3 2217.3,1213.1 2217.4,1215.5 2217.4,1217.4 2215.6,1217.8 2213.9,1218.9 2215.7,1219.9 2215,1221.9 2213.4,1223.1 2211.5,1222.6 2210,1224.7 2208.6,1226.7 2206.9,1225.3 2205.3,1224.7 2203.4,1224.1 2202.6,1222.7Z"/>
<path class="g" d="M2217.3,1213.1 2219.4,1212.7 2221.1,1211 2222.7,1211.1 2224.2,1210.5 2225.8,1211.5 2227.6,1210.5 2229.4,1210.6 2230.9,1209.7 2232,1209.2 2233.4,1208.3 2234.4,1209.8 2236.1,1211.1 2233.6,1210.9 2232.8,1212.5 2231.4,1212.9 2229.3,1213.5 2227.6,1214.1 2225.4,1214 2225.9,1215.3 2225.8,1217.2 2224.9,1217.9 2223.9,1219.2 2222.3,1219.4 2221.1,1218.7 2220,1217.5 2218.7,1217 2216.2,1216.9 2215.6,1218.9 2216.7,1217.3 2215.7,1216.1 2215.2,1213.6Z"/>
<path class="c1" d="M2239.5,1116.5 2241,1116 2242.2,1115.6 2241.8,1113.8 2242.1,1112.2 2242.4,1110.7 2244,1110.1 2246.3,1109.6 2247.3,1111.7 2248.3,1113.2 2248.1,1115 2249.4,1116.2 2247.9,1118.4 2247.1,1120 2248,1121.6 2246.8,1123.6 2245.7,1125.7 2243.9,1125.6 2242.2,1125.6 2242.9,1127.6 2242.4,1129.7 2244,1130.4 2244.6,1131.8 2245.1,1129.4 2247.1,1129.4 2246.7,1127 2245.1,1128.1 2243.6,1128 2241.7,1127.6 2241.1,1126.2 2241.2,1125 2240.7,1123.4 2239.1,1122.9 2239.6,1120.4 2238.7,1118.3ZM2242.9,1154 2245.1,1153.6 2246,1154.2 2247.5,1155 2248,1153.1 2249.4,1152.1 2250.9,1152.6 2252.3,1151.5 2253.9,1151.2 2254.9,1150.6 2255.8,1152 2257,1152.8 2258.4,1152.1 2259.4,1151.8 2261.2,1152.3 2262.4,1152.6 2263.6,1153.3 2265.1,1154 2262.7,1153.9 2261.3,1155.8 2259.7,1157.2 2258.2,1157.6 2256.4,1156.6 2254.9,1157.5 2253.3,1158.3 2251.6,1158.7 2250.5,1157.1 2250.3,1155.6 2248.8,1154.8 2247.6,1154.2 2246.6,1152.5 2244.9,1152.4ZM2228.2,1161.9 2229.8,1159.9 2231.9,1160.5 2234,1159.2 2236.1,1159.8 2236.5,1161 2237.6,1162.6 2238.3,1164.4 2237.1,1165.3 2234.9,1165.5 2232.9,1164.3 2231.8,1165.9 2230.3,1166 2228.8,1165.8 2227.6,1165.4 2227.7,1163.3ZM2271.9,1142.1 2271.9,1140.2 2272.7,1138 2274.3,1137.5 2276,1137 2276.9,1138 2278.3,1137.7 2280.1,1136.5 2282.2,1135.3 2283.5,1137.1 2285.1,1136.7 2286.6,1136.7 2288,1137 2290.1,1136.7 2292.4,1137 2293.1,1138.6 2294.4,1139.7 2295.3,1140.7 2296.3,1141.8 2297,1142.9 2296.5,1144.7 2297.7,1145.9 2299.3,1145.5 2297.3,1146.6 2295.9,1147 2294.8,1147.6 2295.1,1149.6 2294.9,1151.2 2293.6,1152.1 2292.4,1152.3 2291,1151.5 2290.4,1150.3 2288.9,1149.4 2287.1,1149.2 2284.9,1150.6 2283.7,1150.5 2282.2,1150.6 2284,1152.2 2283.8,1154.3 2285.6,1155.7 2286.2,1158 2287.6,1158.6 2288.1,1160.4 2289,1162.6 2291.4,1161.5 2292.9,1161.8 2294.9,1160.8 2295.6,1158.8 2298,1158.1 2298.7,1160.3 2300.6,1159.8 2302.7,1159.2 2303.6,1157.8 2305,1156.1 2306.9,1157.2 2308.4,1156.8 2309.1,1155.1 2310.8,1153.7 2312.9,1152.3 2314.5,1150.9 2315.5,1148.5 2317.9,1149.6 2319.3,1151 2320.5,1151.3 2322.7,1151.5 2324,1150.4 2325.2,1149.7 2326.6,1148.9 2328,1149.8 2329.6,1150.3 2332.1,1150.7 2333.5,1151.1 2334.5,1151.9 2336.8,1152.3 2338.8,1151.6 2340.2,1151.9 2341.8,1151.4 2343.3,1151.6 2344.9,1153.5 2345.5,1154.7 2347.1,1155.7 2345.4,1215.5 2344.6,1214.5 2342.9,1214.6 2341.4,1212.5 2339.9,1210.8 2338.4,1209.7 2337.3,1208.2 2336.8,1207 2335.8,1206.1 2335.1,1204.4 2333.4,1203.1 2331.8,1203.3 2330.7,1202.5 2329.4,1201.1 2328.3,1200.2 2328.9,1198.5 2328.2,1197.3 2328,1196.1 2327.2,1194.8 2328.2,1193.2 2329.1,1191.1 2330,1189.9 2328.6,1189.2 2327.2,1187.4 2325,1187 2324.3,1185.2 2323.2,1183.1 2323.3,1181.4 2322.1,1180.5 2321.1,1179.5 2319.3,1179.7 2318.5,1181.7 2316.9,1181.2 2314.9,1181 2313.8,1180.1 2312.9,1179.3 2313.2,1177.5 2312.9,1176.2 2311.1,1175.6 2309.8,1175.4 2308.5,1174.3 2307.1,1173.7 2304.9,1173 2304.5,1170.9 2302.7,1171.1 2301.2,1169.8 2299.5,1168.5 2298.8,1167.5 2297.5,1166.4 2296.4,1166.9 2294.8,1166.3 2292.4,1166 2290.9,1165.4 2289.2,1165.3 2287.6,1163.5 2286.2,1162.2 2285.4,1161 2284.1,1158.7 2282.2,1159.2 2280.8,1158.3 2279.8,1158 2278.8,1157.1 2278.5,1155.7 2277.6,1154.6 2276.3,1153.5 2275.4,1151.9 2275.4,1150.6 2274.2,1149.5 2273.8,1148.1 2272.3,1146.6 2272.1,1144.5Z"/>
<path class="g" d="M2347.1,1155.7 2349.1,1155 2350.7,1155.7 2351.6,1156.3 2353.6,1155.2 2354.9,1156.6 2357.3,1155.7 2358.8,1157.1 2360,1157.7 2360.6,1159.1 2360.8,1160.9 2361.3,1161.8 2362.6,1162.9 2364.6,1163.5 2365.4,1162.5 2367.2,1162.5 2368.3,1162.6 2369.9,1162.8 2371,1163.4 2371.5,1165 2372.9,1166.6 2374.4,1167.7 2374.7,1170.2 2375.4,1171.5 2376,1173.4 2378,1173.5 2379.5,1173.4 2380.9,1173.2 2381.5,1174.2 2382.9,1174.8 2384.1,1176.1 2384.2,1177.8 2386.1,1177.1 2388.1,1176.2 2388.8,1177.7 2390.6,1178.8 2391.3,1180.6 2391.9,1182.7 2391.8,1184.9 2393.4,1185.8 2395.1,1185.6 2396.3,1185.9 2398.3,1186.5 2399.6,1186.2 2401.7,1186.7 2402.4,1188.5 2403.5,1189.9 2402.2,1191 2399.8,1192 2398.1,1193.8 2396.6,1195 2394.9,1196.6 2393.6,1198.3 2392.3,1199.4 2392.1,1200.5 2391.5,1201.9 2392.5,1203.6 2393.4,1204.6 2394.9,1205.7 2395,1207 2395.2,1209.6 2396.8,1210.4 2398.4,1210.6 2400,1210.4 2400.3,1211.7 2401.3,1212.9 2402.7,1214.3 2404.5,1215 2406.2,1215.9 2407.5,1216.2 2407.3,1217.5 2408.6,1218.9 2410.3,1220.3 2412.3,1220.2 2413.5,1220.2 2415.3,1221.1 2416.7,1222.6 2417.9,1222.5 2419.8,1222.9 2421.5,1223.1 2422.2,1224.1 2421.3,1225.6 2422.9,1227.6 2424.5,1228.5 2425.7,1229.2 2424.2,1229.7 2422.4,1229.2 2421.3,1229.2 2419.7,1229.4 2418,1228 2417.2,1226.7 2417.1,1225.5 2414.7,1226.1 2413,1226.4 2412,1227.5 2410.3,1228.1 2409.2,1227.4 2408.2,1225.7 2406.9,1224.5 2404.7,1224.5 2402.7,1223.5 2401.2,1224.1 2399.8,1224.1 2399.1,1222.8 2398.3,1220.6 2396.9,1220.1 2395.1,1219.9 2394.2,1218.3 2392.9,1216.5 2391.3,1214.9 2390,1213.7 2388.1,1212.1 2387,1211.2 2386.1,1210.2 2385.1,1208.9 2383,1209.2 2382.4,1207.3 2381.5,1206 2380.2,1205.8 2379.4,1204 2377.8,1203.6 2375.7,1203.6 2373.4,1203.2 2372,1202.6 2370.7,1202.1 2369.3,1201.7 2367.6,1201.9 2365.6,1203.2 2363.7,1203.5 2363.8,1205 2363.2,1206 2362.1,1207.2 2361.8,1209.4 2359.9,1209.1 2358.4,1209.4 2357.3,1210.4 2355.4,1210.3 2353.7,1210.2 2351.2,1210.8 2349.3,1211.9 2348,1213.9 2346.4,1214.6 2345.4,1215.5ZM2408.6,1188.2 2410.6,1186.6 2412.4,1186.5 2413.8,1185.9 2413.9,1184.4 2415.3,1183.3 2416.9,1181.8 2419.3,1181.7 2421,1182 2422.2,1183.1 2424.5,1182.7 2426.5,1181.6 2427,1179.5 2428,1178.5 2430,1179.1 2431.4,1178.7 2433.1,1177.8 2434.5,1177.7 2435.9,1178 2436.8,1180.4 2438.1,1180.4 2439.3,1181.4 2439.2,1183.8 2437.7,1185 2435.8,1184.6 2434.3,1185 2433.1,1185 2431.3,1186.5 2430.2,1186.9 2428.6,1187 2427,1187.4 2425.7,1188.2 2423.6,1188.8 2422.4,1188.7 2420.7,1188.9 2419.4,1190.3 2418,1190.4 2415.6,1190.9 2413.7,1191.6 2412,1191.1 2410,1190.4 2409.9,1189Z"/>
<path class="c1" d="M2167.8,962.7 2169.8,962.7 2169.8,960.6 2171.6,960.3 2173.5,959.8 2174.5,958.8 2176.3,959.3 2177,960.9 2178.5,961.1 2180.1,962.4 2180,963.9 2181.2,965.4 2183.1,966.2 2184,967.7 2184.2,968.8 2185.4,971 2185.7,972.3 2185.5,974 2186,976.3 2184.8,978.1 2184.3,980 2184.3,981.7 2182.8,983 2181,983.6 2180.9,985.7 2180,987 2179.7,988.4 2181.1,990 2181.8,991.4 2182.6,992.5 2183.9,993.8 2185.2,995.8 2185,997.4 2184.8,998.6 2186.3,998.9 2187.3,999.9 2189.1,1000 2190.6,999.2 2192.3,1000.1 2192.1,1002.1 2192.4,1003.5 2193.4,1005.4 2194.4,1003.7 2196.4,1004 2198.1,1005.6 2198.7,1007 2199.3,1008.6 2201.4,1008.8 2203.2,1009 2203.6,1007.2 2202.9,1008.9 2201.8,1010.2 2200.7,1012.2 2200.2,1014 2198.6,1013.9 2197.5,1013.4 2195.4,1012 2194,1012.1 2192.6,1011 2191.4,1011.3 2190,1012.3 2188.6,1013.3 2187.5,1015.4 2186.3,1016.1 2185,1016.4 2183.1,1015.7 2180.9,1014.9 2179.9,1014.2 2178.6,1013.1 2179.5,1011.3 2178.8,1009.9 2177.6,1008.7 2176.3,1007.2 2178.5,1006 2178.4,1004.6 2176.9,1003.6 2176.1,1001.3 2174.7,1000.1 2172.5,999.6 2172.1,997.2 2171.2,995.2 2172.1,993.8 2172.8,991.9 2171.6,989.7 2170.3,988.4 2168.6,986.9 2167.5,986 2167.9,984.6 2167.8,983.2 2167.2,981.6 2166.7,979.6 2166.8,977.8 2167,976.5 2167.3,975.4 2166.5,973.8 2166,971.3 2167,969.5 2166.9,967.9 2167.2,966.7 2167,964.2ZM2195.1,1060.1 2196.5,1059 2197.7,1057.6 2199.6,1056.7 2201.4,1057.2 2203.4,1055.7 2203.6,1053.3 2205.2,1053.1 2206.8,1053.8 2208.9,1052.8 2209.6,1051.5 2211.4,1050.9 2211.6,1048.9 2213.9,1049.9 2215.6,1047.9 2217.3,1047.1 2218.5,1045.7 2220.9,1046.3 2222.6,1047 2224.1,1046.4 2223.6,1047.9 2223,1048.9 2223.7,1050.7 2225,1051.6 2226.6,1052.4 2228,1053.8 2227.2,1055 2227.5,1056.7 2227.3,1059 2225.3,1059.5 2226.6,1061.7 2226.5,1063.6 2227.2,1065.5 2225.5,1065.9 2225.8,1067.8 2226.7,1069.4 2227.8,1069.8 2229.2,1070.4 2227.8,1071.3 2227.1,1072.2 2225.8,1073.1 2224.9,1075.4 2223.4,1076.2 2223.1,1077.3 2222,1079 2222.4,1080.6 2221.8,1079.1 2221.4,1077.9 2219.9,1078.3 2218.2,1076.8 2218.5,1075 2218.1,1073.8 2216.5,1072.5 2217.3,1070.4 2216.9,1072.7 2215.3,1073.7 2212.9,1074.5 2211.6,1075.3 2210.5,1077.2 2208.7,1075.9 2208.1,1074.7 2206.7,1072.9 2205.8,1071.4 2203.6,1070.4 2201.9,1069.7 2199.8,1070.7 2197.8,1069.7 2196.8,1068.6 2197.5,1066.2 2195.9,1066.6 2194.4,1065.6 2195.8,1063.6 2196.9,1061.4ZM2208.7,1015.7 2210.2,1015.9 2211.5,1016 2213.5,1015.2 2215.2,1015.6 2217.4,1014.4 2218.1,1016.2 2218.7,1018 2217.3,1019.1 2218.1,1020.9 2216.3,1022.3 2217.8,1023.1 2217,1024.8 2218.3,1025.8 2220,1026 2222.1,1027.5 2220,1028.9 2219.8,1030.8 2220.7,1032.8 2220.9,1033.9 2220.8,1035.4 2220.1,1037.1 2218.5,1036.2 2217.5,1038.2 2215.6,1039.6 2215.2,1038 2213.3,1037.6 2212.5,1036.6 2210.9,1036.1 2211.3,1033.6 2209.3,1033.4 2210,1031.3 2210.5,1029.4 2208,1029.7 2207.3,1027.3 2206.7,1025.6 2206.6,1023.8 2206.5,1021.6 2208.1,1019.8 2208.1,1018 2209.5,1017.6ZM2188.2,1024.2 2190.7,1023.5 2191.9,1022.6 2193.3,1022.9 2193.8,1024.6 2194.9,1025.3 2195.5,1023.9 2196.8,1022.5 2197,1023.9 2197.8,1025.9 2199.5,1027.3 2201,1029.3 2200,1030.5 2200.2,1032.8 2198.9,1033.6 2198.5,1035.7 2199,1037.5 2201.1,1038.7 2202,1040.9 2201.9,1043 2201.1,1044.4 2199.6,1046 2198.4,1046.2 2197,1046 2195.1,1046.4 2195.1,1044.6 2193.8,1043.6 2192.1,1044.1 2191.6,1041.9 2190.5,1040.7 2190.9,1039.2 2192.2,1037.2 2190,1036.2 2190.6,1034.4 2189.8,1032.9 2188.4,1031.9 2187.7,1030.7 2188.8,1029.6 2189.4,1028.6 2188.4,1026.8ZM2150.7,1058.4 2152.5,1057.1 2153.3,1055.6 2153.4,1053.2 2153.4,1051.4 2153.7,1050.2 2155.3,1049.7 2156.4,1049.2 2158.2,1048.6 2159.2,1046.4 2160.1,1045.4 2160.6,1044.1 2162.5,1043.5 2162.7,1042.1 2161.1,1040.1 2162.8,1041.1 2163.9,1039.1 2162.9,1037.8 2161.5,1037.8 2163.6,1037.1 2163.2,1035.4 2164.9,1035 2165.7,1033.6 2167.6,1034.2 2169.5,1032.8 2169.1,1031 2167.8,1030.7 2169.8,1029.4 2170.4,1028.2 2171.6,1027.1 2173.2,1026 2175.7,1025.6 2175,1023.4 2174.7,1022.4 2174.6,1020.8 2174.9,1022.7 2176.3,1024.2 2174.7,1025.3 2174,1026.8 2172.7,1027.9 2171.3,1028 2168.9,1027.6 2169.2,1029.3 2168.1,1030.6 2169.5,1032.6 2170.9,1033.4 2169.6,1035.1 2168.7,1036.6 2169.5,1037.9 2167.2,1037.1 2165.6,1038.1 2165.1,1039.3 2163.7,1040.5 2163.1,1042.7 2160.9,1043.9 2159.1,1045.7 2160,1047 2160.3,1048.5 2161.6,1049.6 2160.9,1051.6 2159.4,1051.3 2157.3,1050.9 2155.9,1052.1 2155.6,1054.3 2153.5,1053.6 2152.8,1056 2151.9,1057.6 2153.8,1057.8 2154.9,1059.2 2154.4,1060.2 2154.1,1061.8 2152.9,1059.6ZM2179.7,1015.7 2186.5,1014 2184.8,1015.8 2186.6,1017.2 2186.1,1018.8 2187.5,1020.3 2188.2,1022.5 2185.9,1022.5 2184.7,1023.8 2183.1,1024.2 2182.8,1022.3 2183.2,1021 2183.4,1019.3 2184.4,1018.4 2183.1,1017.2 2181.6,1017.3Z"/>
<path class="c2" d="M2354.9,1230.3 2355.2,1231.8 2354.9,1233.3 2353,1233.7 2351.7,1235.8 2352.1,1237.8 2353.9,1239.2 2356.2,1239.7 2357.6,1240.5 2359,1241.6 2359.4,1242.9 2359.9,1244.4 2360.5,1246.4 2361.5,1247.8 2361.4,1249.1 2361.4,1250.4 2361,1252.5 2361.8,1254.2 2361.5,1256.1 2361.4,1258.5 2361.8,1261 2362.7,1262.7 2363.7,1264.9 2363.8,1266.7 2365.2,1266.8 2366.4,1267.4 2367.8,1267.6 2369.6,1267.8 2370.5,1268.9 2371.2,1270.5 2372.5,1272.2 2373.5,1273.4 2373,1275.1 2371.7,1276.7 2372.3,1278.4 2373,1279.8 2374.4,1281.1 2373.5,1282.8 2371.7,1283 2371.1,1284.1 2371.3,1285.3 2372.1,1287 2372.9,1288.4 2373.4,1289.4 2373.7,1291.1 2374.7,1293.5 2374.2,1295.1 2373.3,1297.2 2374.9,1298.1 2376.6,1299.4 2377.2,1301.3 2376.4,1303.7 2377.5,1304.9 2379,1304.8 2381,1306.4 2381.7,1308.8 2381.8,1310.7 2383.2,1312.3 2384.1,1313.6 2384,1315.7 2385.4,1316.4 2386.7,1315.9 2388.1,1317.4 2389.1,1318.6 2390.5,1318.5 2391.8,1319.1 2391.5,1320.9 2391.8,1322.3 2391.5,1324.7 2392.4,1326.2 2393,1327.7 2393.2,1329.1 2393.5,1331 2394.9,1332.7 2395.5,1333.7 2397,1334.9 2396.6,1336.7 2398,1337.5 2398.6,1339.6 2398.5,1341.3 2399.9,1341.9 2401.7,1343.6 2401.3,1346 2402,1348.1 2402.2,1350 2403,1351.7 2404.6,1352.7 2405.8,1353.9 2407.5,1354.5 2408.1,1355.7 2409,1356.9 2410.5,1358.4 2410.5,1360.1 2412.3,1361 2414.4,1360.9 2415.7,1361.8 2414.6,1363.1 2414.4,1364.6 2414.9,1365.8 2415.7,1366.9 2414.6,1368.5 2413.4,1369.3 2413.4,1370.9 2412.2,1372 2411.1,1373 2411.5,1374.5 2412.7,1376.2 2411.3,1377.9 2410.1,1379.4 2409,1381.1 2407.8,1382.4 2407.9,1384.5 2408.8,1385.7 2407.4,1386.6 2406.5,1387.8 2406.8,1390.1 2406.6,1391.9 2406.3,1393.3 2407,1394.5 2407.1,1395.9 2407.1,1397.5 2405.7,1399.4 2404.9,1401.6 2404.4,1404 2402.6,1403.6 2402.3,1405.7 2402.7,1407.8 2401.7,1408.9 2400.3,1409.6 2398.9,1410.6 2397.8,1412.3 2396.2,1412.9 2395.3,1414.3 2395.2,1416 2394.6,1416.9 2392.5,1417.9 2391.5,1419.2 2390.8,1420.5 2391.7,1422.1 2391.8,1423.3 2389.4,1423.6 2389.9,1425.4 2387.5,1425.6 2386.9,1427.4 2385.5,1429 2384.5,1430 2383.2,1431.8 2382.5,1434 2381.3,1434.9 2379.5,1435.4 2378.3,1436.2 2377.8,1434.2 2376.6,1433.3 2375.7,1435.3 2374.9,1436.6 2374,1437.9 2374.6,1439.6 2373,1440.4 2372.2,1441.7 2372,1443.6 2370,1444.1 2368.4,1443.4 2369,1445.4 2367.9,1447.4 2365.9,1448.6 2364.4,1450.6 2363.3,1451.9 2362.6,1452.8 2361.1,1453.8 2360.1,1455.2 2359.6,1456.5 2359,1458.2 2356.9,1459.2 2355.9,1460.8 2354.7,1462.6 2353.1,1463.8 2352.1,1465.4 2351.7,1467.1 2350.5,1468.1 2350.1,1469.6 2348.8,1470.5 2347.3,1471.1 2346.1,1470.7 2344.4,1471 2342.6,1472 2341.1,1473.4 2340.8,1474.8 2339.4,1475.6 2337.8,1477 2337.5,1478.1 2337.1,1479.6 2336.7,1480.9 2336.1,1482.4 2334,1483.5 2332.5,1483.6 2331,1482.2 2329.7,1481.5 2327.5,1481.6 2326.2,1481.5 2325.1,1483 2323.5,1484.9 2321.8,1486.1 2321,1487.9 2318.5,1487.7 2316.6,1487.5 2314.9,1486.5 2312.8,1487.8 2311.4,1487.9 2310.3,1489.3 2308.7,1490 2306.4,1489.9 2304.4,1490.2 2302.7,1489.6 2301.9,1488.6 2301.3,1486.8 2299,1485.6 2299.3,1484 2297.8,1483 2296.4,1483 2295,1483 2293.7,1484.4 2292.6,1486 2292.2,1487.3 2290.5,1488 2289.1,1488 2287.6,1488.2 2285.9,1488.7 2284.6,1488.7 2283.3,1487.9 2282,1487.8 2280.1,1487.1 2278.9,1486.7 2277.3,1486.5 2275.1,1486.5 2274.3,1485.2 2273.2,1484.1 2272,1483.4 2270.5,1484.6 2268.8,1483 2266.9,1481.8 2267.8,1480.3 2267.3,1479 2265.6,1479.2 2264.4,1479.2 2264.2,1477.3 2263.7,1476.2 2265.9,1475.6 2267.2,1473.6 2268.4,1472.5 2269,1471.1 2268.2,1469.1 2267.1,1467.7 2266.2,1465.6 2266.1,1464.3 2266.2,1462.5 2267.6,1460.8 2268.8,1459.1 2267.3,1457.8 2265.2,1456.7 2264.2,1455.4 2263.7,1454 2263.5,1451.6 2264.8,1450 2263.5,1447.8 2263.4,1445.5 2265.5,1444.7 2267.1,1443.8 2266.1,1441.4 2266.4,1439.9 2265.4,1438.7 2266.4,1437.6 2266.5,1436.4 2268.1,1435.4 2268.8,1433.5 2268,1435 2267.2,1435.9 2265.5,1437.6 2264.1,1438.6 2262.6,1439.3 2261.4,1440 2260.2,1440.4 2260.1,1442.7 2258.8,1444.8 2257.5,1445.2 2256.1,1445.1 2254.3,1445.5 2252.6,1446.7 2253.4,1448.9 2251.5,1449.6 2250.1,1450.8 2248,1452.2 2246.8,1453.3 2244.9,1454 2243.7,1453.1 2242.5,1452.5 2240.9,1451.6 2239.8,1449.5 2239.7,1447.2 2240,1445.1 2239.8,1443.6 2240.9,1442.2 2240.3,1440.6 2241.1,1439.1 2241.5,1436.9 2240.1,1436.1 2238.7,1435.9 2239,1433.7 2238.7,1431.7 2238,1430.1 2236,1430 2234.8,1429.3 2234.5,1427.8 2233,1428.3 2231.5,1427.6 2230.3,1426.4 2229.5,1425 2227,1425.2 2225.7,1426.2 2224.7,1425.2 2223.2,1425.2 2221.5,1424.4 2219.3,1423.3 2218.2,1422.3 2216.3,1423 2214.3,1422.3 2212.5,1423.1 2211.2,1423.2 2210,1422.9 2208,1423.4 2205.6,1424 2203.4,1425.3 2202,1426.4 2200.9,1427.5 2199.8,1428.2 2197.3,1428.5 2195.7,1427.3 2194.2,1426 2193.2,1426.5 2191.9,1427.4 2191.3,1429.1 2189.2,1429.6 2186.9,1428.5 2185.9,1428.8 2184.2,1428.7 2183.4,1430 2181.6,1431.1 2179.7,1431.2 2178.3,1430.8 2176.5,1429.7 2175.3,1430.2 2174.1,1431.4 2173.9,1432.6 2173.1,1434.3 2170.7,1433.7 2169.2,1432.9 2168.4,1434.7 2166.3,1435.2 2165.2,1436.3 2163.9,1437.3 2162.1,1437.7 2161.8,1439.9 2161.4,1441.2 2161.1,1442.4 2159.2,1442.4 2157.8,1442.1 2156.2,1442.4 2155.7,1444.4 2153.8,1443.5 2152,1443.1 2150.2,1444.4 2148.8,1444.9 2147.5,1444.4 2145.5,1443.7 2143.4,1445.1 2141.9,1445.6 2140.6,1444.8 2139.3,1445.8 2137.3,1445.5 2135.1,1444.5 2133.3,1444.2 2131.7,1444.6 2129.9,1444.7 2128.7,1445.2 2127,1445.5 2125.5,1446.8 2124,1448.3 2122.6,1448.3 2120.8,1448.5 2119.8,1450 2118.5,1449.9 2116.2,1450.7 2114.1,1452.1 2112.6,1452.5 2111.2,1452.4 2109.7,1452.9 2108.2,1453.3 2107.2,1454.4 2106.5,1455.4 2104.6,1456.4 2102.5,1456.5 2101.3,1456.3 2099.8,1455.6 2098,1454.7 2096.1,1453.9 2094.2,1454.2 2093.1,1452.5 2092.2,1451.2 2090.6,1450.7 2089.4,1450.6 2089.2,1448.7 2089.6,1446.2 2088.8,1444.4 2086.7,1444.4 2089,1443.5 2090.5,1444.2 2092.4,1444 2093,1441.6 2094.3,1440.3 2094.6,1438.6 2094.4,1436.9 2095.4,1435.8 2097.2,1434.8 2097.1,1433.2 2097,1432.1 2096.8,1429.7 2098,1428.4 2099.3,1426.5 2100.6,1425.4 2101.1,1424.1 2101.7,1422.5 2101.5,1420.6 2100.4,1420.1 2099.1,1418.8 2099.7,1416.4 2099.1,1414.5 2100.4,1413 2099.5,1411.5 2100,1409.4 2100.9,1408.4 2100.4,1406.8 2099.7,1404.5 2098.4,1403 2097.6,1401.5 2097.1,1399.9 2095.4,1398.1 2096.9,1396 2097.8,1394.2 2098,1392.5 2096.6,1390.8 2096.8,1389.3 2096.2,1388 2096.9,1385.9 2099,1384.9 2099.3,1383.8 2099.7,1382.3 2098.5,1380.1 2099.1,1377.9 2098.4,1376.5 2096.3,1375.4 2097,1373.3 2098.4,1371.3 2098.9,1369.1 2100.5,1367.9 2099.2,1367 2099.7,1365.2 2099.3,1363.8 2099.2,1361.4 2100.8,1359.5 2101.9,1358.6 2101.6,1357.3 2101.9,1355.6 2102.5,1354.5 2103.1,1353.2 2103.4,1352 2104.4,1350.3 2104.9,1348.7 2105.3,1347.3 2106.2,1345.8 2106,1344.2 2107.4,1343.3 2107.2,1341.3 2109.8,1341 2111.4,1339.5 2111.5,1338.3 2112,1336.7 2110.5,1336 2109.9,1334.5 2111.2,1335.6 2113.4,1335.1 2114.5,1333.8 2116.7,1332.5 2118.3,1330.9 2119,1329.8 2120.2,1328.3 2121.7,1327.5 2123.3,1327 2124.6,1326.3 2126,1326.7 2126.4,1324.5 2126.9,1323.1 2128.5,1321.8 2130.3,1321.7 2131.9,1323.2 2133.9,1322.5 2136,1321.1 2136.7,1319.6 2135.8,1317.7 2136.7,1316.6 2138.5,1316.4 2140.6,1317.9 2142.5,1318.3 2143.9,1318 2145.5,1317.9 2147.5,1318.1 2148.9,1317.5 2150.6,1316.8 2152.1,1317.2 2153.5,1317.1 2154.8,1316.9 2156.2,1316.5 2158.2,1315.3 2159.6,1315 2161.2,1314.6 2162.9,1315 2164.8,1314.2 2165.5,1312.8 2167.4,1312.5 2169.1,1311.9 2170.8,1311.8 2172,1311.3 2173.1,1309.9 2171.8,1308.3 2172.8,1306.7 2173.5,1304.8 2175.8,1304.3 2177.5,1303.7 2178.7,1303.2 2179.7,1301.8 2179.6,1300.5 2180.2,1298.8 2181.7,1298.6 2182.4,1297 2183.8,1295.5 2182,1294.1 2180.8,1293.3 2182.6,1291.8 2183.4,1290.1 2185,1288.4 2187.3,1287.7 2189.4,1288.2 2190.9,1289.1 2193.1,1288.3 2193.6,1286.6 2194.2,1284.8 2194.9,1283.8 2195.8,1282.8 2197.2,1281.9 2198,1280.2 2197.8,1278.5 2198.8,1278.1 2200.5,1278.1 2202.9,1277.2 2204.1,1277.3 2205.4,1276.7 2205.6,1274.5 2206.4,1272.9 2207.4,1272.3 2208.2,1270.7 2209,1269.6 2209.1,1267.6 2209.4,1265.8 2211,1265.9 2212.5,1265.3 2213.9,1264 2216,1265.6 2217,1264.5 2217.5,1262.7 2220.1,1263 2221.8,1263.8 2223.1,1264.4 2223.4,1262.6 2224.9,1262.4 2225.9,1260.9 2226.1,1259.3 2227.1,1261.3 2226.3,1262.8 2227.5,1263.5 2228.8,1264.7 2230.8,1264.9 2231.7,1266.1 2232.9,1267.8 2234.5,1269.2 2235.8,1268.7 2237.4,1269.2 2238.5,1270.3 2239.7,1271.3 2241.8,1271.6 2244.1,1270.7 2244.9,1269.1 2246.6,1267.8 2248,1267 2249,1265.6 2250,1263.6 2250.5,1262.2 2249.8,1260.1 2250,1257.6 2251.3,1256.3 2252.3,1255.3 2253.8,1253.4 2255.9,1255 2255,1253.5 2256.4,1251.7 2255.9,1250.4 2256.8,1249.1 2258.1,1248 2259.2,1247.8 2260.7,1245.9 2261.9,1244.9 2263,1244 2265.3,1243.8 2267.1,1242.2 2269,1242.4 2270.3,1241.8 2272.6,1241.7 2274.5,1240.4 2275.6,1239.5 2277.6,1240.7 2278.8,1242.1 2280.1,1241.3 2281.8,1241.3 2284.2,1242.2 2286.2,1241.3 2287.6,1242.1 2289.2,1241 2290.9,1242.2 2292.2,1242.6 2294.4,1243.9 2296.3,1242.5 2298.5,1242.4 2300.6,1242.2 2301.9,1241.9 2302.6,1240.5 2304.6,1239.5 2305.8,1240.9 2306.7,1241.7 2307.8,1241.9 2309.3,1241.9 2310.1,1243.1 2310.4,1244.3 2309.1,1245.5 2308.1,1247.4 2307.3,1248.4 2305.6,1249.1 2305.4,1251.4 2305.1,1252.4 2304.2,1253.9 2302.9,1255.4 2301.2,1255.9 2299.2,1255.9 2297,1257 2295.8,1259.1 2296.3,1261.2 2296,1263.7 2294.8,1264.8 2294.4,1266.1 2295.9,1266.5 2297.2,1267.5 2299.1,1268.4 2299,1270.4 2299.2,1272.5 2299.5,1274.7 2301.6,1275.6 2303.1,1275.1 2304.4,1275.9 2305,1277 2305.3,1278.2 2306.6,1279.4 2308.1,1281.5 2309.7,1280.9 2311.5,1282.3 2313.1,1283.3 2314.3,1283.7 2315.9,1284.8 2315.8,1286.2 2317,1287 2318.3,1288.3 2319.5,1289.4 2320.6,1290 2321.5,1291.4 2322.8,1292.2 2323.9,1292.7 2324.7,1294.3 2326.9,1294.2 2327.7,1292.3 2329.9,1293.2 2331.2,1291.7 2332.5,1290.9 2333.7,1290.1 2334,1288.4 2334.7,1287.5 2336.5,1285.8 2337.9,1285 2338.6,1283.6 2338.2,1282 2338.8,1279.8 2340,1278.5 2340.2,1277.4 2340.6,1276 2340.6,1274.1 2341.4,1272.7 2340.7,1270.7 2340.6,1268.9 2342.2,1267.8 2341.9,1266.3 2343.3,1264.6 2343.8,1262.6 2344.5,1261.4 2344.5,1259.8 2344.1,1257.6 2343.9,1255.9 2345,1254.7 2346.2,1253.8 2346.8,1252.6 2346.5,1250.5 2346.5,1249.4 2346.8,1247.7 2347.9,1246.3 2347.3,1243.9 2347.7,1242.3 2348.6,1241.5 2349.5,1239.6 2349.1,1237.5 2350.5,1236.7 2350.9,1234.8 2351.8,1233.7 2353.4,1231.8ZM2284.2,1505.3 2286.4,1506 2287.5,1507.2 2289.7,1508.5 2291.8,1507.2 2293.7,1507.5 2294.8,1507.7 2296.1,1508.7 2297.4,1507.6 2298.7,1507.4 2299.7,1506.6 2301.4,1505.5 2302.6,1505.4 2304.2,1506.2 2305.8,1504.3 2306.8,1505.6 2308.1,1507 2308.8,1507.9 2309.9,1508.9 2309.7,1510.8 2308.6,1512 2307.5,1513.1 2307.3,1514.2 2306.9,1515.8 2306.2,1516.9 2304.6,1517.2 2303.1,1518.6 2301,1519 2299.9,1519.5 2298.1,1519.4 2297.1,1520.7 2297.2,1522.6 2295.9,1524.2 2296.1,1525.7 2294.7,1526.7 2293.8,1527.2 2293.4,1529 2291.9,1530 2291,1531 2289.7,1531.9 2287.6,1531.9 2285.2,1531.6 2283.1,1531.5 2283.2,1533.6 2281.9,1534.6 2281,1534 2280,1532.7 2278.5,1532 2277.3,1532.6 2278,1530.9 2278.7,1528.5 2278.8,1527.1 2278.8,1525.6 2279,1524.1 2279,1522.3 2279.8,1520.9 2280.3,1519.3 2281,1517 2282.6,1516.6 2281.8,1514.9 2280.5,1513.9 2281.4,1512.1 2282,1510.5 2281.9,1508.6 2283.2,1507.4Z"/>
<path class="c1" d="M2530.1,1450.6 2530.3,1452.6 2531.5,1454.4 2533.4,1456.1 2535.2,1457.4 2536.2,1459.6 2537,1461.7 2538.2,1463.2 2538.8,1464.6 2538.6,1466 2536.7,1467.5 2536.3,1469.8 2536.9,1471 2536.8,1473 2535.7,1474.5 2536.9,1476.2 2537.1,1477.3 2537.3,1478.9 2538.7,1478.9 2540.5,1479.3 2542.8,1479.2 2543.8,1481.3 2544.9,1481.6 2546.4,1481.4 2547.6,1480.7 2549,1480.4 2550,1479.2 2551.5,1479.4 2553.4,1478.6 2555.7,1478.6 2555.1,1480.2 2553.1,1481.7 2552.4,1482.9 2552.3,1484.8 2550.3,1486.1 2548.4,1487.1 2547.6,1488.3 2546.2,1489.2 2545.4,1490.2 2543.8,1491.6 2542.2,1491.2 2540.9,1492.6 2538.4,1492.5 2536.7,1493.1 2536.8,1495 2535.5,1496.5 2535.2,1498.4 2535.4,1500.3 2533.6,1501.8 2532.2,1502.6 2529.8,1501.9 2528.5,1502.1 2527.1,1502.5 2527.3,1504 2526.7,1505.3 2525.5,1505.1 2524.1,1506.1 2522,1507 2520.6,1508.7 2518.9,1508.3 2517.8,1509 2517.3,1510.5 2516.4,1512.1 2514.8,1512.5 2512.5,1512.5 2511.2,1512.3 2510.4,1510.8 2508.5,1512.5 2507.6,1514.5 2506.2,1514.8 2506.4,1513 2506.8,1510.7 2507.1,1508.7 2507.9,1507 2509.3,1505.7 2510.3,1504.5 2509.8,1503.1 2511,1502.5 2512.9,1501.9 2513.5,1500.1 2514.7,1498.4 2514,1496.7 2512.4,1495.4 2511.4,1494.4 2509.6,1495 2510.7,1493.9 2512.7,1493.2 2514.9,1491.8 2516.4,1489.9 2518.5,1488.3 2520,1488.1 2521.7,1488.4 2524.2,1488.1 2524.9,1486.8 2526.7,1486.5 2527.7,1485.4 2528,1484.1 2528.4,1482.7 2529.5,1481.9 2529.5,1479.9 2531,1478.9 2529.8,1477 2530.1,1474.5 2528.4,1473.6 2529.4,1471.5 2529.5,1468.9 2529,1467.4 2529.4,1465.2 2529.5,1464.2 2529.4,1462.6 2529.2,1460.2 2528.3,1458.8 2528.2,1457.5 2528.9,1455.6 2528.9,1454.2 2529.4,1452.7ZM2494.2,1507 2495.7,1508.3 2497.3,1507.3 2498.5,1509.2 2499.7,1509.6 2501.1,1510.4 2499.6,1511.2 2499.4,1512.5 2497.7,1514 2498.4,1515.1 2498.6,1516.6 2497.4,1516.5 2495.9,1517.2 2493.8,1517.8 2492.4,1517.6 2489.8,1517.5 2488.7,1518.5 2488.2,1520.4 2486.9,1521.4 2486.6,1522.6 2485.7,1524 2483.6,1524.7 2481.7,1524.5 2479.4,1525.5 2478.7,1527.4 2477.1,1527.4 2475.6,1527.1 2475.2,1528.4 2475.2,1529.9 2473.9,1531 2473.7,1532.6 2472.2,1533.7 2470.4,1533.5 2468.1,1534.6 2466.7,1535.7 2465.7,1537.1 2463.3,1537.1 2462.1,1538.2 2461.8,1539.4 2460.6,1540.6 2459.5,1541.1 2458.3,1542.3 2456.8,1542 2454.7,1542.1 2453.4,1542.5 2452.6,1544.9 2450.8,1545.2 2449.8,1546.2 2448.7,1547.4 2447.5,1548.9 2446,1549.3 2444.2,1550 2442.2,1551.3 2440.3,1551.7 2439,1552 2437.9,1553.1 2437.7,1554.4 2436.7,1556.1 2435.4,1556.4 2433.7,1556.4 2432.2,1556.7 2430.9,1557.3 2428.9,1557.5 2427.6,1558.2 2425.9,1558.4 2426.3,1560.5 2424,1560.7 2422.5,1561.1 2420.8,1560.9 2419.7,1560.6 2417.4,1559.9 2416,1558.8 2414.6,1558.1 2412.2,1558.3 2410.5,1556.7 2408.8,1556.5 2410.3,1555.2 2411.1,1553.3 2412.8,1553.5 2413.3,1551.6 2414,1549.7 2415.4,1548.9 2415.8,1547.5 2417.2,1546.9 2418.3,1546.6 2419.8,1546.1 2421,1546.4 2421.5,1544.4 2423.2,1544.6 2424.2,1544.5 2425.6,1543.1 2426.1,1540.8 2426.8,1538.9 2429.1,1538.8 2431.3,1539.1 2433.1,1538.8 2434.5,1539.4 2435.8,1537.9 2438.3,1537.6 2439.7,1536.9 2440.9,1536.5 2442.6,1535.3 2442.9,1533.4 2444.8,1532.3 2446.4,1532.6 2448.2,1532.3 2450,1530.5 2451.7,1528.6 2453.1,1527.9 2455.5,1527.3 2457.3,1527.1 2458.4,1525.7 2459.6,1523.8 2460.6,1522.6 2461.6,1521.7 2463.5,1522.9 2464.4,1522.2 2465.7,1521.5 2467.1,1520.5 2468.3,1519.6 2470.3,1518.9 2471.7,1518 2472.8,1517.4 2475.1,1516.5 2475.9,1514.5 2477.4,1513.3 2478.6,1513.8 2480.5,1512.6 2482.3,1512.1 2484,1511.8 2485.7,1512.5 2487.2,1512.4 2488.4,1512.7 2489.7,1511.5 2490.9,1509.4 2492,1507.8Z"/>
<path class="g" d="M2511.3,1315.7 2513.6,1315.8 2515.7,1317.1 2515.3,1319.6 2516.5,1320.3 2518.1,1320.8 2518.7,1323 2519.7,1324.1 2520.9,1325.5 2522.5,1325.7 2523.3,1327.3 2525.2,1327.7 2526.7,1329.3 2526.7,1331.2 2528.4,1332.1 2527.5,1334 2527.3,1335.3 2526.3,1336.3 2527.8,1336.9 2529.2,1336.8 2530.4,1337.2 2531.8,1337.9 2529.8,1338.2 2528.6,1337.8 2527.2,1337.7 2526.1,1336.5 2525,1334.5 2523.2,1335 2522,1333.8 2521.5,1332.5 2520.1,1331.6 2520,1329.8 2518.8,1328.1 2517.7,1326.8 2516.4,1325.9 2515.9,1324.5 2515.1,1323.7 2514,1322.2 2512.3,1321.2 2511.9,1319.9 2510.3,1318.2 2510.6,1317ZM2624,1293.5 2625.2,1292.3 2626.6,1292.1 2628.4,1292 2629.6,1290.9 2630.9,1290.7 2632.6,1291.9 2633.9,1293.8 2635.2,1295.1 2636,1296.2 2634.8,1297.8 2632.9,1297.4 2632.4,1298.9 2630.9,1299.6 2629.2,1300.3 2628.2,1298.8 2626.8,1296.9 2625.7,1295.2ZM2637.7,1284.9 2639.2,1285 2641,1283.8 2642.3,1282.4 2644.3,1281.7 2645.4,1282.4 2646.9,1283.3 2647.8,1282.1 2649.7,1281.5 2649.5,1282.8 2649.2,1284.9 2647.9,1286.6 2645.9,1286 2645,1284.5 2643.8,1285.1 2642.7,1285.7 2640.7,1284.7 2639.4,1285.5ZM2472,1194.4 2473.4,1194.8 2474.7,1194.9 2474.9,1196.9 2476.3,1196.4 2477.3,1195.7 2478.5,1196.5 2478.9,1197.8 2480.8,1199.1 2481.9,1200.3 2482.2,1201.3 2483.1,1202.6 2484,1204.7 2482.3,1204.7 2480.7,1206 2479.7,1204.7 2478.9,1204 2478.2,1202.7 2476.7,1202 2476.7,1200.1 2475.2,1199.7 2473.7,1198.9 2472.8,1198.3 2471.8,1197 2471.1,1195.6ZM2489.1,1201.2 2491.5,1201.2 2492.8,1201.6 2493.7,1202.9 2494.9,1205.2 2495.9,1206.4 2497.9,1207.8 2498.3,1210.3 2499,1211.6 2500,1213.2 2498.1,1212.1 2497.1,1210.9 2495.3,1211.5 2493.4,1210.5 2491.9,1209.6 2492.4,1208.2 2491.1,1206.4 2490.6,1205.3 2489.7,1203.8 2490.3,1202.5ZM2502.8,1216.6 2503.5,1218.3 2505.7,1218 2506.6,1219.2 2507.5,1220.2 2509.4,1221.3 2510.6,1222 2511.3,1223.4 2512.3,1225.1 2511.4,1226.4 2511.7,1227.9 2513.9,1228.5 2514.7,1230.3 2513.5,1228.7 2513.7,1227.3 2513.1,1225.9 2511.5,1225.8 2509.8,1225.3 2507.9,1226.9 2509.2,1225.6 2510,1223.8 2508.1,1223 2507.3,1221.7 2507.1,1220 2506.5,1218.3 2506.1,1216.2 2504.7,1216.8Z"/>
<path class="c1" d="M648.1,1538.9 648,1536.5 648.8,1534.2 651.1,1533.1 651.9,1536.1 651.7,1538.9 650.5,1539.2 649.8,1540.7ZM661,1584 659.5,1583.5 660,1581.9 661,1580.7 662.3,1581.5 662.7,1582.9 662.5,1584.5ZM680.3,1609.9 682.8,1610.8 682.8,1614.4 681.8,1616.7 680.9,1615.4 679.1,1616.1 679.5,1614.4 678.4,1613.2 676.1,1614.2 677.6,1613.4 678.7,1612ZM710.9,1633.1 709.5,1634.6 707.2,1635.2 706.8,1633.2 705,1632.3 706.4,1631 708.1,1631.3 709.2,1632.1ZM648.9,1516.1 648.5,1517.5 646.6,1517.7 646.3,1515.3 647.9,1514.5ZM656.3,1566.1 654.7,1565 654.1,1563.6 653.8,1562.1 655.3,1562.3 656.4,1562.2 658.2,1562.8 657.3,1564.6ZM676.8,1613.7 677.1,1612.7 679,1613.1 680.1,1614.5 678.4,1615.1ZM679.9,1615.4 681.7,1614.8 683.4,1615.8 684.5,1616.8 683.7,1618.5 682.5,1618.8 680.8,1618.2 680.9,1616.7ZM655.7,1566.3 656.5,1567.9 655,1567.9 653.6,1568.2 652.8,1566.4 653.8,1565.1 655.1,1565.4ZM714.6,1642.2 714.7,1640.8 714.9,1639.5 716.1,1639.3 717.5,1639.2 718.8,1640.8 717.8,1643.2 715.9,1643.1ZM659.2,1564.4 659.2,1566 657.6,1566 656.7,1564.8 656.5,1563.7 656.7,1562.4 658.1,1562 659.5,1563ZM657.7,1572.8 657.5,1574.1 656.4,1574.8 654.8,1574.8 654.4,1573.2 654.7,1571.7 655.9,1570.7 657.3,1571.5ZM661.7,1579.3 660.2,1578.9 658.9,1577.3 660.6,1576.8 661.5,1577.6ZM656.1,1564.8 655.4,1564.2 656.1,1563.6 656.7,1563.5 657.2,1563.8 657.5,1564.3 657.4,1565.1 656.6,1565ZM652.4,1559.6 651.5,1558.5 650.8,1556.6 652,1555.5 653.9,1556.1 654.8,1558 654.4,1559.4 653.6,1560.1ZM687.5,1621.6 689.8,1622.3 691.6,1623.7 690.3,1625.2 689.9,1626.9 688.4,1627.7 688.4,1625.4 686.9,1626.2 685.7,1625.4 685.8,1624 686.4,1622.8ZM702.7,1631.1 703.1,1632.6 702.1,1633.9 699.6,1633.5 697.9,1631.9 698.8,1630.6 700.6,1630.7ZM659.3,1574.8 661.7,1575.8 663.4,1578.2 663.6,1580.3 662.3,1581.2 659.9,1580.4 658.5,1578.6 657,1577.9 657.5,1575.7 656.4,1574.4 658.1,1574.3ZM661.2,1585.5 662.7,1586.2 664.4,1588.2 665.1,1592.1 663.4,1593.6 662.4,1592.8 661.2,1591.6 663.1,1590.9 663.4,1588.3 661.5,1588 659,1587.7 660.6,1587.5ZM650.3,1536.8 650.3,1535.1 648.3,1534.7 648,1532.8 648.4,1531.3 650.5,1531.4 651.7,1533.5 652.4,1536.6ZM658.5,1574.6 657.7,1573.1 658.8,1571.6 660,1570.9 661.2,1571.6 661.6,1573.3 660.5,1574.4 659.5,1575.8ZM680.7,1609.1 683.2,1611.3 683.2,1614.3 680.4,1614.7 680.7,1612.7 679.6,1611.2 678.3,1612 676.8,1612.9 676,1611.6 676.9,1609.7 677.8,1607.4ZM731.4,1641.3 735.4,1640.3 738.8,1643.7 737.7,1645 737.8,1646.8 735.4,1647.1 734.6,1646.1 732.9,1645.4 732.9,1642.9ZM730.6,1641.1 732.2,1644.1 730,1644.1 728.6,1645.6 726.6,1645.2 726.7,1643.5 725.8,1642.5 727.8,1640.6ZM651.2,1554.2 653,1552.8 654.5,1551.4 655.8,1554 657.7,1557 655.9,1558.9 654,1560.4 652.3,1560 652,1557.7 651.9,1555.8ZM664.1,1590.4 663,1589.2 662.8,1587.7 663.9,1586.5 665.3,1588.2 665.5,1590.1ZM653.3,1551.9 651.3,1551.1 652,1549.1 653.5,1548.7 654.6,1550.2ZM648.5,1519.2 650,1519.3 652.2,1519.8 653.3,1522.6 651.7,1524.6 649.2,1525 647.8,1524.4 647.6,1522.6 646.9,1521.3 646.5,1520.1Z"/>
<path class="c2" d="M311.6,662.6 311.2,661.6 311.5,660.4 312.5,660.8 313.1,661.6 313.1,662.6 312.4,663.4ZM305.3,652.7 305.2,650.8 306,649.4 307.4,648.4 308.1,650.3 308.5,652.4 307.3,653.5 306,654.6ZM305.9,659.3 306.7,657.1 308.5,657.4 310.3,657.1 311,658.5 311.5,659.6 311.4,662.1 309.3,661.6 307.4,661.7ZM303.9,633.7 303.5,635.5 302,636.9 300.8,635.1 302.2,633.1 303.6,631.4ZM317.3,671.2 318.4,672 319.5,672.8 318.3,673.9 317,674.1 316.2,672.9 314.7,672.1 315.8,670.8ZM305,641.4 304,643.3 305.5,644.8 305.2,642.8 302.8,643.1 302.1,641.9 300.4,641.7 301.6,639.5 303.6,639.2ZM311.8,661.3 309.4,660.7 309,659.1 309.3,657.2 309.7,655.9 311.1,654.5 312,655.6 312.4,657.5 311.7,659.1ZM305.8,633.2 306.6,634.3 308.3,634.8 307.5,636.6 306.9,638.3 304.8,639.2 304.5,636.7 304,638.7 302,637.9 302.7,636.3 302.1,635.3 303.2,633.8ZM304.2,645.3 304.3,643.7 305.3,642.3 306.7,643.9 308,646 306.5,647.3 305,646.9ZM307.6,638.6 308.7,638.5 309.2,639.9 309.9,641.2 308.9,641.9 308,641.5 307,641.2 306.7,639.6ZM307.7,636.5 307.3,638.2 305.5,639.9 303.8,637.6 303.8,636.2 303.9,634.6 305,634 306.7,634.2ZM300.5,631.2 301.7,629.8 303.9,629.4 305,631.4 304.7,633.7 302.8,634.6 301.1,634.6 299.7,633.1ZM313.5,651.7 313.2,653.5 311.7,654 310.6,654 309.3,653.2 309.1,651.3 310.5,649.9 312.4,650.2ZM303.1,662.5 304.1,660.4 305.7,660.8 307.4,660.7 307.8,662.5 307,664.4 305.6,665.1 304.7,666.3 304.6,664.3ZM301.7,649 304.1,649.2 305.9,649.2 307.4,651.3 307.3,653.4 306.2,654.9 303.7,654.4 302,653.7 302.1,651.7 303.4,649.9Z"/>
<path class="c3" d="M293.5,596.6 294.5,597.7 294.9,598.6 295.1,600.2 293.6,600.2 292.1,600.1 292,598.6 292.3,597.4ZM294.2,594.5 293.6,596.7 291.8,597.4 290.4,596.7 288.2,596 289.1,593.9 290.6,592.2 292.9,592.4ZM298.8,621.2 298.2,622.3 296.9,621.5 295.6,620.4 295.7,618.8 297,617.9 298.5,619 299.9,620.2ZM300.7,615.7 298.7,616.7 298.9,615 297.2,613.6 298,611.3 299.3,609.6 300.8,610.7 302.2,610 301.2,612.3ZM306.1,625.7 307,627.9 305.4,628.3 305.3,629.9 303.2,628.8 303,626.2 304.6,625.1ZM311.1,624.3 312,626 310.3,626 308.3,626 306.7,624.1 307.6,622.7 308.6,621.4 310.5,623ZM291.3,593 290.1,593.4 289.6,592.1 289.7,591.1 290.6,591.2 291.7,591.7ZM293.9,604.2 293.1,606.1 294.3,607 292.4,607.6 291.3,606 291,604.2 291.9,603ZM298.8,611.9 298,611.6 297.2,611.4 297.1,610.5 297.4,609.9 298.1,609.3 298.9,610.2 298.9,611ZM299.9,612.3 298.2,611.9 296.5,612.1 296.2,610 294.4,608.9 296.2,606.6 297.7,608.4 299.3,608.4 299.9,610ZM302.2,614.8 300.2,614.3 300.4,612.3 301.9,611.6 303.4,613ZM305.1,611.6 304.8,613.3 306,614.7 307,615.7 307.1,617.4 304.8,617 302.7,616 302.2,613.6 302.4,611.2 304,611.1ZM287.7,592 287.5,593.8 285.5,592.9 284.7,590.6 285.4,589.1 287.4,589.6ZM296.8,610.3 295.4,610.3 294.8,609 295,607.7 295.9,607 297.3,606.9 298,608.3 297.2,609.3ZM296,604.1 297.7,605.4 298,606.8 298.2,608.8 296.5,610.2 295.3,611.9 294,610.7 292.7,610.2 292.3,608.4 293.6,607.1 293.8,605.5 295.2,605.4ZM289.8,599.8 287.9,598.9 288.6,596.6 290.6,596.6 291.9,598.9ZM302.4,613.6 303.3,614.8 302,615 301.1,615.1 300.3,614.4 299.6,613.1 300.9,612.9 302,612.2ZM296.2,609.7 296,608.1 297,606.6 298.8,607.7 299.3,610.1 297.9,610.9 296.9,610.8ZM299.7,607.4 300,605.3 301.7,604.9 303.2,605.8 304.3,607.3 303.8,608.7 302.9,610.2 300.8,609.6ZM299.4,601.3 300.5,602 301.7,602.7 300.9,603.9 300.3,605 299.1,604.3 299.1,602.7ZM307.1,627.2 307.9,627.7 308.2,628.8 307.2,629.5 306.4,628.7 306,627.6ZM306.6,623.6 304.5,623 304,621.4 303.9,620.1 305.1,618.4 306.3,619.2 307,620.3 306,621.5Z"/>
<path class="c2" d="M1258.8,547.5 1259.3,549.5 1257.4,549.9 1256.1,549.8 1256.4,547.9 1257.8,546.2ZM1345.3,493.4 1347.3,493.7 1346.9,495.6 1344,497.4 1339.6,495.5 1340.5,493.6 1340.8,492.3 1340.8,493.9 1342.5,495 1343.1,496.2 1342.2,497.8 1340.5,496.2 1340.4,494.9 1341.5,493.8 1343.3,494.9ZM1351.9,493.2 1351.1,491.7 1353.1,490.6 1355.1,491.1 1355.7,492.3 1356.1,493.8 1354,494.6 1351.8,494.9ZM1368.1,491.7 1370.3,492.4 1369.3,493.7 1367.5,494.1 1365.7,493.6 1366.4,492.5ZM1359.3,492.3 1360.6,492.6 1361.2,493.6 1360.5,494.1 1359.4,494.3 1359,493.1ZM1260.4,549.3 1259.7,548.1 1260.2,547 1261.2,546.1 1262.5,546.8 1261.8,548.4ZM1355.2,491.7 1356.2,493.6 1354.9,494.7 1353.1,495.8 1351.5,494.3 1350.3,492.9 1352.3,492.2 1354,492.1ZM1334.3,496 1333.3,495.1 1333.8,494.2 1335,493.7 1335.1,495ZM1352,493.8 1352.9,493 1353.6,492.7 1354.6,492.7 1355.1,493.6 1355,494.5 1354.1,495.4 1352.8,494.8ZM1268.8,539.4 1268.7,538.3 1269.8,538.4 1270.2,539.1 1269.7,540.2ZM1353.3,495.8 1351.1,494.9 1351.8,492.8 1354.1,492.5 1355.5,493.4 1355.5,495.2ZM1337.3,495.8 1336,495.1 1335.7,493.9 1337.7,493.3 1338.6,494.7ZM1254.3,549.7 1255.9,550.4 1257.1,551.2 1257,553.6 1254.5,554.7 1252.5,554 1253.1,551.6ZM1255.1,553 1254.2,554 1253.9,553.2 1253,552.8 1254.2,551.8 1255,551.4 1255.6,551.5 1256.3,552ZM1249.6,556.8 1249.8,555.4 1251,554.1 1252.6,553.9 1252.2,555.7 1251.6,556.9 1250,558.2ZM1254.4,549.7 1255.2,550.3 1254.6,551.2 1253.7,551.4 1252.9,551.1 1252.8,550.2 1253.5,549.5ZM1262.7,546.5 1261,547.7 1259.3,547 1259.8,545.3 1260.6,544.1 1261.8,544.4 1263.1,544.9ZM1239.7,562.9 1237.8,563.4 1238.2,565.1 1237.4,567.1 1235,567.3 1235.6,565.6 1236.2,563.5 1237,561.7 1237.6,560 1239,560.3 1240.4,559.8 1238.9,560.8ZM1254.4,553.6 1252.6,552.7 1253.5,550.6 1254.9,550.8 1255.8,549.4 1257.9,548.6 1259.8,549.2 1259.3,551.1 1257,552.5ZM1317.7,499.3 1316.6,499.3 1316.2,498.3 1317.6,497.2 1319,497.1 1320.2,497.7 1319,499.1ZM563.8,440.7 564,438.9 562.2,438.2 559.9,439.4 561.2,438.9 561.9,437.4 563.1,435.4 565.5,435.4 566.4,436.9 567.9,438.5 569.4,439.2 570.7,441.2 568.8,440.5 568.2,439.2 566.7,441.3 565,441ZM640.5,464.9 639.8,463.5 640.2,462.1 641.5,460.9 642.8,462.1 642.9,463.5 642.1,464.8ZM714.6,424.1 715.2,426.4 713.7,428.5 712.9,430.5 711.3,429.8 709.7,430 708.6,429.9 704.5,426.8 706,425.6 707.4,425.3 708.5,423.9 709.4,423.2 711.7,424.2 712.9,424.7ZM714.9,443.7 717.3,443.7 719.5,442.7 719.5,445.2 719.2,447.4 717.9,449.5 716.3,450.6 714.8,450.9 714.3,452.5 713.2,450.8 711.8,451.6 710.6,450.9 710.5,448.9 708.4,448.6 710,444.6 710.9,443.9 712.7,444ZM720.6,451.7 718.8,451.2 717.6,450.2 719.1,449.3 719.5,448 721.2,447 723,448.7 725.2,449.1 726.5,450 727.2,451.7 727.3,453.2 725.6,454.1 723.6,455.3 722.2,454.5 722.9,452.6ZM731.9,451.2 733.5,450.9 734.9,451.1 735.6,452.9 735.2,454.5 732.4,455.4 729.7,454.2 730.2,452.4ZM603.3,441.7 603.8,440.4 604,438.4 602,438 600.6,437.9 602,436.9 603.3,435.2 605.6,436.1 607.6,435.4 608.6,436.6 610.7,437.2 612.6,438.9 612.7,440.1 612.5,441.5 613,443.2 612.7,444.9 607.6,444.9 605.5,443.6 604.2,442.3ZM646.7,452.8 648.3,452 649.7,452.3 650,453.6 648.3,454.5 646.8,454.2ZM548,448.6 549.6,448.1 550.1,446.4 551.3,446.7 552.9,447.2 552.7,448.3 551.9,449.7 550.6,451.4 548.6,450.2ZM551.5,466.4 549.6,466.4 548.8,467.7 547.2,467.6 546.4,466.7 546.9,465 549,463.9 550.9,464.4ZM600.7,445.5 599.1,445.8 598.5,445 598.8,443.9 600.4,443.2 602.2,443 602.1,444.1 602.4,445.1ZM703.3,430.3 704.8,430 706.1,429.1 709.7,429.8 710.6,431.7 710.4,433.5 709.4,434.6 707.5,434.5 706.1,434.4 703.9,434.1 703.1,432.1ZM691.2,427.6 692.5,427.3 693.6,427.9 692.6,428.9 691.8,429.5 690.3,430.1 689.6,429.1 690,428.1ZM665,434 664.6,432.9 665.7,431.7 666.9,432.5 668.5,433.4 667.3,434.8 665.7,435.1ZM702,504.7 702.9,506.7 700.6,507.7 699.1,508.2 697.7,508.8 696.1,508 694.8,506.7 696,506.4 696.9,505 699.8,503.1ZM624,508.1 623.2,505.7 623.2,503.9 624.7,503.2 626.2,503.7 627.7,504.1 629.1,504.3 631,506 631.2,508.1 630,508.6 628,509.2 625.6,509ZM656.2,501.4 658.3,501.8 658.6,502.9 657.1,504.3 655.3,503.4ZM620,483.2 620,484.7 621.1,485.8 620.6,487.8 619.3,488.5 617.2,487.7 615.7,487 615.1,485.7 616.2,484.1 618.4,483.1ZM623.1,495.8 622.4,494.5 620.6,493.7 621.8,493 622.4,491.8 624.6,492.5 625.6,493.4 626.4,494.8 625.3,496.3ZM685.1,507.5 683.4,507.9 683.1,506.6 684,505 685.6,504.7 686.7,504.8 687.7,505.5 686.3,506.7ZM688,514.4 689.5,513.6 690.8,513.2 691.6,515.3 692.2,518.4 688.3,518.6 684.3,519.7 683.5,518.3 683.9,516.1 686.4,516ZM694.2,515.4 691.7,515.3 690.4,513.9 691.5,513.1 693.4,512.9 694.7,513.6ZM619,514 619.9,512.3 620.8,511 621.7,511.8 623.2,512.4 625.5,512.4 626.6,513.7 627.6,514.6 628.4,515.6 627.1,516.8 625.2,517.1 623.3,516.8 622.3,516.1 621.7,514.1 620.3,513.1ZM708.2,530.8 710,531.8 710.8,533.2 710,534.9 708.1,534.1 707.1,532.6ZM703.1,551.4 701,552.1 699.8,550 700.7,548.1 703.2,548.3 704.6,550.1ZM734.4,532.3 732.6,531.6 731,532.2 730.7,529.7 731.8,528.1 732.9,526.8 733,528.1 732.8,529.6 734.9,530.3 735.8,528.7 737.1,527.6 737.3,526.6 738.3,529 738.7,530.4 738.8,531.9 737,530.8 735.9,532.6ZM711.6,530.3 710.3,528.9 710.1,526.9 708.5,527 709.5,524.9 711.4,524.9 713.6,524.9 716.1,524.9 714.6,526 715,527.4 714.2,529.8 712.5,528.9ZM699.4,562.3 699.1,564.5 696.6,564.6 695.9,562.5 696.1,560.6 697.3,560.2 698.3,560.9ZM655.1,552.4 657,552.6 658,554.8 658,557.4 655.5,556.9 654,556.5 651.9,555.9 650.3,554 651.3,551.9ZM718.6,537.2 718.4,539.4 716.9,539.4 715.3,539.4 714.1,537.3 712.1,538.7 713.3,537.6 714.9,536.6 715.7,534.8 718.1,535ZM627,523.6 626.2,521.7 626.4,520.1 628,519.2 630.1,519.8 630,521.8 629.3,523.7ZM699.5,546.8 697.8,548.5 695.4,548 693.5,547.1 693.6,545.5 694.8,544.7 696.3,545.3 697.4,546.6 697.4,547.9ZM711.1,549 710.7,546.9 712.1,545.9 712,544.6 713.3,543.4 714.8,543.6 715.5,545.5 715.7,547.2 715.1,548.3 713.8,549.2 712.3,550.1ZM809.5,515.7 809.7,514.8 810.6,515.2 811.7,516 812.1,517.5 810.8,517.2 809.7,516.9ZM814.9,513.4 815.1,514.7 816.2,515.9 814,516.5 812.5,516.1 811.5,514.7 810.3,512.9 810.9,511.4 809.7,510.2 811.7,510.6 812.9,511.8ZM806.7,549.8 804.5,550.8 803.7,552.4 800.4,550 800.8,547.9 801.9,546.2 803.7,546.2 805.9,546.1 806.9,547.4ZM804.1,548.7 802,549.5 802.8,551.1 803,552.1 801.6,551.1 799.9,551.9 800.8,552.8 801,554.5 799.7,553.2 798.3,554.3 796.9,551.8 798.4,551 799.4,550.3 800.4,549.3 802.3,550.2ZM811.1,545.5 809.7,546.3 809,547.3 807.2,547.9 805.8,547.1 806.3,546 806.3,544 809.4,541.6 811.6,542.6 812.4,543.5 813.4,544.7ZM794.1,614 794.5,612.4 796.1,613.6 796.3,615.5 795,615.2ZM790.9,594.9 789,596.3 788.9,594.6 789.7,593 788.1,593.7 786.9,593.2 788.2,592.1 787.2,590.4 789.5,589.9 789.3,591.5 790.1,592.7ZM797,620.2 796.7,621.3 796.2,622.2 795.3,621.5 794.8,620.9 795,619.9 796.1,619.5ZM794.4,620.2 793.8,618.7 793.6,616.4 795.5,616 796.6,617.7 797,619.6 795.5,620.1ZM787.8,591.7 787.9,590.3 789.4,590.7 789.8,592.5 788.6,593.1ZM797.3,621.7 798.1,622 798.5,622.7 798.2,623.4 797.6,623.6 796.9,623.5 796.4,622.9 796.5,622ZM797.9,620.6 799.7,620.3 801.5,621.8 800.9,623.3 800.4,624.2 799,624.7 797.5,623.5 798.9,622.1ZM802.2,621.6 801,621.2 800.2,620.1 801.1,619.8 801.9,620 802.6,620.8Z"/>
<path class="g" d="M895.1,512.5 895.2,510.1 895.8,508.2 897.6,508.6 899.6,509.8 897.7,512.1ZM897.6,504.2 896.3,504.2 895.3,503.8 896,502.8 897.3,502.5 898.2,503.1ZM896.3,506.5 897.8,506.5 899.3,506.6 899.6,508.9 898.4,511.4 894.7,511.5 894.7,510.1 895,508.6ZM891.7,514.5 891.2,512.9 891.5,511.5 892.2,509.8 893.5,509.3 894.7,510.1 895.1,511.9 893.7,513.6ZM885.7,560.6 885.2,562 883.8,560.9 883.9,559.5 885.1,559.2ZM898.7,506.5 897.9,507.4 896.1,507.6 895.7,505.8 896.3,504.4 898.2,503.4 899.5,503 900.7,504.2 899.3,504.7ZM884.1,572.2 883.9,570.3 882.4,568.4 883.3,567.1 882.9,565.3 884.5,564.2 884.5,562.4 884.2,564.5 885.9,565.9 886.5,569.5 884.4,570.1ZM875.3,547.1 876.7,547.1 878.1,546.9 878.2,548.3 878.4,549.6 877.2,550.4 875.5,550.2 875.4,548.6ZM899.3,504.7 901.3,503.9 901.2,501.7 903.1,501.1 904.6,503.3 904.5,507.4 901.9,506.7ZM1081,488.9 1080.9,490.2 1079.6,490.1 1078.7,489.7 1078.4,488.7 1079.2,487.9 1080.2,487.1 1081.2,487.7ZM1090.2,486.1 1091,486.4 1091.2,487.5 1089.4,488.2 1087.6,488.5 1088.1,487.1 1089.2,486.3ZM1104.1,465.1 1103.3,464.2 1104,462.5 1105.1,462.9 1105.7,463.8 1105.1,465.3ZM1099.3,464.5 1101.1,463.9 1101.4,462.2 1103.7,461.8 1103.6,464 1102.4,465.7 1100.8,465.9ZM1089.8,479.9 1091.7,479.5 1094.1,479.4 1092.9,481.6 1091.9,483.2 1089.7,484.4 1087.4,484 1087.8,481.6ZM1104.7,463.6 1104.5,464.8 1103.6,466.1 1102.1,466.8 1101.8,465.8 1101.7,464.8 1102.6,463.5 1104,462.9ZM1057.3,506.9 1058.5,506.6 1059.8,506.5 1059.7,507.5 1058.9,508.1 1057.9,508.4 1057.4,507.8ZM1057.5,508.2 1057.3,509.1 1056,509.8 1054.3,509.6 1053.1,508.7 1053.8,507.6 1055.3,507.3 1057.1,507.2ZM1095.3,462.1 1096.7,461 1098,461.9 1099.1,464 1097.9,465.1 1096.4,465.2 1093.8,465.9 1092,465.5 1092.8,462.9ZM1104.7,462 1105.5,464 1104.1,465.6 1103.1,466.7 1102.5,467.8 1101.5,465.6 1101.8,463.3 1103.1,461.1Z"/>
<path class="c3" d="M60.4,639 60.7,636.6 62.3,636.3 63.6,635.7 65.1,637 63.6,638.9 61.8,639.6ZM81.2,637.5 81.6,636 83.8,635.6 84.9,636.5 83.8,637.8ZM65.2,634.4 67.2,634.6 67.8,636.4 65.5,635.3 64.8,637.6 63.3,637.4 62.2,636.6 61.9,634.8 63.7,635.5ZM34.3,649.6 35.9,648.3 37.5,648 38.8,648.4 38.7,649.7 37.9,651.3 36.2,651.1 35.3,650.6ZM5,654.3 4.9,653.3 5.9,653 7.1,653 6.9,654.1 7.3,655.2 6.2,655.9 5.1,655.4ZM35.4,645.6 35.2,644.4 35.9,643.4 37.3,643.1 39,643.5 38.5,644.9 37.9,645.8 36.7,646.1ZM161.9,612.2 165.1,611.8 166.5,612.7 167,614.7 165.4,615.4 163.3,615.7 162.3,614ZM145.4,617.6 147.6,618.7 148.6,620.3 148.5,621.9 147,623 144.6,623.7 143,622.9 141.6,624.1 140.3,624.1 138.6,623.6 139.9,622.6 140.1,620.9 141.6,620.4 143.2,620.8ZM160.4,615.6 162.4,615.8 164.2,616.3 164.5,617.7 162.8,618.5 161.1,618.8 159.4,618.1 158.5,616.6ZM191,603.1 189.3,603.7 188.2,602.8 188.5,601.5 189.4,600.3 190.8,600.7 191.4,601.7ZM249.2,583.5 250.7,583.5 252.2,583.8 253.5,585 252,585.4 250.9,585.8 250.1,584.6ZM209.6,591.7 208.6,591.8 207.6,591.4 208,590.3 209.3,590 209.7,590.9ZM137.7,623.8 139.7,624.5 140.7,622.6 141.8,623.9 141.3,626 139.2,625.5 138.8,623 138.3,625 140.5,625.1 139.8,626.4 138.1,626.7ZM132.7,625.2 132.2,624.4 132.9,623.7 134.8,623.9 134,625.1ZM247.8,588.9 246,588.9 245.2,587.4 245.7,585.4 246.2,584.3 247.5,583.8 249.4,585.1 250.2,587 249.2,587.9ZM150.7,619.4 149,621 147.6,619.9 145.4,619.1 147.5,617.3 149.2,616.6 151.5,616 151.7,617.8ZM251.7,582.5 250.1,581.1 248.9,580.6 251.1,579.7 252.4,578.1 253.9,579.8 253.5,581.9ZM137.5,627.1 136.1,628.1 133.9,627.7 133.5,626.6 132,625.9 132.6,624.2 134,624.3 135.4,625.6 137.3,625Z"/>
<path class="c1" d="M1383.1,778.1 1382.9,777 1384,777.2 1384.6,777.9 1384.8,778.6 1384.6,779.5 1383.7,778.7ZM1389,778.8 1388.8,779.8 1388.1,780.3 1386.9,780 1385.6,779.5 1385.6,778.6 1386.6,778.2 1387.8,778.2ZM1389.6,774 1390.1,773.4 1391.3,773.8 1392.9,774.4 1392,775.1 1391,775.6 1389.9,774.8ZM1398.8,775.7 1399.9,776.1 1400.5,776.6 1400.4,777.6 1399.5,778.5 1398.4,778.5 1397.7,777.9 1398,776.8ZM1395.5,771.1 1395.1,772.5 1393.4,771.8 1392.4,771.1 1392.3,770.1 1392.5,768.9 1393.9,769 1394.8,770ZM1384.3,778.8 1383.5,777.6 1384.4,777.2 1385.4,776.8 1386,778.1 1385.5,779ZM1383.9,769.7 1384.5,769.4 1385.3,769.1 1385.8,770 1385.7,770.8 1385.6,771.8 1384.7,771.3 1384.3,770.6ZM1382.9,761.5 1382.7,760.6 1383,759.9 1383.9,759.5 1385,759.9 1384.8,760.8 1385,761.6 1384,761.4ZM1380.4,764.8 1380.6,765.8 1379.7,765.9 1379,765.4 1379.4,764.4ZM1400.7,780.5 1402,779.6 1402.1,780.6 1402.3,781.6 1400.9,782.4 1399.6,782.1 1399.4,781ZM1401.7,777.4 1400.3,777.6 1398.5,777 1398.2,775.8 1398.5,774.9 1400.2,775.4 1401.7,776.2ZM1383,763.2 1382.6,761.2 1383.4,760.6 1384.4,760.3 1385.3,761.8 1386.3,763.4 1385.9,764.9 1384.5,764.4ZM1389.3,785.3 1387.4,784.4 1387,782.8 1387.6,784.5 1389.1,784.2 1390.3,782 1391.7,783.7 1391.3,785.3ZM1387.9,792.9 1386.8,793.4 1386.3,792.5 1386.9,791.6 1388,791.9ZM1387.1,793.9 1388.1,792.7 1389.6,792.7 1390.4,793.3 1390,794.2 1389.2,794.6 1388.4,794.5ZM1396.4,771.7 1395.6,770.6 1396.1,769.4 1397.1,769.8 1398.1,770.5 1397.6,771.7ZM1392.2,777.5 1394,778.2 1393.1,780.2 1390.7,780.3 1390.1,779.2 1390.4,777.9ZM1393.8,784.8 1392.8,784.7 1392.8,783.9 1393,783 1394,783.5 1394.6,784.3ZM1388.4,800.8 1390.3,799.3 1392.2,799.5 1392.6,800.5 1391.9,801.8 1389.5,802.5ZM1408.1,790.6 1407.4,788.8 1407.9,787.2 1409.7,787.6 1410,789.2ZM1387.5,781.3 1385.6,780.3 1386.2,779.2 1387,777.9 1389.2,778 1388.9,779.9ZM1405.5,786.3 1407.2,786 1408.5,786.3 1409.1,787.1 1408.4,788.1 1407.2,789.4 1406.1,788.3 1405.4,787.5ZM1398.4,793.4 1398.6,792.4 1399.5,792.4 1400.1,792.5 1400.1,793.2 1399.7,793.8 1399.1,793.7ZM1386.2,757.4 1387.2,757.8 1387.7,758.5 1387.3,759 1386.9,759.3 1386.1,759.3 1385.8,758.6 1385.4,757.7ZM1399.4,785.4 1399.3,786.5 1398.2,787.4 1396.9,786.4 1396.2,785.4 1396.8,784.3 1398.3,784.9ZM1315.1,723.5 1314.5,725.2 1313,724.6 1312.2,723.1 1313.8,722.8ZM1322.1,730.4 1322.4,729.8 1322.8,729.6 1323.2,730 1323.7,730.6 1323.3,731.1 1322.7,730.9ZM1307.9,720.2 1307.8,721.1 1306.7,720.9 1306.5,719.9 1306.5,719.2 1307.2,719 1308.2,719.3ZM1307.6,720.7 1307.5,719.7 1307.6,718.8 1309,718.9 1310.9,719.4 1310.8,720.8 1309.2,721.3ZM1319.7,730.4 1319.8,729.5 1320.6,728.8 1321.6,729.5 1322,730.5 1321.9,731.7 1320.7,731.7 1319.6,731.5ZM1303.3,718.2 1303.5,718.9 1302.9,719 1302.4,718.9 1301.8,718.5 1301.7,717.8 1302.2,717.7 1302.8,717.7ZM1339,739.9 1340.5,740.1 1340.7,741 1339.6,741.6 1338.8,740.8ZM1307.8,722.4 1307.8,721.9 1307.8,721.6 1308,721 1308.7,721.2 1308.8,721.8 1308.7,722.2 1308.3,722.3ZM1312.2,723.1 1312.8,722 1314.1,723.1 1314.7,724.5 1312.8,724.3ZM1313.6,725.6 1314,724.7 1315.1,725.2 1316.2,725.8 1315.8,726.8 1315,727.2 1313.8,726.9Z"/>
<path class="g" d="M597.8,907.3 597,907.1 596.4,906.2 595.9,904.7 596.7,904 597.8,904.1 598.5,905.6 598.1,906.6ZM589.2,899.3 589.2,900 588.5,900.1 588.1,899.7 588.2,899.1 588.7,898.9ZM624,926.9 623,928 621.6,927.7 621.3,926.4 622.1,925.7 623,925.9ZM594.9,901.6 596,902 595.9,902.7 595.7,903.2 594.7,903 593.8,902.6 593.7,901.9 594.3,901.8ZM590.8,890.8 589.6,891.2 588,890.9 587.1,889.8 587.8,888.9 589.5,888.7 590.2,889.8ZM592.6,907.8 591.3,908.1 590.9,906.5 589.7,905.8 590.4,904.1 592.1,905.3 593.5,906.9ZM597.4,895.8 597,896.2 596.4,896.4 595.9,895.8 596.4,895.2 597,895.4ZM583.8,884.8 582.8,884.7 581.6,884.2 580.8,882.9 582.2,882.5 583.5,881.9 585,883 584.8,884.3ZM595.5,893.1 595.8,894.4 594.5,894.8 593.2,893.8 593.3,892.7 594.4,891.4ZM593.6,904 592.7,903.1 592.7,901.8 594,901.9 595,901.6 595.2,902.7 595.1,903.4 594.6,904.2ZM618.7,926.5 619.9,927.8 619.1,929.2 617.1,928.2 617.3,926.7ZM595.8,909.8 595.9,908.8 597.2,909.3 598,910.2 596.9,910.6ZM702.2,995.2 701.1,993.7 702.2,992.8 703.3,992.1 704.1,993.7 704.5,995.6 703.3,996.5ZM706.7,1003.8 705.2,1002.8 703.8,1001.6 704.3,1000.2 705.8,1000 706.5,1002ZM701.7,994.5 702.5,993.9 703.7,994.5 704.3,996 704.1,997.2 703.1,997 702.1,996ZM703.9,999.1 702.4,997.9 701.7,996 702.9,994.5 704.2,996.7ZM702,981.1 701.2,982.6 700.2,982.8 699.4,981.7 699.8,980.4 700.7,980.3ZM704.6,996.9 704.5,998.1 703.4,998 703.2,996.6 703.9,996.3ZM700.6,1023.9 701,1024.3 700.7,1025 700.1,1025.5 699.7,1025.2 700,1024.6ZM691.1,975.1 692.5,975.9 692,976.8 690.3,976.7 689.1,975.9 689.3,975.2 690.1,974.9ZM709.6,1000 709.9,1001 709.7,1002 708.7,1001.8 708,1001.5 707.9,1000.6 708.7,1000.3ZM705.5,989.3 704.4,989.1 703.9,987.7 703.5,986 704.9,986 705.4,987.8ZM705.3,1026.4 705,1025.7 705.7,1024.9 706.6,1024.9 706.6,1025.8 706.2,1026.6ZM706.4,1007 706.1,1007.6 705.4,1007.6 705,1007 704.1,1006.2 704.8,1005.7 705.4,1005.6 705.9,1006.2Z"/>
<path class="c1" d="M1791.6,1046.5 1790.8,1046.5 1790.9,1045.6 1791.2,1044.8 1791.8,1045.4 1792.2,1046ZM1797.8,1110.2 1797,1108.7 1797.8,1107.4 1799.3,1107.9 1799.7,1109.5 1799.1,1110.8ZM1793.8,1053.5 1794.3,1054.2 1794.2,1055 1793.8,1055.5 1793.4,1055.9 1792.7,1055.6 1793,1054.6 1793.1,1053.8ZM1797,1095.6 1797.1,1094.8 1797.2,1094.3 1797.5,1093.7 1798.1,1094 1798.3,1094.8 1798.1,1095.5 1797.6,1095.7ZM1795.9,1078.9 1795.9,1080 1795.3,1080.8 1794.3,1080.4 1794.2,1079.2 1795,1078.7ZM1800.3,1132.5 1801,1133.3 1800.6,1134.4 1799.4,1134.4 1799.5,1133.2ZM1792.1,1061.6 1792.8,1062.2 1793.1,1063.3 1792.5,1064.2 1791.7,1064.1 1791.4,1062.8ZM1790,1028.1 1789.1,1026.9 1789.5,1025.4 1791,1025.3 1791.4,1027.2ZM1796.6,1118.3 1795.9,1118.3 1795.8,1117.4 1796.5,1116.8 1797.2,1117.2 1797.3,1118.1ZM1793.1,1083.8 1792.9,1082.3 1793.7,1082.5 1794.2,1083.4 1793.7,1084.3ZM1791.4,1034.7 1792.2,1034.2 1792.6,1035.4 1792.9,1036.5 1792,1036.7 1791.6,1035.7ZM1793.5,1053.4 1794,1052.8 1794.3,1053.7 1794.2,1054.6 1793.4,1054.9 1793.1,1054Z"/>
<path class="c2" d="M1957,1046.9 1957.9,1046.9 1958.1,1048 1957.5,1048.9 1956.5,1048.8 1956.4,1047.7ZM1955.2,1023.4 1953.8,1023.6 1954,1022.2 1954.5,1021.5 1955.3,1021.6 1956,1022.4ZM1953.8,1028.4 1954.4,1029.2 1954.6,1030.3 1953.8,1030.9 1953,1030.3 1952.7,1029.6 1953,1028.9ZM1953.3,1009.6 1952.5,1009.6 1952,1008.5 1952.4,1007.4 1953,1006.4 1954.1,1007 1954.7,1008.4 1953.9,1009.3ZM1953.5,1001.2 1953,1001.1 1952.5,1000.7 1952.7,1000 1953.1,999.4 1953.5,1000.1 1953.8,1000.6ZM1964,1066.8 1964.6,1067.1 1964.8,1067.7 1964.7,1068.3 1964.2,1068.7 1963.4,1068.6 1963.3,1067.9 1963.2,1067.1ZM1961.7,1063.3 1960.8,1062.9 1960.5,1061.8 1960.9,1061.1 1961.7,1061.3 1961.8,1062.3ZM1958,1037.1 1956.2,1036.3 1956.1,1033.9 1957.6,1033 1959.1,1034.5 1959.4,1036.5ZM1961.1,1049.9 1961.7,1052.3 1960.6,1053.5 1959.7,1053.3 1958.3,1052.6 1959,1050.9 1959.6,1049.4ZM1950.8,1005.5 1951,1003.8 1952.4,1004 1953.6,1005.6 1953.5,1007.4 1952.6,1008.3 1951.1,1007.6Z"/>
<path class="c1" d="M2204.9,1011.3 2205.3,1011.9 2205.3,1012.4 2204.9,1013 2203.9,1012.5 2203.9,1011.6 2204.2,1011.1ZM2201.7,1051.4 2201,1053.4 2198.9,1054.3 2197.6,1053.3 2197.4,1051.1 2199,1049.2 2201.2,1049.1ZM2199.7,1022.1 2198.3,1023.2 2196.8,1022.6 2195.7,1022.5 2194.1,1022.6 2193.7,1020.4 2194.6,1018.1 2196.5,1017.5 2198,1019.3 2199.4,1020.3ZM2211.2,1013.2 2211,1014.8 2209.6,1014.2 2208.5,1013.1 2208.5,1011.6 2209.5,1011.1 2210.5,1011.3 2211.6,1012.1ZM2210.1,1032.5 2211.3,1032.9 2212.1,1034.2 2211.9,1035.4 2210.9,1035.3 2210,1033.9ZM2209.5,1013.5 2210.6,1013.9 2211.7,1015 2211,1015.8 2209.9,1014.8ZM2242.7,1147.3 2242.4,1148.7 2242.3,1149.9 2240.8,1150.5 2239.8,1149.2 2238.1,1148.3 2239.4,1147.4 2240.7,1147.4ZM2237.5,1176.9 2238.8,1175.7 2239.9,1174.6 2241.8,1174.3 2242.2,1175.3 2243.3,1176.5 2240.8,1177.3 2239.3,1177.2ZM2242.5,1195.5 2243.7,1194.1 2245.5,1194.7 2246.9,1195.8 2245.1,1197.1 2243.9,1197.9 2241.9,1198.2 2240.8,1196.8ZM2245.5,1169.9 2247.7,1168.8 2247.4,1166.6 2248.7,1166.8 2250.7,1167.1 2249,1168.3 2249.1,1170.4 2248,1171.7 2246.2,1171.7ZM2264.3,1160.2 2264.1,1158 2266.2,1158.1 2267.2,1158.2 2268.7,1159 2268.5,1160.7 2267.3,1161.8 2265.8,1161.2ZM2227.6,1209.2 2226.2,1208.3 2226,1207.1 2226.5,1205.1 2228.4,1205.2 2229.7,1205.6 2228.9,1207.1ZM2222.4,1148.6 2222.2,1146.7 2223.7,1145.7 2225.2,1146.8 2227.3,1148.1 2226.9,1149.4 2224.8,1150.3 2224.4,1148ZM2239.9,1133.5 2238.1,1134.8 2236.7,1135.8 2234.9,1135.9 2233.4,1135.1 2234.9,1133.2 2237,1132.8 2238.5,1132.8ZM2252.5,1193.4 2252.4,1192.4 2253.2,1191.5 2254.1,1191.1 2254.8,1191.3 2255,1192.1 2254.1,1192.9 2253.3,1193.5ZM2247.1,1149.9 2246.7,1150.6 2245.6,1150.3 2245.3,1149.6 2245.6,1149.1 2246.7,1149.1ZM2234.3,1201.4 2235.3,1201.1 2235.8,1201.6 2234.9,1202.4 2233.4,1202.4ZM2253,1164.2 2251.9,1162.4 2251.3,1160.5 2253.5,1160.3 2253.9,1161.5 2255.4,1162.5 2255.2,1164.5ZM2221.8,1146.9 2222.8,1147.2 2222,1148.1 2221.1,1148.5 2220,1148.5 2220.4,1147.4ZM2236.4,1181.3 2236.3,1183.2 2234.7,1184.1 2233.5,1183 2234.9,1182 2234.8,1180.7ZM2242.6,1147.1 2241.9,1146.6 2242.4,1145.7 2244.1,1144.6 2245.4,1145.4 2244.2,1146.8ZM2266.4,1182.5 2266.6,1183.4 2266.6,1184.8 2264.9,1185.1 2263.6,1185.4 2262.8,1184.5 2263.9,1183 2265.5,1182ZM2076.7,1165.5 2076.7,1164.5 2077.4,1164.3 2078.1,1163.9 2078.1,1165 2078,1165.9 2077.4,1166.7 2076.8,1166.4ZM2070.2,1156.4 2070,1157.7 2068.9,1158.2 2068.3,1157.1 2069.1,1155.9ZM2074.4,1149.5 2072.9,1148.5 2072.6,1147.2 2073.2,1145.5 2074.6,1145.5 2076.1,1146.6 2077.3,1148.6 2076.2,1149.5ZM2064.8,1138.5 2066.2,1138.4 2066.8,1139.9 2066.8,1141.1 2066,1141.9 2064.9,1140.9 2064.2,1139.7ZM2078.2,1145.3 2077.5,1144.1 2077,1142.3 2078.2,1141 2079.6,1141.8 2080.3,1143.1 2079.9,1144.3 2079.5,1146.1ZM2068.1,1129.9 2067.5,1130.4 2066.3,1130.4 2065.8,1128.8 2066.4,1127.7 2067.5,1128.2 2068.2,1129ZM2074.5,1123.3 2073.7,1125.6 2072,1125.8 2071.3,1123.9 2071.3,1121.5 2073.1,1120.9 2073.7,1122.3ZM2085.4,1147.6 2084.1,1148.6 2082.4,1148.2 2080.5,1147.2 2080.9,1145.6 2082.5,1145.3 2083.9,1146.2Z"/>
<path class="g" d="M2506.7,1233.9 2506.9,1233 2507.4,1232.2 2508.4,1232.6 2508.6,1233.7 2507.7,1234.2ZM2511.6,1246.7 2510.7,1247 2510.6,1245.8 2510.7,1244.7 2511.7,1244.8 2511.9,1245.9ZM2492.9,1203.2 2494.4,1203.2 2494.7,1204.5 2494.2,1205.4 2493.1,1206 2492.3,1204.9 2491.5,1203.7ZM2504.7,1214 2504.4,1214.8 2503.2,1215.4 2501.5,1214.6 2500.8,1213 2502.7,1212.8 2504.2,1212.8ZM2520,1255.7 2518.6,1255 2518.1,1253.8 2518.8,1252.9 2520,1253.5 2520.8,1254.6ZM2486.7,1209.1 2486.2,1206.6 2487.8,1206.8 2489.2,1208.6 2490.3,1210.8 2489,1211.5 2488,1211.6 2486.9,1210.8ZM2498.7,1210.6 2498.1,1211.2 2497.3,1212 2496.7,1210.7 2496,1209.8 2496.4,1208.5 2497.6,1208.2 2498.8,1209.1ZM2470.1,1193.4 2469.6,1194.3 2469,1195.1 2467.8,1194.6 2467.4,1193.8 2467.1,1192.9 2468.1,1192.8 2469.2,1192.4ZM2518.9,1242.1 2517.7,1242.8 2515.7,1241.8 2515.3,1240 2515.7,1237.7 2516.5,1239.1 2518.7,1240ZM2483.3,1198.9 2481.9,1197.8 2481.6,1196.3 2482.6,1196.1 2484.1,1196.8 2484.7,1198.6ZM2499.2,1213.9 2498,1211.8 2500.4,1211.6 2502.7,1212.1 2502,1214.1 2500.6,1215.4ZM2489.5,1200.2 2488.8,1201.8 2486.7,1201.8 2485.8,1199.9 2486.5,1197.9 2488.7,1198.7ZM2546.8,1264.5 2545.2,1264.8 2544.5,1263.1 2544.2,1261.4 2545.5,1261.6 2547,1262.4ZM2551.2,1280 2550.8,1280.5 2550.3,1281.1 2549.7,1280.3 2549.9,1279.6 2550.1,1279 2550.8,1279.3ZM2549.7,1243.7 2550.8,1242.7 2552.2,1244.3 2551.7,1245.3 2550.6,1245.4ZM2552.2,1296.2 2552.4,1297.3 2551.9,1298 2551.4,1299.1 2550.5,1298.5 2550.5,1297.4 2550.5,1296.1 2551.4,1296.5ZM2558.7,1311.9 2558.2,1313.1 2557.1,1312.1 2556.6,1310.5 2558.3,1310.3ZM2557.9,1294.4 2558.5,1293.8 2559.4,1294 2560.1,1294.8 2560.4,1296.3 2559.6,1297.1 2558.6,1296.3 2558,1295.6ZM2538.3,1230.3 2540,1231.2 2539.9,1233 2539.2,1234.3 2538,1232.7 2537,1230.9ZM2560.5,1288.7 2562,1290.4 2561.5,1291.8 2560.5,1292.4 2559.4,1291.3 2559.5,1290ZM2550.7,1282.2 2550.3,1281.5 2550.7,1280.9 2551.3,1280.9 2551.6,1281.4 2551.4,1281.9ZM2542,1231.4 2541.8,1229.9 2542.8,1229.3 2543.7,1230.7 2544.4,1232 2544.2,1233.6 2542.6,1233.6Z"/>
<path class="c3" d="M1087.6,865.9 1085.8,865.7 1085.7,864.6 1086.6,864 1087.7,864.7ZM1087.8,869.1 1088.9,869.2 1089.3,870.4 1088,870.7 1087.3,869.9ZM1077.6,865.4 1079.3,863.9 1081.4,864.1 1082,865.9 1080.9,866.2 1079.5,866.6ZM1086,862.6 1085.7,864.3 1084.5,865.4 1082.3,865.7 1081.7,863.8 1083.9,862.9ZM1074.6,869.2 1076.2,870 1074.9,871.8 1073.1,871.3 1072.7,869.8ZM1083.4,872.9 1081.9,871.1 1083.6,869.6 1084.6,870 1086.2,869.8 1088.2,870.8 1088,872.3 1086,872.6 1084.8,873Z"/>
<path class="c1" d="M466.5,1140.1 464.8,1140.7 463.5,1139.1 464.1,1138 465.6,1137.9 467.6,1138.9ZM468.2,1138.9 467.7,1140 468.1,1141.6 466.7,1141.2 465.9,1140.1 465.2,1138.9 465.9,1138.3 466.8,1138ZM467.2,1138.5 467.7,1139.3 467.2,1139.5 466.7,1139.7 466.3,1139 465.9,1138.3 466.4,1138.1 466.8,1137.5ZM466.4,1139 465.9,1138.3 465.5,1137.7 465.5,1137 465.9,1136.6 466.7,1136.9 466.8,1137.9 466.8,1138.6ZM457.6,1135.5 457,1134.9 457.2,1134 458.4,1133.6 459.2,1134.4 459.4,1135.3 458.6,1135.9ZM1669.1,469.2 1667.1,469 1666.6,467.7 1667.7,465.8 1669.5,465.4 1670.8,466.4 1670.7,468.1ZM1711.7,453.3 1713.3,453.9 1714.2,455.1 1713.6,456.4 1712,456.6 1710.4,455.9 1710.9,454.5ZM1726,452.3 1727.6,453.3 1726.1,454.5 1724.9,455.8 1723.3,455 1723.2,453.6 1723.4,452.4 1724.6,450.8ZM1681.4,463.1 1682.3,463.6 1681.4,464.3 1680.6,464.8 1680,464.2 1679.6,463.5 1680.3,462.6ZM1745.1,447 1744,447.9 1742.3,447.5 1742.5,445.6 1744.4,445.8ZM2020.6,480.6 2019.1,480.5 2016.8,479.7 2017.2,477.7 2019.1,476.6 2020.8,478.4 2022.1,479.9ZM2069.9,491.9 2069.5,489.8 2070.2,488.3 2072.3,488.8 2074,490.1 2074.6,492 2073,491.4 2072,492.6ZM2012.4,475.9 2013.5,475.2 2015.1,475.7 2016.5,476.5 2016.9,477.8 2015.2,477.8 2013.7,478.4 2012.8,477ZM1957.9,477 1959.1,475.6 1961.1,475.3 1960.7,476.8 1959,478.2ZM2067.2,482.7 2066.6,482.5 2065.7,481.8 2066.4,481.4 2067,481.1 2067.7,481.8 2067.6,482.4ZM2047,482.4 2046.2,482.9 2045.6,482.3 2045.4,481.5 2046.2,481 2046.8,481.7ZM1988.9,483.3 1989.6,484.3 1990.6,485.6 1988.2,486.5 1986.1,486 1986.3,484.1 1987.6,482.6ZM2070.1,486.7 2069.4,487.6 2067.6,487.3 2066.4,486.6 2065.5,485.3 2067.3,484.6 2069.4,484.6 2070.2,485.8ZM1967.8,479.6 1969.1,479.5 1969.8,480.1 1969.6,480.7 1968.7,481.3 1967.9,480.5Z"/>
<path class="c2" d="M1164.1,627.8 1163.3,627.7 1162,627.3 1161.9,625.4 1162.7,624.1 1164,624.4 1165,625.6 1165.2,627.4ZM1157.7,607 1158.3,608.1 1159.2,609.7 1158.4,611.4 1157.3,610.7 1156.6,609.3 1156.5,607.3Z"/>
<path class="c1" d="M726.4,1641.6 724.5,1640.6 724,1639 725.9,1638.8 727.2,1640.6ZM736.5,1643.3 735.3,1644.8 734,1643.4 732.7,1643.1 734.2,1641.6 736.2,1641.2ZM741.9,1644.1 742.8,1644.1 743.6,1644.2 743.6,1644.9 742.9,1645.6 741.7,1646 740.7,1645.7 740.6,1644.6ZM751.2,1646.5 750.8,1648.2 749.2,1649.1 747.3,1648.9 746,1649.2 744.6,1648.3 746,1646.9 748.3,1645.5 750,1646.4ZM704.4,1635.7 703.8,1633.7 705.1,1632.8 706.3,1633.4 707.3,1634.9 706.7,1636.4ZM721.9,1641.1 723.7,1640.9 724.9,1642.1 724.9,1643.1 723.7,1644.1 721.9,1642.8ZM748,1645.4 746.6,1646.2 745.1,1646.4 744,1646.1 744.5,1644.5 745.7,1643 747.8,1644.2ZM728.1,1646.2 726.6,1646.3 724.7,1645.1 726,1644.3 727.9,1645Z"/>
<path class="w" d="M1412.6,715.2 1414.4,715.2 1415.4,714 1416.7,713 1418.2,713.3 1419.5,713.5 1419.8,711.9 1420.2,709.6 1421.4,708.3 1422.9,708.4 1422.8,706.9 1423.7,704.9 1425.1,705 1426.3,704.6 1428.4,704.1 1429.7,704.1 1430,705.7 1432.1,706.9 1433.4,706.7 1434.9,706.7 1437.3,706.8 1438.3,708.5 1440,708.4 1441.1,709.7 1442.7,709.7 1445.1,710.1 1444.3,712 1443.2,712.9 1441.7,714.4 1442.8,715.4 1442.9,717.2 1445.1,717.8 1446.8,719.5 1446.8,722.1 1448.7,721.5 1450.3,722.1 1451.8,721.6 1452.6,720.6 1454.2,721.1 1455.4,720.3 1456.8,719.1 1458.1,718.7 1460.5,718.6 1461.7,719.3 1463.5,718.9 1465.6,717.8 1467.8,717.7 1469.4,717.1 1469.5,718.8 1470.9,719.2 1472.5,720.3 1474.3,721.5 1476.4,721.5 1477.9,723.2 1479.3,723.8 1480.7,724.8 1481.8,725.7 1483.3,725.9 1484.6,725.2 1486.3,726.7 1487.9,727.2 1488.7,728.5 1489.6,729.5 1491.6,729 1494.1,728.6 1494.8,730.2 1496.4,731.5 1498,732.6 1499.5,733.4 1500.4,734.7 1501.5,735.4 1503.2,735.7 1504.6,737.3 1505.8,738.6 1506.6,740.5 1508.4,740 1509,741.3 1509.4,742.5 1510.9,744.3 1510.3,745.8 1508.6,747 1508.4,749.4 1506.4,749.9 1504.9,751.3 1503.5,749.8 1501.6,751.5 1499.8,752.8 1498,754.5 1496.6,754.6 1495.3,754.7 1493.1,754.9 1491.3,753.7 1490.3,754.4 1488.4,754.6 1487.3,753.4 1486.2,752.1 1484,752 1482.7,752.8 1480.4,752.2 1479.8,750.2 1478.4,751 1476.3,750.7 1474.2,749.4 1472.9,750.7 1471.5,751.4 1469.7,751 1468.6,750.3 1467.5,748.4 1465.6,746.8 1463.9,747.5 1462.9,746.7 1461.3,745.6 1458.8,745.6 1457.4,745 1455.5,745.8 1453.2,746.2 1452,746.1 1450.3,746 1448.3,746.8 1446.5,747.1 1444.5,747.4 1443.3,747 1441.7,747.7 1439.4,747.4 1438.3,748.9 1437.4,751.1 1434.9,751.1 1433.3,751.2 1431.8,751 1430.4,752.4 1428.5,752.5 1426.3,752 1425.1,752.2 1424.1,753.7 1423.2,752.3 1421.7,752.6 1422.2,750.4 1421,749 1419.1,747.6 1417.8,749.4 1416.2,750.3 1414.2,750.4 1413.2,749.2 1411.3,749.4 1411.5,747.6 1413.4,746.9 1411.7,746.7 1410.2,747.9 1410.6,749.9 1410.1,751.8 1410.3,749.7 1411.8,750.2 1413.1,749.6 1414.2,749 1415.2,747.8 1413.1,746.4 1411.5,744.8 1410.9,742.6 1411.9,740.8 1410.3,739.8 1408.3,740.2 1407,738.2 1407.8,737.2 1409.2,735.7 1411.5,735.1 1413.3,734 1413.5,731.7 1412.2,730.9 1412.6,728.9 1413.5,726.5 1413.5,724.4 1413,722.1 1414.4,720.3 1414.9,718.4 1414.7,717.1 1413.7,715.9ZM1453.7,708.4 1455.1,708.9 1456.6,707.5 1457.1,705 1459.1,703.7 1460.5,701.7 1462.5,701.9 1463.9,703.2 1465.5,702.1 1467.6,701 1469.1,700.8 1470.8,699.8 1472.7,700 1473.8,698.3 1475,697.9 1476,696.8 1477.6,698.1 1479.5,697.9 1480.9,697.8 1481.9,696.9 1483.6,697.3 1483.6,698.6 1482.8,699.7 1481,701.5 1479.5,701.6 1478.5,702.4 1477.4,703.3 1475.9,705 1476.6,707.1 1477.6,708.4 1476.6,709.3 1475.9,710.4 1475.9,712.6 1473.9,712.8 1472.5,711.8 1470.7,711.9 1469,712.3 1468,712.6 1466.7,713.6 1465.6,715.2 1463.1,714.6 1462.2,715.5 1460.5,716.1 1458.1,715.1 1457.2,713.7 1456.2,712.6 1455.1,710.7 1454.1,709.8Z"/>
<path class="bd" d="M1132.5,876.5 1132.5,890.2 1106.4,891.6 1105,917.8 1095.8,920.1 1095.8,935.2 1065.9,936.2M1132.5,882 1150,901.7 1157.8,989 1107.3,990.4 1102.7,995.9M1061.3,995.9 1079.7,979.8 1102.7,995.9 1107.3,1009.7 1109.6,1025.7M1150,901.7 1229,954.5M1229,955.9 1233.6,984.4 1203.7,995.9 1196.8,1005.1M1247.4,952.2 1295.6,915.5M1295.6,915.5 1281.8,894.8 1277.2,871.9 1279.5,853.5 1274.9,839.7M1295.6,915.5 1314,922.4 1320.9,917.8 1392,949.9 1400.3,946.3 1400.3,929.3 1396.6,842M1400.3,928.4 1495.4,928.4M1320.9,917.8 1327.7,945.4 1325.4,972.9 1314,995.9 1311.7,1005.1M1392,949.9 1394.3,982.1 1382.9,995.9 1380.6,1014.3 1387.5,1030.3 1373.7,1044.1 1350.7,1055.6 1325.4,1062.5M1318.6,1016.5 1314,1037.2 1325.4,1051 1325.4,1062.5 1320.9,1074 1323.1,1096.9 1332.3,1110.7M1387.5,1030.3 1401.2,1048.7 1419.6,1041.8 1442.6,1039.5 1463.2,1030.3 1467.8,1018.8 1472.4,1037.2 1483.9,1018.8 1493.1,1000.5 1497.7,984.4 1502.3,972.9M1497.7,984.4 1513.8,998.2 1529.8,1000.5 1548.2,1021.1M1548.2,1030.3 1559.7,1046.4 1589.6,1057.9 1566.6,1085.4 1539,1096.9 1516.1,1099.2 1497.7,1092.3 1479.3,1087.7M1472.4,1037.2 1474.7,1055.6 1488.5,1074 1479.3,1087.7 1483.9,1110.7 1477,1140.6 1502.3,1161.2 1520.7,1175M1539,1096.9 1534.4,1110.7 1534.4,1142.9 1541.3,1152M1401.2,1048.7 1415,1074 1424.2,1085.4 1451.8,1096.9 1479.3,1087.7M1424.2,1085.4 1401.2,1083.1 1382.9,1087.7 1359.9,1085.4 1350.7,1099.2 1348.4,1119.9 1341.5,1142.9 1332.3,1161.2 1323.1,1175 1304.8,1177.3 1300.2,1179.6M1270.3,1085.4 1274.9,1074M1281.8,1110.7 1309.4,1110.7 1332.3,1110.7M1281.8,1111.6 1293.3,1111.6 1293.3,1122.2 1279.5,1122.2M1309.4,1110.7 1309.4,1124.5 1318.6,1129.1 1314,1147.5 1295.6,1152 1297.9,1163.5 1291,1165.8M1451.8,1096.9 1444.9,1124.5 1442.6,1142.9 1438,1147.5 1442.6,1161.2 1440.3,1170.4 1444.9,1193.4 1458.6,1209.5 1433.4,1211.8 1431.1,1232.4 1440.3,1243.9 1440.3,1255.4 1424.2,1239.3 1405.8,1239.3 1394.3,1232.4 1380.6,1234.7 1378.3,1202.6 1359.9,1198 1357.6,1204.9 1341.5,1204.9 1334.6,1186.5 1304.8,1186.5 1301.1,1179.6M1442.6,1142.9 1477,1140.6M1438,1147.5 1451.8,1149.8 1451.8,1170.4 1440.3,1170.4M1442.6,1161.2 1451.8,1160.3M1295.6,1289.8 1341.5,1293.5 1369.1,1299 1401.2,1294.4 1378.3,1278.4 1378.3,1250.8 1394.3,1250.8 1394.3,1232.4M1440.3,1255.4 1451.8,1262.3 1444.9,1271.5 1435.7,1278.4 1419.6,1294.4 1401.2,1296.7M1458.6,1209.5 1479.3,1220.9 1479.3,1239.3 1467.8,1257.7 1451.8,1262.3M1479.3,1239.3 1506.9,1237 1528.9,1227.8M1479.3,1239.3 1481.6,1239.3 1488.5,1262.3 1483.9,1287.5 1477,1276.1 1472.4,1262.3 1467.8,1257.7M1444.9,1271.5 1463.2,1276.1 1465.5,1303.6 1454.1,1335.8 1454.1,1372.5M1419.6,1294.4 1405.8,1299M1454.1,1335.8 1433.4,1335.8 1419.6,1317.4 1405.8,1299M1369.1,1299 1367.7,1333.5 1362.2,1333.5 1359.9,1363.3 1357.6,1395.5 1341.5,1397.8 1334.6,1390.9M1359.9,1363.3 1369.1,1379.4 1382.9,1367.9 1401.2,1370.2 1415,1351.9 1433.4,1335.8M1412.7,1404.7 1424.2,1395.5 1428.8,1404.7 1419.6,1414.8 1412.7,1404.7M1444.9,1374.8 1451.8,1370.2 1454.1,1379.4 1447.2,1384 1444.9,1374.8M1064.8,1016.8 1079.8,1017.4 1090.2,1022.8 1082.8,1028.8 1072.3,1027.3M1106.7,991.4 1157.5,989.3 1149.1,901.8 1133,889.8M1108.2,1016.8 1118.6,1019.8 1132.1,1021.3 1135.1,1036.3 1156,1033.3 1163.5,1019.8 1169.4,1010.8 1181.4,1001.9 1193.4,994.4 1202.3,992.9 1233.7,991.4 1233.7,957M1202.3,992.9 1211.3,1010.8 1223.2,1018.3 1229.2,1019.8 1232.2,1010.8M1229.2,1019.8 1226.2,1028.8 1211.3,1030.3 1178.4,1030.3 1169.4,1040.7 1156,1033.3M1082.8,1028.8 1093.2,1040.7 1103.7,1039.2 1115.6,1055.7 1123.1,1063.2 1126.1,1052.7 1135.1,1036.3M1093.2,1040.7 1096.2,1052.7 1108.2,1063.2 1115.6,1055.7M1108.2,1063.2 1123.1,1063.2 1132.1,1072.1 1139.6,1085.6 1139.6,1090.1M1135.1,1036.3 1133.6,1049.7 1132.1,1072.1M1178.4,1030.3 1175.4,1052.7 1178.4,1073.6 1175.4,1084.1M1202.9,1030.3 1205.3,1052.7 1211.3,1073.6 1214.3,1075.1M1208.9,1030.3 1214.3,1052.7 1215.8,1075.1M1609.2,717.9 1626.3,712.5 1636.6,717.9 1646.8,723.1 1657.1,731.6 1667.4,729.9 1677.6,729.1 1686.2,735 1691.3,741.9 1696.4,748.7 1703.2,752.1 1710.1,753.8 1713.5,757.3 1720.3,748.7 1728.9,741.9 1737.4,738.5 1746,735 1756.2,736.8 1766.5,735.9 1778.5,736.8 1788.7,739.3 1795.6,741.9M1609.2,717.9 1617.8,751.3 1624.6,751.3 1625.5,745.3 1633.2,739.3 1640,741.9 1646.8,745.3 1648.5,750.4 1658.8,752.1 1665.6,759 1672.5,764.1 1682.7,770.9 1693,776.1 1701.5,779.5 1705,786.3M1592.1,745.3 1600.7,741.9 1610.9,747 1617.8,751.3M1713.5,757.3 1716.9,762.4 1710.1,767.5 1716.9,770.9 1720.3,777.8 1716.9,784.6 1716.9,790.6M1720.3,748.7 1727.2,750.4 1734,748.7 1740.9,753.8 1747.7,755.6 1740.9,759 1734,760.7 1727.2,759 1722.1,764.1 1728.9,766.7 1737.4,765.8 1747.7,769.2 1756.2,768.4"/>
<path class="ldw" d="M1088,744 Q1180,693 1272,718"/>
<path class="ld" d="M1088,744 Q1180,693 1272,718"/>
<path class="ldw" d="M1649,855 Q1735,960 1710,1131"/>
<path class="ld" d="M1649,855 Q1735,960 1710,1131"/>
<path class="ldw" d="M2277,803 Q2315,818 2365,796"/>
<path class="ld" d="M2277,803 Q2315,818 2365,796"/>
<path class="ldw" d="M2176,812 Q2178,921 2322,1046"/>
<path class="ld" d="M2176,812 Q2178,921 2322,1046"/>
<text x="919.5" y="781">Italy</text>
<text x="1648" y="1211.5">Iran</text>
<text x="2330.5" y="769.5">Japan</text>
<text x="2329" y="1032.5">South</text>
<text x="2329" y="1109.5">Korea</text>
<text class="cn" x="1877.5" y="824.5" style="font-size:71.5px">China</text>
</svg>
</body>
</html>
